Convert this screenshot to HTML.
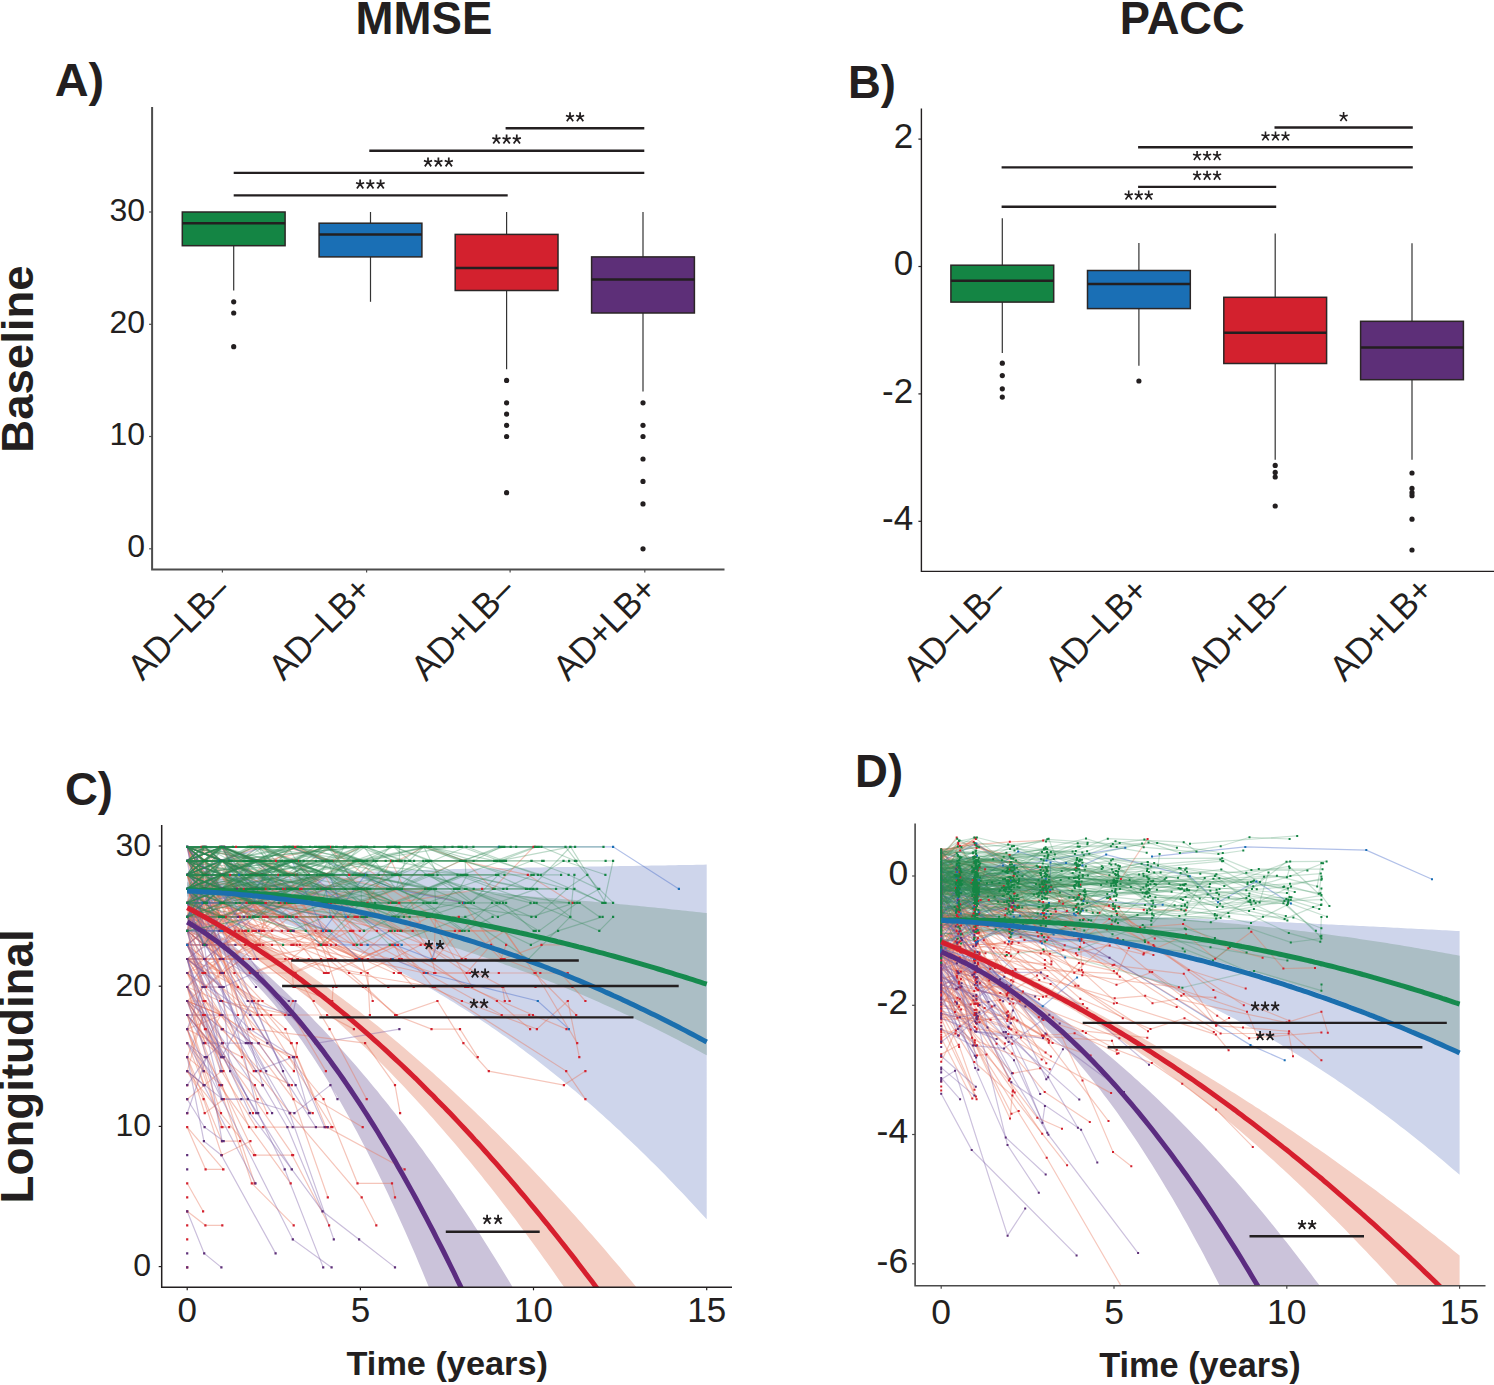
<!DOCTYPE html>
<html><head><meta charset="utf-8"><style>
html,body{margin:0;padding:0;background:#fff;overflow:hidden;}
svg{display:block;font-family:"Liberation Sans", sans-serif;}
</style></head><body>
<svg width="1494" height="1385" viewBox="0 0 1494 1385">
<defs>
<clipPath id="clipC"><rect x="162" y="800" width="570" height="487"/></clipPath>
<clipPath id="clipD"><rect x="916" y="800" width="569" height="485"/></clipPath>
</defs>
<rect width="1494" height="1385" fill="#ffffff"/>
<line x1="233.7" y1="212.0" x2="233.7" y2="212.0" stroke="#333" stroke-width="1.2"/><line x1="233.7" y1="245.7" x2="233.7" y2="290.6" stroke="#333" stroke-width="1.2"/><rect x="182.3" y="212.0" width="102.8" height="33.7" fill="#148544" stroke="#2b2626" stroke-width="1.5"/><line x1="182.3" y1="223.2" x2="285.1" y2="223.2" stroke="#231f20" stroke-width="2.5"/><circle cx="233.7" cy="301.8" r="2.6" fill="#231f20"/><circle cx="233.7" cy="313.0" r="2.6" fill="#231f20"/><circle cx="233.7" cy="346.7" r="2.6" fill="#231f20"/><line x1="370.5" y1="212.0" x2="370.5" y2="223.2" stroke="#333" stroke-width="1.2"/><line x1="370.5" y1="256.9" x2="370.5" y2="301.8" stroke="#333" stroke-width="1.2"/><rect x="319.1" y="223.2" width="102.8" height="33.7" fill="#1a6fb5" stroke="#2b2626" stroke-width="1.5"/><line x1="319.1" y1="234.4" x2="421.9" y2="234.4" stroke="#231f20" stroke-width="2.5"/><line x1="506.6" y1="212.0" x2="506.6" y2="234.4" stroke="#333" stroke-width="1.2"/><line x1="506.6" y1="290.6" x2="506.6" y2="369.2" stroke="#333" stroke-width="1.2"/><rect x="455.2" y="234.4" width="102.8" height="56.1" fill="#d3212e" stroke="#2b2626" stroke-width="1.5"/><line x1="455.2" y1="268.1" x2="558.0" y2="268.1" stroke="#231f20" stroke-width="2.5"/><circle cx="506.6" cy="380.4" r="2.6" fill="#231f20"/><circle cx="506.6" cy="402.8" r="2.6" fill="#231f20"/><circle cx="506.6" cy="414.1" r="2.6" fill="#231f20"/><circle cx="506.6" cy="425.3" r="2.6" fill="#231f20"/><circle cx="506.6" cy="436.5" r="2.6" fill="#231f20"/><circle cx="506.6" cy="492.7" r="2.6" fill="#231f20"/><line x1="643.0" y1="212.0" x2="643.0" y2="256.9" stroke="#333" stroke-width="1.2"/><line x1="643.0" y1="313.0" x2="643.0" y2="391.6" stroke="#333" stroke-width="1.2"/><rect x="591.6" y="256.9" width="102.8" height="56.1" fill="#5d2f78" stroke="#2b2626" stroke-width="1.5"/><line x1="591.6" y1="279.4" x2="694.4" y2="279.4" stroke="#231f20" stroke-width="2.5"/><circle cx="643.0" cy="402.8" r="2.6" fill="#231f20"/><circle cx="643.0" cy="425.3" r="2.6" fill="#231f20"/><circle cx="643.0" cy="436.5" r="2.6" fill="#231f20"/><circle cx="643.0" cy="459.0" r="2.6" fill="#231f20"/><circle cx="643.0" cy="481.4" r="2.6" fill="#231f20"/><circle cx="643.0" cy="503.9" r="2.6" fill="#231f20"/><circle cx="643.0" cy="548.8" r="2.6" fill="#231f20"/><line x1="505.6" y1="128.3" x2="644.3" y2="128.3" stroke="#231f20" stroke-width="2.4"/><line x1="369.3" y1="150.7" x2="644.3" y2="150.7" stroke="#231f20" stroke-width="2.4"/><line x1="233.7" y1="172.9" x2="644.3" y2="172.9" stroke="#231f20" stroke-width="2.4"/><line x1="233.7" y1="195.4" x2="507.7" y2="195.4" stroke="#231f20" stroke-width="2.4"/><line x1="1002.3" y1="218.3" x2="1002.3" y2="265.2" stroke="#333" stroke-width="1.2"/><line x1="1002.3" y1="302.1" x2="1002.3" y2="353.1" stroke="#333" stroke-width="1.2"/><rect x="950.9" y="265.2" width="102.8" height="36.9" fill="#148544" stroke="#2b2626" stroke-width="1.5"/><line x1="950.9" y1="280.8" x2="1053.7" y2="280.8" stroke="#231f20" stroke-width="2.5"/><circle cx="1002.3" cy="363.2" r="2.6" fill="#231f20"/><circle cx="1002.3" cy="375.6" r="2.6" fill="#231f20"/><circle cx="1002.3" cy="388.8" r="2.6" fill="#231f20"/><circle cx="1002.3" cy="397.1" r="2.6" fill="#231f20"/><line x1="1138.9" y1="243.1" x2="1138.9" y2="270.5" stroke="#333" stroke-width="1.2"/><line x1="1138.9" y1="308.6" x2="1138.9" y2="365.8" stroke="#333" stroke-width="1.2"/><rect x="1087.5" y="270.5" width="102.8" height="38.1" fill="#1a6fb5" stroke="#2b2626" stroke-width="1.5"/><line x1="1087.5" y1="283.9" x2="1190.3" y2="283.9" stroke="#231f20" stroke-width="2.5"/><circle cx="1138.9" cy="381.0" r="2.6" fill="#231f20"/><line x1="1275.2" y1="233.5" x2="1275.2" y2="297.3" stroke="#333" stroke-width="1.2"/><line x1="1275.2" y1="363.5" x2="1275.2" y2="459.8" stroke="#333" stroke-width="1.2"/><rect x="1223.8" y="297.3" width="102.8" height="66.2" fill="#d3212e" stroke="#2b2626" stroke-width="1.5"/><line x1="1223.8" y1="332.7" x2="1326.6" y2="332.7" stroke="#231f20" stroke-width="2.5"/><circle cx="1275.2" cy="465.4" r="2.6" fill="#231f20"/><circle cx="1275.2" cy="472.4" r="2.6" fill="#231f20"/><circle cx="1275.2" cy="477.0" r="2.6" fill="#231f20"/><circle cx="1275.2" cy="506.0" r="2.6" fill="#231f20"/><line x1="1412.0" y1="243.2" x2="1412.0" y2="321.3" stroke="#333" stroke-width="1.2"/><line x1="1412.0" y1="379.7" x2="1412.0" y2="459.8" stroke="#333" stroke-width="1.2"/><rect x="1360.6" y="321.3" width="102.8" height="58.4" fill="#5d2f78" stroke="#2b2626" stroke-width="1.5"/><line x1="1360.6" y1="347.6" x2="1463.4" y2="347.6" stroke="#231f20" stroke-width="2.5"/><circle cx="1412.0" cy="473.0" r="2.6" fill="#231f20"/><circle cx="1412.0" cy="488.4" r="2.6" fill="#231f20"/><circle cx="1412.0" cy="492.7" r="2.6" fill="#231f20"/><circle cx="1412.0" cy="495.7" r="2.6" fill="#231f20"/><circle cx="1412.0" cy="519.2" r="2.6" fill="#231f20"/><circle cx="1412.0" cy="550.0" r="2.6" fill="#231f20"/><line x1="1274.5" y1="127.5" x2="1412.8" y2="127.5" stroke="#231f20" stroke-width="2.4"/><line x1="1138.1" y1="147.3" x2="1412.8" y2="147.3" stroke="#231f20" stroke-width="2.4"/><line x1="1001.6" y1="167.4" x2="1412.8" y2="167.4" stroke="#231f20" stroke-width="2.4"/><line x1="1138.1" y1="186.9" x2="1276.2" y2="186.9" stroke="#231f20" stroke-width="2.4"/><line x1="1001.6" y1="206.8" x2="1276.2" y2="206.8" stroke="#231f20" stroke-width="2.4"/>
<path d="M187.2 878.0 L190.7 878.2 L194.1 878.3 L197.6 878.3 L201.1 878.4 L204.5 878.4 L208.0 878.4 L211.4 878.4 L214.9 878.3 L218.4 878.3 L221.8 878.2 L225.3 878.1 L228.8 878.0 L232.2 877.9 L235.7 877.8 L239.1 877.6 L242.6 877.5 L246.1 877.3 L249.5 877.2 L253.0 877.0 L256.5 876.8 L259.9 876.7 L263.4 876.5 L266.8 876.3 L270.3 876.1 L273.8 875.9 L277.2 875.8 L280.7 875.6 L284.2 875.4 L287.6 875.2 L291.1 875.0 L294.6 874.9 L298.0 874.7 L301.5 874.5 L304.9 874.3 L308.4 874.2 L311.9 874.0 L315.3 873.8 L318.8 873.7 L322.3 873.5 L325.7 873.3 L329.2 873.2 L332.6 873.0 L336.1 872.9 L339.6 872.7 L343.0 872.6 L346.5 872.4 L350.0 872.3 L353.4 872.2 L356.9 872.0 L360.4 871.9 L363.8 871.8 L367.3 871.6 L370.7 871.5 L374.2 871.4 L377.7 871.3 L381.1 871.1 L384.6 871.0 L388.1 870.9 L391.5 870.8 L395.0 870.7 L398.4 870.6 L401.9 870.5 L405.4 870.4 L408.8 870.3 L412.3 870.2 L415.8 870.1 L419.2 870.0 L422.7 869.9 L426.1 869.8 L429.6 869.7 L433.1 869.6 L436.5 869.5 L440.0 869.4 L443.5 869.3 L446.9 869.2 L450.4 869.2 L453.9 869.1 L457.3 869.0 L460.8 868.9 L464.2 868.8 L467.7 868.8 L471.2 868.7 L474.6 868.6 L478.1 868.6 L481.6 868.5 L485.0 868.4 L488.5 868.3 L491.9 868.3 L495.4 868.2 L498.9 868.1 L502.3 868.1 L505.8 868.0 L509.3 867.9 L512.7 867.9 L516.2 867.8 L519.6 867.8 L523.1 867.7 L526.6 867.6 L530.0 867.6 L533.5 867.5 L537.0 867.5 L540.4 867.4 L543.9 867.3 L547.4 867.3 L550.8 867.2 L554.3 867.2 L557.7 867.1 L561.2 867.1 L564.7 867.0 L568.1 866.9 L571.6 866.9 L575.1 866.8 L578.5 866.8 L582.0 866.7 L585.4 866.7 L588.9 866.6 L592.4 866.6 L595.8 866.5 L599.3 866.4 L602.8 866.4 L606.2 866.3 L609.7 866.3 L613.1 866.2 L616.6 866.2 L620.1 866.1 L623.5 866.1 L627.0 866.0 L630.5 865.9 L633.9 865.9 L637.4 865.8 L640.9 865.8 L644.3 865.7 L647.8 865.7 L651.2 865.6 L654.7 865.5 L658.2 865.5 L661.6 865.4 L665.1 865.4 L668.6 865.3 L672.0 865.2 L675.5 865.2 L678.9 865.1 L682.4 865.1 L685.9 865.0 L689.3 864.9 L692.8 864.9 L696.3 864.8 L699.7 864.8 L703.2 864.7 L706.7 864.6 L706.7 1219.3 L703.2 1215.5 L699.7 1211.7 L696.3 1207.9 L692.8 1204.2 L689.3 1200.5 L685.9 1196.8 L682.4 1193.1 L678.9 1189.5 L675.5 1185.9 L672.0 1182.3 L668.6 1178.7 L665.1 1175.1 L661.6 1171.6 L658.2 1168.1 L654.7 1164.6 L651.2 1161.2 L647.8 1157.7 L644.3 1154.3 L640.9 1151.0 L637.4 1147.6 L633.9 1144.3 L630.5 1140.9 L627.0 1137.7 L623.5 1134.4 L620.1 1131.1 L616.6 1127.9 L613.1 1124.7 L609.7 1121.6 L606.2 1118.4 L602.8 1115.3 L599.3 1112.2 L595.8 1109.1 L592.4 1106.0 L588.9 1103.0 L585.4 1100.0 L582.0 1097.0 L578.5 1094.0 L575.1 1091.1 L571.6 1088.2 L568.1 1085.3 L564.7 1082.4 L561.2 1079.6 L557.7 1076.8 L554.3 1074.0 L550.8 1071.2 L547.4 1068.4 L543.9 1065.7 L540.4 1063.0 L537.0 1060.3 L533.5 1057.6 L530.0 1055.0 L526.6 1052.4 L523.1 1049.8 L519.6 1047.2 L516.2 1044.6 L512.7 1042.1 L509.3 1039.6 L505.8 1037.1 L502.3 1034.7 L498.9 1032.2 L495.4 1029.8 L491.9 1027.4 L488.5 1025.0 L485.0 1022.7 L481.6 1020.4 L478.1 1018.1 L474.6 1015.8 L471.2 1013.5 L467.7 1011.3 L464.2 1009.1 L460.8 1006.9 L457.3 1004.7 L453.9 1002.6 L450.4 1000.4 L446.9 998.3 L443.5 996.2 L440.0 994.2 L436.5 992.1 L433.1 990.1 L429.6 988.1 L426.1 986.1 L422.7 984.2 L419.2 982.3 L415.8 980.3 L412.3 978.5 L408.8 976.6 L405.4 974.7 L401.9 972.9 L398.4 971.1 L395.0 969.3 L391.5 967.6 L388.1 965.8 L384.6 964.1 L381.1 962.4 L377.7 960.7 L374.2 959.1 L370.7 957.4 L367.3 955.8 L363.8 954.2 L360.4 952.6 L356.9 951.1 L353.4 949.6 L350.0 948.0 L346.5 946.6 L343.0 945.1 L339.6 943.6 L336.1 942.2 L332.6 940.8 L329.2 939.4 L325.7 938.0 L322.3 936.7 L318.8 935.4 L315.3 934.1 L311.9 932.8 L308.4 931.5 L304.9 930.3 L301.5 929.1 L298.0 927.9 L294.6 926.7 L291.1 925.5 L287.6 924.4 L284.2 923.3 L280.7 922.2 L277.2 921.1 L273.8 920.1 L270.3 919.1 L266.8 918.1 L263.4 917.1 L259.9 916.2 L256.5 915.3 L253.0 914.4 L249.5 913.5 L246.1 912.7 L242.6 911.9 L239.1 911.1 L235.7 910.4 L232.2 909.6 L228.8 909.0 L225.3 908.3 L221.8 907.7 L218.4 907.2 L214.9 906.6 L211.4 906.2 L208.0 905.7 L204.5 905.3 L201.1 905.0 L197.6 904.7 L194.1 904.4 L190.7 904.2 L187.2 904.1Z" fill="#ced5eb" clip-path="url(#clipC)"/><path d="M187.2 882.3 L190.7 882.4 L194.1 882.5 L197.6 882.7 L201.1 882.8 L204.5 882.9 L208.0 883.0 L211.4 883.1 L214.9 883.2 L218.4 883.2 L221.8 883.3 L225.3 883.4 L228.8 883.5 L232.2 883.6 L235.7 883.6 L239.1 883.7 L242.6 883.8 L246.1 883.8 L249.5 883.9 L253.0 883.9 L256.5 884.0 L259.9 884.1 L263.4 884.1 L266.8 884.2 L270.3 884.3 L273.8 884.3 L277.2 884.4 L280.7 884.5 L284.2 884.5 L287.6 884.6 L291.1 884.7 L294.6 884.7 L298.0 884.8 L301.5 884.9 L304.9 885.0 L308.4 885.1 L311.9 885.1 L315.3 885.2 L318.8 885.3 L322.3 885.4 L325.7 885.5 L329.2 885.6 L332.6 885.7 L336.1 885.8 L339.6 885.9 L343.0 886.0 L346.5 886.2 L350.0 886.3 L353.4 886.4 L356.9 886.5 L360.4 886.6 L363.8 886.8 L367.3 886.9 L370.7 887.0 L374.2 887.2 L377.7 887.3 L381.1 887.5 L384.6 887.6 L388.1 887.8 L391.5 887.9 L395.0 888.1 L398.4 888.2 L401.9 888.4 L405.4 888.5 L408.8 888.7 L412.3 888.9 L415.8 889.1 L419.2 889.2 L422.7 889.4 L426.1 889.6 L429.6 889.8 L433.1 890.0 L436.5 890.2 L440.0 890.4 L443.5 890.6 L446.9 890.8 L450.4 891.0 L453.9 891.2 L457.3 891.4 L460.8 891.6 L464.2 891.8 L467.7 892.0 L471.2 892.2 L474.6 892.5 L478.1 892.7 L481.6 892.9 L485.0 893.2 L488.5 893.4 L491.9 893.6 L495.4 893.9 L498.9 894.1 L502.3 894.3 L505.8 894.6 L509.3 894.8 L512.7 895.1 L516.2 895.4 L519.6 895.6 L523.1 895.9 L526.6 896.1 L530.0 896.4 L533.5 896.7 L537.0 896.9 L540.4 897.2 L543.9 897.5 L547.4 897.8 L550.8 898.0 L554.3 898.3 L557.7 898.6 L561.2 898.9 L564.7 899.2 L568.1 899.5 L571.6 899.8 L575.1 900.1 L578.5 900.4 L582.0 900.7 L585.4 901.0 L588.9 901.3 L592.4 901.6 L595.8 901.9 L599.3 902.2 L602.8 902.5 L606.2 902.9 L609.7 903.2 L613.1 903.5 L616.6 903.8 L620.1 904.2 L623.5 904.5 L627.0 904.8 L630.5 905.2 L633.9 905.5 L637.4 905.8 L640.9 906.2 L644.3 906.5 L647.8 906.9 L651.2 907.2 L654.7 907.6 L658.2 907.9 L661.6 908.3 L665.1 908.6 L668.6 909.0 L672.0 909.4 L675.5 909.7 L678.9 910.1 L682.4 910.5 L685.9 910.8 L689.3 911.2 L692.8 911.6 L696.3 911.9 L699.7 912.3 L703.2 912.7 L706.7 913.1 L706.7 1055.3 L703.2 1053.4 L699.7 1051.5 L696.3 1049.7 L692.8 1047.8 L689.3 1046.0 L685.9 1044.2 L682.4 1042.4 L678.9 1040.6 L675.5 1038.8 L672.0 1037.0 L668.6 1035.3 L665.1 1033.5 L661.6 1031.8 L658.2 1030.0 L654.7 1028.3 L651.2 1026.6 L647.8 1024.9 L644.3 1023.2 L640.9 1021.6 L637.4 1019.9 L633.9 1018.3 L630.5 1016.6 L627.0 1015.0 L623.5 1013.4 L620.1 1011.8 L616.6 1010.2 L613.1 1008.6 L609.7 1007.0 L606.2 1005.4 L602.8 1003.9 L599.3 1002.3 L595.8 1000.8 L592.4 999.3 L588.9 997.8 L585.4 996.3 L582.0 994.8 L578.5 993.3 L575.1 991.9 L571.6 990.4 L568.1 989.0 L564.7 987.5 L561.2 986.1 L557.7 984.7 L554.3 983.3 L550.8 981.9 L547.4 980.6 L543.9 979.2 L540.4 977.8 L537.0 976.5 L533.5 975.2 L530.0 973.8 L526.6 972.5 L523.1 971.2 L519.6 969.9 L516.2 968.6 L512.7 967.4 L509.3 966.1 L505.8 964.9 L502.3 963.6 L498.9 962.4 L495.4 961.2 L491.9 960.0 L488.5 958.8 L485.0 957.6 L481.6 956.4 L478.1 955.3 L474.6 954.1 L471.2 953.0 L467.7 951.9 L464.2 950.7 L460.8 949.6 L457.3 948.5 L453.9 947.5 L450.4 946.4 L446.9 945.3 L443.5 944.3 L440.0 943.2 L436.5 942.2 L433.1 941.1 L429.6 940.1 L426.1 939.1 L422.7 938.1 L419.2 937.2 L415.8 936.2 L412.3 935.2 L408.8 934.3 L405.4 933.3 L401.9 932.4 L398.4 931.5 L395.0 930.6 L391.5 929.7 L388.1 928.8 L384.6 927.9 L381.1 927.0 L377.7 926.2 L374.2 925.3 L370.7 924.5 L367.3 923.6 L363.8 922.8 L360.4 922.0 L356.9 921.2 L353.4 920.4 L350.0 919.7 L346.5 918.9 L343.0 918.1 L339.6 917.4 L336.1 916.7 L332.6 915.9 L329.2 915.2 L325.7 914.5 L322.3 913.8 L318.8 913.1 L315.3 912.5 L311.9 911.8 L308.4 911.2 L304.9 910.5 L301.5 909.9 L298.0 909.3 L294.6 908.7 L291.1 908.1 L287.6 907.5 L284.2 906.9 L280.7 906.3 L277.2 905.8 L273.8 905.3 L270.3 904.7 L266.8 904.2 L263.4 903.7 L259.9 903.2 L256.5 902.8 L253.0 902.3 L249.5 901.9 L246.1 901.4 L242.6 901.0 L239.1 900.6 L235.7 900.2 L232.2 899.8 L228.8 899.5 L225.3 899.1 L221.8 898.8 L218.4 898.5 L214.9 898.2 L211.4 898.0 L208.0 897.7 L204.5 897.5 L201.1 897.2 L197.6 897.0 L194.1 896.9 L190.7 896.7 L187.2 896.6Z" fill="#abbec5" clip-path="url(#clipC)"/><path d="M187.2 900.7 L190.7 902.5 L194.1 904.4 L197.6 906.2 L201.1 908.1 L204.5 909.9 L208.0 911.8 L211.4 913.7 L214.9 915.7 L218.4 917.6 L221.8 919.5 L225.3 921.5 L228.8 923.5 L232.2 925.5 L235.7 927.5 L239.1 929.6 L242.6 931.6 L246.1 933.7 L249.5 935.8 L253.0 937.9 L256.5 940.0 L259.9 942.2 L263.4 944.3 L266.8 946.5 L270.3 948.7 L273.8 950.9 L277.2 953.1 L280.7 955.4 L284.2 957.6 L287.6 959.9 L291.1 962.2 L294.6 964.6 L298.0 966.9 L301.5 969.3 L304.9 971.6 L308.4 974.0 L311.9 976.5 L315.3 978.9 L318.8 981.4 L322.3 983.8 L325.7 986.3 L329.2 988.8 L332.6 991.4 L336.1 993.9 L339.6 996.5 L343.0 999.1 L346.5 1001.7 L350.0 1004.3 L353.4 1007.0 L356.9 1009.6 L360.4 1012.3 L363.8 1015.0 L367.3 1017.7 L370.7 1020.5 L374.2 1023.2 L377.7 1026.0 L381.1 1028.8 L384.6 1031.6 L388.1 1034.5 L391.5 1037.3 L395.0 1040.2 L398.4 1043.1 L401.9 1046.0 L405.4 1048.9 L408.8 1051.9 L412.3 1054.9 L415.8 1057.9 L419.2 1060.9 L422.7 1063.9 L426.1 1066.9 L429.6 1070.0 L433.1 1073.1 L436.5 1076.2 L440.0 1079.3 L443.5 1082.5 L446.9 1085.6 L450.4 1088.8 L453.9 1092.0 L457.3 1095.2 L460.8 1098.4 L464.2 1101.7 L467.7 1105.0 L471.2 1108.3 L474.6 1111.6 L478.1 1114.9 L481.6 1118.3 L485.0 1121.6 L488.5 1125.0 L491.9 1128.4 L495.4 1131.8 L498.9 1135.3 L502.3 1138.7 L505.8 1142.2 L509.3 1145.7 L512.7 1149.2 L516.2 1152.8 L519.6 1156.3 L523.1 1159.9 L526.6 1163.5 L530.0 1167.1 L533.5 1170.8 L537.0 1174.4 L540.4 1178.1 L543.9 1181.8 L547.4 1185.5 L550.8 1189.2 L554.3 1192.9 L557.7 1196.7 L561.2 1200.5 L564.7 1204.3 L568.1 1208.1 L571.6 1211.9 L575.1 1215.8 L578.5 1219.7 L582.0 1223.6 L585.4 1227.5 L588.9 1231.4 L592.4 1235.3 L595.8 1239.3 L599.3 1243.3 L602.8 1247.3 L606.2 1251.3 L609.7 1255.4 L613.1 1259.4 L616.6 1263.5 L620.1 1267.6 L623.5 1271.7 L627.0 1275.9 L630.5 1280.0 L633.9 1284.2 L637.4 1288.4 L640.9 1292.6 L644.3 1296.8 L647.8 1301.1 L651.2 1305.3 L654.7 1309.6 L658.2 1313.9 L661.6 1318.3 L665.1 1322.6 L668.6 1327.0 L672.0 1331.3 L675.5 1335.7 L678.9 1340.1 L682.4 1344.6 L685.9 1349.0 L689.3 1353.5 L692.8 1358.0 L696.3 1362.5 L699.7 1367.0 L703.2 1371.6 L706.7 1376.1 L706.7 1517.7 L703.2 1511.5 L699.7 1505.3 L696.3 1499.2 L692.8 1493.1 L689.3 1487.0 L685.9 1481.0 L682.4 1474.9 L678.9 1469.0 L675.5 1463.0 L672.0 1457.1 L668.6 1451.2 L665.1 1445.3 L661.6 1439.5 L658.2 1433.7 L654.7 1427.9 L651.2 1422.1 L647.8 1416.4 L644.3 1410.7 L640.9 1405.1 L637.4 1399.4 L633.9 1393.8 L630.5 1388.3 L627.0 1382.7 L623.5 1377.2 L620.1 1371.7 L616.6 1366.2 L613.1 1360.8 L609.7 1355.4 L606.2 1350.0 L602.8 1344.7 L599.3 1339.4 L595.8 1334.1 L592.4 1328.9 L588.9 1323.6 L585.4 1318.4 L582.0 1313.3 L578.5 1308.1 L575.1 1303.0 L571.6 1297.9 L568.1 1292.9 L564.7 1287.9 L561.2 1282.9 L557.7 1277.9 L554.3 1273.0 L550.8 1268.1 L547.4 1263.2 L543.9 1258.4 L540.4 1253.5 L537.0 1248.7 L533.5 1244.0 L530.0 1239.3 L526.6 1234.6 L523.1 1229.9 L519.6 1225.2 L516.2 1220.6 L512.7 1216.0 L509.3 1211.5 L505.8 1207.0 L502.3 1202.5 L498.9 1198.0 L495.4 1193.6 L491.9 1189.1 L488.5 1184.8 L485.0 1180.4 L481.6 1176.1 L478.1 1171.8 L474.6 1167.5 L471.2 1163.3 L467.7 1159.1 L464.2 1154.9 L460.8 1150.7 L457.3 1146.6 L453.9 1142.5 L450.4 1138.5 L446.9 1134.4 L443.5 1130.4 L440.0 1126.5 L436.5 1122.5 L433.1 1118.6 L429.6 1114.7 L426.1 1110.8 L422.7 1107.0 L419.2 1103.2 L415.8 1099.4 L412.3 1095.7 L408.8 1092.0 L405.4 1088.3 L401.9 1084.6 L398.4 1081.0 L395.0 1077.4 L391.5 1073.8 L388.1 1070.3 L384.6 1066.7 L381.1 1063.3 L377.7 1059.8 L374.2 1056.4 L370.7 1053.0 L367.3 1049.6 L363.8 1046.3 L360.4 1042.9 L356.9 1039.7 L353.4 1036.4 L350.0 1033.2 L346.5 1030.0 L343.0 1026.8 L339.6 1023.7 L336.1 1020.5 L332.6 1017.5 L329.2 1014.4 L325.7 1011.4 L322.3 1008.4 L318.8 1005.4 L315.3 1002.5 L311.9 999.6 L308.4 996.7 L304.9 993.8 L301.5 991.0 L298.0 988.2 L294.6 985.4 L291.1 982.7 L287.6 980.0 L284.2 977.3 L280.7 974.7 L277.2 972.0 L273.8 969.5 L270.3 966.9 L266.8 964.4 L263.4 961.9 L259.9 959.4 L256.5 956.9 L253.0 954.5 L249.5 952.2 L246.1 949.8 L242.6 947.5 L239.1 945.2 L235.7 942.9 L232.2 940.7 L228.8 938.5 L225.3 936.3 L221.8 934.2 L218.4 932.1 L214.9 930.0 L211.4 928.0 L208.0 926.0 L204.5 924.0 L201.1 922.1 L197.6 920.1 L194.1 918.3 L190.7 916.4 L187.2 914.6Z" fill="#f4cfc4" clip-path="url(#clipC)"/><path d="M187.2 913.7 L190.7 915.7 L194.1 917.8 L197.6 920.0 L201.1 922.2 L204.5 924.5 L208.0 926.8 L211.4 929.2 L214.9 931.7 L218.4 934.2 L221.8 936.8 L225.3 939.4 L228.8 942.1 L232.2 944.9 L235.7 947.6 L239.1 950.5 L242.6 953.3 L246.1 956.3 L249.5 959.2 L253.0 962.2 L256.5 965.2 L259.9 968.3 L263.4 971.4 L266.8 974.5 L270.3 977.6 L273.8 980.8 L277.2 984.0 L280.7 987.3 L284.2 990.5 L287.6 993.8 L291.1 997.2 L294.6 1000.5 L298.0 1003.9 L301.5 1007.3 L304.9 1010.8 L308.4 1014.3 L311.9 1017.8 L315.3 1021.4 L318.8 1024.9 L322.3 1028.6 L325.7 1032.2 L329.2 1035.9 L332.6 1039.7 L336.1 1043.4 L339.6 1047.2 L343.0 1051.1 L346.5 1055.0 L350.0 1058.9 L353.4 1062.8 L356.9 1066.8 L360.4 1070.9 L363.8 1074.9 L367.3 1079.1 L370.7 1083.2 L374.2 1087.4 L377.7 1091.6 L381.1 1095.9 L384.6 1100.2 L388.1 1104.5 L391.5 1108.9 L395.0 1113.3 L398.4 1117.8 L401.9 1122.3 L405.4 1126.8 L408.8 1131.4 L412.3 1136.0 L415.8 1140.7 L419.2 1145.4 L422.7 1150.1 L426.1 1154.9 L429.6 1159.7 L433.1 1164.6 L436.5 1169.5 L440.0 1174.4 L443.5 1179.4 L446.9 1184.4 L450.4 1189.4 L453.9 1194.5 L457.3 1199.7 L460.8 1204.9 L464.2 1210.1 L467.7 1215.3 L471.2 1220.6 L474.6 1226.0 L478.1 1231.3 L481.6 1236.8 L485.0 1242.2 L488.5 1247.7 L491.9 1253.3 L495.4 1258.8 L498.9 1264.5 L502.3 1270.1 L505.8 1275.8 L509.3 1281.6 L512.7 1287.3 L516.2 1293.2 L519.6 1299.0 L523.1 1304.9 L526.6 1310.9 L530.0 1316.9 L533.5 1322.9 L537.0 1328.9 L540.4 1335.0 L543.9 1341.2 L547.4 1347.4 L550.8 1353.6 L554.3 1359.9 L557.7 1366.2 L561.2 1372.5 L564.7 1378.9 L568.1 1385.3 L571.6 1391.8 L575.1 1398.3 L578.5 1404.8 L582.0 1411.4 L585.4 1418.1 L588.9 1424.7 L592.4 1431.4 L595.8 1438.2 L599.3 1445.0 L602.8 1451.8 L606.2 1458.7 L609.7 1465.6 L613.1 1472.5 L616.6 1479.5 L620.1 1486.6 L623.5 1493.6 L627.0 1500.8 L630.5 1507.9 L633.9 1515.1 L637.4 1522.3 L640.9 1529.6 L644.3 1536.9 L647.8 1544.3 L651.2 1551.7 L654.7 1559.1 L658.2 1566.6 L661.6 1574.1 L665.1 1581.7 L668.6 1589.3 L672.0 1596.9 L675.5 1604.6 L678.9 1612.3 L682.4 1620.1 L685.9 1627.9 L689.3 1635.7 L692.8 1643.6 L696.3 1651.5 L699.7 1659.5 L703.2 1667.5 L706.7 1675.6 L706.7 2264.4 L703.2 2248.6 L699.7 2232.8 L696.3 2217.1 L692.8 2201.5 L689.3 2186.0 L685.9 2170.6 L682.4 2155.3 L678.9 2140.1 L675.5 2125.0 L672.0 2110.0 L668.6 2095.0 L665.1 2080.2 L661.6 2065.4 L658.2 2050.8 L654.7 2036.2 L651.2 2021.8 L647.8 2007.4 L644.3 1993.1 L640.9 1978.9 L637.4 1964.8 L633.9 1950.8 L630.5 1936.9 L627.0 1923.1 L623.5 1909.3 L620.1 1895.7 L616.6 1882.2 L613.1 1868.7 L609.7 1855.3 L606.2 1842.1 L602.8 1828.9 L599.3 1815.8 L595.8 1802.8 L592.4 1790.0 L588.9 1777.2 L585.4 1764.5 L582.0 1751.8 L578.5 1739.3 L575.1 1726.9 L571.6 1714.6 L568.1 1702.3 L564.7 1690.2 L561.2 1678.1 L557.7 1666.2 L554.3 1654.3 L550.8 1642.5 L547.4 1630.8 L543.9 1619.2 L540.4 1607.7 L537.0 1596.3 L533.5 1585.0 L530.0 1573.8 L526.6 1562.7 L523.1 1551.6 L519.6 1540.7 L516.2 1529.9 L512.7 1519.1 L509.3 1508.4 L505.8 1497.9 L502.3 1487.4 L498.9 1477.0 L495.4 1466.7 L491.9 1456.5 L488.5 1446.4 L485.0 1436.4 L481.6 1426.5 L478.1 1416.7 L474.6 1407.0 L471.2 1397.3 L467.7 1387.8 L464.2 1378.3 L460.8 1369.0 L457.3 1359.7 L453.9 1350.5 L450.4 1341.5 L446.9 1332.5 L443.5 1323.6 L440.0 1314.8 L436.5 1306.1 L433.1 1297.5 L429.6 1289.0 L426.1 1280.5 L422.7 1272.2 L419.2 1264.0 L415.8 1255.8 L412.3 1247.8 L408.8 1239.8 L405.4 1232.0 L401.9 1224.2 L398.4 1216.5 L395.0 1209.0 L391.5 1201.5 L388.1 1194.1 L384.6 1186.8 L381.1 1179.6 L377.7 1172.5 L374.2 1165.5 L370.7 1158.5 L367.3 1151.7 L363.8 1145.0 L360.4 1138.4 L356.9 1131.8 L353.4 1125.4 L350.0 1119.0 L346.5 1112.8 L343.0 1106.6 L339.6 1100.5 L336.1 1094.6 L332.6 1088.7 L329.2 1082.9 L325.7 1077.3 L322.3 1071.7 L318.8 1066.2 L315.3 1060.8 L311.9 1055.5 L308.4 1050.4 L304.9 1045.3 L301.5 1040.3 L298.0 1035.4 L294.6 1030.6 L291.1 1026.0 L287.6 1021.4 L284.2 1016.9 L280.7 1012.5 L277.2 1008.3 L273.8 1004.1 L270.3 1000.1 L266.8 996.1 L263.4 992.2 L259.9 988.5 L256.5 984.8 L253.0 981.3 L249.5 977.8 L246.1 974.5 L242.6 971.2 L239.1 968.1 L235.7 965.0 L232.2 962.0 L228.8 959.1 L225.3 956.3 L221.8 953.6 L218.4 950.9 L214.9 948.4 L211.4 945.8 L208.0 943.4 L204.5 941.1 L201.1 938.8 L197.6 936.6 L194.1 934.4 L190.7 932.3 L187.2 930.3Z" fill="#cbc3da" clip-path="url(#clipC)"/><path d="M941.2 912.5 L944.7 912.7 L948.1 912.9 L951.6 913.0 L955.0 913.1 L958.5 913.3 L961.9 913.4 L965.4 913.5 L968.8 913.6 L972.3 913.7 L975.8 913.7 L979.2 913.8 L982.7 913.9 L986.1 913.9 L989.6 914.0 L993.0 914.0 L996.5 914.1 L1000.0 914.1 L1003.4 914.2 L1006.9 914.2 L1010.3 914.3 L1013.8 914.3 L1017.2 914.3 L1020.7 914.4 L1024.1 914.4 L1027.6 914.4 L1031.1 914.5 L1034.5 914.5 L1038.0 914.6 L1041.4 914.6 L1044.9 914.7 L1048.3 914.7 L1051.8 914.7 L1055.2 914.8 L1058.7 914.9 L1062.2 914.9 L1065.6 915.0 L1069.1 915.0 L1072.5 915.1 L1076.0 915.1 L1079.4 915.2 L1082.9 915.3 L1086.4 915.4 L1089.8 915.4 L1093.3 915.5 L1096.7 915.6 L1100.2 915.7 L1103.6 915.7 L1107.1 915.8 L1110.5 915.9 L1114.0 916.0 L1117.5 916.1 L1120.9 916.2 L1124.4 916.3 L1127.8 916.4 L1131.3 916.5 L1134.7 916.6 L1138.2 916.7 L1141.6 916.8 L1145.1 916.9 L1148.6 917.0 L1152.0 917.1 L1155.5 917.2 L1158.9 917.3 L1162.4 917.4 L1165.8 917.6 L1169.3 917.7 L1172.8 917.8 L1176.2 917.9 L1179.7 918.0 L1183.1 918.2 L1186.6 918.3 L1190.0 918.4 L1193.5 918.5 L1196.9 918.7 L1200.4 918.8 L1203.9 918.9 L1207.3 919.1 L1210.8 919.2 L1214.2 919.3 L1217.7 919.5 L1221.1 919.6 L1224.6 919.8 L1228.0 919.9 L1231.5 920.0 L1235.0 920.2 L1238.4 920.3 L1241.9 920.5 L1245.3 920.6 L1248.8 920.8 L1252.2 920.9 L1255.7 921.1 L1259.2 921.2 L1262.6 921.4 L1266.1 921.5 L1269.5 921.7 L1273.0 921.8 L1276.4 922.0 L1279.9 922.1 L1283.3 922.3 L1286.8 922.5 L1290.3 922.6 L1293.7 922.8 L1297.2 922.9 L1300.6 923.1 L1304.1 923.3 L1307.5 923.4 L1311.0 923.6 L1314.4 923.7 L1317.9 923.9 L1321.4 924.1 L1324.8 924.2 L1328.3 924.4 L1331.7 924.6 L1335.2 924.7 L1338.6 924.9 L1342.1 925.1 L1345.6 925.2 L1349.0 925.4 L1352.5 925.6 L1355.9 925.8 L1359.4 925.9 L1362.8 926.1 L1366.3 926.3 L1369.7 926.4 L1373.2 926.6 L1376.7 926.8 L1380.1 927.0 L1383.6 927.1 L1387.0 927.3 L1390.5 927.5 L1393.9 927.7 L1397.4 927.8 L1400.8 928.0 L1404.3 928.2 L1407.8 928.4 L1411.2 928.5 L1414.7 928.7 L1418.1 928.9 L1421.6 929.1 L1425.0 929.3 L1428.5 929.4 L1432.0 929.6 L1435.4 929.8 L1438.9 930.0 L1442.3 930.2 L1445.8 930.3 L1449.2 930.5 L1452.7 930.7 L1456.1 930.9 L1459.6 931.1 L1459.6 1174.8 L1456.1 1171.8 L1452.7 1168.9 L1449.2 1165.9 L1445.8 1163.0 L1442.3 1160.1 L1438.9 1157.2 L1435.4 1154.3 L1432.0 1151.5 L1428.5 1148.7 L1425.0 1145.8 L1421.6 1143.0 L1418.1 1140.3 L1414.7 1137.5 L1411.2 1134.8 L1407.8 1132.0 L1404.3 1129.3 L1400.8 1126.7 L1397.4 1124.0 L1393.9 1121.3 L1390.5 1118.7 L1387.0 1116.1 L1383.6 1113.5 L1380.1 1110.9 L1376.7 1108.4 L1373.2 1105.8 L1369.7 1103.3 L1366.3 1100.8 L1362.8 1098.3 L1359.4 1095.9 L1355.9 1093.4 L1352.5 1091.0 L1349.0 1088.6 L1345.6 1086.2 L1342.1 1083.8 L1338.6 1081.4 L1335.2 1079.1 L1331.7 1076.8 L1328.3 1074.5 L1324.8 1072.2 L1321.4 1069.9 L1317.9 1067.7 L1314.4 1065.5 L1311.0 1063.2 L1307.5 1061.0 L1304.1 1058.9 L1300.6 1056.7 L1297.2 1054.6 L1293.7 1052.4 L1290.3 1050.3 L1286.8 1048.3 L1283.3 1046.2 L1279.9 1044.1 L1276.4 1042.1 L1273.0 1040.1 L1269.5 1038.1 L1266.1 1036.1 L1262.6 1034.1 L1259.2 1032.2 L1255.7 1030.3 L1252.2 1028.4 L1248.8 1026.5 L1245.3 1024.6 L1241.9 1022.8 L1238.4 1020.9 L1235.0 1019.1 L1231.5 1017.3 L1228.0 1015.5 L1224.6 1013.7 L1221.1 1012.0 L1217.7 1010.3 L1214.2 1008.5 L1210.8 1006.8 L1207.3 1005.2 L1203.9 1003.5 L1200.4 1001.9 L1196.9 1000.2 L1193.5 998.6 L1190.0 997.0 L1186.6 995.5 L1183.1 993.9 L1179.7 992.4 L1176.2 990.8 L1172.8 989.3 L1169.3 987.8 L1165.8 986.4 L1162.4 984.9 L1158.9 983.5 L1155.5 982.0 L1152.0 980.6 L1148.6 979.2 L1145.1 977.9 L1141.6 976.5 L1138.2 975.2 L1134.7 973.9 L1131.3 972.6 L1127.8 971.3 L1124.4 970.0 L1120.9 968.8 L1117.5 967.5 L1114.0 966.3 L1110.5 965.1 L1107.1 963.9 L1103.6 962.7 L1100.2 961.6 L1096.7 960.4 L1093.3 959.3 L1089.8 958.2 L1086.4 957.1 L1082.9 956.0 L1079.4 955.0 L1076.0 954.0 L1072.5 952.9 L1069.1 951.9 L1065.6 950.9 L1062.2 950.0 L1058.7 949.0 L1055.2 948.1 L1051.8 947.1 L1048.3 946.2 L1044.9 945.3 L1041.4 944.5 L1038.0 943.6 L1034.5 942.8 L1031.1 941.9 L1027.6 941.1 L1024.1 940.4 L1020.7 939.6 L1017.2 938.8 L1013.8 938.1 L1010.3 937.4 L1006.9 936.7 L1003.4 936.0 L1000.0 935.4 L996.5 934.7 L993.0 934.1 L989.6 933.5 L986.1 933.0 L982.7 932.4 L979.2 931.9 L975.8 931.4 L972.3 930.9 L968.8 930.5 L965.4 930.1 L961.9 929.7 L958.5 929.4 L955.0 929.0 L951.6 928.7 L948.1 928.5 L944.7 928.2 L941.2 928.0Z" fill="#ced5eb" clip-path="url(#clipD)"/><path d="M941.2 915.1 L944.7 915.1 L948.1 915.0 L951.6 914.9 L955.0 914.9 L958.5 914.8 L961.9 914.8 L965.4 914.7 L968.8 914.7 L972.3 914.6 L975.8 914.6 L979.2 914.6 L982.7 914.5 L986.1 914.5 L989.6 914.4 L993.0 914.4 L996.5 914.4 L1000.0 914.3 L1003.4 914.3 L1006.9 914.3 L1010.3 914.3 L1013.8 914.3 L1017.2 914.2 L1020.7 914.2 L1024.1 914.2 L1027.6 914.2 L1031.1 914.2 L1034.5 914.2 L1038.0 914.3 L1041.4 914.3 L1044.9 914.3 L1048.3 914.3 L1051.8 914.4 L1055.2 914.4 L1058.7 914.4 L1062.2 914.5 L1065.6 914.5 L1069.1 914.6 L1072.5 914.7 L1076.0 914.7 L1079.4 914.8 L1082.9 914.9 L1086.4 915.0 L1089.8 915.1 L1093.3 915.2 L1096.7 915.3 L1100.2 915.4 L1103.6 915.5 L1107.1 915.6 L1110.5 915.7 L1114.0 915.8 L1117.5 916.0 L1120.9 916.1 L1124.4 916.3 L1127.8 916.4 L1131.3 916.6 L1134.7 916.7 L1138.2 916.9 L1141.6 917.1 L1145.1 917.3 L1148.6 917.4 L1152.0 917.6 L1155.5 917.8 L1158.9 918.0 L1162.4 918.2 L1165.8 918.4 L1169.3 918.7 L1172.8 918.9 L1176.2 919.1 L1179.7 919.3 L1183.1 919.6 L1186.6 919.8 L1190.0 920.1 L1193.5 920.3 L1196.9 920.6 L1200.4 920.9 L1203.9 921.1 L1207.3 921.4 L1210.8 921.7 L1214.2 922.0 L1217.7 922.3 L1221.1 922.6 L1224.6 922.9 L1228.0 923.2 L1231.5 923.5 L1235.0 923.8 L1238.4 924.1 L1241.9 924.5 L1245.3 924.8 L1248.8 925.2 L1252.2 925.5 L1255.7 925.9 L1259.2 926.2 L1262.6 926.6 L1266.1 926.9 L1269.5 927.3 L1273.0 927.7 L1276.4 928.1 L1279.9 928.5 L1283.3 928.9 L1286.8 929.3 L1290.3 929.7 L1293.7 930.1 L1297.2 930.5 L1300.6 930.9 L1304.1 931.3 L1307.5 931.8 L1311.0 932.2 L1314.4 932.6 L1317.9 933.1 L1321.4 933.5 L1324.8 934.0 L1328.3 934.5 L1331.7 934.9 L1335.2 935.4 L1338.6 935.9 L1342.1 936.4 L1345.6 936.8 L1349.0 937.3 L1352.5 937.8 L1355.9 938.3 L1359.4 938.9 L1362.8 939.4 L1366.3 939.9 L1369.7 940.4 L1373.2 940.9 L1376.7 941.5 L1380.1 942.0 L1383.6 942.6 L1387.0 943.1 L1390.5 943.7 L1393.9 944.2 L1397.4 944.8 L1400.8 945.3 L1404.3 945.9 L1407.8 946.5 L1411.2 947.1 L1414.7 947.7 L1418.1 948.3 L1421.6 948.9 L1425.0 949.5 L1428.5 950.1 L1432.0 950.7 L1435.4 951.3 L1438.9 951.9 L1442.3 952.6 L1445.8 953.2 L1449.2 953.8 L1452.7 954.5 L1456.1 955.1 L1459.6 955.8 L1459.6 1052.5 L1456.1 1050.8 L1452.7 1049.1 L1449.2 1047.5 L1445.8 1045.8 L1442.3 1044.2 L1438.9 1042.5 L1435.4 1040.9 L1432.0 1039.3 L1428.5 1037.7 L1425.0 1036.1 L1421.6 1034.6 L1418.1 1033.0 L1414.7 1031.5 L1411.2 1029.9 L1407.8 1028.4 L1404.3 1026.9 L1400.8 1025.4 L1397.4 1023.9 L1393.9 1022.4 L1390.5 1020.9 L1387.0 1019.5 L1383.6 1018.0 L1380.1 1016.6 L1376.7 1015.2 L1373.2 1013.8 L1369.7 1012.4 L1366.3 1011.0 L1362.8 1009.6 L1359.4 1008.2 L1355.9 1006.9 L1352.5 1005.5 L1349.0 1004.2 L1345.6 1002.9 L1342.1 1001.6 L1338.6 1000.3 L1335.2 999.0 L1331.7 997.7 L1328.3 996.5 L1324.8 995.2 L1321.4 994.0 L1317.9 992.7 L1314.4 991.5 L1311.0 990.3 L1307.5 989.1 L1304.1 987.9 L1300.6 986.7 L1297.2 985.6 L1293.7 984.4 L1290.3 983.3 L1286.8 982.1 L1283.3 981.0 L1279.9 979.9 L1276.4 978.8 L1273.0 977.7 L1269.5 976.7 L1266.1 975.6 L1262.6 974.5 L1259.2 973.5 L1255.7 972.5 L1252.2 971.4 L1248.8 970.4 L1245.3 969.4 L1241.9 968.5 L1238.4 967.5 L1235.0 966.5 L1231.5 965.6 L1228.0 964.6 L1224.6 963.7 L1221.1 962.8 L1217.7 961.9 L1214.2 961.0 L1210.8 960.1 L1207.3 959.2 L1203.9 958.3 L1200.4 957.5 L1196.9 956.6 L1193.5 955.8 L1190.0 955.0 L1186.6 954.2 L1183.1 953.4 L1179.7 952.6 L1176.2 951.8 L1172.8 951.0 L1169.3 950.3 L1165.8 949.5 L1162.4 948.8 L1158.9 948.1 L1155.5 947.4 L1152.0 946.7 L1148.6 946.0 L1145.1 945.3 L1141.6 944.6 L1138.2 944.0 L1134.7 943.3 L1131.3 942.7 L1127.8 942.0 L1124.4 941.4 L1120.9 940.8 L1117.5 940.2 L1114.0 939.7 L1110.5 939.1 L1107.1 938.5 L1103.6 938.0 L1100.2 937.4 L1096.7 936.9 L1093.3 936.4 L1089.8 935.9 L1086.4 935.4 L1082.9 934.9 L1079.4 934.4 L1076.0 934.0 L1072.5 933.5 L1069.1 933.1 L1065.6 932.6 L1062.2 932.2 L1058.7 931.8 L1055.2 931.4 L1051.8 931.0 L1048.3 930.7 L1044.9 930.3 L1041.4 930.0 L1038.0 929.6 L1034.5 929.3 L1031.1 929.0 L1027.6 928.7 L1024.1 928.4 L1020.7 928.1 L1017.2 927.8 L1013.8 927.6 L1010.3 927.3 L1006.9 927.1 L1003.4 926.9 L1000.0 926.7 L996.5 926.5 L993.0 926.3 L989.6 926.2 L986.1 926.0 L982.7 925.9 L979.2 925.8 L975.8 925.7 L972.3 925.6 L968.8 925.5 L965.4 925.4 L961.9 925.4 L958.5 925.4 L955.0 925.4 L951.6 925.4 L948.1 925.4 L944.7 925.4 L941.2 925.4Z" fill="#abbec5" clip-path="url(#clipD)"/><path d="M941.2 938.4 L944.7 939.8 L948.1 941.2 L951.6 942.7 L955.0 944.1 L958.5 945.6 L961.9 947.0 L965.4 948.5 L968.8 950.0 L972.3 951.5 L975.8 953.0 L979.2 954.6 L982.7 956.1 L986.1 957.7 L989.6 959.2 L993.0 960.8 L996.5 962.4 L1000.0 964.0 L1003.4 965.6 L1006.9 967.3 L1010.3 968.9 L1013.8 970.6 L1017.2 972.2 L1020.7 973.9 L1024.1 975.6 L1027.6 977.3 L1031.1 979.0 L1034.5 980.7 L1038.0 982.4 L1041.4 984.1 L1044.9 985.9 L1048.3 987.6 L1051.8 989.4 L1055.2 991.1 L1058.7 992.9 L1062.2 994.7 L1065.6 996.4 L1069.1 998.2 L1072.5 1000.0 L1076.0 1001.8 L1079.4 1003.6 L1082.9 1005.5 L1086.4 1007.3 L1089.8 1009.1 L1093.3 1011.0 L1096.7 1012.8 L1100.2 1014.7 L1103.6 1016.5 L1107.1 1018.4 L1110.5 1020.3 L1114.0 1022.2 L1117.5 1024.1 L1120.9 1026.0 L1124.4 1027.9 L1127.8 1029.8 L1131.3 1031.7 L1134.7 1033.7 L1138.2 1035.6 L1141.6 1037.6 L1145.1 1039.5 L1148.6 1041.5 L1152.0 1043.5 L1155.5 1045.5 L1158.9 1047.5 L1162.4 1049.5 L1165.8 1051.5 L1169.3 1053.5 L1172.8 1055.5 L1176.2 1057.6 L1179.7 1059.6 L1183.1 1061.7 L1186.6 1063.7 L1190.0 1065.8 L1193.5 1067.9 L1196.9 1070.0 L1200.4 1072.1 L1203.9 1074.2 L1207.3 1076.3 L1210.8 1078.4 L1214.2 1080.5 L1217.7 1082.7 L1221.1 1084.8 L1224.6 1087.0 L1228.0 1089.2 L1231.5 1091.4 L1235.0 1093.5 L1238.4 1095.7 L1241.9 1097.9 L1245.3 1100.2 L1248.8 1102.4 L1252.2 1104.6 L1255.7 1106.9 L1259.2 1109.1 L1262.6 1111.4 L1266.1 1113.6 L1269.5 1115.9 L1273.0 1118.2 L1276.4 1120.5 L1279.9 1122.8 L1283.3 1125.1 L1286.8 1127.5 L1290.3 1129.8 L1293.7 1132.1 L1297.2 1134.5 L1300.6 1136.8 L1304.1 1139.2 L1307.5 1141.6 L1311.0 1144.0 L1314.4 1146.4 L1317.9 1148.8 L1321.4 1151.2 L1324.8 1153.6 L1328.3 1156.1 L1331.7 1158.5 L1335.2 1161.0 L1338.6 1163.4 L1342.1 1165.9 L1345.6 1168.4 L1349.0 1170.9 L1352.5 1173.4 L1355.9 1175.9 L1359.4 1178.4 L1362.8 1180.9 L1366.3 1183.5 L1369.7 1186.0 L1373.2 1188.6 L1376.7 1191.1 L1380.1 1193.7 L1383.6 1196.3 L1387.0 1198.9 L1390.5 1201.5 L1393.9 1204.1 L1397.4 1206.7 L1400.8 1209.3 L1404.3 1212.0 L1407.8 1214.6 L1411.2 1217.3 L1414.7 1219.9 L1418.1 1222.6 L1421.6 1225.3 L1425.0 1228.0 L1428.5 1230.7 L1432.0 1233.4 L1435.4 1236.1 L1438.9 1238.9 L1442.3 1241.6 L1445.8 1244.3 L1449.2 1247.1 L1452.7 1249.9 L1456.1 1252.7 L1459.6 1255.4 L1459.6 1356.5 L1456.1 1352.4 L1452.7 1348.3 L1449.2 1344.2 L1445.8 1340.1 L1442.3 1336.1 L1438.9 1332.1 L1435.4 1328.0 L1432.0 1324.0 L1428.5 1320.1 L1425.0 1316.1 L1421.6 1312.2 L1418.1 1308.3 L1414.7 1304.3 L1411.2 1300.5 L1407.8 1296.6 L1404.3 1292.7 L1400.8 1288.9 L1397.4 1285.1 L1393.9 1281.3 L1390.5 1277.5 L1387.0 1273.8 L1383.6 1270.0 L1380.1 1266.3 L1376.7 1262.6 L1373.2 1258.9 L1369.7 1255.3 L1366.3 1251.6 L1362.8 1248.0 L1359.4 1244.4 L1355.9 1240.8 L1352.5 1237.2 L1349.0 1233.7 L1345.6 1230.1 L1342.1 1226.6 L1338.6 1223.1 L1335.2 1219.6 L1331.7 1216.2 L1328.3 1212.7 L1324.8 1209.3 L1321.4 1205.9 L1317.9 1202.5 L1314.4 1199.1 L1311.0 1195.8 L1307.5 1192.4 L1304.1 1189.1 L1300.6 1185.8 L1297.2 1182.5 L1293.7 1179.3 L1290.3 1176.0 L1286.8 1172.8 L1283.3 1169.6 L1279.9 1166.4 L1276.4 1163.3 L1273.0 1160.1 L1269.5 1157.0 L1266.1 1153.9 L1262.6 1150.8 L1259.2 1147.7 L1255.7 1144.6 L1252.2 1141.6 L1248.8 1138.6 L1245.3 1135.6 L1241.9 1132.6 L1238.4 1129.6 L1235.0 1126.7 L1231.5 1123.7 L1228.0 1120.8 L1224.6 1117.9 L1221.1 1115.1 L1217.7 1112.2 L1214.2 1109.4 L1210.8 1106.6 L1207.3 1103.8 L1203.9 1101.0 L1200.4 1098.2 L1196.9 1095.5 L1193.5 1092.8 L1190.0 1090.1 L1186.6 1087.4 L1183.1 1084.7 L1179.7 1082.1 L1176.2 1079.4 L1172.8 1076.8 L1169.3 1074.2 L1165.8 1071.7 L1162.4 1069.1 L1158.9 1066.6 L1155.5 1064.1 L1152.0 1061.6 L1148.6 1059.1 L1145.1 1056.6 L1141.6 1054.2 L1138.2 1051.8 L1134.7 1049.4 L1131.3 1047.0 L1127.8 1044.7 L1124.4 1042.3 L1120.9 1040.0 L1117.5 1037.7 L1114.0 1035.4 L1110.5 1033.1 L1107.1 1030.9 L1103.6 1028.7 L1100.2 1026.5 L1096.7 1024.3 L1093.3 1022.1 L1089.8 1020.0 L1086.4 1017.9 L1082.9 1015.8 L1079.4 1013.7 L1076.0 1011.6 L1072.5 1009.6 L1069.1 1007.6 L1065.6 1005.6 L1062.2 1003.6 L1058.7 1001.6 L1055.2 999.7 L1051.8 997.8 L1048.3 995.9 L1044.9 994.0 L1041.4 992.1 L1038.0 990.3 L1034.5 988.4 L1031.1 986.6 L1027.6 984.8 L1024.1 983.1 L1020.7 981.3 L1017.2 979.6 L1013.8 977.9 L1010.3 976.2 L1006.9 974.5 L1003.4 972.8 L1000.0 971.2 L996.5 969.6 L993.0 967.9 L989.6 966.3 L986.1 964.8 L982.7 963.2 L979.2 961.6 L975.8 960.1 L972.3 958.6 L968.8 957.1 L965.4 955.6 L961.9 954.1 L958.5 952.6 L955.0 951.2 L951.6 949.7 L948.1 948.3 L944.7 946.9 L941.2 945.5Z" fill="#f4cfc4" clip-path="url(#clipD)"/><path d="M941.2 945.8 L944.7 947.3 L948.1 948.8 L951.6 950.3 L955.0 951.9 L958.5 953.6 L961.9 955.3 L965.4 957.0 L968.8 958.8 L972.3 960.6 L975.8 962.5 L979.2 964.4 L982.7 966.4 L986.1 968.3 L989.6 970.4 L993.0 972.4 L996.5 974.5 L1000.0 976.6 L1003.4 978.7 L1006.9 980.9 L1010.3 983.1 L1013.8 985.3 L1017.2 987.6 L1020.7 989.8 L1024.1 992.1 L1027.6 994.4 L1031.1 996.7 L1034.5 999.1 L1038.0 1001.5 L1041.4 1003.9 L1044.9 1006.3 L1048.3 1008.7 L1051.8 1011.2 L1055.2 1013.6 L1058.7 1016.2 L1062.2 1018.7 L1065.6 1021.2 L1069.1 1023.8 L1072.5 1026.4 L1076.0 1029.1 L1079.4 1031.7 L1082.9 1034.4 L1086.4 1037.1 L1089.8 1039.8 L1093.3 1042.6 L1096.7 1045.4 L1100.2 1048.2 L1103.6 1051.1 L1107.1 1053.9 L1110.5 1056.8 L1114.0 1059.7 L1117.5 1062.7 L1120.9 1065.7 L1124.4 1068.7 L1127.8 1071.7 L1131.3 1074.8 L1134.7 1077.9 L1138.2 1081.0 L1141.6 1084.2 L1145.1 1087.3 L1148.6 1090.5 L1152.0 1093.8 L1155.5 1097.0 L1158.9 1100.3 L1162.4 1103.7 L1165.8 1107.0 L1169.3 1110.4 L1172.8 1113.8 L1176.2 1117.2 L1179.7 1120.7 L1183.1 1124.2 L1186.6 1127.7 L1190.0 1131.3 L1193.5 1134.9 L1196.9 1138.5 L1200.4 1142.1 L1203.9 1145.8 L1207.3 1149.5 L1210.8 1153.2 L1214.2 1157.0 L1217.7 1160.8 L1221.1 1164.6 L1224.6 1168.4 L1228.0 1172.3 L1231.5 1176.2 L1235.0 1180.1 L1238.4 1184.1 L1241.9 1188.1 L1245.3 1192.1 L1248.8 1196.2 L1252.2 1200.2 L1255.7 1204.3 L1259.2 1208.5 L1262.6 1212.6 L1266.1 1216.8 L1269.5 1221.1 L1273.0 1225.3 L1276.4 1229.6 L1279.9 1233.9 L1283.3 1238.3 L1286.8 1242.6 L1290.3 1247.0 L1293.7 1251.5 L1297.2 1255.9 L1300.6 1260.4 L1304.1 1264.9 L1307.5 1269.5 L1311.0 1274.1 L1314.4 1278.7 L1317.9 1283.3 L1321.4 1288.0 L1324.8 1292.7 L1328.3 1297.4 L1331.7 1302.1 L1335.2 1306.9 L1338.6 1311.7 L1342.1 1316.6 L1345.6 1321.5 L1349.0 1326.4 L1352.5 1331.3 L1355.9 1336.2 L1359.4 1341.2 L1362.8 1346.3 L1366.3 1351.3 L1369.7 1356.4 L1373.2 1361.5 L1376.7 1366.6 L1380.1 1371.8 L1383.6 1377.0 L1387.0 1382.2 L1390.5 1387.5 L1393.9 1392.7 L1397.4 1398.1 L1400.8 1403.4 L1404.3 1408.8 L1407.8 1414.2 L1411.2 1419.6 L1414.7 1425.1 L1418.1 1430.6 L1421.6 1436.1 L1425.0 1441.6 L1428.5 1447.2 L1432.0 1452.8 L1435.4 1458.4 L1438.9 1464.1 L1442.3 1469.8 L1445.8 1475.5 L1449.2 1481.3 L1452.7 1487.1 L1456.1 1492.9 L1459.6 1498.7 L1459.6 1922.2 L1456.1 1910.7 L1452.7 1899.3 L1449.2 1888.0 L1445.8 1876.7 L1442.3 1865.5 L1438.9 1854.4 L1435.4 1843.3 L1432.0 1832.3 L1428.5 1821.4 L1425.0 1810.5 L1421.6 1799.8 L1418.1 1789.0 L1414.7 1778.4 L1411.2 1767.8 L1407.8 1757.2 L1404.3 1746.8 L1400.8 1736.4 L1397.4 1726.1 L1393.9 1715.8 L1390.5 1705.6 L1387.0 1695.5 L1383.6 1685.4 L1380.1 1675.5 L1376.7 1665.5 L1373.2 1655.7 L1369.7 1645.9 L1366.3 1636.2 L1362.8 1626.5 L1359.4 1616.9 L1355.9 1607.4 L1352.5 1598.0 L1349.0 1588.6 L1345.6 1579.3 L1342.1 1570.0 L1338.6 1560.8 L1335.2 1551.7 L1331.7 1542.7 L1328.3 1533.7 L1324.8 1524.8 L1321.4 1515.9 L1317.9 1507.1 L1314.4 1498.4 L1311.0 1489.8 L1307.5 1481.2 L1304.1 1472.7 L1300.6 1464.3 L1297.2 1455.9 L1293.7 1447.6 L1290.3 1439.3 L1286.8 1431.2 L1283.3 1423.0 L1279.9 1415.0 L1276.4 1407.0 L1273.0 1399.1 L1269.5 1391.3 L1266.1 1383.5 L1262.6 1375.8 L1259.2 1368.2 L1255.7 1360.6 L1252.2 1353.1 L1248.8 1345.7 L1245.3 1338.3 L1241.9 1331.0 L1238.4 1323.8 L1235.0 1316.6 L1231.5 1309.5 L1228.0 1302.5 L1224.6 1295.5 L1221.1 1288.6 L1217.7 1281.8 L1214.2 1275.0 L1210.8 1268.3 L1207.3 1261.7 L1203.9 1255.1 L1200.4 1248.6 L1196.9 1242.2 L1193.5 1235.9 L1190.0 1229.6 L1186.6 1223.3 L1183.1 1217.2 L1179.7 1211.1 L1176.2 1205.1 L1172.8 1199.1 L1169.3 1193.2 L1165.8 1187.4 L1162.4 1181.7 L1158.9 1176.0 L1155.5 1170.4 L1152.0 1164.8 L1148.6 1159.4 L1145.1 1153.9 L1141.6 1148.6 L1138.2 1143.3 L1134.7 1138.1 L1131.3 1133.0 L1127.8 1127.9 L1124.4 1122.9 L1120.9 1118.0 L1117.5 1113.1 L1114.0 1108.3 L1110.5 1103.6 L1107.1 1098.9 L1103.6 1094.4 L1100.2 1089.8 L1096.7 1085.4 L1093.3 1081.0 L1089.8 1076.7 L1086.4 1072.5 L1082.9 1068.3 L1079.4 1064.2 L1076.0 1060.2 L1072.5 1056.2 L1069.1 1052.3 L1065.6 1048.5 L1062.2 1044.7 L1058.7 1041.1 L1055.2 1037.5 L1051.8 1033.9 L1048.3 1030.5 L1044.9 1027.1 L1041.4 1023.8 L1038.0 1020.6 L1034.5 1017.4 L1031.1 1014.3 L1027.6 1011.3 L1024.1 1008.4 L1020.7 1005.5 L1017.2 1002.8 L1013.8 1000.1 L1010.3 997.4 L1006.9 994.9 L1003.4 992.4 L1000.0 989.9 L996.5 987.6 L993.0 985.3 L989.6 983.1 L986.1 980.9 L982.7 978.8 L979.2 976.8 L975.8 974.8 L972.3 972.9 L968.8 971.0 L965.4 969.2 L961.9 967.5 L958.5 965.8 L955.0 964.1 L951.6 962.5 L948.1 960.9 L944.7 959.4 L941.2 958.0Z" fill="#cbc3da" clip-path="url(#clipD)"/>
<g fill="none" stroke="#e8755a" stroke-width="1.2" stroke-opacity="0.42" clip-path="url(#clipC)"><path d="M187.2 1001.0 L205.3 1029.1 L220.6 1071.1"/><path d="M187.2 1001.0 L204.5 1001.0"/><path d="M187.2 846.8 L222.7 959.0 L237.9 987.0"/><path d="M187.2 846.8 L203.6 874.8 L222.3 860.8 L259.4 846.8"/><path d="M187.2 944.9 L203.3 930.9"/><path d="M187.2 1015.0 L221.6 1127.2"/><path d="M187.2 846.8 L207.4 916.9"/><path d="M187.2 987.0 L223.0 1029.1"/><path d="M187.2 944.9 L206.0 987.0 L221.1 987.0 L293.9 1071.1 L296.9 1043.1"/><path d="M187.2 902.9 L203.7 846.8 L222.7 846.8 L256.8 860.8 L294.5 902.9"/><path d="M187.2 930.9 L222.4 930.9"/><path d="M187.2 1029.1 L221.7 1015.0"/><path d="M187.2 874.8 L203.9 888.9 L221.4 959.0"/><path d="M187.2 916.9 L222.0 916.9 L234.5 973.0"/><path d="M187.2 1071.1 L254.0 1155.2"/><path d="M187.2 846.8 L203.6 888.9 L222.1 930.9"/><path d="M187.2 1029.1 L242.0 1057.1"/><path d="M187.2 846.8 L220.9 846.8"/><path d="M187.2 987.0 L205.9 1057.1 L222.1 1085.1 L254.6 1183.3"/><path d="M187.2 846.8 L223.1 860.8"/><path d="M187.2 959.0 L204.7 973.0 L220.8 987.0"/><path d="M187.2 846.8 L251.6 902.9 L295.5 973.0 L329.6 1029.1 L366.7 1099.2"/><path d="M187.2 874.8 L205.2 874.8 L222.6 874.8 L262.1 902.9 L290.0 916.9"/><path d="M187.2 987.0 L222.0 959.0"/><path d="M187.2 874.8 L221.1 930.9 L246.3 930.9"/><path d="M187.2 916.9 L205.5 930.9"/><path d="M187.2 846.8 L254.8 874.8 L275.9 860.8"/><path d="M187.2 973.0 L205.8 987.0 L258.2 944.9"/><path d="M187.2 930.9 L204.2 860.8 L230.1 874.8"/><path d="M187.2 959.0 L204.4 959.0 L222.1 973.0 L253.3 973.0 L291.0 959.0 L293.5 987.0"/><path d="M187.2 1071.1 L203.8 1085.1"/><path d="M187.2 860.8 L248.6 1029.1 L288.4 1085.1 L327.8 1197.3"/><path d="M187.2 860.8 L204.5 860.8"/><path d="M187.2 987.0 L204.8 1015.0 L222.8 1043.1"/><path d="M187.2 1001.0 L205.8 1029.1 L262.5 1085.1"/><path d="M187.2 944.9 L202.8 973.0"/><path d="M187.2 1029.1 L222.4 1127.2 L229.2 1127.2"/><path d="M187.2 888.9 L204.4 930.9 L223.2 973.0"/><path d="M187.2 1015.0 L221.8 1057.1"/><path d="M187.2 973.0 L220.9 1015.0"/><path d="M187.2 846.8 L223.8 846.8"/><path d="M187.2 1001.0 L293.1 1155.2"/><path d="M187.2 916.9 L205.4 930.9 L221.8 973.0 L243.0 959.0"/><path d="M187.2 1057.1 L203.9 1015.0"/><path d="M187.2 944.9 L204.3 916.9 L220.0 916.9"/><path d="M187.2 860.8 L204.8 860.8 L225.8 916.9"/><path d="M187.2 1043.1 L204.0 1085.1"/><path d="M187.2 1029.1 L205.3 1001.0 L258.6 1043.1 L296.8 1057.1"/><path d="M187.2 916.9 L204.0 973.0"/><path d="M187.2 846.8 L205.1 860.8"/><path d="M187.2 973.0 L221.7 1057.1"/><path d="M187.2 846.8 L202.1 846.8 L221.6 846.8 L263.1 916.9 L278.5 874.8"/><path d="M187.2 846.8 L249.9 846.8 L294.8 846.8 L297.8 846.8"/><path d="M187.2 902.9 L203.5 930.9"/><path d="M187.2 902.9 L220.9 959.0"/><path d="M187.2 846.8 L203.6 846.8"/><path d="M187.2 874.8 L205.5 944.9 L252.8 930.9"/><path d="M187.2 959.0 L205.2 944.9"/><path d="M187.2 959.0 L205.3 959.0 L221.6 944.9 L257.8 959.0 L294.9 987.0 L332.2 1001.0 L333.1 987.0"/><path d="M187.2 860.8 L263.0 944.9"/><path d="M187.2 944.9 L221.3 973.0"/><path d="M187.2 1029.1 L204.0 1085.1"/><path d="M187.2 846.8 L201.6 846.8 L248.1 916.9"/><path d="M187.2 846.8 L204.4 846.8 L253.3 902.9"/><path d="M187.2 846.8 L221.3 846.8 L255.4 860.8 L293.8 860.8 L327.3 888.9"/><path d="M187.2 1057.1 L221.6 1085.1 L255.2 1155.2 L292.2 1155.2 L329.1 1225.3"/><path d="M187.2 959.0 L204.9 1029.1"/><path d="M187.2 888.9 L223.3 916.9"/><path d="M187.2 930.9 L222.0 959.0 L249.4 959.0"/><path d="M187.2 959.0 L202.4 973.0 L220.8 959.0 L257.4 1015.0 L258.4 1001.0"/><path d="M187.2 888.9 L221.8 860.8"/><path d="M187.2 860.8 L250.7 944.9"/><path d="M187.2 959.0 L256.8 959.0 L326.0 944.9 L361.6 959.0 L372.7 1001.0"/><path d="M187.2 930.9 L204.1 973.0 L222.8 973.0 L250.2 1015.0 L292.6 1015.0 L325.9 1071.1"/><path d="M187.2 959.0 L205.1 973.0"/><path d="M187.2 902.9 L220.9 916.9 L238.8 930.9"/><path d="M187.2 902.9 L223.0 973.0 L285.4 1029.1 L325.9 1127.2 L331.3 1127.2"/><path d="M187.2 902.9 L221.7 944.9 L257.2 944.9 L292.0 959.0"/><path d="M187.2 1001.0 L221.0 1015.0 L257.6 1015.0 L271.1 1015.0"/><path d="M187.2 973.0 L204.1 959.0 L248.3 1001.0"/><path d="M187.2 987.0 L205.1 1043.1 L220.8 1015.0 L289.2 1057.1 L323.5 1099.2 L357.5 1183.3 L392.0 1183.3 L395.0 1197.3"/><path d="M187.2 973.0 L205.4 1001.0 L221.6 1029.1 L260.5 1071.1 L291.8 1085.1"/><path d="M187.2 930.9 L220.5 874.8 L254.5 916.9 L292.4 902.9"/><path d="M187.2 1057.1 L204.7 1113.2 L223.8 1099.2 L251.8 1183.3 L293.7 1225.3"/><path d="M187.2 1015.0 L219.7 1015.0 L251.2 1043.1 L293.5 1099.2 L312.7 1113.2"/><path d="M187.2 1001.0 L205.3 1043.1 L254.9 1085.1 L267.2 1113.2"/><path d="M187.2 888.9 L221.5 930.9 L313.7 1001.0"/><path d="M187.2 888.9 L204.3 916.9 L222.6 888.9"/><path d="M187.2 916.9 L221.7 874.8"/><path d="M187.2 846.8 L204.8 846.8 L221.3 846.8 L252.4 846.8 L292.6 846.8"/><path d="M187.2 1015.0 L203.9 1015.0"/><path d="M187.2 846.8 L204.4 874.8 L222.8 916.9"/><path d="M187.2 944.9 L222.2 1001.0 L257.6 1099.2"/><path d="M187.2 930.9 L222.9 944.9"/><path d="M187.2 846.8 L220.3 846.8"/><path d="M187.2 959.0 L205.0 987.0 L222.2 1001.0 L261.8 1015.0 L327.1 1015.0 L353.9 1029.1"/><path d="M187.2 930.9 L204.5 959.0 L222.6 987.0"/><path d="M187.2 1029.1 L204.0 1071.1"/><path d="M187.2 902.9 L205.0 902.9 L221.1 930.9"/><path d="M187.2 1001.0 L223.0 1029.1 L290.1 1113.2 L361.7 1197.3 L376.3 1225.3"/><path d="M187.2 944.9 L204.0 987.0 L221.4 1015.0 L253.8 1071.1"/><path d="M187.2 1015.0 L222.9 1057.1 L253.0 1113.2"/><path d="M187.2 916.9 L205.6 930.9"/><path d="M187.2 959.0 L204.1 987.0"/><path d="M187.2 888.9 L222.2 930.9"/><path d="M187.2 930.9 L205.4 916.9"/><path d="M187.2 973.0 L203.6 1001.0 L222.9 1043.1"/><path d="M187.2 930.9 L204.0 1001.0 L220.5 1015.0"/><path d="M187.2 1057.1 L221.9 1141.2 L240.1 1141.2"/><path d="M187.2 1015.0 L221.0 1113.2"/><path d="M187.2 987.0 L220.2 1001.0 L291.2 1015.0 L315.1 1043.1"/><path d="M187.2 1001.0 L221.3 1015.0"/><path d="M187.2 874.8 L204.3 902.9 L258.7 902.9 L280.5 916.9 L318.7 902.9 L364.0 930.9"/><path d="M187.2 1015.0 L222.9 1057.1"/><path d="M187.2 860.8 L220.4 916.9"/><path d="M187.2 973.0 L220.0 959.0"/><path d="M187.2 987.0 L249.0 1127.2 L263.2 1127.2"/><path d="M187.2 1001.0 L222.2 1015.0"/><path d="M187.2 1001.0 L219.4 1085.1 L290.7 1183.3"/><path d="M187.2 846.8 L204.2 846.8 L223.3 846.8"/><path d="M187.2 846.8 L221.1 930.9"/><path d="M187.2 1127.2 L205.6 1169.3 L223.1 1169.3"/><path d="M187.2 1001.0 L221.1 973.0"/><path d="M187.2 916.9 L204.7 930.9 L221.4 987.0 L291.6 1043.1 L315.4 1099.2 L362.7 1127.2"/><path d="M187.2 888.9 L204.0 916.9 L220.2 973.0"/><path d="M187.2 1099.2 L221.6 1071.1 L256.0 1127.2 L326.8 1127.2 L404.6 1169.3"/><path d="M187.2 1071.1 L203.6 1099.2 L221.8 1155.2 L250.4 1141.2"/><path d="M187.2 1071.1 L203.1 1015.0 L223.4 1071.1"/><path d="M187.2 888.9 L204.7 888.9"/><path d="M187.2 902.9 L222.5 959.0 L262.5 1001.0"/><path d="M187.2 846.8 L222.7 888.9"/><path d="M187.2 944.9 L220.8 973.0 L251.8 1001.0"/><path d="M187.2 930.9 L223.5 959.0 L237.9 1015.0"/><path d="M187.2 973.0 L220.7 973.0 L245.2 944.9"/><path d="M187.2 888.9 L221.2 959.0 L291.0 1043.1"/><path d="M187.2 846.8 L251.9 944.9"/><path d="M187.2 959.0 L223.9 973.0 L253.3 1029.1 L365.1 1043.1 L395.0 1085.1 L400.1 1113.2"/><path d="M187.2 874.8 L205.4 930.9 L220.5 944.9 L253.9 1001.0 L332.4 1127.2"/><path d="M187.2 846.8 L222.5 860.8 L252.5 930.9 L291.4 944.9 L321.8 944.9 L336.4 987.0"/><path d="M187.2 959.0 L220.7 959.0 L260.0 944.9 L349.1 973.0 L435.0 987.0 L468.4 987.0 L532.9 1015.0 L566.5 1029.1"/><path d="M187.2 902.9 L220.9 888.9 L257.9 874.8 L290.1 902.9 L363.7 888.9 L381.6 916.9"/><path d="M187.2 888.9 L249.9 888.9"/><path d="M187.2 902.9 L299.9 944.9 L355.4 959.0 L394.2 944.9 L401.7 959.0"/><path d="M187.2 902.9 L204.5 860.8 L219.8 916.9 L254.2 902.9 L283.0 916.9 L356.7 959.0 L399.2 959.0 L433.7 959.0"/><path d="M187.2 846.8 L222.8 860.8 L255.0 846.8 L298.4 860.8 L321.3 888.9 L359.5 874.8"/><path d="M187.2 888.9 L203.5 888.9 L325.2 944.9 L331.7 959.0"/><path d="M187.2 916.9 L220.2 916.9 L391.2 959.0 L434.2 973.0 L469.5 973.0 L498.8 973.0 L535.6 973.0 L577.2 1043.1"/><path d="M187.2 874.8 L249.9 902.9 L287.9 930.9 L321.6 930.9 L362.3 959.0"/><path d="M187.2 860.8 L204.4 874.8 L223.9 874.8 L299.9 888.9 L329.8 874.8"/><path d="M187.2 874.8 L221.2 888.9"/><path d="M187.2 916.9 L221.9 902.9 L259.2 930.9 L295.9 888.9 L333.2 916.9 L358.5 902.9 L427.9 916.9 L460.0 930.9"/><path d="M187.2 846.8 L261.2 874.8 L291.5 874.8 L330.2 846.8 L349.2 874.8"/><path d="M187.2 874.8 L223.0 888.9 L249.7 916.9"/><path d="M187.2 916.9 L221.8 930.9 L255.9 944.9"/><path d="M187.2 888.9 L203.3 930.9 L221.6 902.9 L255.3 916.9 L288.2 916.9 L394.3 916.9 L429.4 944.9"/><path d="M187.2 860.8 L203.9 846.8"/><path d="M187.2 959.0 L253.8 959.0"/><path d="M187.2 874.8 L203.8 916.9 L265.6 874.8 L331.1 902.9"/><path d="M187.2 846.8 L204.0 846.8"/><path d="M187.2 846.8 L220.3 846.8 L250.7 874.8 L295.7 846.8 L326.6 860.8 L397.6 860.8 L424.3 846.8 L464.5 860.8 L492.9 888.9 L533.6 846.8 L534.7 846.8"/><path d="M187.2 916.9 L204.4 916.9 L223.0 888.9 L330.0 916.9 L354.3 944.9 L399.2 902.9 L433.8 959.0 L435.6 916.9"/><path d="M187.2 860.8 L221.4 916.9 L265.4 888.9 L284.5 902.9"/><path d="M187.2 916.9 L263.2 944.9 L293.6 944.9 L328.1 959.0 L362.9 987.0 L396.6 1015.0 L437.4 1001.0 L463.4 1043.1 L488.8 1071.1 L563.9 1085.1 L585.4 1071.1"/><path d="M187.2 874.8 L222.2 874.8 L261.8 930.9 L293.4 902.9 L321.0 944.9 L350.0 930.9 L427.5 973.0"/><path d="M187.2 888.9 L204.4 902.9 L220.2 916.9 L290.8 959.0 L326.1 930.9 L359.8 959.0 L391.9 944.9 L426.0 973.0 L501.7 1015.0 L529.3 1015.0"/><path d="M187.2 846.8 L251.5 846.8 L293.7 846.8 L325.7 860.8"/><path d="M187.2 902.9 L205.0 930.9 L222.2 944.9 L254.5 930.9 L296.7 944.9 L318.9 944.9 L365.8 987.0 L395.1 1015.0 L431.5 1029.1 L460.0 1029.1 L477.7 1057.1"/><path d="M187.2 846.8 L206.4 874.8 L222.4 888.9 L250.6 888.9"/><path d="M187.2 944.9 L223.6 944.9 L242.5 930.9"/><path d="M187.2 902.9 L255.8 930.9"/><path d="M187.2 930.9 L203.4 944.9 L223.6 916.9 L293.3 973.0 L329.9 959.0"/><path d="M187.2 888.9 L204.5 874.8 L221.1 888.9 L258.1 944.9"/><path d="M187.2 916.9 L252.6 888.9 L334.9 902.9 L357.7 916.9 L433.5 916.9 L461.7 959.0 L504.9 930.9 L524.2 959.0 L567.7 973.0"/><path d="M187.2 888.9 L204.4 888.9 L254.1 902.9"/><path d="M187.2 916.9 L204.3 902.9 L221.8 916.9 L326.2 916.9 L391.8 930.9"/><path d="M187.2 888.9 L221.6 888.9 L235.2 930.9"/><path d="M187.2 888.9 L221.6 874.8 L255.5 902.9 L282.7 888.9 L325.3 888.9 L361.7 944.9 L395.3 944.9 L428.4 944.9 L435.4 973.0"/><path d="M187.2 916.9 L203.3 944.9 L220.9 944.9 L245.1 930.9"/><path d="M187.2 902.9 L255.0 902.9 L285.6 902.9 L328.2 930.9"/><path d="M187.2 944.9 L222.1 916.9 L247.7 916.9 L367.6 973.0 L369.9 1015.0"/><path d="M187.2 860.8 L205.9 888.9 L220.0 888.9"/><path d="M187.2 902.9 L264.6 902.9 L288.4 902.9 L327.0 944.9 L359.6 959.0 L390.2 944.9 L496.9 1001.0 L530.1 1029.1"/><path d="M187.2 874.8 L205.7 874.8 L221.3 874.8 L267.5 916.9 L301.5 888.9 L324.6 874.8 L348.0 916.9 L376.9 930.9"/><path d="M187.2 902.9 L222.1 916.9 L258.8 902.9 L332.2 916.9 L353.3 930.9"/><path d="M187.2 874.8 L204.7 930.9 L259.5 902.9 L288.1 874.8 L324.7 944.9 L354.6 916.9 L397.9 944.9"/><path d="M187.2 846.8 L204.9 860.8 L221.6 860.8 L253.6 874.8"/><path d="M187.2 930.9 L204.3 874.8 L220.7 916.9 L291.5 916.9 L326.8 930.9"/><path d="M187.2 902.9 L219.5 916.9 L298.9 902.9 L327.6 930.9"/><path d="M187.2 930.9 L204.0 944.9 L222.7 930.9 L249.9 973.0 L292.8 973.0 L321.1 959.0"/><path d="M187.2 874.8 L221.8 860.8 L293.8 902.9 L326.7 888.9 L358.6 902.9 L399.8 888.9 L463.1 902.9 L502.9 959.0 L541.5 944.9 L567.0 944.9"/><path d="M187.2 902.9 L223.4 916.9 L251.0 944.9 L290.2 916.9 L323.6 916.9 L355.7 916.9 L397.5 930.9 L412.7 930.9"/><path d="M187.2 888.9 L223.0 930.9 L252.6 902.9 L264.3 930.9"/><path d="M187.2 944.9 L221.4 944.9 L250.2 973.0 L289.3 959.0 L361.0 973.0 L391.7 959.0 L420.7 944.9"/><path d="M187.2 902.9 L221.0 916.9 L290.2 902.9 L321.9 902.9 L361.4 888.9 L431.4 930.9 L516.3 930.9"/><path d="M187.2 846.8 L221.2 846.8 L250.3 902.9"/><path d="M187.2 888.9 L204.9 888.9 L221.2 916.9 L236.9 888.9"/><path d="M187.2 944.9 L220.8 916.9 L296.7 916.9 L320.4 916.9 L361.5 916.9 L401.7 930.9 L429.4 916.9 L472.2 987.0 L535.5 987.0 L572.4 987.0"/><path d="M187.2 846.8 L219.8 846.8 L250.2 846.8"/><path d="M187.2 959.0 L285.2 1015.0 L292.9 1001.0"/><path d="M187.2 902.9 L272.0 944.9"/><path d="M187.2 846.8 L205.9 888.9 L257.2 846.8 L327.6 846.8 L364.6 874.8 L395.0 874.8 L429.1 874.8 L461.4 860.8 L527.8 874.8 L572.8 902.9"/><path d="M187.2 902.9 L223.7 930.9"/><path d="M187.2 846.8 L204.4 916.9 L323.8 902.9"/><path d="M187.2 916.9 L204.3 846.8 L222.0 874.8 L262.3 874.8 L292.2 874.8 L359.8 930.9"/><path d="M187.2 930.9 L221.7 930.9 L256.5 959.0 L297.9 959.0 L308.7 959.0"/><path d="M187.2 846.8 L220.9 846.8 L259.1 846.8 L285.1 846.8 L332.5 860.8 L361.2 846.8"/><path d="M187.2 874.8 L205.3 902.9 L252.2 902.9 L300.1 902.9 L330.8 930.9 L389.0 930.9 L425.0 944.9 L503.2 987.0 L509.6 1001.0"/><path d="M187.2 902.9 L296.2 916.9 L331.1 944.9 L393.9 973.0"/><path d="M187.2 902.9 L222.2 959.0 L251.2 944.9 L331.4 930.9 L353.5 944.9 L398.6 973.0 L461.9 1001.0 L536.9 1029.1 L567.8 1001.0 L579.3 1057.1"/><path d="M187.2 888.9 L290.0 930.9 L360.8 944.9"/><path d="M187.2 874.8 L222.1 888.9 L291.9 930.9 L318.7 944.9"/><path d="M187.2 874.8 L203.8 874.8"/><path d="M187.2 846.8 L204.0 846.8 L256.9 888.9 L327.1 874.8 L390.4 888.9 L434.3 916.9 L458.8 916.9 L500.9 959.0 L506.1 944.9"/><path d="M187.2 846.8 L220.6 846.8 L259.6 860.8 L297.0 874.8 L323.2 874.8 L356.0 860.8 L395.0 888.9 L425.2 888.9"/><path d="M187.2 902.9 L205.0 888.9 L221.3 902.9"/><path d="M187.2 902.9 L221.2 930.9 L265.9 902.9 L324.0 973.0"/><path d="M187.2 916.9 L285.9 902.9 L336.0 944.9 L367.9 959.0 L397.8 944.9 L432.7 987.0 L466.6 987.0 L502.4 987.0 L504.8 1001.0"/><path d="M187.2 860.8 L220.8 874.8 L236.6 888.9"/><path d="M187.2 888.9 L221.9 874.8"/><path d="M187.2 846.8 L261.1 860.8 L287.3 874.8"/><path d="M187.2 916.9 L221.9 888.9 L246.5 902.9 L294.7 902.9 L327.1 973.0 L361.1 959.0 L423.7 973.0 L469.9 973.0"/><path d="M187.2 916.9 L239.7 916.9"/><path d="M187.2 888.9 L222.0 944.9 L262.4 930.9 L297.4 959.0 L325.9 973.0 L328.6 973.0"/><path d="M187.2 902.9 L205.8 888.9 L220.1 930.9 L323.7 944.9 L388.3 987.0 L434.3 987.0 L566.2 1071.1 L585.4 1099.2"/><path d="M187.2 902.9 L287.9 916.9"/><path d="M187.2 846.8 L222.6 860.8 L264.5 860.8 L329.0 846.8"/><path d="M187.2 846.8 L205.1 860.8 L222.2 902.9"/><path d="M187.2 888.9 L205.5 888.9 L222.7 874.8 L252.3 902.9 L281.9 930.9"/><path d="M187.2 874.8 L243.9 888.9 L288.8 888.9 L327.5 888.9 L363.2 888.9 L391.4 902.9 L425.6 888.9"/><path d="M187.2 902.9 L220.9 888.9 L263.0 888.9 L280.3 902.9 L328.3 888.9 L365.8 874.8 L396.2 902.9 L482.1 888.9"/><path d="M187.2 902.9 L204.5 959.0 L222.9 959.0 L256.7 959.0 L285.3 959.0 L335.3 959.0"/><path d="M187.2 902.9 L203.3 944.9 L221.9 902.9 L262.0 930.9 L352.2 930.9 L400.8 973.0 L413.7 987.0"/><path d="M187.2 930.9 L204.1 944.9 L291.6 944.9 L315.5 930.9 L360.6 959.0 L435.0 959.0 L459.5 930.9 L504.0 930.9 L534.6 973.0 L576.2 1015.0"/><path d="M187.2 944.9 L222.6 944.9"/><path d="M187.2 916.9 L205.8 944.9 L279.9 916.9"/><path d="M187.2 902.9 L255.8 888.9 L296.1 916.9 L356.3 959.0 L389.1 930.9 L465.2 987.0"/><path d="M187.2 846.8 L222.2 846.8 L236.0 846.8"/><path d="M187.2 846.8 L204.1 874.8 L221.6 874.8 L250.7 860.8 L296.2 874.8 L328.2 902.9 L367.4 902.9 L391.2 860.8 L430.5 944.9 L465.6 959.0 L504.6 959.0 L540.3 973.0 L560.7 973.0 L585.4 1001.0"/><path d="M187.2 846.8 L222.1 846.8 L256.8 874.8"/><path d="M187.2 874.8 L220.3 846.8 L289.7 902.9 L321.4 902.9"/><path d="M187.2 916.9 L220.3 944.9 L258.4 944.9 L265.2 916.9"/><path d="M187.2 860.8 L222.9 902.9 L254.5 902.9 L279.3 916.9 L361.4 902.9 L466.7 973.0 L491.0 944.9"/><path d="M187.2 874.8 L222.3 888.9 L250.8 902.9 L357.8 902.9 L400.2 930.9 L454.9 930.9"/><path d="M187.2 902.9 L220.4 902.9 L255.1 930.9 L272.1 930.9"/><path d="M187.2 874.8 L202.9 888.9 L221.6 888.9 L253.2 888.9 L286.0 888.9 L324.3 874.8"/><path d="M187.2 874.8 L205.2 874.8"/><path d="M187.2 1183.3 L203.1 1211.3"/><path d="M187.2 1211.3 L205.4 1225.3 L222.3 1225.3"/><path d="M187.2 1127.2 L223.4 1169.3"/></g><g fill="none" stroke="#8064aa" stroke-width="1.2" stroke-opacity="0.42" clip-path="url(#clipC)"><path d="M187.2 959.0 L223.7 987.0 L253.8 973.0 L288.6 1015.0"/><path d="M187.2 1015.0 L221.6 1057.1 L252.0 1001.0 L288.9 1085.1 L315.9 1127.2"/><path d="M187.2 902.9 L204.1 959.0 L223.0 944.9 L256.0 987.0"/><path d="M187.2 916.9 L205.2 888.9 L221.9 944.9 L254.9 902.9"/><path d="M187.2 944.9 L221.1 1001.0 L249.8 1029.1 L293.9 1057.1 L324.6 1127.2"/><path d="M187.2 1071.1 L204.6 1085.1 L222.6 1099.2 L247.8 1099.2 L294.4 1113.2 L330.4 1085.1 L337.5 1099.2"/><path d="M187.2 874.8 L291.6 930.9"/><path d="M187.2 902.9 L221.8 944.9"/><path d="M187.2 902.9 L204.2 944.9 L222.2 916.9 L250.3 959.0 L289.6 1015.0 L317.5 1043.1 L399.4 1029.1"/><path d="M187.2 930.9 L222.2 1043.1"/><path d="M187.2 846.8 L224.4 846.8 L252.0 860.8"/><path d="M187.2 1029.1 L202.6 987.0"/><path d="M187.2 1043.1 L221.3 1085.1"/><path d="M187.2 846.8 L204.7 846.8"/><path d="M187.2 1043.1 L203.6 1071.1"/><path d="M187.2 1099.2 L204.6 1127.2 L223.7 1141.2"/><path d="M187.2 987.0 L221.2 1057.1"/><path d="M187.2 1015.0 L203.6 1043.1 L258.4 1043.1 L288.7 1085.1"/><path d="M187.2 987.0 L272.1 1113.2"/><path d="M187.2 888.9 L203.2 916.9 L222.3 944.9 L262.7 1085.1 L287.4 1127.2 L322.5 1211.3"/><path d="M187.2 930.9 L204.3 944.9 L221.6 1071.1"/><path d="M187.2 1001.0 L222.0 1099.2 L292.8 1239.4 L331.6 1267.4"/><path d="M187.2 1071.1 L203.6 1085.1 L255.5 1183.3"/><path d="M187.2 944.9 L256.1 1071.1 L293.0 1057.1 L308.9 1113.2"/><path d="M187.2 874.8 L203.7 846.8 L221.4 860.8"/><path d="M187.2 874.8 L202.6 888.9 L222.1 944.9"/><path d="M187.2 959.0 L223.0 1057.1 L291.7 1169.3"/><path d="M187.2 987.0 L256.2 1113.2"/><path d="M187.2 916.9 L224.0 944.9 L247.7 1001.0 L292.7 1015.0 L295.5 1001.0"/><path d="M187.2 959.0 L222.3 1099.2"/><path d="M187.2 944.9 L222.5 944.9 L254.3 916.9"/><path d="M187.2 987.0 L221.3 944.9 L257.7 973.0"/><path d="M187.2 959.0 L220.9 1071.1"/><path d="M187.2 930.9 L203.3 902.9 L259.0 930.9 L293.7 930.9"/><path d="M187.2 916.9 L206.0 944.9 L221.4 973.0"/><path d="M187.2 1015.0 L221.4 1015.0"/><path d="M187.2 846.8 L205.7 846.8 L222.1 846.8"/><path d="M187.2 846.8 L204.9 930.9"/><path d="M187.2 846.8 L221.7 888.9 L257.1 959.0"/><path d="M187.2 959.0 L204.3 959.0 L222.3 1015.0 L251.5 1043.1"/><path d="M187.2 930.9 L220.7 987.0 L266.2 1071.1"/><path d="M187.2 1057.1 L203.9 1141.2 L221.4 1155.2 L275.6 1253.4"/><path d="M187.2 959.0 L221.3 987.0 L247.1 1043.1 L292.7 1127.2 L327.8 1127.2"/><path d="M187.2 1043.1 L204.7 1057.1"/><path d="M187.2 1001.0 L222.2 1029.1 L245.8 1043.1"/><path d="M187.2 902.9 L203.5 944.9 L222.9 959.0 L288.8 1001.0"/><path d="M187.2 1001.0 L223.7 1057.1 L249.9 1113.2 L291.9 1169.3 L322.6 1211.3 L359.1 1239.4 L395.0 1267.4"/><path d="M187.2 846.8 L223.0 888.9 L243.9 916.9"/><path d="M187.2 888.9 L221.7 874.8 L255.6 860.8 L292.4 860.8 L365.5 916.9"/><path d="M187.2 1113.2 L206.6 1057.1 L222.3 1043.1 L247.9 1099.2"/><path d="M187.2 944.9 L219.4 987.0 L248.7 1043.1 L289.6 1113.2 L333.8 1239.4"/><path d="M187.2 846.8 L221.7 846.8"/><path d="M187.2 959.0 L222.4 1057.1"/><path d="M187.2 846.8 L220.2 888.9 L236.8 888.9"/><path d="M187.2 902.9 L205.6 888.9"/><path d="M187.2 846.8 L203.5 846.8"/><path d="M187.2 930.9 L202.4 987.0 L222.5 987.0 L230.1 1071.1"/><path d="M187.2 959.0 L206.6 944.9"/><path d="M187.2 944.9 L204.8 987.0"/><path d="M187.2 846.8 L207.0 874.8 L237.9 916.9"/><path d="M187.2 944.9 L204.7 930.9 L222.0 930.9 L283.0 1071.1"/><path d="M187.2 860.8 L203.1 944.9"/><path d="M187.2 1029.1 L221.7 1099.2 L241.3 1099.2"/><path d="M187.2 916.9 L222.9 973.0 L258.2 1113.2 L284.7 1169.3 L323.2 1267.4"/><path d="M187.2 973.0 L250.2 1015.0 L295.6 1085.1 L309.8 1113.2"/><path d="M187.2 1085.1 L206.8 1057.1 L222.1 1141.2"/><path d="M187.2 888.9 L222.0 944.9 L235.4 944.9"/><path d="M187.2 916.9 L204.8 888.9 L219.4 930.9"/><path d="M187.2 846.8 L202.7 930.9 L219.8 959.0 L267.3 1043.1"/><path d="M187.2 846.8 L204.3 846.8 L223.2 846.8 L261.9 902.9 L262.3 874.8"/><path d="M187.2 888.9 L221.7 930.9"/><path d="M187.2 1211.3 L204.2 1253.4 L221.4 1267.4"/></g><g fill="none" stroke="#4668c8" stroke-width="1.2" stroke-opacity="0.42" clip-path="url(#clipC)"><path d="M187.2 874.8 L222.5 888.9 L252.3 888.9"/><path d="M187.2 902.9 L203.2 902.9 L258.7 888.9 L293.7 888.9 L325.7 888.9 L330.7 916.9"/><path d="M187.2 916.9 L220.9 860.8"/><path d="M187.2 930.9 L222.3 930.9 L253.0 916.9"/><path d="M187.2 902.9 L205.1 930.9 L220.6 916.9"/><path d="M187.2 916.9 L220.8 888.9"/><path d="M187.2 846.8 L221.0 860.8 L264.4 846.8 L289.5 846.8 L394.0 888.9 L464.0 902.9"/><path d="M187.2 860.8 L223.1 860.8 L254.5 874.8 L291.9 860.8 L323.1 930.9 L365.4 874.8"/><path d="M187.2 860.8 L221.6 860.8 L229.6 860.8"/><path d="M187.2 860.8 L222.6 874.8 L287.3 888.9 L329.9 888.9"/><path d="M187.2 916.9 L204.5 902.9 L222.1 888.9 L328.5 930.9 L359.4 959.0 L392.7 959.0 L426.3 973.0 L537.8 1001.0 L568.9 1029.1"/><path d="M187.2 846.8 L221.3 846.8 L239.1 874.8"/><path d="M187.2 930.9 L221.0 930.9 L265.7 874.8 L291.3 902.9 L329.4 874.8 L345.7 916.9"/><path d="M187.2 902.9 L204.1 902.9 L221.9 902.9 L254.0 902.9 L257.6 888.9"/><path d="M187.2 874.8 L219.0 860.8 L255.5 860.8"/><path d="M187.2 902.9 L219.6 902.9 L260.0 902.9 L300.8 902.9 L323.7 888.9 L401.7 944.9"/><path d="M187.2 888.9 L202.6 902.9 L222.2 902.9 L254.2 860.8 L292.9 888.9 L318.4 902.9"/><path d="M187.2 874.8 L223.0 860.8 L256.3 902.9 L329.5 916.9"/><path d="M187.2 902.9 L220.0 888.9 L257.2 902.9 L289.2 916.9 L321.1 944.9 L367.6 944.9 L395.0 944.9 L431.7 959.0 L437.2 944.9"/><path d="M395.0 846.8 L498.9 846.8 L613.1 846.8 L678.9 888.9"/></g><g fill="none" stroke="#2f8a55" stroke-width="1.2" stroke-opacity="0.32" clip-path="url(#clipC)"><path d="M187.2 888.9 L204.0 874.8 L221.8 874.8 L297.6 846.8 L328.6 860.8 L358.8 846.8 L428.8 846.8 L495.3 860.8 L535.1 846.8"/><path d="M187.2 846.8 L204.7 846.8 L221.1 860.8"/><path d="M187.2 846.8 L221.8 846.8 L260.8 846.8 L293.6 860.8 L358.2 874.8 L373.6 860.8"/><path d="M187.2 846.8 L204.8 860.8"/><path d="M187.2 846.8 L221.1 846.8"/><path d="M187.2 888.9 L224.0 874.8 L254.6 874.8 L296.6 874.8"/><path d="M187.2 846.8 L203.0 860.8 L221.2 874.8"/><path d="M187.2 888.9 L204.2 860.8 L221.8 860.8 L261.0 888.9 L266.1 874.8"/><path d="M187.2 860.8 L205.7 860.8 L222.0 860.8 L259.0 874.8 L327.0 860.8"/><path d="M187.2 888.9 L256.6 860.8 L291.1 874.8 L333.2 874.8 L362.3 888.9"/><path d="M187.2 888.9 L222.8 902.9 L259.4 902.9"/><path d="M187.2 916.9 L223.0 902.9 L236.1 902.9"/><path d="M187.2 888.9 L223.6 874.8 L259.4 902.9 L294.1 888.9"/><path d="M187.2 874.8 L204.8 888.9 L222.0 902.9 L258.4 874.8 L276.6 888.9"/><path d="M187.2 874.8 L221.3 874.8 L256.1 874.8"/><path d="M187.2 888.9 L222.3 902.9 L263.2 902.9"/><path d="M187.2 846.8 L223.1 846.8 L249.0 846.8"/><path d="M187.2 874.8 L205.1 846.8 L223.1 846.8 L256.1 860.8 L288.7 846.8 L319.5 846.8"/><path d="M187.2 888.9 L256.4 902.9"/><path d="M187.2 874.8 L222.1 846.8 L251.2 860.8 L290.7 874.8 L315.9 860.8 L358.1 860.8"/><path d="M187.2 846.8 L256.0 846.8 L267.6 846.8"/><path d="M187.2 846.8 L202.8 846.8"/><path d="M187.2 874.8 L289.6 860.8 L330.2 874.8 L344.1 846.8"/><path d="M187.2 916.9 L205.3 888.9 L260.9 902.9 L324.0 902.9 L359.9 888.9 L396.3 902.9 L434.0 888.9 L465.7 888.9 L569.0 902.9"/><path d="M187.2 860.8 L203.7 846.8 L220.9 846.8 L257.2 846.8 L321.8 846.8 L356.7 846.8 L396.4 846.8 L458.6 846.8 L499.5 846.8 L510.7 846.8"/><path d="M187.2 888.9 L203.5 888.9 L220.6 860.8 L258.8 874.8 L294.3 860.8 L322.4 860.8 L352.9 874.8 L364.6 860.8"/><path d="M187.2 846.8 L204.3 846.8 L222.1 846.8"/><path d="M187.2 888.9 L220.8 874.8"/><path d="M187.2 860.8 L323.0 888.9 L361.9 874.8 L392.9 874.8"/><path d="M187.2 846.8 L222.7 846.8 L248.5 846.8"/><path d="M187.2 860.8 L220.7 874.8 L263.4 846.8 L287.4 874.8 L322.8 874.8 L396.6 874.8 L431.1 888.9"/><path d="M187.2 860.8 L221.2 888.9 L254.2 860.8 L265.7 874.8"/><path d="M187.2 846.8 L204.2 846.8 L222.9 846.8 L256.8 846.8 L323.6 846.8 L363.9 860.8 L393.5 846.8 L426.6 874.8 L496.1 874.8 L531.6 860.8 L568.6 874.8 L598.4 888.9"/><path d="M187.2 902.9 L223.0 888.9 L253.1 902.9 L296.1 888.9 L324.1 902.9 L369.4 888.9 L398.9 888.9 L432.3 874.8 L465.4 888.9 L493.4 888.9 L532.5 888.9"/><path d="M187.2 874.8 L222.1 860.8 L291.3 860.8 L330.0 874.8 L396.5 874.8"/><path d="M187.2 902.9 L221.9 888.9 L261.2 902.9 L325.4 916.9 L403.9 916.9 L409.6 916.9"/><path d="M187.2 874.8 L203.5 874.8 L255.4 860.8 L300.0 860.8 L336.1 846.8 L363.9 846.8 L405.1 860.8 L414.1 860.8"/><path d="M187.2 930.9 L202.3 916.9 L221.6 902.9 L329.8 930.9"/><path d="M187.2 846.8 L253.3 846.8 L331.8 860.8 L364.2 846.8 L398.8 846.8 L429.0 846.8 L473.6 860.8 L501.0 846.8 L538.8 846.8"/><path d="M187.2 902.9 L219.1 916.9 L255.1 902.9 L292.6 916.9 L320.8 944.9 L361.0 902.9 L394.7 930.9"/><path d="M187.2 902.9 L224.3 888.9 L250.8 888.9 L297.0 888.9 L330.1 888.9 L400.8 888.9 L436.0 888.9 L459.4 888.9 L467.3 874.8"/><path d="M187.2 846.8 L204.1 860.8 L223.7 860.8 L255.0 846.8 L292.7 846.8"/><path d="M187.2 874.8 L255.1 902.9 L290.4 888.9 L359.6 902.9 L436.6 902.9"/><path d="M187.2 860.8 L288.5 902.9"/><path d="M187.2 846.8 L222.9 874.8 L243.5 860.8 L292.5 860.8 L328.7 860.8"/><path d="M187.2 874.8 L254.5 874.8"/><path d="M187.2 874.8 L222.0 860.8"/><path d="M187.2 874.8 L223.3 874.8 L255.0 874.8 L280.0 874.8 L328.9 874.8 L360.8 874.8 L392.3 874.8"/><path d="M187.2 874.8 L203.2 888.9 L258.4 874.8"/><path d="M187.2 888.9 L224.0 888.9 L254.1 888.9 L293.2 888.9 L325.8 874.8 L363.4 902.9 L428.1 902.9"/><path d="M187.2 860.8 L204.4 860.8 L219.6 860.8 L257.8 860.8 L289.4 874.8 L328.5 874.8 L356.9 860.8 L393.5 874.8"/><path d="M187.2 846.8 L204.4 846.8 L221.3 846.8 L301.3 846.8"/><path d="M187.2 860.8 L222.0 846.8 L259.3 846.8 L292.9 846.8"/><path d="M187.2 846.8 L204.9 860.8 L223.0 860.8 L256.0 860.8 L283.5 846.8 L366.9 846.8 L401.5 860.8 L422.6 846.8 L460.2 860.8 L506.0 860.8"/><path d="M187.2 888.9 L204.4 888.9 L221.5 902.9 L260.1 902.9"/><path d="M187.2 846.8 L204.0 846.8 L258.3 874.8 L323.5 860.8 L358.8 846.8"/><path d="M187.2 846.8 L205.1 846.8 L223.2 846.8 L259.7 846.8 L292.2 846.8"/><path d="M187.2 874.8 L294.6 888.9 L327.2 888.9"/><path d="M187.2 846.8 L222.5 846.8 L292.4 846.8 L328.5 846.8 L360.2 846.8 L387.3 846.8 L459.4 846.8 L503.2 846.8"/><path d="M187.2 846.8 L222.1 860.8 L253.9 860.8"/><path d="M187.2 874.8 L221.6 888.9 L250.5 888.9 L283.8 874.8 L322.9 888.9 L361.3 888.9 L425.4 888.9"/><path d="M187.2 874.8 L221.8 874.8 L254.8 874.8 L322.9 860.8"/><path d="M187.2 846.8 L221.2 860.8 L252.0 846.8 L289.8 874.8"/><path d="M187.2 916.9 L204.8 874.8 L222.4 902.9 L291.9 888.9 L360.0 888.9"/><path d="M187.2 888.9 L205.1 874.8 L220.1 874.8 L290.2 874.8 L321.4 888.9 L356.0 874.8 L388.8 888.9 L435.7 888.9 L466.5 888.9 L506.1 902.9"/><path d="M187.2 888.9 L204.4 888.9 L221.6 888.9"/><path d="M187.2 888.9 L206.3 888.9 L220.4 888.9 L261.6 888.9 L313.1 902.9"/><path d="M187.2 874.8 L204.3 860.8 L303.7 860.8 L359.3 874.8 L395.9 888.9 L429.0 888.9 L456.6 888.9"/><path d="M187.2 860.8 L248.9 874.8 L290.2 860.8 L293.4 860.8"/><path d="M187.2 874.8 L222.8 902.9 L246.1 874.8 L293.4 902.9 L327.0 902.9 L392.2 916.9 L426.7 902.9 L464.5 930.9 L492.6 916.9"/><path d="M187.2 874.8 L203.2 874.8 L221.6 874.8 L261.9 860.8 L289.3 860.8"/><path d="M187.2 888.9 L256.1 874.8 L291.0 888.9"/><path d="M187.2 902.9 L221.6 888.9 L259.0 888.9 L295.0 902.9 L321.4 902.9 L363.8 902.9 L375.1 902.9"/><path d="M187.2 846.8 L221.9 860.8"/><path d="M187.2 874.8 L222.9 860.8 L254.8 888.9 L290.5 846.8"/><path d="M187.2 860.8 L222.5 846.8 L252.3 846.8"/><path d="M187.2 888.9 L221.4 916.9 L330.3 916.9"/><path d="M187.2 874.8 L205.3 846.8 L262.5 846.8 L288.9 846.8"/><path d="M187.2 846.8 L202.8 860.8 L222.1 846.8 L261.4 846.8 L288.6 860.8"/><path d="M187.2 888.9 L222.0 860.8 L293.8 888.9 L332.3 860.8 L359.0 888.9 L378.8 874.8"/><path d="M187.2 846.8 L222.2 860.8 L254.2 888.9 L288.0 888.9 L360.4 846.8"/><path d="M187.2 846.8 L203.4 874.8 L221.3 874.8 L257.5 860.8 L287.8 874.8 L321.7 874.8 L361.7 888.9 L395.4 888.9 L429.9 860.8 L457.5 874.8 L494.7 888.9 L536.6 902.9 L579.6 902.9 L599.7 916.9"/><path d="M187.2 846.8 L204.2 846.8 L222.0 860.8"/><path d="M187.2 846.8 L223.6 860.8"/><path d="M187.2 860.8 L204.8 846.8 L221.4 860.8 L361.1 846.8 L394.1 846.8 L431.2 860.8 L465.1 860.8 L543.6 860.8 L569.1 860.8 L605.6 860.8 L613.1 860.8"/><path d="M187.2 860.8 L205.0 860.8 L220.0 860.8 L249.6 846.8 L298.3 846.8"/><path d="M187.2 888.9 L221.9 888.9"/><path d="M187.2 888.9 L220.8 888.9 L286.2 874.8 L362.0 874.8 L431.4 888.9 L467.2 874.8"/><path d="M187.2 860.8 L204.3 860.8 L221.0 874.8 L259.1 846.8 L299.1 846.8 L322.9 860.8 L354.8 860.8"/><path d="M187.2 888.9 L223.3 874.8 L253.9 860.8 L293.0 888.9 L323.7 874.8"/><path d="M187.2 888.9 L207.0 902.9 L221.3 874.8 L261.9 888.9 L331.5 874.8 L358.7 902.9"/><path d="M187.2 860.8 L220.1 846.8 L327.7 888.9 L354.4 860.8 L425.9 846.8 L504.5 874.8"/><path d="M187.2 874.8 L222.9 888.9 L257.3 888.9 L258.6 902.9"/><path d="M187.2 874.8 L223.4 846.8"/><path d="M187.2 860.8 L223.1 874.8 L252.4 874.8 L290.3 888.9"/><path d="M187.2 860.8 L206.2 846.8 L221.0 846.8 L256.4 846.8 L328.2 846.8 L399.0 874.8 L466.5 846.8 L503.8 860.8 L531.4 860.8 L542.2 860.8"/><path d="M187.2 846.8 L220.7 846.8 L253.6 846.8 L283.8 846.8"/><path d="M187.2 916.9 L220.5 888.9 L260.6 874.8 L317.2 888.9 L328.6 888.9"/><path d="M187.2 846.8 L204.1 846.8 L221.8 846.8 L261.3 846.8 L286.1 846.8"/><path d="M187.2 888.9 L221.3 860.8 L260.0 888.9 L297.7 888.9 L359.4 902.9 L395.2 916.9 L459.4 902.9 L501.8 930.9 L530.9 944.9 L558.1 930.9 L602.6 916.9"/><path d="M187.2 846.8 L221.2 846.8 L255.2 846.8 L323.4 846.8 L357.7 860.8 L409.4 860.8"/><path d="M187.2 888.9 L204.5 916.9 L222.9 902.9 L257.3 916.9 L318.0 888.9 L426.8 916.9 L468.4 902.9 L497.9 916.9 L534.1 902.9 L599.3 930.9 L613.1 916.9"/><path d="M187.2 902.9 L222.7 860.8 L249.4 860.8"/><path d="M187.2 846.8 L204.9 846.8 L220.5 846.8 L257.2 846.8 L291.6 846.8 L310.1 846.8"/><path d="M187.2 846.8 L260.2 846.8 L289.2 846.8 L332.0 860.8"/><path d="M187.2 846.8 L220.5 846.8 L255.9 860.8 L286.2 874.8 L323.9 846.8 L360.8 860.8 L400.2 860.8 L465.2 860.8 L465.8 874.8"/><path d="M187.2 846.8 L206.2 846.8 L221.9 846.8 L259.6 846.8 L327.3 846.8 L355.8 846.8"/><path d="M187.2 860.8 L203.7 874.8"/><path d="M187.2 874.8 L221.1 888.9 L291.5 874.8 L328.9 874.8 L353.0 888.9 L388.7 902.9 L433.6 902.9 L496.5 902.9"/><path d="M187.2 860.8 L204.5 888.9 L223.8 874.8 L259.7 888.9 L292.8 860.8 L307.0 874.8"/><path d="M187.2 860.8 L249.4 860.8 L296.7 860.8"/><path d="M187.2 916.9 L223.0 902.9 L253.0 916.9 L292.0 888.9 L363.9 888.9 L394.9 916.9 L425.6 888.9 L463.2 874.8 L526.0 888.9"/><path d="M187.2 846.8 L205.2 846.8 L253.6 846.8 L298.1 846.8 L325.2 846.8 L332.3 846.8"/><path d="M187.2 874.8 L220.4 888.9 L287.9 860.8 L330.0 874.8 L358.7 860.8 L397.0 874.8 L433.1 874.8 L496.0 874.8 L527.1 888.9 L556.1 888.9"/><path d="M187.2 860.8 L222.3 846.8 L258.1 860.8 L299.3 846.8 L354.4 860.8 L393.4 846.8 L428.9 860.8 L494.2 860.8"/><path d="M187.2 888.9 L221.2 874.8 L253.2 888.9 L324.0 874.8"/><path d="M187.2 902.9 L221.0 916.9"/><path d="M187.2 846.8 L221.3 846.8 L256.7 846.8"/><path d="M187.2 846.8 L221.9 846.8 L255.3 846.8"/><path d="M187.2 846.8 L222.7 846.8 L255.4 846.8 L289.5 846.8"/><path d="M187.2 930.9 L254.5 916.9 L288.8 916.9 L324.7 916.9 L366.8 916.9 L400.7 930.9 L434.0 930.9"/><path d="M187.2 846.8 L220.8 860.8 L252.3 860.8 L287.9 860.8 L328.5 874.8 L376.6 860.8"/><path d="M187.2 888.9 L221.7 888.9 L250.7 902.9"/><path d="M187.2 902.9 L222.9 916.9 L283.1 944.9"/><path d="M187.2 874.8 L203.9 916.9 L223.8 916.9 L253.5 902.9 L289.3 916.9"/><path d="M187.2 902.9 L204.7 874.8 L221.4 888.9 L255.0 874.8 L280.8 888.9 L323.1 874.8 L326.4 874.8"/><path d="M187.2 846.8 L262.3 846.8 L327.3 846.8 L344.4 846.8"/><path d="M187.2 902.9 L305.8 930.9"/><path d="M187.2 860.8 L204.8 846.8 L256.7 860.8 L293.5 860.8 L326.1 860.8 L464.7 874.8 L498.3 874.8 L531.4 874.8 L561.1 874.8"/><path d="M187.2 874.8 L205.2 860.8 L223.2 860.8"/><path d="M187.2 888.9 L220.8 874.8 L248.9 874.8 L326.3 888.9 L362.0 888.9"/><path d="M187.2 860.8 L251.3 860.8"/><path d="M187.2 874.8 L204.3 874.8"/><path d="M187.2 846.8 L203.5 874.8 L223.3 860.8 L260.0 874.8 L294.7 860.8 L326.7 874.8 L359.0 874.8 L394.4 874.8 L423.8 846.8 L437.5 874.8"/><path d="M187.2 888.9 L253.4 888.9 L284.9 902.9 L324.5 902.9 L355.7 902.9 L392.3 902.9 L430.9 888.9 L465.5 902.9"/><path d="M187.2 846.8 L223.1 860.8 L253.7 874.8 L269.8 888.9"/><path d="M187.2 874.8 L222.8 860.8"/><path d="M187.2 902.9 L222.0 888.9 L254.4 888.9"/><path d="M187.2 888.9 L221.5 888.9 L241.8 874.8"/><path d="M187.2 860.8 L222.7 860.8 L259.4 860.8"/><path d="M187.2 874.8 L203.9 860.8 L221.4 860.8"/><path d="M187.2 846.8 L221.7 874.8 L250.5 874.8 L296.0 860.8 L326.3 874.8 L345.4 888.9"/><path d="M187.2 860.8 L204.4 846.8 L222.2 846.8 L255.5 860.8 L333.5 874.8 L360.1 846.8 L393.4 860.8 L462.4 874.8 L501.6 860.8"/><path d="M187.2 874.8 L204.2 874.8 L247.4 874.8 L294.4 860.8 L367.1 874.8"/><path d="M187.2 846.8 L204.8 846.8"/><path d="M187.2 874.8 L223.2 874.8 L251.7 874.8"/><path d="M187.2 860.8 L221.9 860.8 L248.4 888.9 L328.1 888.9 L395.9 902.9"/><path d="M187.2 930.9 L258.0 916.9 L290.6 930.9 L324.9 916.9 L361.6 916.9 L389.8 944.9 L503.1 902.9 L533.7 930.9 L535.7 930.9"/><path d="M187.2 874.8 L204.6 860.8 L221.0 874.8 L290.3 860.8 L328.4 860.8 L360.5 874.8 L396.7 860.8"/><path d="M187.2 874.8 L222.0 888.9"/><path d="M187.2 874.8 L220.8 860.8 L256.2 860.8 L290.0 846.8 L323.4 860.8 L345.7 846.8"/><path d="M187.2 860.8 L221.0 860.8 L256.5 860.8 L292.1 860.8 L329.2 860.8"/><path d="M187.2 888.9 L205.1 902.9 L220.9 888.9 L255.2 874.8 L297.0 888.9 L330.6 874.8 L361.9 888.9"/><path d="M187.2 874.8 L206.2 874.8 L223.7 874.8 L258.3 860.8 L327.2 888.9 L401.2 888.9 L468.0 902.9 L493.5 888.9 L533.4 888.9 L570.4 916.9 L574.4 874.8"/><path d="M187.2 860.8 L221.6 874.8"/><path d="M187.2 860.8 L261.8 888.9"/><path d="M187.2 846.8 L203.0 860.8 L221.2 846.8 L323.5 874.8 L357.7 860.8 L398.1 874.8"/><path d="M187.2 874.8 L222.9 888.9 L259.7 874.8 L279.6 888.9"/><path d="M187.2 846.8 L204.9 860.8 L293.4 860.8 L327.2 846.8 L392.2 874.8"/><path d="M187.2 916.9 L204.5 944.9 L223.6 916.9"/><path d="M187.2 846.8 L204.7 860.8 L221.8 846.8 L258.6 846.8 L265.7 860.8"/><path d="M187.2 846.8 L222.1 846.8 L232.9 846.8"/><path d="M187.2 888.9 L250.4 888.9 L328.5 888.9 L353.0 902.9 L396.7 888.9 L430.4 902.9 L535.9 916.9 L567.1 888.9"/><path d="M187.2 846.8 L220.7 860.8 L262.1 860.8 L325.1 874.8 L365.2 846.8 L393.3 860.8 L465.7 860.8 L495.7 860.8 L537.9 874.8 L604.0 902.9 L613.1 860.8"/><path d="M187.2 846.8 L204.0 846.8 L220.8 846.8 L255.4 846.8"/><path d="M187.2 860.8 L221.7 860.8 L257.6 874.8 L290.1 874.8 L361.1 860.8 L395.0 874.8 L423.3 860.8"/><path d="M187.2 846.8 L223.1 846.8 L265.8 846.8 L290.9 860.8 L323.5 846.8 L365.2 846.8 L431.0 846.8"/><path d="M187.2 902.9 L204.7 902.9"/><path d="M187.2 860.8 L205.6 860.8 L220.7 860.8 L292.6 874.8 L376.1 860.8"/><path d="M187.2 874.8 L262.6 860.8 L291.8 846.8 L364.0 860.8 L396.2 860.8 L429.0 860.8 L465.1 860.8 L500.4 860.8 L537.0 846.8"/><path d="M187.2 860.8 L204.7 860.8 L223.5 846.8 L263.0 846.8 L289.5 860.8 L325.2 846.8 L360.1 846.8 L392.8 846.8 L420.7 846.8 L460.3 846.8 L473.4 846.8"/><path d="M187.2 846.8 L204.3 846.8 L220.6 860.8 L360.7 846.8"/><path d="M187.2 888.9 L287.6 846.8 L323.3 902.9 L360.1 874.8 L425.4 874.8 L458.2 888.9 L507.0 888.9 L529.7 888.9 L574.4 888.9 L602.3 902.9 L613.1 902.9"/><path d="M187.2 846.8 L222.0 846.8"/><path d="M187.2 860.8 L292.0 874.8 L327.6 846.8 L359.9 888.9 L392.3 860.8 L410.2 860.8"/><path d="M187.2 874.8 L223.0 860.8 L256.5 860.8 L324.8 874.8 L358.6 902.9 L396.8 888.9 L428.5 874.8 L465.0 888.9 L497.0 902.9 L536.6 888.9 L537.1 888.9"/><path d="M187.2 846.8 L221.7 846.8 L288.0 846.8 L328.9 846.8 L356.5 846.8"/><path d="M187.2 888.9 L221.7 888.9 L247.1 888.9 L293.2 902.9 L325.8 902.9 L395.9 888.9 L427.8 902.9"/><path d="M187.2 874.8 L220.9 860.8 L295.5 860.8 L327.6 874.8 L363.6 874.8 L390.1 846.8"/><path d="M187.2 860.8 L223.1 846.8"/><path d="M187.2 874.8 L205.5 860.8 L220.8 888.9 L253.3 860.8"/><path d="M187.2 888.9 L222.7 860.8 L252.4 860.8"/><path d="M187.2 846.8 L205.0 846.8"/><path d="M187.2 902.9 L220.3 902.9 L289.6 916.9 L326.7 902.9"/><path d="M187.2 874.8 L204.4 874.8 L221.0 874.8"/><path d="M187.2 888.9 L220.9 888.9 L250.1 888.9"/><path d="M187.2 874.8 L221.6 888.9 L257.0 888.9 L298.2 902.9 L316.4 902.9"/><path d="M187.2 846.8 L203.8 874.8 L220.4 846.8 L264.2 874.8 L327.6 888.9 L364.0 874.8 L434.6 888.9 L435.7 902.9"/><path d="M187.2 860.8 L203.1 874.8"/><path d="M187.2 874.8 L259.8 874.8 L293.4 874.8"/><path d="M187.2 860.8 L222.3 888.9 L259.5 888.9 L321.0 874.8 L362.5 874.8 L393.5 888.9 L425.3 874.8 L473.7 888.9 L530.5 902.9"/><path d="M187.2 846.8 L204.9 846.8 L223.8 846.8"/><path d="M187.2 860.8 L204.6 860.8 L223.7 860.8 L259.1 888.9 L323.8 874.8"/><path d="M187.2 874.8 L253.4 902.9"/><path d="M187.2 846.8 L205.3 846.8 L220.3 846.8 L319.2 846.8 L362.8 860.8 L385.7 860.8"/><path d="M187.2 846.8 L223.0 860.8"/><path d="M187.2 874.8 L220.3 860.8 L290.8 860.8 L328.1 860.8 L355.4 860.8"/><path d="M187.2 874.8 L203.3 860.8"/><path d="M187.2 874.8 L203.6 860.8 L220.0 846.8 L259.6 860.8 L263.9 860.8"/><path d="M187.2 874.8 L204.6 846.8 L221.9 846.8 L261.0 874.8 L289.5 874.8"/><path d="M187.2 860.8 L207.9 874.8 L223.3 860.8 L253.6 888.9 L286.7 860.8 L325.7 874.8 L359.3 860.8"/><path d="M187.2 888.9 L221.6 874.8 L229.1 860.8"/><path d="M187.2 888.9 L221.2 888.9"/><path d="M187.2 860.8 L222.7 846.8"/><path d="M187.2 846.8 L221.5 846.8 L257.8 846.8"/><path d="M187.2 860.8 L202.7 846.8"/><path d="M187.2 860.8 L220.9 874.8 L362.5 888.9 L401.9 888.9"/><path d="M187.2 860.8 L204.0 860.8 L221.3 860.8 L290.5 846.8 L327.7 860.8 L400.6 874.8 L429.2 874.8 L470.8 902.9 L498.3 874.8"/><path d="M187.2 860.8 L204.0 888.9 L222.3 860.8"/><path d="M187.2 888.9 L204.0 874.8 L223.3 846.8 L260.0 888.9"/><path d="M187.2 874.8 L290.2 860.8 L325.5 888.9"/><path d="M187.2 860.8 L204.1 860.8 L221.4 860.8 L255.2 846.8 L360.4 860.8 L429.8 846.8 L463.4 860.8 L499.5 846.8 L541.4 846.8 L574.9 860.8 L598.5 888.9"/><path d="M187.2 846.8 L247.7 846.8 L300.2 846.8 L328.3 846.8 L361.8 846.8 L374.3 846.8"/><path d="M187.2 846.8 L206.0 846.8 L251.3 846.8 L294.3 860.8 L315.0 846.8 L391.3 846.8 L444.5 846.8"/><path d="M187.2 846.8 L253.2 874.8 L294.1 860.8 L332.7 846.8 L364.0 846.8 L396.0 888.9 L405.3 860.8"/><path d="M187.2 888.9 L224.0 874.8"/><path d="M187.2 846.8 L221.9 846.8 L260.7 846.8 L297.6 846.8 L336.6 846.8 L361.9 846.8 L399.2 846.8 L423.3 846.8 L461.9 860.8 L504.3 846.8 L565.5 846.8 L576.4 860.8"/><path d="M187.2 874.8 L221.4 860.8 L244.5 860.8 L292.1 874.8 L355.5 874.8 L397.0 888.9 L427.3 902.9 L465.9 888.9 L499.6 902.9 L531.4 916.9 L574.5 902.9 L599.2 888.9 L613.1 902.9"/><path d="M187.2 846.8 L204.1 846.8 L221.4 846.8 L267.3 846.8"/><path d="M187.2 846.8 L260.5 860.8 L296.9 860.8"/><path d="M187.2 860.8 L205.3 860.8 L223.5 846.8 L260.3 860.8 L293.8 860.8 L323.3 846.8 L353.3 860.8"/><path d="M187.2 874.8 L221.4 874.8 L257.4 860.8 L285.0 874.8"/><path d="M187.2 888.9 L257.1 874.8 L294.6 860.8 L320.0 874.8 L328.0 860.8"/><path d="M187.2 888.9 L204.3 874.8 L222.1 874.8 L259.6 874.8 L281.3 860.8 L322.4 888.9 L395.8 874.8 L428.4 888.9 L462.4 874.8"/><path d="M187.2 888.9 L205.6 888.9 L256.8 874.8 L291.2 874.8 L327.2 888.9"/><path d="M187.2 860.8 L205.8 860.8"/><path d="M187.2 860.8 L222.6 846.8 L246.8 860.8"/><path d="M187.2 902.9 L205.2 916.9 L221.4 916.9 L285.6 916.9 L326.6 902.9 L357.0 944.9 L390.6 930.9"/><path d="M187.2 860.8 L204.7 874.8 L255.9 874.8"/><path d="M187.2 846.8 L256.8 860.8 L288.3 860.8 L370.3 888.9 L395.5 874.8"/><path d="M187.2 860.8 L221.8 860.8 L260.2 874.8 L293.6 888.9 L327.0 874.8"/><path d="M187.2 902.9 L204.5 888.9 L222.9 888.9 L250.5 902.9 L287.7 888.9 L322.7 902.9 L366.7 888.9 L376.3 916.9"/><path d="M187.2 860.8 L207.1 860.8 L222.5 846.8 L241.1 888.9"/><path d="M187.2 874.8 L204.2 888.9 L221.8 874.8"/><path d="M187.2 902.9 L204.2 916.9 L249.3 916.9 L290.1 902.9"/><path d="M187.2 846.8 L222.0 846.8"/><path d="M187.2 888.9 L203.8 888.9 L222.4 874.8 L249.7 888.9 L295.5 888.9"/><path d="M187.2 874.8 L205.7 888.9 L222.8 888.9"/><path d="M187.2 916.9 L289.6 888.9 L321.3 902.9 L326.8 888.9"/><path d="M187.2 846.8 L221.3 846.8"/><path d="M187.2 888.9 L222.1 874.8 L254.8 902.9 L294.8 888.9 L326.2 888.9 L357.9 888.9"/><path d="M187.2 860.8 L204.1 874.8 L224.3 874.8"/><path d="M187.2 874.8 L202.9 874.8 L220.9 874.8 L297.4 902.9 L324.2 902.9 L360.3 902.9 L392.8 916.9 L429.5 916.9 L465.3 916.9 L528.5 959.0 L570.2 916.9"/><path d="M187.2 860.8 L222.6 860.8 L249.9 874.8 L293.8 860.8 L353.6 860.8 L392.7 874.8 L431.4 874.8 L460.0 860.8 L496.9 860.8 L540.8 874.8 L563.5 860.8 L605.4 874.8"/><path d="M187.2 874.8 L222.2 874.8 L245.7 860.8"/><path d="M187.2 916.9 L221.1 902.9 L253.0 888.9 L289.7 916.9"/><path d="M187.2 902.9 L206.1 902.9 L220.4 888.9 L255.3 902.9 L278.8 902.9 L324.2 902.9 L364.0 930.9 L394.7 916.9 L431.4 930.9 L468.9 930.9"/><path d="M187.2 888.9 L204.0 902.9 L220.0 874.8 L261.3 874.8 L290.2 860.8 L362.5 888.9 L399.2 874.8 L464.8 874.8"/><path d="M187.2 888.9 L223.9 902.9 L295.5 888.9 L309.0 874.8"/><path d="M187.2 888.9 L204.8 888.9 L221.9 888.9 L256.2 860.8 L299.8 860.8 L327.1 860.8 L367.1 860.8 L425.6 846.8 L461.8 846.8 L499.4 860.8 L570.2 846.8 L603.5 846.8"/><path d="M187.2 860.8 L220.7 860.8 L300.2 846.8 L330.0 860.8 L363.2 860.8 L452.5 846.8"/><path d="M187.2 874.8 L221.9 874.8 L255.5 860.8 L285.2 874.8"/><path d="M187.2 902.9 L202.2 888.9 L221.8 874.8 L235.1 888.9"/><path d="M187.2 902.9 L222.7 888.9 L245.6 888.9 L287.5 888.9 L326.3 860.8 L363.6 888.9 L427.3 860.8 L454.2 888.9 L496.3 874.8"/><path d="M187.2 874.8 L223.3 874.8"/><path d="M187.2 846.8 L221.5 846.8 L260.6 846.8 L284.9 860.8 L326.2 846.8 L366.9 846.8 L389.5 846.8"/><path d="M187.2 888.9 L221.6 888.9 L288.6 888.9 L322.7 888.9 L367.2 888.9 L394.1 902.9 L423.4 902.9 L461.9 930.9 L492.0 902.9 L539.1 930.9 L577.2 902.9"/><path d="M187.2 902.9 L204.2 902.9 L222.7 916.9 L248.4 930.9"/><path d="M187.2 874.8 L219.5 888.9 L256.4 874.8 L293.3 874.8 L363.7 888.9 L428.3 916.9 L455.7 888.9 L473.9 902.9"/><path d="M187.2 860.8 L204.3 874.8 L222.1 846.8 L259.5 846.8 L270.7 860.8"/><path d="M187.2 846.8 L221.8 860.8 L231.6 860.8"/><path d="M187.2 916.9 L239.7 902.9"/><path d="M187.2 860.8 L221.8 846.8 L259.0 860.8"/><path d="M187.2 860.8 L222.6 846.8 L230.5 860.8"/><path d="M187.2 874.8 L261.3 888.9 L287.5 860.8"/><path d="M187.2 916.9 L223.0 916.9 L249.7 902.9 L363.7 916.9"/><path d="M187.2 888.9 L205.7 874.8 L258.3 916.9 L287.4 888.9 L326.0 888.9 L362.5 888.9 L398.5 916.9 L431.2 888.9"/><path d="M187.2 846.8 L204.2 846.8 L221.4 846.8 L256.6 860.8 L298.4 846.8"/><path d="M187.2 874.8 L204.8 874.8 L221.8 874.8 L260.0 860.8 L286.9 874.8"/><path d="M187.2 888.9 L204.6 902.9 L221.6 888.9 L325.2 874.8 L358.3 874.8 L428.1 888.9 L463.7 874.8 L530.1 888.9 L570.5 846.8 L605.5 902.9"/><path d="M187.2 874.8 L204.5 860.8 L221.0 846.8 L255.4 860.8 L285.4 874.8 L331.5 860.8 L360.1 860.8 L399.4 860.8 L399.5 846.8"/><path d="M187.2 888.9 L204.4 888.9 L219.4 888.9 L256.7 888.9 L296.5 888.9 L325.7 902.9 L358.8 902.9"/><path d="M187.2 888.9 L222.1 888.9 L290.9 874.8"/><path d="M187.2 846.8 L286.2 860.8"/><path d="M187.2 846.8 L221.5 846.8 L252.4 846.8 L316.5 846.8 L362.7 846.8 L396.5 846.8 L461.1 846.8"/><path d="M187.2 860.8 L222.0 846.8 L263.0 874.8 L317.1 874.8 L387.2 888.9"/><path d="M187.2 860.8 L220.8 860.8 L263.5 888.9 L281.9 860.8 L324.9 888.9 L361.1 888.9 L361.5 902.9"/><path d="M187.2 888.9 L221.7 902.9 L257.4 888.9 L291.8 902.9 L323.0 888.9 L355.2 888.9 L390.6 888.9"/><path d="M187.2 902.9 L222.2 874.8 L249.1 902.9"/><path d="M187.2 874.8 L258.7 874.8 L284.8 874.8 L328.4 860.8 L332.5 874.8"/><path d="M187.2 888.9 L223.1 874.8 L259.0 888.9 L293.4 874.8 L363.1 874.8 L425.1 888.9 L460.6 874.8 L503.3 888.9 L533.7 874.8"/><path d="M187.2 874.8 L220.9 874.8 L253.9 888.9 L294.0 874.8 L326.1 860.8 L401.1 888.9 L426.0 860.8 L461.4 860.8 L566.4 888.9 L587.3 874.8"/><path d="M429.6 846.8 L516.2 846.8 L575.1 846.8"/></g><g fill="none" stroke="#e8755a" stroke-width="1.2" stroke-opacity="0.4" clip-path="url(#clipD)"><path d="M941.2 1018.2 L976.3 1012.7"/><path d="M941.2 952.3 L979.6 953.2"/><path d="M941.2 923.5 L961.1 925.6 L977.9 937.9 L993.8 948.0"/><path d="M941.2 934.5 L960.3 987.4 L974.3 1003.4 L1000.1 1000.0"/><path d="M941.2 1013.2 L974.8 1027.0"/><path d="M941.2 941.9 L976.8 969.5"/><path d="M941.2 999.7 L976.4 1009.7 L1012.6 1018.7"/><path d="M941.2 950.8 L996.6 1043.7"/><path d="M941.2 977.0 L1042.0 1035.5 L1074.6 1033.3 L1118.5 1053.3"/><path d="M941.2 864.7 L975.7 871.6 L1024.5 940.1"/><path d="M941.2 983.4 L976.0 978.3"/><path d="M941.2 1008.7 L974.3 1062.0 L1012.4 1095.6 L1067.1 1165.3"/><path d="M941.2 952.4 L959.1 1006.7"/><path d="M941.2 967.6 L1009.9 1078.8"/><path d="M941.2 937.1 L960.4 930.8 L1016.5 1032.5"/><path d="M941.2 991.3 L974.6 1009.9 L1012.3 1043.7"/><path d="M941.2 1054.2 L958.8 1044.8 L974.5 1089.7"/><path d="M941.2 1032.2 L958.9 1035.5"/><path d="M941.2 977.2 L958.9 983.6 L974.2 1045.3"/><path d="M941.2 928.0 L976.3 996.1 L1017.3 1020.6"/><path d="M941.2 920.2 L974.3 903.0 L1046.0 917.7 L1066.9 911.0"/><path d="M941.2 958.7 L960.9 979.1"/><path d="M941.2 910.7 L1006.8 995.5"/><path d="M941.2 900.6 L975.9 968.9 L1007.3 1021.1 L1045.6 1052.4"/><path d="M941.2 974.6 L970.7 1029.6 L1012.9 1073.3 L1040.2 1068.3"/><path d="M941.2 998.3 L978.0 1016.8 L1012.3 1053.5 L1044.7 1092.1 L1089.8 1122.1"/><path d="M941.2 889.6 L978.9 932.5 L1011.0 924.5"/><path d="M941.2 858.0 L955.9 887.9 L974.9 911.0"/><path d="M941.2 918.8 L975.1 904.2 L985.1 869.2"/><path d="M941.2 915.8 L975.4 922.5 L998.2 966.1"/><path d="M941.2 987.0 L959.8 999.2 L976.6 1029.6"/><path d="M941.2 1008.1 L961.1 1009.5"/><path d="M941.2 1004.2 L956.5 988.7"/><path d="M941.2 905.7 L957.9 911.3"/><path d="M941.2 949.7 L959.8 957.6"/><path d="M941.2 943.1 L974.9 958.5"/><path d="M941.2 1061.8 L955.9 1030.5 L977.1 1045.3 L1008.9 1080.4 L1037.3 1117.8 L1062.0 1128.7"/><path d="M941.2 932.2 L960.2 947.0 L977.6 943.2 L1046.3 1063.3"/><path d="M941.2 963.9 L990.6 1019.7"/><path d="M941.2 979.7 L975.8 967.6"/><path d="M941.2 960.1 L976.0 983.3 L1012.4 999.2 L1012.7 971.1"/><path d="M941.2 928.5 L1008.2 990.5 L1108.5 1121.1"/><path d="M941.2 1018.2 L975.9 1096.6"/><path d="M941.2 961.6 L974.4 1004.0 L1014.7 1092.6"/><path d="M941.2 984.2 L977.4 1003.5"/><path d="M941.2 1013.4 L979.5 1022.3 L1111.1 1093.1"/><path d="M941.2 949.4 L978.1 964.3 L1008.4 1015.2 L1043.6 1035.5"/><path d="M941.2 1013.4 L974.7 1042.4 L1011.5 1113.8 L1018.7 1110.9"/><path d="M941.2 991.5 L957.5 1017.7"/><path d="M941.2 951.2 L957.3 944.5"/><path d="M941.2 960.3 L975.2 960.5"/><path d="M941.2 964.9 L976.2 978.6 L1013.9 1017.6 L1049.1 1040.5"/><path d="M941.2 989.1 L958.9 982.0 L972.0 1037.8 L1046.7 1157.8 L1131.3 1303.6"/><path d="M941.2 999.7 L957.5 997.7 L976.2 1014.3"/><path d="M941.2 943.1 L977.2 989.6 L999.3 980.8"/><path d="M941.2 1008.2 L957.1 977.5 L970.7 1004.4 L1018.3 952.1"/><path d="M941.2 989.5 L976.6 1028.6 L1008.4 1034.1 L1112.0 1040.8 L1116.9 1053.8"/><path d="M941.2 953.6 L974.1 976.8"/><path d="M941.2 1038.0 L972.3 1098.4"/><path d="M941.2 912.0 L978.1 1005.8"/><path d="M941.2 1038.5 L959.7 1026.2 L974.4 1015.0"/><path d="M941.2 966.3 L974.9 1012.9"/><path d="M941.2 923.9 L959.2 926.6 L974.0 960.0 L1008.3 1017.0 L1047.7 1039.1 L1048.8 1042.8"/><path d="M941.2 927.0 L961.1 918.3 L1015.5 969.7 L1043.0 996.8"/><path d="M941.2 946.9 L955.2 1001.8 L1010.0 1118.6 L1012.6 1091.4"/><path d="M941.2 908.4 L974.4 961.4"/><path d="M941.2 868.2 L974.8 952.0 L1052.9 1017.6 L1082.5 1080.5 L1113.0 1151.9 L1131.3 1166.2"/><path d="M941.2 851.6 L959.7 871.4 L975.7 900.9 L1009.9 918.9 L1010.9 955.9"/><path d="M941.2 965.3 L960.6 960.4 L975.9 987.9 L1005.3 986.1 L1038.8 1017.3 L1052.6 1042.9"/><path d="M941.2 1025.8 L976.6 1099.2"/><path d="M941.2 850.6 L956.5 871.9 L1005.2 915.2"/><path d="M941.2 907.2 L957.5 950.2 L976.4 966.5"/><path d="M941.2 858.2 L960.2 850.5 L1048.3 937.5 L1064.7 945.2"/><path d="M941.2 923.3 L974.6 972.4 L1013.4 1003.5"/><path d="M941.2 1003.4 L976.3 1022.9 L991.8 1006.5"/><path d="M941.2 932.2 L973.4 1000.3"/><path d="M941.2 1029.4 L955.5 1033.4"/><path d="M941.2 938.5 L975.4 959.6 L1008.1 1011.6 L1021.0 1037.5"/><path d="M941.2 920.9 L974.8 951.6"/><path d="M941.2 898.0 L980.6 900.1"/><path d="M941.2 988.9 L1013.0 1090.6 L1042.2 1133.8"/><path d="M941.2 988.7 L974.9 1040.2 L1049.8 1069.3"/><path d="M941.2 917.1 L974.3 913.1 L1009.1 986.8 L1043.7 1036.1"/><path d="M941.2 946.0 L960.3 952.5 L1020.7 937.3"/><path d="M941.2 977.9 L956.8 975.9 L978.3 1003.8 L1011.3 1029.6 L1050.9 1056.4"/><path d="M941.2 917.0 L977.0 922.9"/><path d="M941.2 950.8 L976.5 999.9 L984.7 1008.1"/><path d="M941.2 921.5 L958.9 908.1"/><path d="M941.2 890.1 L975.1 878.7"/><path d="M941.2 891.1 L959.2 921.2 L987.8 925.8"/><path d="M941.2 950.0 L956.5 970.8 L975.7 972.3"/><path d="M941.2 878.3 L958.4 899.8 L990.1 968.9"/><path d="M941.2 982.9 L977.6 1018.9 L1004.9 1043.5"/><path d="M941.2 988.3 L977.0 1055.4 L986.5 1054.5"/><path d="M941.2 947.7 L972.7 974.4 L1009.7 1003.7 L1046.6 1034.4"/><path d="M941.2 890.7 L958.3 844.3"/><path d="M941.2 937.9 L976.0 1023.0 L1006.8 1012.5"/><path d="M941.2 970.4 L972.7 967.2 L994.9 968.0"/><path d="M941.2 1012.4 L959.1 1046.9"/><path d="M941.2 955.3 L955.5 941.5"/><path d="M941.2 951.3 L978.0 962.7 L1013.3 981.4 L1046.3 996.3 L1078.9 963.0 L1113.9 971.1 L1152.5 1003.2 L1176.8 999.1 L1286.6 1022.6 L1321.4 1011.7 L1327.8 1032.7"/><path d="M941.2 955.1 L975.5 980.4 L1006.6 990.1 L1082.9 1004.0"/><path d="M941.2 855.8 L971.6 882.7 L1011.9 907.8 L1078.2 913.3 L1107.2 939.9 L1153.4 954.9"/><path d="M941.2 939.7 L979.8 983.2 L1008.2 944.2 L1044.5 978.3 L1114.7 998.3 L1145.2 995.8 L1176.7 1007.1"/><path d="M941.2 945.6 L1011.5 943.7 L1043.9 951.4 L1063.3 949.9"/><path d="M941.2 884.9 L960.2 877.3 L977.6 895.8 L1083.7 919.2"/><path d="M941.2 943.0 L975.6 926.2 L1005.9 908.7 L1046.9 939.9"/><path d="M941.2 925.4 L1009.5 933.0 L1044.1 916.0 L1106.9 929.2"/><path d="M941.2 910.0 L957.5 910.3 L976.0 907.3 L1045.9 908.6 L1109.0 905.7 L1154.8 938.5"/><path d="M941.2 908.6 L962.0 934.0 L975.8 925.7 L1013.5 920.1 L1078.4 985.8"/><path d="M941.2 875.0 L957.0 880.6 L1003.8 886.0"/><path d="M941.2 920.5 L1078.6 938.8 L1215.7 1022.7"/><path d="M941.2 947.8 L958.3 917.1 L1005.4 956.0 L1082.3 975.2 L1178.8 987.3 L1217.2 1015.7 L1249.2 1038.2 L1321.4 1032.4"/><path d="M941.2 889.7 L958.0 902.9 L977.9 925.3 L1009.8 927.7 L1012.4 942.1"/><path d="M941.2 891.6 L956.9 916.3 L972.1 916.2"/><path d="M941.2 907.9 L976.0 929.3 L1014.7 909.7"/><path d="M941.2 904.5 L975.2 922.4 L1011.3 906.7 L1082.7 963.7"/><path d="M941.2 851.3 L960.0 845.9 L975.2 844.7 L1113.3 909.0 L1137.8 931.8"/><path d="M941.2 856.0 L959.7 872.2 L975.8 875.3 L1013.6 875.9 L1077.0 936.1"/><path d="M941.2 954.2 L957.4 924.2 L975.1 958.3 L1051.3 964.3"/><path d="M941.2 1011.1 L976.9 1019.6 L1011.4 1018.8"/><path d="M941.2 910.9 L960.8 952.6 L974.7 926.8 L1044.7 964.4 L1148.0 1031.2"/><path d="M941.2 892.7 L975.5 898.0"/><path d="M941.2 937.3 L957.4 973.0 L974.5 954.7 L1009.0 992.4 L1037.1 975.6"/><path d="M941.2 921.6 L977.2 892.7 L1009.2 937.8"/><path d="M941.2 870.4 L960.1 904.3 L975.1 897.1 L1014.5 893.3 L1042.8 887.3 L1119.2 907.0"/><path d="M941.2 985.7 L975.7 971.0 L989.3 980.5"/><path d="M941.2 867.7 L977.7 888.5 L1112.6 965.2 L1183.8 973.8 L1216.4 1025.2 L1229.1 1018.0"/><path d="M941.2 946.8 L974.1 926.7"/><path d="M941.2 858.0 L956.7 837.5"/><path d="M941.2 906.5 L956.8 910.3"/><path d="M941.2 956.7 L960.9 971.6 L978.3 990.1 L1019.7 1001.2"/><path d="M941.2 876.6 L958.9 907.2 L1009.9 880.6"/><path d="M941.2 902.9 L1077.3 955.2 L1247.0 1011.7 L1258.0 1037.6"/><path d="M941.2 948.0 L1008.8 953.1 L1039.3 980.0"/><path d="M941.2 886.4 L979.3 912.8 L1083.0 972.4 L1116.8 1003.0 L1215.9 1034.6 L1228.6 1050.2"/><path d="M941.2 948.9 L959.0 942.5 L979.3 954.3 L1005.3 972.8 L1050.6 983.9 L1087.2 1008.2"/><path d="M941.2 1019.6 L976.5 1018.1 L1009.2 1028.5 L1041.7 1059.6"/><path d="M941.2 882.3 L975.2 880.4 L1010.1 898.3 L1043.2 902.1 L1063.0 903.8"/><path d="M941.2 921.3 L957.5 906.5 L1042.4 913.1"/><path d="M941.2 854.5 L978.0 870.4 L1014.2 893.4"/><path d="M941.2 891.8 L974.6 862.4 L1010.5 862.2 L1039.8 866.9 L1076.2 868.0 L1120.9 879.1 L1147.6 838.9"/><path d="M941.2 925.9 L977.5 940.2"/><path d="M941.2 916.2 L987.2 921.2"/><path d="M941.2 946.1 L1040.6 941.5 L1065.5 925.9"/><path d="M941.2 915.1 L975.0 915.4 L1004.8 942.6"/><path d="M941.2 939.2 L1011.1 980.3 L1045.1 967.9 L1080.3 998.8 L1150.5 1029.1 L1184.5 1018.3 L1213.8 1032.1"/><path d="M941.2 889.5 L956.6 930.9 L974.8 922.8 L1015.4 968.9 L1117.0 973.6 L1128.9 948.1"/><path d="M941.2 886.2 L974.9 909.0 L1009.2 929.2 L1038.2 936.2 L1079.8 924.0 L1081.7 970.1"/><path d="M941.2 876.3 L976.0 923.6 L1018.6 942.7 L1044.9 960.0 L1075.3 985.8 L1122.8 1018.3"/><path d="M941.2 883.9 L978.0 901.1 L1010.0 905.7 L1041.9 931.0 L1055.9 911.6"/><path d="M941.2 889.1 L1002.6 923.5 L1038.2 927.8 L1051.5 961.4"/><path d="M941.2 859.1 L979.4 867.2 L1047.0 869.8 L1083.9 942.8 L1117.6 938.2 L1143.9 953.2 L1154.3 946.5"/><path d="M941.2 886.0 L977.5 901.1 L1039.5 900.7 L1078.7 925.0"/><path d="M941.2 930.7 L974.6 921.6 L1013.1 900.8 L1049.4 920.7 L1059.3 901.2"/><path d="M941.2 871.0 L973.9 885.0 L1017.9 905.7 L1043.5 919.8"/><path d="M941.2 855.5 L975.9 839.1"/><path d="M941.2 919.7 L958.4 933.7 L974.0 921.4 L1078.9 970.2 L1116.5 984.7 L1152.2 972.1 L1183.7 994.1 L1216.0 1025.7 L1243.0 1027.6 L1289.1 1031.3 L1321.4 1060.3"/><path d="M941.2 849.2 L976.6 847.9 L1009.6 854.9 L1051.2 886.4 L1081.3 939.0 L1110.3 898.7 L1148.4 942.5 L1243.8 1005.2"/><path d="M941.2 859.2 L958.2 842.7 L975.8 844.4 L1009.8 869.5 L1050.1 891.5 L1081.5 899.6 L1117.0 914.0 L1140.1 927.5 L1183.1 924.1 L1228.4 948.3 L1262.6 957.7"/><path d="M941.2 947.5 L956.6 930.6 L975.7 946.0 L1050.0 953.8 L1079.9 946.9 L1119.8 976.8"/><path d="M941.2 945.6 L960.9 961.2 L974.3 967.4 L1007.9 992.8 L1043.4 1020.0 L1085.9 1033.0 L1116.8 1049.8 L1151.8 1063.1 L1182.2 1083.8 L1216.0 1109.4 L1252.8 1146.9"/><path d="M941.2 865.6 L975.3 837.7"/><path d="M941.2 898.3 L976.6 928.4 L1004.5 969.2"/><path d="M941.2 861.9 L972.8 880.1 L1077.6 904.0 L1143.8 909.7 L1185.7 910.3"/><path d="M941.2 873.7 L977.7 885.2"/><path d="M941.2 926.0 L957.1 939.3 L974.8 932.6 L1042.0 935.3 L1081.0 940.6 L1109.4 919.0 L1188.7 970.0 L1245.7 988.5"/><path d="M941.2 987.6 L974.3 991.1 L1006.6 994.2 L1119.4 1038.3"/><path d="M941.2 978.3 L955.0 1012.0 L977.4 977.7 L1039.0 999.2"/><path d="M941.2 926.7 L957.0 915.0 L978.4 932.9 L983.8 940.3"/><path d="M941.2 929.4 L960.7 918.4 L974.0 906.6"/><path d="M941.2 921.6 L959.2 912.1 L978.7 914.1"/><path d="M941.2 932.7 L975.1 941.0 L1040.8 953.6 L1114.3 964.8 L1220.6 1033.5 L1288.7 1033.5 L1293.0 1056.3"/><path d="M941.2 986.0 L975.5 1015.1 L1008.6 1027.3 L1090.6 1055.6"/><path d="M941.2 948.4 L973.5 954.6 L1007.1 994.6"/><path d="M941.2 928.6 L973.4 919.7 L1013.0 906.5 L1049.2 931.8 L1143.4 954.4 L1186.1 934.6 L1215.2 958.8 L1251.3 931.7 L1283.4 968.5 L1315.0 967.9"/><path d="M941.2 853.0 L973.7 842.0 L1082.0 909.6 L1099.4 912.8"/><path d="M941.2 945.8 L960.3 941.3 L1113.9 1003.5"/><path d="M941.2 903.5 L973.4 913.7 L1004.3 923.0 L1036.5 919.9 L1074.3 972.7 L1111.6 940.7 L1149.7 971.7 L1181.3 995.7 L1215.3 997.6"/><path d="M941.2 885.3 L974.1 919.9 L1075.9 953.2 L1109.7 945.4"/><path d="M941.2 867.0 L975.0 885.6 L988.8 900.0"/><path d="M941.2 950.8 L973.6 930.6"/><path d="M941.2 1006.7 L975.0 1003.6 L1007.4 1019.6 L1022.9 991.6"/><path d="M941.2 888.4 L974.2 909.9 L1044.2 913.2 L1079.2 894.9"/><path d="M941.2 911.9 L976.8 933.2 L1006.6 951.9 L1047.4 975.9"/><path d="M941.2 888.0 L1035.9 929.7"/><path d="M941.2 849.7 L975.5 844.7 L1009.8 841.8 L1043.2 840.5"/><path d="M941.2 912.1 L1010.7 900.9 L1042.3 881.7 L1046.5 891.8"/><path d="M941.2 854.6 L977.0 874.3 L1045.7 884.9 L1080.2 884.7"/><path d="M941.2 919.7 L974.5 905.8 L1011.7 906.4 L1039.4 922.4"/><path d="M941.2 964.1 L979.4 952.5 L985.5 953.3"/><path d="M941.2 968.0 L1000.3 993.1 L1082.7 1030.9 L1147.3 1037.7"/><path d="M941.2 868.3 L957.8 866.7 L974.3 856.5 L1012.3 871.2 L1037.3 931.9 L1111.6 924.6 L1153.4 944.9 L1213.4 990.0 L1289.3 1020.7"/><path d="M941.2 934.2 L975.6 1004.0"/><path d="M941.2 849.3 L975.8 868.7 L1041.7 892.2 L1076.1 907.3"/><path d="M941.2 935.9 L974.3 937.3 L1019.6 928.9"/></g><g fill="none" stroke="#8064aa" stroke-width="1.2" stroke-opacity="0.4" clip-path="url(#clipD)"><path d="M941.2 907.1 L977.5 952.1 L1006.3 985.1 L1035.2 996.4"/><path d="M941.2 984.6 L976.4 994.8 L1048.2 1077.2 L1077.9 1127.8"/><path d="M941.2 955.7 L972.5 974.9 L1005.9 1037.9"/><path d="M941.2 1029.2 L972.9 1045.6 L1004.1 1048.4 L1049.3 1014.8 L1059.7 1023.6"/><path d="M941.2 912.2 L976.6 899.4 L1012.2 929.9 L1109.5 957.8"/><path d="M941.2 997.4 L958.7 973.1 L977.1 977.3 L1003.6 1032.0 L1079.3 1099.6"/><path d="M941.2 917.0 L962.0 939.9 L977.6 971.9 L1040.9 972.6 L1149.0 1064.8"/><path d="M941.2 894.3 L975.1 916.6"/><path d="M941.2 965.4 L961.6 983.2 L1025.4 1006.6"/><path d="M941.2 1056.0 L975.8 1086.8"/><path d="M941.2 1002.2 L976.2 1031.7 L1011.5 1037.3 L1040.2 1094.1"/><path d="M941.2 997.4 L974.8 1055.7"/><path d="M941.2 928.0 L976.3 897.9"/><path d="M941.2 949.5 L955.7 926.2"/><path d="M941.2 964.7 L961.5 986.4 L978.3 1069.7"/><path d="M941.2 972.4 L976.6 1016.4 L994.5 1005.4"/><path d="M941.2 931.0 L977.1 942.6"/><path d="M941.2 956.0 L974.4 974.0 L1008.4 1026.7 L1012.9 1010.6"/><path d="M941.2 931.5 L956.5 989.2"/><path d="M941.2 962.3 L1008.6 1042.1"/><path d="M941.2 969.3 L956.9 963.2"/><path d="M941.2 958.6 L977.5 1016.0"/><path d="M941.2 926.9 L959.2 931.6 L977.0 982.0 L987.5 1027.4"/><path d="M941.2 980.3 L1008.2 998.4 L1046.3 1079.2 L1062.9 1049.2"/><path d="M941.2 968.1 L976.4 998.7 L1004.3 976.7"/><path d="M941.2 902.7 L957.8 900.6 L974.4 935.1 L1026.8 982.0"/><path d="M941.2 1067.6 L974.4 1095.6"/><path d="M941.2 986.8 L974.9 963.1"/><path d="M941.2 970.8 L975.3 1021.4 L1014.0 1060.2 L1048.4 1134.7 L1138.1 1253.1"/><path d="M941.2 916.7 L977.2 955.3"/><path d="M941.2 1013.3 L959.9 1017.3 L976.3 1013.8 L1011.3 1082.3 L1081.1 1129.8 L1097.3 1162.5"/><path d="M941.2 939.1 L976.2 944.0"/><path d="M941.2 879.5 L958.5 947.3 L977.3 985.5 L1005.9 1032.0 L1042.4 1122.8 L1044.9 1105.9"/><path d="M941.2 914.5 L976.1 942.1"/><path d="M941.2 978.4 L957.0 1003.7"/><path d="M941.2 850.2 L956.3 869.1 L1013.4 902.7"/><path d="M941.2 976.4 L973.4 995.9 L1010.9 1023.2"/><path d="M941.2 992.5 L958.0 1035.5 L976.4 1018.5 L1047.3 1132.8"/><path d="M941.2 963.9 L976.7 1023.7"/><path d="M941.2 952.1 L976.8 1018.9 L1007.5 1145.1 L1038.8 1192.7"/><path d="M941.2 953.0 L1010.9 985.6"/><path d="M941.2 915.0 L975.8 977.5 L988.5 1002.0"/><path d="M941.2 1079.6 L955.0 1070.7 L1007.6 1235.7 L1025.2 1208.6"/><path d="M941.2 988.7 L956.8 1002.5"/><path d="M941.2 971.6 L960.9 938.1 L1042.3 1018.9"/><path d="M941.2 975.5 L957.9 1028.9 L976.1 1057.4"/><path d="M941.2 986.5 L975.1 1031.4 L1043.0 1038.1"/><path d="M941.2 915.5 L1045.5 1033.6 L1124.0 1091.9"/><path d="M941.2 970.6 L975.2 1067.9 L1005.7 1137.4 L1045.7 1174.5"/><path d="M941.2 1077.9 L960.1 1099.3"/><path d="M941.2 974.9 L958.4 987.5 L979.6 1004.9"/><path d="M941.2 963.0 L974.8 984.8 L1007.3 1015.7"/><path d="M941.2 888.3 L976.4 883.6 L1010.6 905.6"/><path d="M941.2 910.5 L975.6 898.5 L1012.5 902.9"/><path d="M941.2 941.2 L957.7 971.5 L973.3 946.2 L1000.0 979.3"/><path d="M941.2 1093.7 L971.7 1149.9 L1076.6 1255.4"/><path d="M941.2 897.1 L973.6 930.7"/><path d="M941.2 894.3 L957.1 942.7"/><path d="M941.2 952.9 L976.8 965.9"/><path d="M941.2 944.3 L977.2 977.3 L1003.2 1001.3"/><path d="M941.2 891.5 L976.4 944.7"/><path d="M941.2 1008.5 L975.9 1045.7"/><path d="M941.2 1042.0 L979.4 1012.3 L1012.1 1073.2"/><path d="M941.2 1018.4 L996.6 1039.1"/></g><g fill="none" stroke="#4668c8" stroke-width="1.2" stroke-opacity="0.42" clip-path="url(#clipD)"><path d="M941.2 880.0 L979.1 894.6 L1074.0 913.7 L1115.1 891.7"/><path d="M941.2 887.2 L957.1 872.0"/><path d="M941.2 891.2 L975.1 887.8 L1010.9 880.4 L1045.8 878.7"/><path d="M941.2 872.3 L976.0 868.8 L1014.4 865.5 L1125.3 847.7"/><path d="M941.2 885.1 L973.8 906.8 L1009.0 941.4 L1079.5 939.3 L1250.5 1045.1 L1284.7 1060.3"/><path d="M941.2 864.7 L977.0 855.8"/><path d="M941.2 908.0 L1010.9 898.0"/><path d="M941.2 877.0 L956.6 877.7 L976.7 880.1"/><path d="M941.2 871.2 L1011.4 933.6 L1079.9 940.8"/><path d="M941.2 885.3 L976.2 914.1 L1012.4 933.3 L1041.0 914.3"/><path d="M941.2 944.7 L961.2 934.3"/><path d="M941.2 918.2 L957.6 886.8 L978.7 912.2 L1014.9 906.4 L1049.0 903.0 L1082.9 910.6"/><path d="M941.2 882.9 L958.0 865.4 L974.0 877.7 L1018.2 872.0 L1066.1 862.9"/><path d="M941.2 895.6 L977.0 903.6 L1013.9 916.7"/><path d="M941.2 861.8 L976.3 843.5 L1043.7 892.7"/><path d="M941.2 895.6 L957.4 902.8"/><path d="M941.2 948.7 L974.5 959.1 L1042.7 1006.2 L1077.1 977.4"/><path d="M941.2 883.3 L958.8 889.5 L976.9 889.7 L1050.3 889.9 L1050.5 862.6"/><path d="M941.2 872.1 L979.2 879.8 L1018.2 851.5 L1046.4 860.5 L1082.4 865.5 L1106.2 854.6 L1189.8 876.3 L1218.0 902.3 L1256.3 881.5 L1290.9 903.5"/><path d="M941.2 915.2 L957.9 898.3 L976.2 890.2"/><path d="M941.2 899.5 L960.8 892.7"/><path d="M941.2 869.3 L977.8 883.4 L1009.3 888.4"/><path d="M941.2 951.1 L977.6 930.0"/><path d="M941.2 903.4 L956.2 911.1 L977.9 941.2 L1020.0 915.8"/><path d="M941.2 907.6 L977.3 867.7 L1003.0 865.4 L1083.4 900.9 L1162.7 904.8"/><path d="M941.2 888.7 L1012.9 912.2 L1046.2 913.8 L1075.7 915.3"/><path d="M941.2 952.5 L977.0 914.3 L1041.9 943.2 L1065.2 957.4"/><path d="M941.2 938.3 L960.8 913.4 L976.2 942.2 L1013.4 924.0 L1046.8 928.9 L1053.6 934.5"/><path d="M1152.0 856.6 L1245.3 846.9 L1366.3 850.1 L1432.0 879.2"/></g><g fill="none" stroke="#2f8a55" stroke-width="1.2" stroke-opacity="0.26" clip-path="url(#clipD)"><path d="M941.2 862.9 L1006.4 852.7"/><path d="M941.2 854.5 L957.2 838.8 L975.6 850.6 L1041.1 859.2 L1077.0 858.9 L1222.2 858.2 L1251.4 870.1 L1307.4 870.5"/><path d="M941.2 914.1 L976.8 918.1"/><path d="M941.2 860.7 L976.2 859.7 L1085.8 866.2 L1103.0 867.6 L1118.3 865.6"/><path d="M941.2 867.3 L979.1 887.6 L1011.3 891.3 L1044.5 876.1 L1147.9 882.1 L1180.6 868.5 L1197.6 887.0"/><path d="M941.2 867.2 L977.1 873.6 L1007.9 868.6 L1045.1 849.1"/><path d="M941.2 882.9 L977.3 870.8"/><path d="M941.2 889.9 L973.7 885.9 L1005.0 879.0 L1044.8 884.3 L1079.9 865.1 L1113.2 880.4 L1147.5 885.6 L1189.1 890.3 L1216.6 889.8"/><path d="M941.2 880.4 L973.9 878.2 L1011.5 871.0"/><path d="M941.2 941.4 L977.7 930.7 L995.7 929.3"/><path d="M941.2 875.7 L960.4 871.2 L976.9 887.6 L1014.3 884.4 L1042.2 881.6 L1252.7 881.4 L1294.7 892.0"/><path d="M941.2 907.7 L958.9 894.6 L1041.3 893.1"/><path d="M941.2 891.2 L959.5 883.1 L974.0 892.3"/><path d="M941.2 911.2 L974.8 899.6 L1004.3 902.3"/><path d="M941.2 870.5 L977.1 892.3 L1018.5 898.9 L1042.4 883.9 L1076.5 883.5 L1111.2 883.4 L1151.2 881.3 L1284.4 901.0 L1321.4 899.7"/><path d="M941.2 897.3 L956.6 875.0 L977.0 906.0"/><path d="M941.2 895.2 L975.0 889.5 L1011.4 882.6 L1022.5 876.2"/><path d="M941.2 904.4 L958.9 922.2 L975.3 926.7 L985.2 921.4"/><path d="M941.2 864.1 L954.8 874.7 L976.2 860.3 L1082.3 852.5 L1115.6 864.2 L1147.2 891.5 L1164.7 879.3"/><path d="M941.2 886.5 L976.4 892.3 L1048.9 879.8 L1077.7 877.5 L1112.9 883.3 L1154.5 884.0 L1255.6 903.0 L1291.0 886.6 L1321.4 895.1"/><path d="M941.2 877.2 L976.3 876.8 L1009.3 906.0"/><path d="M941.2 864.5 L959.6 863.3 L978.7 861.7"/><path d="M941.2 867.0 L1010.5 878.4"/><path d="M941.2 903.2 L975.3 881.9 L1017.1 907.4 L1055.3 909.0"/><path d="M941.2 852.5 L976.2 845.5"/><path d="M941.2 899.8 L959.9 910.1 L1018.4 883.4 L1117.1 915.0 L1153.7 915.6"/><path d="M941.2 898.5 L979.1 883.6 L1016.4 898.8"/><path d="M941.2 899.8 L977.5 914.0 L1008.7 903.9 L1050.3 931.3"/><path d="M941.2 870.4 L973.3 858.7"/><path d="M941.2 892.1 L957.4 890.8 L1009.8 901.0 L1075.6 881.3"/><path d="M941.2 853.1 L976.7 860.3 L1014.5 850.4 L1048.6 838.7 L1054.9 854.5"/><path d="M941.2 865.7 L977.9 891.4 L1005.6 891.8"/><path d="M941.2 891.7 L975.9 888.4 L1008.0 891.7 L1115.7 881.8 L1150.4 884.2 L1185.4 884.0 L1320.8 873.6"/><path d="M941.2 902.5 L975.8 890.7"/><path d="M941.2 890.0 L960.6 881.1 L977.8 867.4 L1016.0 860.6 L1047.6 891.4"/><path d="M941.2 926.8 L956.9 918.9 L974.2 921.3 L1040.8 925.5 L1088.6 920.1 L1091.2 920.5"/><path d="M941.2 888.5 L960.1 881.2 L978.9 891.2 L1046.4 905.3"/><path d="M941.2 860.0 L1013.9 866.5"/><path d="M941.2 898.7 L975.0 901.4 L1011.0 882.5"/><path d="M941.2 912.1 L976.6 920.0 L1018.1 907.7 L1022.3 907.6"/><path d="M941.2 885.3 L957.0 888.0 L1148.6 892.8 L1185.0 904.5 L1246.4 898.0"/><path d="M941.2 858.9 L974.4 863.4 L1007.5 887.2 L1046.3 876.8 L1146.6 893.7 L1186.9 888.7 L1213.4 878.7 L1259.6 902.4 L1268.5 872.5"/><path d="M941.2 880.3 L974.1 881.5 L1082.8 876.7 L1101.8 866.3"/><path d="M941.2 903.1 L956.1 889.7 L986.9 883.2"/><path d="M941.2 886.6 L960.4 870.4 L974.6 879.3"/><path d="M941.2 871.7 L973.7 890.2 L1005.4 887.3"/><path d="M941.2 885.3 L957.0 890.3 L975.5 881.7 L1023.1 924.8 L1042.8 905.7 L1075.7 905.9 L1097.7 913.0"/><path d="M941.2 866.2 L1042.0 852.1 L1076.9 865.9 L1111.1 860.6 L1147.4 868.9 L1179.2 867.9 L1216.3 874.3 L1258.8 869.1 L1322.5 869.2"/><path d="M941.2 875.1 L1079.2 881.6 L1114.1 879.5 L1156.1 884.5 L1214.9 875.7 L1248.5 901.5 L1284.6 919.0 L1313.2 907.1 L1321.4 904.4"/><path d="M941.2 930.1 L1074.3 929.1 L1140.8 947.3 L1184.8 951.4"/><path d="M941.2 871.2 L977.3 889.1 L1017.4 895.7 L1083.7 890.9 L1185.6 896.9 L1217.2 906.9 L1249.1 895.9"/><path d="M941.2 889.7 L958.9 892.7 L972.5 894.4 L1006.5 880.7 L1073.8 897.5 L1148.6 879.4 L1221.3 869.4 L1256.8 889.3 L1283.4 887.1 L1320.4 893.3 L1321.4 888.6"/><path d="M941.2 851.2 L976.1 854.1 L1012.3 867.2 L1045.6 867.0 L1074.9 863.6"/><path d="M941.2 892.9 L956.4 908.8"/><path d="M941.2 890.1 L959.0 901.3 L977.3 897.6 L1082.1 908.7 L1146.9 913.1 L1155.3 906.6"/><path d="M941.2 891.6 L975.3 889.2"/><path d="M941.2 856.2 L977.3 846.4 L1003.7 856.8 L1044.0 848.5 L1086.0 838.6 L1110.9 846.3 L1146.7 852.7"/><path d="M941.2 933.5 L961.1 943.5 L973.9 939.5 L1012.4 930.3 L1041.5 933.7 L1145.0 942.1"/><path d="M941.2 881.5 L958.6 867.3 L975.0 856.6"/><path d="M941.2 881.5 L958.6 887.3 L1078.9 897.2 L1180.4 889.3 L1210.4 890.8"/><path d="M941.2 904.9 L972.3 894.6 L1006.1 889.5 L1033.9 894.4 L1077.5 897.4 L1081.6 881.4"/><path d="M941.2 889.1 L1040.7 870.1"/><path d="M941.2 899.9 L978.2 903.8 L1046.7 906.7 L1113.0 903.9"/><path d="M941.2 907.3 L972.8 908.6 L1050.9 913.9 L1152.3 917.9 L1184.8 905.7"/><path d="M941.2 882.4 L960.5 893.3 L975.4 880.2"/><path d="M941.2 870.5 L975.5 873.8"/><path d="M941.2 864.6 L975.7 886.5 L1007.9 869.0 L1113.8 881.9 L1181.9 888.6 L1219.0 894.4 L1253.9 900.8 L1287.8 904.0"/><path d="M941.2 875.0 L972.2 872.3 L1010.5 867.4 L1019.1 878.9"/><path d="M941.2 889.2 L976.6 886.7 L1047.0 898.8"/><path d="M941.2 864.8 L977.9 876.1 L1005.3 871.7 L1045.3 876.5 L1116.3 885.7 L1155.4 897.3 L1228.7 897.5"/><path d="M941.2 866.9 L1011.3 877.4 L1073.9 886.0 L1119.1 869.1 L1146.3 892.2 L1166.3 877.7"/><path d="M941.2 882.9 L959.9 858.1 L976.9 867.8 L1009.4 886.5"/><path d="M941.2 889.3 L959.8 888.7 L974.9 902.3 L1038.5 907.3 L1077.3 904.4"/><path d="M941.2 892.6 L975.1 894.8 L1009.8 932.1"/><path d="M941.2 894.8 L955.4 918.2 L975.0 891.5 L1008.4 894.0 L1051.2 885.5 L1077.3 898.7 L1120.0 889.1 L1146.7 876.6"/><path d="M941.2 888.7 L974.4 894.7"/><path d="M941.2 879.3 L960.8 882.8 L976.5 890.2 L999.5 882.9"/><path d="M941.2 903.6 L957.6 876.5 L974.7 895.4 L1043.3 888.3 L1107.2 898.0"/><path d="M941.2 867.4 L973.3 857.1 L1044.1 849.5 L1079.7 846.5 L1142.1 843.4"/><path d="M941.2 876.0 L958.8 882.9"/><path d="M941.2 862.5 L1001.9 860.2 L1040.9 873.0 L1078.5 881.6"/><path d="M941.2 891.3 L956.6 865.1 L1079.2 869.2 L1115.5 889.8 L1154.2 872.5 L1209.4 886.8"/><path d="M941.2 876.4 L976.2 862.9 L1045.7 874.0 L1074.7 869.5"/><path d="M941.2 881.8 L976.5 880.0 L1038.9 892.8"/><path d="M941.2 874.9 L980.7 880.7 L1039.6 884.7 L1147.6 861.9"/><path d="M941.2 886.6 L976.7 898.0"/><path d="M941.2 880.9 L959.7 875.6 L976.1 895.8 L1085.5 891.8"/><path d="M941.2 852.9 L979.1 847.2 L1046.0 841.4 L1087.4 844.3"/><path d="M941.2 899.0 L959.0 883.2 L974.8 875.3 L1009.4 888.6 L1073.7 909.0 L1152.8 900.7 L1216.4 892.7 L1246.3 890.3 L1288.5 899.6"/><path d="M941.2 880.5 L974.0 892.3 L1007.2 894.1 L1052.6 889.3"/><path d="M941.2 878.3 L955.7 882.5 L977.9 874.6 L1010.7 897.9 L1078.7 866.2 L1115.2 873.9 L1146.4 884.4 L1182.9 884.7"/><path d="M941.2 864.5 L975.7 851.7"/><path d="M941.2 879.2 L975.2 883.3 L1042.3 889.6"/><path d="M941.2 917.3 L973.2 919.4 L1043.6 923.0"/><path d="M941.2 895.9 L955.7 875.4 L977.9 891.8 L1141.6 863.7 L1169.3 883.5"/><path d="M941.2 867.0 L956.0 884.2 L977.0 890.6 L1016.5 895.9 L1045.3 898.4 L1113.9 885.8 L1184.4 910.7 L1204.7 877.9"/><path d="M941.2 942.4 L957.9 938.4"/><path d="M941.2 878.5 L959.3 875.9 L975.2 872.5 L1117.2 880.9 L1140.7 889.8 L1184.1 884.5"/><path d="M941.2 907.2 L1039.1 895.6"/><path d="M941.2 870.5 L975.3 884.9 L1012.5 885.1 L1044.6 882.1 L1079.2 878.9 L1116.6 878.6"/><path d="M941.2 880.8 L1047.4 858.2 L1078.1 877.6 L1116.4 880.9 L1160.6 872.4 L1200.3 873.7"/><path d="M941.2 873.6 L979.5 866.3 L1075.4 877.8 L1116.4 881.3 L1149.1 888.8 L1180.4 885.2 L1286.9 893.1"/><path d="M941.2 904.3 L957.7 895.5 L973.9 903.1 L988.0 896.4"/><path d="M941.2 885.3 L962.3 880.5 L980.1 877.4 L998.1 901.8"/><path d="M941.2 852.7 L959.0 841.0 L976.9 837.5 L1011.9 846.2 L1047.3 839.3 L1112.8 843.9 L1144.4 839.6 L1176.9 847.7"/><path d="M941.2 869.0 L957.4 860.7 L975.5 868.2 L1049.1 876.5 L1082.5 862.7"/><path d="M941.2 901.4 L1013.8 905.5 L1046.7 922.9 L1082.6 903.6 L1115.9 900.3 L1150.5 909.9 L1214.8 913.9 L1290.8 899.8"/><path d="M941.2 875.0 L961.2 893.3 L974.3 885.5 L1013.6 892.1 L1046.7 908.0 L1080.1 893.9 L1108.1 898.0"/><path d="M941.2 904.0 L959.3 896.0 L975.7 914.2 L1013.6 881.1"/><path d="M941.2 889.7 L956.8 891.9 L973.7 871.8"/><path d="M941.2 879.5 L977.5 866.4 L1003.1 879.3 L1074.9 888.3 L1109.8 896.9"/><path d="M941.2 892.7 L959.1 905.9 L976.7 896.1 L1008.8 881.0 L1043.3 890.4 L1113.2 906.3 L1145.0 904.9 L1181.5 905.9 L1228.3 913.1 L1263.0 916.7 L1293.4 917.5 L1321.4 928.2"/><path d="M941.2 907.6 L974.2 920.9 L1080.9 911.3"/><path d="M941.2 869.2 L978.5 864.8 L1089.3 853.7 L1112.8 859.3 L1147.9 862.3 L1180.6 873.1 L1224.3 885.9 L1290.2 861.4"/><path d="M941.2 893.0 L959.6 885.1 L976.0 892.5 L1007.2 913.2 L1084.2 899.0 L1112.2 920.5 L1217.0 915.5 L1251.0 923.0 L1287.1 905.0 L1320.5 936.6 L1321.4 917.1"/><path d="M941.2 884.0 L957.1 863.7 L975.7 876.2 L1080.0 859.5"/><path d="M941.2 902.1 L977.2 884.7 L1007.0 883.5 L1044.3 898.2 L1149.4 908.6 L1184.4 920.1 L1210.8 922.3 L1250.2 900.1"/><path d="M941.2 877.5 L1015.3 901.0 L1078.2 903.7 L1116.1 919.6 L1187.1 907.6"/><path d="M941.2 870.8 L976.1 877.1 L1011.4 890.1 L1186.4 868.2 L1286.9 877.3 L1289.7 867.9"/><path d="M941.2 912.5 L977.4 917.8 L1011.1 896.7 L1042.0 899.3"/><path d="M941.2 863.2 L975.9 857.0 L1087.1 851.2 L1115.5 841.3 L1143.7 847.2 L1218.4 854.1 L1243.3 850.5"/><path d="M941.2 887.7 L1008.6 871.6 L1047.2 882.0 L1078.6 882.5 L1142.7 892.8"/><path d="M941.2 886.3 L974.3 880.7 L1045.2 880.4 L1084.8 896.8 L1115.0 906.3 L1148.1 897.3 L1174.6 905.2"/><path d="M941.2 886.6 L957.0 888.0 L976.9 899.3"/><path d="M941.2 889.7 L975.7 892.5 L1007.6 873.1 L1151.2 866.6"/><path d="M941.2 855.9 L958.1 881.8 L976.6 895.8 L1010.0 864.4 L1047.0 870.2 L1077.3 868.4 L1115.7 882.7 L1143.3 873.7 L1180.5 888.7"/><path d="M941.2 922.7 L972.8 915.6 L1048.9 916.7 L1084.3 930.5 L1137.5 915.1"/><path d="M941.2 884.1 L974.4 869.7 L1049.3 882.6"/><path d="M941.2 865.3 L1047.0 875.0 L1061.7 871.1"/><path d="M941.2 908.5 L974.3 916.1 L1009.5 906.2 L1044.2 915.3"/><path d="M941.2 863.8 L956.5 865.2 L980.2 863.4"/><path d="M941.2 877.3 L962.0 884.3 L976.1 885.1 L1010.1 876.9 L1047.4 882.5 L1078.9 875.7 L1116.1 871.1 L1222.1 861.2 L1260.0 882.1 L1286.5 861.7 L1326.6 861.4"/><path d="M941.2 871.5 L977.4 873.4 L1017.4 886.8"/><path d="M941.2 887.6 L974.5 882.5 L1019.0 881.0 L1078.4 909.8 L1116.3 895.9 L1178.6 888.2 L1222.7 906.8 L1250.4 902.2 L1288.4 900.9 L1321.4 895.5 L1329.4 906.1"/><path d="M941.2 904.2 L977.1 899.2 L1073.6 910.0"/><path d="M941.2 869.0 L1048.3 866.6 L1079.0 884.4 L1120.5 883.9 L1155.3 906.8 L1220.1 903.8 L1286.3 899.1 L1319.3 909.1"/><path d="M941.2 892.2 L958.7 897.1 L976.5 899.9"/><path d="M941.2 868.8 L1012.0 885.5"/><path d="M941.2 878.9 L978.6 862.0 L1045.2 887.2 L1079.0 886.4"/><path d="M941.2 898.9 L976.0 909.4 L1018.8 906.4"/><path d="M941.2 849.7 L1043.7 860.6 L1076.6 870.8 L1178.0 877.8 L1185.2 869.7"/><path d="M941.2 863.8 L958.6 862.7 L976.3 876.2"/><path d="M941.2 860.3 L1014.2 874.0 L1045.6 847.2 L1077.7 846.5 L1116.7 847.1 L1157.2 842.9 L1222.8 853.0"/><path d="M941.2 880.3 L975.5 884.2 L1011.9 898.5"/><path d="M941.2 884.3 L961.3 872.2 L1008.2 881.3 L1079.8 872.6 L1101.1 885.0"/><path d="M941.2 880.5 L960.1 874.4 L978.7 883.1 L1008.0 880.2 L1045.4 880.8"/><path d="M941.2 879.4 L978.7 892.4 L1008.1 884.8 L1045.1 888.5"/><path d="M941.2 872.5 L976.0 871.9 L1003.5 887.4 L1046.5 890.1"/><path d="M941.2 947.5 L1006.8 954.9 L1043.3 949.6 L1182.4 987.7 L1254.1 970.9 L1321.4 990.7 L1321.5 984.6"/><path d="M941.2 881.6 L975.4 886.0 L1003.8 895.7"/><path d="M941.2 901.0 L975.6 907.2 L1010.5 936.9 L1048.5 922.9 L1073.9 935.7 L1122.5 928.3 L1210.5 947.3 L1287.4 960.6"/><path d="M941.2 931.5 L974.9 911.7 L1011.3 934.5 L1079.0 949.4 L1142.7 925.1 L1249.5 972.2"/><path d="M941.2 878.0 L1085.0 892.0 L1115.6 889.1 L1143.7 876.0 L1184.2 885.2 L1250.9 882.0"/><path d="M941.2 871.5 L977.8 860.4 L1008.2 844.5 L1074.9 853.9 L1118.1 871.7 L1154.2 863.0 L1187.0 871.8 L1216.4 874.4 L1247.5 884.3"/><path d="M941.2 914.5 L975.1 899.1 L1012.2 901.2 L1046.5 907.9 L1130.9 886.9"/><path d="M941.2 860.8 L975.0 857.0 L1016.9 867.8"/><path d="M941.2 876.2 L973.8 868.4 L1049.0 886.8 L1072.3 890.7 L1115.2 891.6"/><path d="M941.2 890.8 L957.4 887.8 L977.4 885.7 L1007.7 882.4 L1079.2 881.8"/><path d="M941.2 864.4 L972.8 852.6"/><path d="M941.2 900.5 L1012.5 880.6 L1038.5 879.9 L1082.8 874.9"/><path d="M941.2 870.6 L974.9 889.1"/><path d="M941.2 860.9 L976.1 865.6 L1018.2 872.2 L1047.4 871.1 L1077.8 864.3"/><path d="M941.2 917.2 L977.3 889.5 L1013.1 909.5 L1040.3 890.6 L1081.5 900.5"/><path d="M941.2 921.8 L977.4 915.1 L1007.3 900.5 L1114.8 908.5"/><path d="M941.2 893.7 L976.4 876.4"/><path d="M941.2 883.0 L975.4 878.4 L1047.2 893.0 L1118.6 908.0 L1217.2 892.8 L1249.4 893.6 L1288.0 902.7 L1327.0 916.7"/><path d="M941.2 907.7 L976.1 913.7 L1004.8 917.7 L1049.1 876.8 L1147.6 877.4"/><path d="M941.2 893.9 L976.2 897.3 L1017.5 895.1 L1044.5 908.8"/><path d="M941.2 865.2 L974.3 861.2 L1047.2 849.0 L1081.9 859.7"/><path d="M941.2 854.2 L974.3 837.4 L1013.0 867.6 L1046.7 852.5 L1079.1 860.7"/><path d="M941.2 885.7 L972.7 882.5 L1046.4 871.4 L1068.9 878.2 L1112.0 869.5 L1139.1 874.4"/><path d="M941.2 876.4 L1047.7 911.1 L1083.2 904.0"/><path d="M941.2 889.2 L976.2 872.1 L1018.3 883.1 L1044.2 893.1 L1214.9 875.9 L1252.0 888.9 L1264.1 876.8"/><path d="M941.2 862.1 L976.1 876.8 L1013.0 877.5 L1043.8 880.5 L1153.2 880.8 L1247.6 882.5 L1287.9 888.4 L1289.5 896.9"/><path d="M941.2 876.9 L976.8 873.0 L1015.2 873.8 L1042.0 877.4 L1079.1 861.2"/><path d="M941.2 873.3 L955.9 892.6 L972.5 870.6"/><path d="M941.2 909.6 L958.6 902.7 L978.4 910.0 L1045.8 926.0"/><path d="M941.2 892.4 L958.7 909.6 L977.1 901.5 L1006.9 902.2 L1076.8 912.1 L1112.5 934.2"/><path d="M941.2 876.7 L957.9 885.5"/><path d="M941.2 859.7 L1014.4 873.3 L1043.1 888.5 L1074.0 878.0 L1114.8 880.9"/><path d="M941.2 870.1 L958.2 856.3 L973.5 868.3 L1036.7 865.8 L1077.8 881.8 L1149.6 890.1"/><path d="M941.2 890.7 L973.4 890.1 L994.6 896.4"/><path d="M941.2 884.2 L977.2 861.0 L1047.0 898.4 L1112.0 890.8"/><path d="M941.2 881.4 L975.7 866.2"/><path d="M941.2 889.2 L959.7 880.1 L972.4 884.2 L1012.4 900.6 L1045.6 887.5 L1059.9 892.5"/><path d="M941.2 879.3 L1007.5 868.1 L1117.6 878.4 L1158.0 865.5 L1159.6 854.1"/><path d="M941.2 889.3 L956.4 876.5 L976.2 880.7 L1014.5 869.6"/><path d="M941.2 876.0 L956.8 853.3"/><path d="M941.2 879.8 L961.1 885.5 L975.0 883.1 L1014.2 879.6 L1073.9 886.2 L1115.6 892.7 L1171.6 891.8"/><path d="M941.2 898.9 L978.6 889.6 L1078.6 885.8 L1111.1 885.7 L1156.9 889.8 L1218.1 899.0 L1291.4 897.3 L1321.0 905.0 L1321.4 904.7"/><path d="M941.2 905.8 L975.9 907.3 L1047.6 904.8 L1079.7 913.6"/><path d="M941.2 896.4 L956.5 910.8 L976.9 887.5 L1046.3 906.4 L1069.4 897.4"/><path d="M941.2 881.2 L973.1 890.8 L1011.9 864.3 L1036.0 883.9 L1074.7 884.9 L1118.0 922.9 L1147.1 910.6 L1185.6 914.6 L1207.7 894.4 L1288.8 933.1 L1320.3 941.7 L1321.4 935.7"/><path d="M941.2 886.2 L959.0 904.5 L974.2 891.1 L1043.6 884.5 L1107.3 893.9"/><path d="M941.2 903.9 L956.5 883.1"/><path d="M941.2 933.8 L975.9 931.9"/><path d="M941.2 939.5 L958.3 926.8"/><path d="M941.2 869.1 L1013.3 858.8 L1041.9 883.6 L1072.7 873.0 L1101.7 869.1"/><path d="M941.2 853.2 L976.0 862.1"/><path d="M941.2 851.9 L973.0 853.2 L1010.1 849.1 L1072.6 851.4"/><path d="M941.2 878.2 L956.9 892.4 L973.9 889.7 L1002.0 887.8 L1019.5 887.5"/><path d="M941.2 856.0 L1007.0 870.8"/><path d="M941.2 882.1 L975.9 874.8 L1010.9 886.9 L1043.5 870.6"/><path d="M941.2 891.8 L977.6 897.4 L1006.0 872.2"/><path d="M941.2 896.1 L976.0 903.2 L1000.2 890.2 L1040.1 887.0 L1115.2 883.2"/><path d="M941.2 891.4 L976.8 882.0 L1046.1 885.9"/><path d="M941.2 867.9 L973.9 888.3 L992.1 882.4"/><path d="M941.2 861.4 L975.6 861.9 L1048.4 854.5 L1075.9 862.5 L1109.5 863.4 L1119.9 866.2"/><path d="M941.2 933.2 L960.9 934.3 L1043.0 910.7 L1144.7 940.3 L1158.2 934.3"/><path d="M941.2 858.1 L957.8 846.4 L975.3 863.2 L1013.9 846.0"/><path d="M941.2 891.3 L959.0 876.5 L976.8 892.2 L1008.3 900.6 L1038.8 901.7 L1060.7 880.1"/><path d="M941.2 914.1 L958.9 882.2 L976.5 896.8 L1045.1 873.0 L1087.2 903.0 L1116.9 894.4 L1148.0 885.5"/><path d="M941.2 853.4 L957.7 855.4 L978.8 857.9 L1219.5 889.0 L1253.2 886.2 L1290.0 883.7 L1321.4 879.8"/><path d="M941.2 878.0 L958.6 895.1 L1013.7 898.8 L1043.4 918.7"/><path d="M941.2 863.3 L975.4 886.1"/><path d="M941.2 867.9 L957.9 855.1 L973.3 852.3 L1047.7 856.4 L1078.9 846.7"/><path d="M941.2 912.6 L958.6 905.4 L977.0 899.8 L1014.2 896.2 L1048.6 904.4 L1075.5 900.1"/><path d="M941.2 870.1 L958.0 879.4 L1008.5 877.2 L1042.4 888.5 L1117.0 881.9 L1149.3 878.5 L1210.0 884.1 L1246.3 872.8 L1289.1 866.5 L1318.7 893.7 L1321.4 876.5"/><path d="M941.2 923.6 L959.9 928.5 L974.4 937.7 L1080.6 911.6 L1111.6 915.8 L1143.5 932.3 L1186.0 929.3 L1248.8 928.2 L1290.8 942.4 L1321.4 938.5"/><path d="M941.2 862.6 L978.1 860.0"/><path d="M941.2 861.9 L975.7 886.2 L1007.9 882.4 L1038.3 867.1 L1113.3 872.3 L1147.0 871.1 L1148.9 872.0"/><path d="M941.2 918.1 L975.3 931.8 L1040.6 928.7 L1080.1 935.2 L1144.6 927.5 L1184.8 928.5 L1214.9 938.0 L1246.6 952.4"/><path d="M941.2 896.9 L956.0 912.8 L1037.1 893.8 L1085.6 894.4 L1151.5 900.8 L1181.2 909.6 L1229.2 916.6"/><path d="M941.2 878.9 L959.4 860.1 L974.7 862.9 L1050.9 852.0 L1077.1 857.9 L1148.5 842.6 L1179.9 852.9 L1220.7 846.2 L1249.5 837.3 L1289.6 839.0"/><path d="M941.2 882.1 L976.8 885.3"/><path d="M941.2 856.4 L974.6 842.9"/><path d="M941.2 886.6 L959.6 873.9 L978.5 894.4 L1004.3 890.4 L1043.5 884.7 L1080.3 860.4 L1084.8 869.7"/><path d="M941.2 871.1 L977.4 869.7 L1010.7 870.3 L1044.6 898.0 L1047.6 871.2"/><path d="M941.2 892.9 L976.7 903.7"/><path d="M941.2 893.7 L1019.0 907.5 L1044.1 910.1 L1048.9 905.7"/><path d="M941.2 886.7 L1017.1 876.3 L1046.6 867.9"/><path d="M941.2 957.9 L977.1 922.5 L1045.1 941.5 L1123.2 940.1 L1216.2 943.0 L1321.4 965.3"/><path d="M941.2 849.5 L961.4 846.9 L975.6 876.7 L1002.7 870.9 L1053.8 858.9 L1083.8 855.2 L1147.8 865.1 L1220.3 859.4 L1223.2 861.1"/><path d="M941.2 915.6 L956.6 894.8 L1014.1 887.5 L1048.2 906.8 L1081.9 904.2 L1151.3 920.8 L1153.2 903.2"/><path d="M941.2 873.8 L975.4 886.0 L1008.3 883.3 L1077.3 881.8"/><path d="M941.2 854.6 L961.3 857.4 L1014.7 868.5"/><path d="M941.2 882.4 L961.0 884.6 L974.9 915.6 L1011.1 886.6 L1115.9 884.0 L1185.7 884.0"/><path d="M941.2 866.5 L959.0 868.2 L974.8 886.8 L1040.9 875.1"/><path d="M941.2 872.8 L972.2 871.1"/><path d="M941.2 912.9 L999.1 916.7"/><path d="M941.2 873.0 L959.8 856.7 L1010.8 861.9 L1047.0 852.0 L1075.8 850.9 L1107.8 838.7 L1183.7 842.2 L1196.5 851.4"/><path d="M941.2 902.4 L974.7 918.3 L1152.3 914.2 L1187.4 902.4"/><path d="M941.2 854.6 L976.1 850.5 L1011.2 858.5 L1040.1 873.1"/><path d="M941.2 850.4 L976.0 861.2 L1042.8 863.5 L1076.0 870.8 L1111.3 864.7"/><path d="M941.2 879.2 L973.8 897.7 L1084.7 889.5 L1092.8 912.7"/><path d="M941.2 862.0 L975.7 860.9 L1076.7 864.6"/><path d="M941.2 870.5 L977.6 860.4 L1009.7 856.6 L1046.3 868.6 L1119.7 843.1"/><path d="M941.2 910.1 L977.3 903.7 L1009.2 892.0 L1039.2 907.0 L1079.9 920.1 L1115.9 911.3 L1216.1 918.5"/><path d="M941.2 915.9 L976.0 915.0 L1037.7 913.5 L1079.0 923.3 L1149.7 933.2 L1182.7 948.4 L1213.0 960.4 L1229.9 947.0"/><path d="M941.2 894.9 L977.8 877.6 L1017.5 883.0 L1047.5 888.6 L1077.8 881.7 L1146.3 886.6 L1150.0 896.0"/><path d="M941.2 921.6 L1044.0 937.2 L1083.0 920.0 L1220.6 917.9"/><path d="M941.2 919.4 L959.5 907.4 L1010.6 914.2 L1118.3 927.3 L1151.3 924.7 L1184.3 890.7 L1214.8 915.4 L1253.9 909.0 L1285.8 915.9"/><path d="M941.2 881.5 L956.6 892.9 L999.4 891.5"/><path d="M941.2 887.8 L957.4 888.6 L974.0 887.2 L1012.5 911.8 L1038.2 896.6"/><path d="M941.2 913.8 L975.5 904.0 L1009.3 911.8"/><path d="M941.2 874.6 L958.6 890.8 L974.2 883.7 L1005.3 888.4 L1188.3 876.3 L1213.0 898.5 L1290.4 876.1 L1323.1 863.3"/><path d="M941.2 879.7 L973.4 870.3 L1010.3 896.1 L1042.1 867.4 L1087.9 875.6"/><path d="M941.2 867.2 L972.9 888.4 L1152.3 906.3 L1187.2 890.3 L1199.8 898.5"/><path d="M941.2 894.4 L975.8 863.8 L1074.0 886.6 L1106.8 881.8 L1146.2 892.9 L1182.8 899.9 L1249.1 910.9 L1287.4 920.6"/><path d="M941.2 889.8 L974.7 890.6 L1002.8 896.1"/><path d="M941.2 868.6 L993.2 859.3"/><path d="M941.2 879.2 L1008.2 909.3 L1047.7 888.5 L1114.0 896.2"/><path d="M941.2 911.8 L972.2 895.9 L1086.5 910.5 L1152.0 913.4 L1179.4 916.0 L1251.3 904.6 L1283.4 903.2 L1315.9 930.7"/><path d="M941.2 893.3 L954.7 907.0"/><path d="M941.2 919.1 L1042.3 896.4 L1115.1 921.4 L1144.6 896.6 L1180.7 898.9 L1219.3 878.3 L1254.0 880.5 L1284.1 886.6 L1321.8 878.7"/><path d="M941.2 866.7 L959.5 840.4 L1017.4 848.6 L1044.5 856.3 L1077.7 843.2 L1087.6 842.8"/><path d="M941.2 857.0 L960.5 868.5"/><path d="M941.2 870.7 L959.6 866.8 L974.4 858.5 L1006.7 880.6"/><path d="M941.2 877.9 L959.1 865.4 L1080.7 886.7"/><path d="M941.2 872.5 L974.8 876.0 L1012.9 870.8 L1084.8 869.8 L1109.4 875.3 L1145.3 893.1"/><path d="M941.2 880.3 L957.9 875.8 L975.2 880.2 L1015.8 881.6 L1078.7 907.8 L1117.9 874.2 L1151.6 906.3"/><path d="M941.2 876.2 L1015.5 881.3 L1048.1 855.5 L1077.9 877.2 L1118.4 876.0 L1152.5 881.6 L1276.9 875.8 L1317.2 886.4 L1321.4 862.9"/><path d="M941.2 867.3 L976.3 899.6"/><path d="M941.2 885.7 L1009.6 889.2"/><path d="M941.2 873.8 L979.3 865.2"/><path d="M941.2 877.9 L975.5 888.8 L1004.0 889.9 L1084.1 895.2"/><path d="M941.2 870.1 L956.8 869.8 L976.9 883.2 L1045.4 894.6"/><path d="M941.2 881.2 L959.0 880.8 L972.0 866.7 L1008.0 881.5 L1075.3 885.4 L1118.4 878.3 L1129.6 880.1"/><path d="M941.2 880.6 L958.6 886.8 L976.4 894.3"/><path d="M941.2 862.7 L1008.8 883.2 L1076.7 859.9 L1116.0 874.9 L1143.4 887.5"/><path d="M1190.0 843.7 L1297.2 835.9"/></g>
<path d="M186.1 1015.0h2.2M186.1 1001.0h2.2M204.2 1029.1h2.2M219.5 1071.1h2.2M186.1 1001.0h2.2M203.4 1001.0h2.2M186.1 846.8h2.2M221.6 959.0h2.2M236.8 987.0h2.2M186.1 846.8h2.2M202.5 874.8h2.2M221.2 860.8h2.2M258.3 846.8h2.2M186.1 944.9h2.2M202.2 930.9h2.2M186.1 1015.0h2.2M220.5 1127.2h2.2M186.1 846.8h2.2M206.3 916.9h2.2M186.1 987.0h2.2M221.9 1029.1h2.2M186.1 902.9h2.2M186.1 944.9h2.2M204.9 987.0h2.2M220.0 987.0h2.2M292.8 1071.1h2.2M295.8 1043.1h2.2M186.1 902.9h2.2M202.6 846.8h2.2M221.6 846.8h2.2M255.7 860.8h2.2M293.4 902.9h2.2M186.1 930.9h2.2M221.3 930.9h2.2M186.1 1029.1h2.2M220.6 1015.0h2.2M186.1 902.9h2.2M186.1 874.8h2.2M202.8 888.9h2.2M220.3 959.0h2.2M186.1 916.9h2.2M220.9 916.9h2.2M233.4 973.0h2.2M186.1 1071.1h2.2M252.9 1155.2h2.2M186.1 959.0h2.2M186.1 959.0h2.2M186.1 902.9h2.2M186.1 846.8h2.2M202.5 888.9h2.2M221.0 930.9h2.2M186.1 860.8h2.2M186.1 1043.1h2.2M186.1 1029.1h2.2M240.9 1057.1h2.2M186.1 846.8h2.2M219.8 846.8h2.2M186.1 987.0h2.2M204.8 1057.1h2.2M221.0 1085.1h2.2M253.5 1183.3h2.2M186.1 846.8h2.2M222.0 860.8h2.2M186.1 959.0h2.2M203.6 973.0h2.2M219.7 987.0h2.2M186.1 846.8h2.2M250.5 902.9h2.2M294.4 973.0h2.2M328.5 1029.1h2.2M365.6 1099.2h2.2M186.1 888.9h2.2M186.1 874.8h2.2M204.1 874.8h2.2M221.5 874.8h2.2M261.0 902.9h2.2M288.9 916.9h2.2M186.1 987.0h2.2M220.9 959.0h2.2M186.1 1001.0h2.2M186.1 874.8h2.2M220.0 930.9h2.2M245.2 930.9h2.2M186.1 916.9h2.2M204.4 930.9h2.2M186.1 846.8h2.2M186.1 973.0h2.2M186.1 902.9h2.2M186.1 846.8h2.2M253.7 874.8h2.2M274.8 860.8h2.2M186.1 973.0h2.2M204.7 987.0h2.2M257.1 944.9h2.2M186.1 944.9h2.2M186.1 930.9h2.2M203.1 860.8h2.2M229.0 874.8h2.2M186.1 1057.1h2.2M186.1 959.0h2.2M203.3 959.0h2.2M221.0 973.0h2.2M252.2 973.0h2.2M289.9 959.0h2.2M292.4 987.0h2.2M186.1 1071.1h2.2M202.7 1085.1h2.2M186.1 860.8h2.2M247.5 1029.1h2.2M287.3 1085.1h2.2M326.7 1197.3h2.2M186.1 987.0h2.2M186.1 860.8h2.2M186.1 860.8h2.2M203.4 860.8h2.2M186.1 959.0h2.2M186.1 987.0h2.2M203.7 1015.0h2.2M221.7 1043.1h2.2M186.1 1001.0h2.2M204.7 1029.1h2.2M261.4 1085.1h2.2M186.1 916.9h2.2M186.1 1085.1h2.2M186.1 944.9h2.2M201.7 973.0h2.2M186.1 930.9h2.2M186.1 1029.1h2.2M221.3 1127.2h2.2M228.1 1127.2h2.2M186.1 888.9h2.2M203.3 930.9h2.2M222.1 973.0h2.2M186.1 1001.0h2.2M186.1 1015.0h2.2M220.7 1057.1h2.2M186.1 973.0h2.2M219.8 1015.0h2.2M186.1 930.9h2.2M186.1 846.8h2.2M222.7 846.8h2.2M186.1 1001.0h2.2M292.0 1155.2h2.2M186.1 916.9h2.2M204.3 930.9h2.2M220.7 973.0h2.2M241.9 959.0h2.2M186.1 1057.1h2.2M202.8 1015.0h2.2M186.1 930.9h2.2M186.1 846.8h2.2M186.1 944.9h2.2M203.2 916.9h2.2M218.9 916.9h2.2M186.1 860.8h2.2M186.1 860.8h2.2M203.7 860.8h2.2M224.7 916.9h2.2M186.1 930.9h2.2M186.1 1043.1h2.2M202.9 1085.1h2.2M186.1 1029.1h2.2M204.2 1001.0h2.2M257.5 1043.1h2.2M295.7 1057.1h2.2M186.1 916.9h2.2M202.9 973.0h2.2M186.1 846.8h2.2M204.0 860.8h2.2M186.1 973.0h2.2M220.6 1057.1h2.2M186.1 973.0h2.2M186.1 874.8h2.2M186.1 846.8h2.2M186.1 846.8h2.2M201.0 846.8h2.2M220.5 846.8h2.2M262.0 916.9h2.2M277.4 874.8h2.2M186.1 1057.1h2.2M186.1 846.8h2.2M186.1 846.8h2.2M248.8 846.8h2.2M293.7 846.8h2.2M296.7 846.8h2.2M186.1 902.9h2.2M202.4 930.9h2.2M186.1 902.9h2.2M219.8 959.0h2.2M186.1 846.8h2.2M202.5 846.8h2.2M186.1 902.9h2.2M186.1 930.9h2.2M186.1 874.8h2.2M204.4 944.9h2.2M251.7 930.9h2.2M186.1 987.0h2.2M186.1 959.0h2.2M204.1 944.9h2.2M186.1 959.0h2.2M204.2 959.0h2.2M220.5 944.9h2.2M256.7 959.0h2.2M293.8 987.0h2.2M331.1 1001.0h2.2M332.0 987.0h2.2M186.1 860.8h2.2M261.9 944.9h2.2M186.1 846.8h2.2M186.1 944.9h2.2M220.2 973.0h2.2M186.1 1029.1h2.2M202.9 1085.1h2.2M186.1 987.0h2.2M186.1 930.9h2.2M186.1 959.0h2.2M186.1 846.8h2.2M186.1 846.8h2.2M186.1 1015.0h2.2M186.1 846.8h2.2M200.5 846.8h2.2M247.0 916.9h2.2M186.1 846.8h2.2M203.3 846.8h2.2M252.2 902.9h2.2M186.1 846.8h2.2M220.2 846.8h2.2M254.3 860.8h2.2M292.7 860.8h2.2M326.2 888.9h2.2M186.1 1057.1h2.2M220.5 1085.1h2.2M254.1 1155.2h2.2M291.1 1155.2h2.2M328.0 1225.3h2.2M186.1 959.0h2.2M203.8 1029.1h2.2M186.1 888.9h2.2M222.2 916.9h2.2M186.1 930.9h2.2M220.9 959.0h2.2M248.3 959.0h2.2M186.1 959.0h2.2M201.3 973.0h2.2M219.7 959.0h2.2M256.3 1015.0h2.2M257.3 1001.0h2.2M186.1 888.9h2.2M220.7 860.8h2.2M186.1 860.8h2.2M249.6 944.9h2.2M186.1 846.8h2.2M186.1 959.0h2.2M255.7 959.0h2.2M324.9 944.9h2.2M360.5 959.0h2.2M371.6 1001.0h2.2M186.1 930.9h2.2M203.0 973.0h2.2M221.7 973.0h2.2M249.1 1015.0h2.2M291.5 1015.0h2.2M324.8 1071.1h2.2M186.1 959.0h2.2M186.1 959.0h2.2M204.0 973.0h2.2M186.1 1001.0h2.2M186.1 860.8h2.2M186.1 902.9h2.2M219.8 916.9h2.2M237.7 930.9h2.2M186.1 1043.1h2.2M186.1 902.9h2.2M221.9 973.0h2.2M284.3 1029.1h2.2M324.8 1127.2h2.2M330.2 1127.2h2.2M186.1 973.0h2.2M186.1 1001.0h2.2M186.1 959.0h2.2M186.1 902.9h2.2M220.6 944.9h2.2M256.1 944.9h2.2M290.9 959.0h2.2M186.1 1001.0h2.2M219.9 1015.0h2.2M256.5 1015.0h2.2M270.0 1015.0h2.2M186.1 973.0h2.2M203.0 959.0h2.2M247.2 1001.0h2.2M186.1 987.0h2.2M204.0 1043.1h2.2M219.7 1015.0h2.2M288.1 1057.1h2.2M322.4 1099.2h2.2M356.4 1183.3h2.2M390.9 1183.3h2.2M393.9 1197.3h2.2M186.1 973.0h2.2M204.3 1001.0h2.2M220.5 1029.1h2.2M259.4 1071.1h2.2M290.7 1085.1h2.2M186.1 930.9h2.2M219.4 874.8h2.2M253.4 916.9h2.2M291.3 902.9h2.2M186.1 916.9h2.2M186.1 874.8h2.2M186.1 1057.1h2.2M203.6 1113.2h2.2M222.7 1099.2h2.2M250.7 1183.3h2.2M292.6 1225.3h2.2M186.1 1043.1h2.2M186.1 1015.0h2.2M218.6 1015.0h2.2M250.1 1043.1h2.2M292.4 1099.2h2.2M311.6 1113.2h2.2M186.1 1001.0h2.2M204.2 1043.1h2.2M253.8 1085.1h2.2M266.1 1113.2h2.2M186.1 846.8h2.2M186.1 1057.1h2.2M186.1 888.9h2.2M220.4 930.9h2.2M312.6 1001.0h2.2M186.1 888.9h2.2M203.2 916.9h2.2M221.5 888.9h2.2M186.1 874.8h2.2M186.1 916.9h2.2M220.6 874.8h2.2M186.1 973.0h2.2M186.1 846.8h2.2M203.7 846.8h2.2M220.2 846.8h2.2M251.3 846.8h2.2M291.5 846.8h2.2M186.1 1015.0h2.2M202.8 1015.0h2.2M186.1 846.8h2.2M203.3 874.8h2.2M221.7 916.9h2.2M186.1 944.9h2.2M221.1 1001.0h2.2M256.5 1099.2h2.2M186.1 930.9h2.2M221.8 944.9h2.2M186.1 846.8h2.2M219.2 846.8h2.2M186.1 959.0h2.2M203.9 987.0h2.2M221.1 1001.0h2.2M260.7 1015.0h2.2M326.0 1015.0h2.2M352.8 1029.1h2.2M186.1 930.9h2.2M203.4 959.0h2.2M221.5 987.0h2.2M186.1 1029.1h2.2M202.9 1071.1h2.2M186.1 902.9h2.2M186.1 973.0h2.2M186.1 902.9h2.2M203.9 902.9h2.2M220.0 930.9h2.2M186.1 1001.0h2.2M221.9 1029.1h2.2M289.0 1113.2h2.2M360.6 1197.3h2.2M375.2 1225.3h2.2M186.1 944.9h2.2M202.9 987.0h2.2M220.3 1015.0h2.2M252.7 1071.1h2.2M186.1 1015.0h2.2M221.8 1057.1h2.2M251.9 1113.2h2.2M186.1 860.8h2.2M186.1 916.9h2.2M204.5 930.9h2.2M186.1 959.0h2.2M203.0 987.0h2.2M186.1 959.0h2.2M186.1 888.9h2.2M221.1 930.9h2.2M186.1 930.9h2.2M204.3 916.9h2.2M186.1 973.0h2.2M186.1 902.9h2.2M186.1 846.8h2.2M186.1 973.0h2.2M202.5 1001.0h2.2M221.8 1043.1h2.2M186.1 930.9h2.2M202.9 1001.0h2.2M219.4 1015.0h2.2M186.1 973.0h2.2M186.1 888.9h2.2M186.1 1057.1h2.2M220.8 1141.2h2.2M239.0 1141.2h2.2M186.1 860.8h2.2M186.1 888.9h2.2M186.1 1015.0h2.2M219.9 1113.2h2.2M186.1 987.0h2.2M186.1 987.0h2.2M219.1 1001.0h2.2M290.1 1015.0h2.2M314.0 1043.1h2.2M186.1 1001.0h2.2M220.2 1015.0h2.2M186.1 846.8h2.2M186.1 874.8h2.2M203.2 902.9h2.2M257.6 902.9h2.2M279.4 916.9h2.2M317.6 902.9h2.2M362.9 930.9h2.2M186.1 1015.0h2.2M221.8 1057.1h2.2M186.1 930.9h2.2M186.1 860.8h2.2M219.3 916.9h2.2M186.1 846.8h2.2M186.1 973.0h2.2M218.9 959.0h2.2M186.1 987.0h2.2M247.9 1127.2h2.2M262.1 1127.2h2.2M186.1 846.8h2.2M186.1 944.9h2.2M186.1 1001.0h2.2M221.1 1015.0h2.2M186.1 1001.0h2.2M218.3 1085.1h2.2M289.6 1183.3h2.2M186.1 846.8h2.2M203.1 846.8h2.2M222.2 846.8h2.2M186.1 846.8h2.2M220.0 930.9h2.2M186.1 1127.2h2.2M204.5 1169.3h2.2M222.0 1169.3h2.2M186.1 1001.0h2.2M220.0 973.0h2.2M186.1 916.9h2.2M203.6 930.9h2.2M220.3 987.0h2.2M290.5 1043.1h2.2M314.3 1099.2h2.2M361.6 1127.2h2.2M186.1 846.8h2.2M186.1 987.0h2.2M186.1 888.9h2.2M202.9 916.9h2.2M219.1 973.0h2.2M186.1 1099.2h2.2M220.5 1071.1h2.2M254.9 1127.2h2.2M325.7 1127.2h2.2M403.5 1169.3h2.2M186.1 1071.1h2.2M202.5 1099.2h2.2M220.7 1155.2h2.2M249.3 1141.2h2.2M186.1 1071.1h2.2M202.0 1015.0h2.2M222.3 1071.1h2.2M186.1 888.9h2.2M203.6 888.9h2.2M186.1 902.9h2.2M221.4 959.0h2.2M261.4 1001.0h2.2M186.1 888.9h2.2M186.1 846.8h2.2M221.6 888.9h2.2M186.1 959.0h2.2M186.1 944.9h2.2M219.7 973.0h2.2M250.7 1001.0h2.2M186.1 930.9h2.2M222.4 959.0h2.2M236.8 1015.0h2.2M186.1 888.9h2.2M186.1 973.0h2.2M219.6 973.0h2.2M244.1 944.9h2.2M186.1 888.9h2.2M220.1 959.0h2.2M289.9 1043.1h2.2M186.1 846.8h2.2M250.8 944.9h2.2M186.1 930.9h2.2M186.1 959.0h2.2M222.8 973.0h2.2M252.2 1029.1h2.2M364.0 1043.1h2.2M393.9 1085.1h2.2M399.0 1113.2h2.2M186.1 944.9h2.2M186.1 874.8h2.2M204.3 930.9h2.2M219.4 944.9h2.2M252.8 1001.0h2.2M331.3 1127.2h2.2M186.1 846.8h2.2M221.4 860.8h2.2M251.4 930.9h2.2M290.3 944.9h2.2M320.7 944.9h2.2M335.3 987.0h2.2M186.1 959.0h2.2M219.6 959.0h2.2M258.9 944.9h2.2M348.0 973.0h2.2M433.9 987.0h2.2M467.3 987.0h2.2M531.8 1015.0h2.2M565.4 1029.1h2.2M186.1 902.9h2.2M219.8 888.9h2.2M256.8 874.8h2.2M289.0 902.9h2.2M362.6 888.9h2.2M380.5 916.9h2.2M186.1 888.9h2.2M248.8 888.9h2.2M186.1 902.9h2.2M298.8 944.9h2.2M354.3 959.0h2.2M393.1 944.9h2.2M400.6 959.0h2.2M186.1 902.9h2.2M203.4 860.8h2.2M218.7 916.9h2.2M253.1 902.9h2.2M281.9 916.9h2.2M355.6 959.0h2.2M398.1 959.0h2.2M432.6 959.0h2.2M186.1 846.8h2.2M221.7 860.8h2.2M253.9 846.8h2.2M297.3 860.8h2.2M320.2 888.9h2.2M358.4 874.8h2.2M186.1 888.9h2.2M202.4 888.9h2.2M324.1 944.9h2.2M330.6 959.0h2.2M186.1 916.9h2.2M219.1 916.9h2.2M390.1 959.0h2.2M433.1 973.0h2.2M468.4 973.0h2.2M497.7 973.0h2.2M534.5 973.0h2.2M576.1 1043.1h2.2M186.1 874.8h2.2M248.8 902.9h2.2M286.8 930.9h2.2M320.5 930.9h2.2M361.2 959.0h2.2M186.1 860.8h2.2M203.3 874.8h2.2M222.8 874.8h2.2M298.8 888.9h2.2M328.7 874.8h2.2M186.1 874.8h2.2M220.1 888.9h2.2M186.1 916.9h2.2M220.8 902.9h2.2M258.1 930.9h2.2M294.8 888.9h2.2M332.1 916.9h2.2M357.4 902.9h2.2M426.8 916.9h2.2M458.9 930.9h2.2M186.1 846.8h2.2M260.1 874.8h2.2M290.4 874.8h2.2M329.1 846.8h2.2M348.1 874.8h2.2M186.1 874.8h2.2M221.9 888.9h2.2M248.6 916.9h2.2M186.1 902.9h2.2M186.1 916.9h2.2M220.7 930.9h2.2M254.8 944.9h2.2M186.1 959.0h2.2M186.1 930.9h2.2M186.1 888.9h2.2M202.2 930.9h2.2M220.5 902.9h2.2M254.2 916.9h2.2M287.1 916.9h2.2M393.2 916.9h2.2M428.3 944.9h2.2M186.1 860.8h2.2M202.8 846.8h2.2M186.1 959.0h2.2M252.7 959.0h2.2M186.1 874.8h2.2M202.7 916.9h2.2M264.5 874.8h2.2M330.0 902.9h2.2M186.1 846.8h2.2M202.9 846.8h2.2M186.1 846.8h2.2M219.2 846.8h2.2M249.6 874.8h2.2M294.6 846.8h2.2M325.5 860.8h2.2M396.5 860.8h2.2M423.2 846.8h2.2M463.4 860.8h2.2M491.8 888.9h2.2M532.5 846.8h2.2M533.6 846.8h2.2M186.1 916.9h2.2M203.3 916.9h2.2M221.9 888.9h2.2M328.9 916.9h2.2M353.2 944.9h2.2M398.1 902.9h2.2M432.7 959.0h2.2M434.5 916.9h2.2M186.1 860.8h2.2M220.3 916.9h2.2M264.3 888.9h2.2M283.4 902.9h2.2M186.1 916.9h2.2M262.1 944.9h2.2M292.5 944.9h2.2M327.0 959.0h2.2M361.8 987.0h2.2M395.5 1015.0h2.2M436.3 1001.0h2.2M462.3 1043.1h2.2M487.7 1071.1h2.2M562.8 1085.1h2.2M584.3 1071.1h2.2M186.1 874.8h2.2M221.1 874.8h2.2M260.7 930.9h2.2M292.3 902.9h2.2M319.9 944.9h2.2M348.9 930.9h2.2M426.4 973.0h2.2M186.1 888.9h2.2M203.3 902.9h2.2M219.1 916.9h2.2M289.7 959.0h2.2M325.0 930.9h2.2M358.7 959.0h2.2M390.8 944.9h2.2M424.9 973.0h2.2M500.6 1015.0h2.2M528.2 1015.0h2.2M186.1 846.8h2.2M250.4 846.8h2.2M292.6 846.8h2.2M324.6 860.8h2.2M186.1 902.9h2.2M203.9 930.9h2.2M221.1 944.9h2.2M253.4 930.9h2.2M295.6 944.9h2.2M317.8 944.9h2.2M364.7 987.0h2.2M394.0 1015.0h2.2M430.4 1029.1h2.2M458.9 1029.1h2.2M476.6 1057.1h2.2M186.1 846.8h2.2M205.3 874.8h2.2M221.3 888.9h2.2M249.5 888.9h2.2M186.1 874.8h2.2M186.1 944.9h2.2M222.5 944.9h2.2M241.4 930.9h2.2M186.1 902.9h2.2M254.7 930.9h2.2M186.1 888.9h2.2M186.1 930.9h2.2M202.3 944.9h2.2M222.5 916.9h2.2M292.2 973.0h2.2M328.8 959.0h2.2M186.1 888.9h2.2M203.4 874.8h2.2M220.0 888.9h2.2M257.0 944.9h2.2M186.1 916.9h2.2M251.5 888.9h2.2M333.8 902.9h2.2M356.6 916.9h2.2M432.4 916.9h2.2M460.6 959.0h2.2M503.8 930.9h2.2M523.1 959.0h2.2M566.6 973.0h2.2M186.1 888.9h2.2M203.3 888.9h2.2M253.0 902.9h2.2M186.1 916.9h2.2M203.2 902.9h2.2M220.7 916.9h2.2M325.1 916.9h2.2M390.7 930.9h2.2M186.1 860.8h2.2M186.1 888.9h2.2M220.5 888.9h2.2M234.1 930.9h2.2M186.1 888.9h2.2M220.5 874.8h2.2M254.4 902.9h2.2M281.6 888.9h2.2M324.2 888.9h2.2M360.6 944.9h2.2M394.2 944.9h2.2M427.3 944.9h2.2M434.3 973.0h2.2M186.1 916.9h2.2M202.2 944.9h2.2M219.8 944.9h2.2M244.0 930.9h2.2M186.1 902.9h2.2M253.9 902.9h2.2M284.5 902.9h2.2M327.1 930.9h2.2M186.1 944.9h2.2M221.0 916.9h2.2M246.6 916.9h2.2M366.5 973.0h2.2M368.8 1015.0h2.2M186.1 860.8h2.2M204.8 888.9h2.2M218.9 888.9h2.2M186.1 902.9h2.2M263.5 902.9h2.2M287.3 902.9h2.2M325.9 944.9h2.2M358.5 959.0h2.2M389.1 944.9h2.2M495.8 1001.0h2.2M529.0 1029.1h2.2M186.1 874.8h2.2M204.6 874.8h2.2M220.2 874.8h2.2M266.4 916.9h2.2M300.4 888.9h2.2M323.5 874.8h2.2M346.9 916.9h2.2M375.8 930.9h2.2M186.1 902.9h2.2M221.0 916.9h2.2M257.7 902.9h2.2M331.1 916.9h2.2M352.2 930.9h2.2M186.1 874.8h2.2M203.6 930.9h2.2M258.4 902.9h2.2M287.0 874.8h2.2M323.6 944.9h2.2M353.5 916.9h2.2M396.8 944.9h2.2M186.1 846.8h2.2M203.8 860.8h2.2M220.5 860.8h2.2M252.5 874.8h2.2M186.1 930.9h2.2M203.2 874.8h2.2M219.6 916.9h2.2M290.4 916.9h2.2M325.7 930.9h2.2M186.1 902.9h2.2M218.4 916.9h2.2M297.8 902.9h2.2M326.5 930.9h2.2M186.1 930.9h2.2M202.9 944.9h2.2M221.6 930.9h2.2M248.8 973.0h2.2M291.7 973.0h2.2M320.0 959.0h2.2M186.1 874.8h2.2M220.7 860.8h2.2M292.7 902.9h2.2M325.6 888.9h2.2M357.5 902.9h2.2M398.7 888.9h2.2M462.0 902.9h2.2M501.8 959.0h2.2M540.4 944.9h2.2M565.9 944.9h2.2M186.1 902.9h2.2M222.3 916.9h2.2M249.9 944.9h2.2M289.1 916.9h2.2M322.5 916.9h2.2M354.6 916.9h2.2M396.4 930.9h2.2M411.6 930.9h2.2M186.1 888.9h2.2M221.9 930.9h2.2M251.5 902.9h2.2M263.2 930.9h2.2M186.1 944.9h2.2M220.3 944.9h2.2M249.1 973.0h2.2M288.2 959.0h2.2M359.9 973.0h2.2M390.6 959.0h2.2M419.6 944.9h2.2M186.1 902.9h2.2M219.9 916.9h2.2M289.1 902.9h2.2M320.8 902.9h2.2M360.3 888.9h2.2M430.3 930.9h2.2M515.2 930.9h2.2M186.1 846.8h2.2M220.1 846.8h2.2M249.2 902.9h2.2M186.1 888.9h2.2M203.8 888.9h2.2M220.1 916.9h2.2M235.8 888.9h2.2M186.1 944.9h2.2M219.7 916.9h2.2M295.6 916.9h2.2M319.3 916.9h2.2M360.4 916.9h2.2M400.6 930.9h2.2M428.3 916.9h2.2M471.1 987.0h2.2M534.4 987.0h2.2M571.3 987.0h2.2M186.1 846.8h2.2M218.7 846.8h2.2M249.1 846.8h2.2M186.1 860.8h2.2M186.1 959.0h2.2M284.1 1015.0h2.2M291.8 1001.0h2.2M186.1 902.9h2.2M270.9 944.9h2.2M186.1 846.8h2.2M204.8 888.9h2.2M256.1 846.8h2.2M326.5 846.8h2.2M363.5 874.8h2.2M393.9 874.8h2.2M428.0 874.8h2.2M460.3 860.8h2.2M526.7 874.8h2.2M571.7 902.9h2.2M186.1 902.9h2.2M222.6 930.9h2.2M186.1 846.8h2.2M203.3 916.9h2.2M322.7 902.9h2.2M186.1 916.9h2.2M203.2 846.8h2.2M220.9 874.8h2.2M261.2 874.8h2.2M291.1 874.8h2.2M358.7 930.9h2.2M186.1 930.9h2.2M220.6 930.9h2.2M255.4 959.0h2.2M296.8 959.0h2.2M307.6 959.0h2.2M186.1 846.8h2.2M219.8 846.8h2.2M258.0 846.8h2.2M284.0 846.8h2.2M331.4 860.8h2.2M360.1 846.8h2.2M186.1 874.8h2.2M204.2 902.9h2.2M251.1 902.9h2.2M299.0 902.9h2.2M329.7 930.9h2.2M387.9 930.9h2.2M423.9 944.9h2.2M502.1 987.0h2.2M508.5 1001.0h2.2M186.1 902.9h2.2M295.1 916.9h2.2M330.0 944.9h2.2M392.8 973.0h2.2M186.1 902.9h2.2M186.1 902.9h2.2M221.1 959.0h2.2M250.1 944.9h2.2M330.3 930.9h2.2M352.4 944.9h2.2M397.5 973.0h2.2M460.8 1001.0h2.2M535.8 1029.1h2.2M566.7 1001.0h2.2M578.2 1057.1h2.2M186.1 888.9h2.2M288.9 930.9h2.2M359.7 944.9h2.2M186.1 874.8h2.2M221.0 888.9h2.2M290.8 930.9h2.2M317.6 944.9h2.2M186.1 874.8h2.2M202.7 874.8h2.2M186.1 846.8h2.2M202.9 846.8h2.2M255.8 888.9h2.2M326.0 874.8h2.2M389.3 888.9h2.2M433.2 916.9h2.2M457.7 916.9h2.2M499.8 959.0h2.2M505.0 944.9h2.2M186.1 846.8h2.2M219.5 846.8h2.2M258.5 860.8h2.2M295.9 874.8h2.2M322.1 874.8h2.2M354.9 860.8h2.2M393.9 888.9h2.2M424.1 888.9h2.2M186.1 902.9h2.2M203.9 888.9h2.2M220.2 902.9h2.2M186.1 902.9h2.2M220.1 930.9h2.2M264.8 902.9h2.2M322.9 973.0h2.2M186.1 916.9h2.2M284.8 902.9h2.2M334.9 944.9h2.2M366.8 959.0h2.2M396.7 944.9h2.2M431.6 987.0h2.2M465.5 987.0h2.2M501.3 987.0h2.2M503.7 1001.0h2.2M186.1 860.8h2.2M219.7 874.8h2.2M235.5 888.9h2.2M186.1 888.9h2.2M220.8 874.8h2.2M186.1 846.8h2.2M260.0 860.8h2.2M286.2 874.8h2.2M186.1 916.9h2.2M220.8 888.9h2.2M245.4 902.9h2.2M293.6 902.9h2.2M326.0 973.0h2.2M360.0 959.0h2.2M422.6 973.0h2.2M468.8 973.0h2.2M186.1 916.9h2.2M238.6 916.9h2.2M186.1 888.9h2.2M220.9 944.9h2.2M261.3 930.9h2.2M296.3 959.0h2.2M324.8 973.0h2.2M327.5 973.0h2.2M186.1 902.9h2.2M204.7 888.9h2.2M219.0 930.9h2.2M322.6 944.9h2.2M387.2 987.0h2.2M433.2 987.0h2.2M565.1 1071.1h2.2M584.3 1099.2h2.2M186.1 916.9h2.2M186.1 902.9h2.2M286.8 916.9h2.2M186.1 846.8h2.2M221.5 860.8h2.2M263.4 860.8h2.2M327.9 846.8h2.2M186.1 846.8h2.2M204.0 860.8h2.2M221.1 902.9h2.2M186.1 888.9h2.2M204.4 888.9h2.2M221.6 874.8h2.2M251.2 902.9h2.2M280.8 930.9h2.2M186.1 874.8h2.2M242.8 888.9h2.2M287.7 888.9h2.2M326.4 888.9h2.2M362.1 888.9h2.2M390.3 902.9h2.2M424.5 888.9h2.2M186.1 902.9h2.2M186.1 902.9h2.2M219.8 888.9h2.2M261.9 888.9h2.2M279.2 902.9h2.2M327.2 888.9h2.2M364.7 874.8h2.2M395.1 902.9h2.2M481.0 888.9h2.2M186.1 902.9h2.2M203.4 959.0h2.2M221.8 959.0h2.2M255.6 959.0h2.2M284.2 959.0h2.2M334.2 959.0h2.2M186.1 902.9h2.2M202.2 944.9h2.2M220.8 902.9h2.2M260.9 930.9h2.2M351.1 930.9h2.2M399.7 973.0h2.2M412.6 987.0h2.2M186.1 930.9h2.2M203.0 944.9h2.2M290.5 944.9h2.2M314.4 930.9h2.2M359.5 959.0h2.2M433.9 959.0h2.2M458.4 930.9h2.2M502.9 930.9h2.2M533.5 973.0h2.2M575.1 1015.0h2.2M186.1 944.9h2.2M221.5 944.9h2.2M186.1 888.9h2.2M186.1 916.9h2.2M186.1 916.9h2.2M204.7 944.9h2.2M278.8 916.9h2.2M186.1 902.9h2.2M254.7 888.9h2.2M295.0 916.9h2.2M355.2 959.0h2.2M388.0 930.9h2.2M464.1 987.0h2.2M186.1 846.8h2.2M221.1 846.8h2.2M234.9 846.8h2.2M186.1 916.9h2.2M186.1 846.8h2.2M203.0 874.8h2.2M220.5 874.8h2.2M249.6 860.8h2.2M295.1 874.8h2.2M327.1 902.9h2.2M366.3 902.9h2.2M390.1 860.8h2.2M429.4 944.9h2.2M464.5 959.0h2.2M503.5 959.0h2.2M539.2 973.0h2.2M559.6 973.0h2.2M584.3 1001.0h2.2M186.1 846.8h2.2M221.0 846.8h2.2M255.7 874.8h2.2M186.1 874.8h2.2M219.2 846.8h2.2M288.6 902.9h2.2M320.3 902.9h2.2M186.1 916.9h2.2M219.2 944.9h2.2M257.3 944.9h2.2M264.1 916.9h2.2M186.1 860.8h2.2M221.8 902.9h2.2M253.4 902.9h2.2M278.2 916.9h2.2M360.3 902.9h2.2M465.6 973.0h2.2M489.9 944.9h2.2M186.1 874.8h2.2M221.2 888.9h2.2M249.7 902.9h2.2M356.7 902.9h2.2M399.1 930.9h2.2M453.8 930.9h2.2M186.1 902.9h2.2M219.3 902.9h2.2M254.0 930.9h2.2M271.0 930.9h2.2M186.1 874.8h2.2M201.8 888.9h2.2M220.5 888.9h2.2M252.1 888.9h2.2M284.9 888.9h2.2M323.2 874.8h2.2M186.1 874.8h2.2M204.1 874.8h2.2M186.1 1113.2h2.2M186.1 1267.4h2.2M186.1 1113.2h2.2M186.1 1183.3h2.2M202.0 1211.3h2.2M186.1 1225.3h2.2M186.1 1043.1h2.2M186.1 1197.3h2.2M186.1 1127.2h2.2M186.1 1211.3h2.2M204.3 1225.3h2.2M221.2 1225.3h2.2M186.1 1225.3h2.2M186.1 1183.3h2.2M186.1 1239.4h2.2M186.1 1127.2h2.2M222.3 1169.3h2.2M186.1 1183.3h2.2" fill="none" stroke="#d3212e" stroke-width="2.2" clip-path="url(#clipC)"/><path d="M186.1 959.0h2.2M222.6 987.0h2.2M252.7 973.0h2.2M287.5 1015.0h2.2M186.1 1015.0h2.2M220.5 1057.1h2.2M250.9 1001.0h2.2M287.8 1085.1h2.2M314.8 1127.2h2.2M186.1 987.0h2.2M186.1 902.9h2.2M203.0 959.0h2.2M221.9 944.9h2.2M254.9 987.0h2.2M186.1 916.9h2.2M204.1 888.9h2.2M220.8 944.9h2.2M253.8 902.9h2.2M186.1 944.9h2.2M220.0 1001.0h2.2M248.7 1029.1h2.2M292.8 1057.1h2.2M323.5 1127.2h2.2M186.1 987.0h2.2M186.1 1071.1h2.2M203.5 1085.1h2.2M221.5 1099.2h2.2M246.7 1099.2h2.2M293.3 1113.2h2.2M329.3 1085.1h2.2M336.4 1099.2h2.2M186.1 916.9h2.2M186.1 874.8h2.2M290.5 930.9h2.2M186.1 930.9h2.2M186.1 846.8h2.2M186.1 1071.1h2.2M186.1 902.9h2.2M220.7 944.9h2.2M186.1 874.8h2.2M186.1 846.8h2.2M186.1 902.9h2.2M203.1 944.9h2.2M221.1 916.9h2.2M249.2 959.0h2.2M288.5 1015.0h2.2M316.4 1043.1h2.2M398.3 1029.1h2.2M186.1 1029.1h2.2M186.1 930.9h2.2M221.1 1043.1h2.2M186.1 944.9h2.2M186.1 846.8h2.2M223.3 846.8h2.2M250.9 860.8h2.2M186.1 1029.1h2.2M201.5 987.0h2.2M186.1 1043.1h2.2M220.2 1085.1h2.2M186.1 846.8h2.2M203.6 846.8h2.2M186.1 1043.1h2.2M202.5 1071.1h2.2M186.1 846.8h2.2M186.1 1099.2h2.2M203.5 1127.2h2.2M222.6 1141.2h2.2M186.1 944.9h2.2M186.1 902.9h2.2M186.1 987.0h2.2M220.1 1057.1h2.2M186.1 1015.0h2.2M202.5 1043.1h2.2M257.3 1043.1h2.2M287.6 1085.1h2.2M186.1 846.8h2.2M186.1 987.0h2.2M271.0 1113.2h2.2M186.1 888.9h2.2M202.1 916.9h2.2M221.2 944.9h2.2M261.6 1085.1h2.2M286.3 1127.2h2.2M321.4 1211.3h2.2M186.1 930.9h2.2M203.2 944.9h2.2M220.5 1071.1h2.2M186.1 1001.0h2.2M220.9 1099.2h2.2M291.7 1239.4h2.2M330.5 1267.4h2.2M186.1 902.9h2.2M186.1 1071.1h2.2M202.5 1085.1h2.2M254.4 1183.3h2.2M186.1 1001.0h2.2M186.1 930.9h2.2M186.1 944.9h2.2M186.1 973.0h2.2M186.1 944.9h2.2M255.0 1071.1h2.2M291.9 1057.1h2.2M307.8 1113.2h2.2M186.1 874.8h2.2M202.6 846.8h2.2M220.3 860.8h2.2M186.1 874.8h2.2M201.5 888.9h2.2M221.0 944.9h2.2M186.1 959.0h2.2M186.1 959.0h2.2M221.9 1057.1h2.2M290.6 1169.3h2.2M186.1 987.0h2.2M255.1 1113.2h2.2M186.1 916.9h2.2M222.9 944.9h2.2M246.6 1001.0h2.2M291.6 1015.0h2.2M294.4 1001.0h2.2M186.1 846.8h2.2M186.1 959.0h2.2M221.2 1099.2h2.2M186.1 930.9h2.2M186.1 944.9h2.2M186.1 944.9h2.2M221.4 944.9h2.2M253.2 916.9h2.2M186.1 987.0h2.2M220.2 944.9h2.2M256.6 973.0h2.2M186.1 959.0h2.2M219.8 1071.1h2.2M186.1 874.8h2.2M186.1 973.0h2.2M186.1 930.9h2.2M202.2 902.9h2.2M257.9 930.9h2.2M292.6 930.9h2.2M186.1 916.9h2.2M204.9 944.9h2.2M220.3 973.0h2.2M186.1 959.0h2.2M186.1 973.0h2.2M186.1 1015.0h2.2M220.3 1015.0h2.2M186.1 959.0h2.2M186.1 846.8h2.2M204.6 846.8h2.2M221.0 846.8h2.2M186.1 846.8h2.2M203.8 930.9h2.2M186.1 846.8h2.2M220.6 888.9h2.2M256.0 959.0h2.2M186.1 930.9h2.2M186.1 959.0h2.2M203.2 959.0h2.2M221.2 1015.0h2.2M250.4 1043.1h2.2M186.1 930.9h2.2M219.6 987.0h2.2M265.1 1071.1h2.2M186.1 1057.1h2.2M202.8 1141.2h2.2M220.3 1155.2h2.2M274.5 1253.4h2.2M186.1 959.0h2.2M220.2 987.0h2.2M246.0 1043.1h2.2M291.6 1127.2h2.2M326.7 1127.2h2.2M186.1 1043.1h2.2M203.6 1057.1h2.2M186.1 1001.0h2.2M221.1 1029.1h2.2M244.7 1043.1h2.2M186.1 888.9h2.2M186.1 1043.1h2.2M186.1 930.9h2.2M186.1 1057.1h2.2M186.1 902.9h2.2M202.4 944.9h2.2M221.8 959.0h2.2M287.7 1001.0h2.2M186.1 1001.0h2.2M222.6 1057.1h2.2M248.8 1113.2h2.2M290.8 1169.3h2.2M321.5 1211.3h2.2M358.0 1239.4h2.2M393.9 1267.4h2.2M186.1 846.8h2.2M221.9 888.9h2.2M242.8 916.9h2.2M186.1 888.9h2.2M220.6 874.8h2.2M254.5 860.8h2.2M291.3 860.8h2.2M364.4 916.9h2.2M186.1 1113.2h2.2M205.5 1057.1h2.2M221.2 1043.1h2.2M246.8 1099.2h2.2M186.1 846.8h2.2M186.1 944.9h2.2M218.3 987.0h2.2M247.6 1043.1h2.2M288.5 1113.2h2.2M332.7 1239.4h2.2M186.1 930.9h2.2M186.1 888.9h2.2M186.1 973.0h2.2M186.1 846.8h2.2M220.6 846.8h2.2M186.1 959.0h2.2M221.3 1057.1h2.2M186.1 944.9h2.2M186.1 846.8h2.2M186.1 846.8h2.2M219.1 888.9h2.2M235.7 888.9h2.2M186.1 1057.1h2.2M186.1 888.9h2.2M186.1 902.9h2.2M204.5 888.9h2.2M186.1 987.0h2.2M186.1 846.8h2.2M202.4 846.8h2.2M186.1 930.9h2.2M201.3 987.0h2.2M221.4 987.0h2.2M229.0 1071.1h2.2M186.1 888.9h2.2M186.1 959.0h2.2M205.5 944.9h2.2M186.1 860.8h2.2M186.1 944.9h2.2M203.7 987.0h2.2M186.1 916.9h2.2M186.1 1015.0h2.2M186.1 846.8h2.2M205.9 874.8h2.2M236.8 916.9h2.2M186.1 1001.0h2.2M186.1 944.9h2.2M203.6 930.9h2.2M220.9 930.9h2.2M281.9 1071.1h2.2M186.1 860.8h2.2M202.0 944.9h2.2M186.1 1029.1h2.2M220.6 1099.2h2.2M240.2 1099.2h2.2M186.1 987.0h2.2M186.1 916.9h2.2M221.8 973.0h2.2M257.1 1113.2h2.2M283.6 1169.3h2.2M322.1 1267.4h2.2M186.1 973.0h2.2M249.1 1015.0h2.2M294.5 1085.1h2.2M308.7 1113.2h2.2M186.1 959.0h2.2M186.1 930.9h2.2M186.1 846.8h2.2M186.1 846.8h2.2M186.1 1085.1h2.2M205.7 1057.1h2.2M221.0 1141.2h2.2M186.1 1043.1h2.2M186.1 973.0h2.2M186.1 874.8h2.2M186.1 888.9h2.2M220.9 944.9h2.2M234.3 944.9h2.2M186.1 916.9h2.2M203.7 888.9h2.2M218.3 930.9h2.2M186.1 1085.1h2.2M186.1 973.0h2.2M186.1 846.8h2.2M201.6 930.9h2.2M218.7 959.0h2.2M266.2 1043.1h2.2M186.1 846.8h2.2M203.2 846.8h2.2M222.1 846.8h2.2M260.8 902.9h2.2M261.2 874.8h2.2M186.1 846.8h2.2M186.1 987.0h2.2M186.1 888.9h2.2M220.6 930.9h2.2M186.1 1253.4h2.2M186.1 1169.3h2.2M186.1 1211.3h2.2M203.1 1253.4h2.2M220.3 1267.4h2.2M186.1 1211.3h2.2M186.1 1211.3h2.2M186.1 1253.4h2.2M186.1 1267.4h2.2M186.1 1155.2h2.2" fill="none" stroke="#5d2f78" stroke-width="2.2" clip-path="url(#clipC)"/><path d="M186.1 930.9h2.2M186.1 916.9h2.2M186.1 874.8h2.2M221.4 888.9h2.2M251.2 888.9h2.2M186.1 846.8h2.2M186.1 902.9h2.2M202.1 902.9h2.2M257.6 888.9h2.2M292.6 888.9h2.2M324.6 888.9h2.2M329.6 916.9h2.2M186.1 944.9h2.2M186.1 916.9h2.2M219.8 860.8h2.2M186.1 930.9h2.2M221.2 930.9h2.2M251.9 916.9h2.2M186.1 902.9h2.2M204.0 930.9h2.2M219.5 916.9h2.2M186.1 916.9h2.2M219.7 888.9h2.2M186.1 846.8h2.2M219.9 860.8h2.2M263.3 846.8h2.2M288.4 846.8h2.2M392.9 888.9h2.2M462.9 902.9h2.2M186.1 860.8h2.2M222.0 860.8h2.2M253.4 874.8h2.2M290.8 860.8h2.2M322.0 930.9h2.2M364.3 874.8h2.2M186.1 860.8h2.2M220.5 860.8h2.2M228.5 860.8h2.2M186.1 860.8h2.2M221.5 874.8h2.2M286.2 888.9h2.2M328.8 888.9h2.2M186.1 916.9h2.2M186.1 916.9h2.2M203.4 902.9h2.2M221.0 888.9h2.2M327.4 930.9h2.2M358.3 959.0h2.2M391.6 959.0h2.2M425.2 973.0h2.2M536.7 1001.0h2.2M567.8 1029.1h2.2M186.1 846.8h2.2M220.2 846.8h2.2M238.0 874.8h2.2M186.1 930.9h2.2M219.9 930.9h2.2M264.6 874.8h2.2M290.2 902.9h2.2M328.3 874.8h2.2M344.6 916.9h2.2M186.1 902.9h2.2M203.0 902.9h2.2M220.8 902.9h2.2M252.9 902.9h2.2M256.5 888.9h2.2M186.1 916.9h2.2M186.1 874.8h2.2M217.9 860.8h2.2M254.4 860.8h2.2M186.1 902.9h2.2M218.5 902.9h2.2M258.9 902.9h2.2M299.7 902.9h2.2M322.6 888.9h2.2M400.6 944.9h2.2M186.1 888.9h2.2M201.5 902.9h2.2M221.1 902.9h2.2M253.1 860.8h2.2M291.8 888.9h2.2M317.3 902.9h2.2M186.1 874.8h2.2M221.9 860.8h2.2M255.2 902.9h2.2M328.4 916.9h2.2M186.1 902.9h2.2M218.9 888.9h2.2M256.1 902.9h2.2M288.1 916.9h2.2M320.0 944.9h2.2M366.5 944.9h2.2M393.9 944.9h2.2M430.6 959.0h2.2M436.1 944.9h2.2M393.9 846.8h2.2M497.8 846.8h2.2M612.0 846.8h2.2M677.8 888.9h2.2" fill="none" stroke="#1a6fb5" stroke-width="2.2" clip-path="url(#clipC)"/><path d="M186.1 888.9h2.2M202.9 874.8h2.2M220.7 874.8h2.2M296.5 846.8h2.2M327.5 860.8h2.2M357.7 846.8h2.2M427.7 846.8h2.2M494.2 860.8h2.2M534.0 846.8h2.2M186.1 846.8h2.2M203.6 846.8h2.2M220.0 860.8h2.2M186.1 846.8h2.2M220.7 846.8h2.2M259.7 846.8h2.2M292.5 860.8h2.2M357.1 874.8h2.2M372.5 860.8h2.2M186.1 846.8h2.2M203.7 860.8h2.2M186.1 846.8h2.2M220.0 846.8h2.2M186.1 888.9h2.2M222.9 874.8h2.2M253.5 874.8h2.2M295.5 874.8h2.2M186.1 846.8h2.2M201.9 860.8h2.2M220.1 874.8h2.2M186.1 888.9h2.2M203.1 860.8h2.2M220.7 860.8h2.2M259.9 888.9h2.2M265.0 874.8h2.2M186.1 860.8h2.2M204.6 860.8h2.2M220.9 860.8h2.2M257.9 874.8h2.2M325.9 860.8h2.2M186.1 888.9h2.2M255.5 860.8h2.2M290.0 874.8h2.2M332.1 874.8h2.2M361.2 888.9h2.2M186.1 888.9h2.2M221.7 902.9h2.2M258.3 902.9h2.2M186.1 916.9h2.2M221.9 902.9h2.2M235.0 902.9h2.2M186.1 888.9h2.2M222.5 874.8h2.2M258.3 902.9h2.2M293.0 888.9h2.2M186.1 860.8h2.2M186.1 874.8h2.2M203.7 888.9h2.2M220.9 902.9h2.2M257.3 874.8h2.2M275.5 888.9h2.2M186.1 874.8h2.2M220.2 874.8h2.2M255.0 874.8h2.2M186.1 888.9h2.2M221.2 902.9h2.2M262.1 902.9h2.2M186.1 846.8h2.2M222.0 846.8h2.2M247.9 846.8h2.2M186.1 874.8h2.2M204.0 846.8h2.2M222.0 846.8h2.2M255.0 860.8h2.2M287.6 846.8h2.2M318.4 846.8h2.2M186.1 846.8h2.2M186.1 888.9h2.2M255.3 902.9h2.2M186.1 874.8h2.2M221.0 846.8h2.2M250.1 860.8h2.2M289.6 874.8h2.2M314.8 860.8h2.2M357.0 860.8h2.2M186.1 846.8h2.2M254.9 846.8h2.2M266.5 846.8h2.2M186.1 846.8h2.2M201.7 846.8h2.2M186.1 874.8h2.2M186.1 874.8h2.2M288.5 860.8h2.2M329.1 874.8h2.2M343.0 846.8h2.2M186.1 860.8h2.2M186.1 916.9h2.2M204.2 888.9h2.2M259.8 902.9h2.2M322.9 902.9h2.2M358.8 888.9h2.2M395.2 902.9h2.2M432.9 888.9h2.2M464.6 888.9h2.2M567.9 902.9h2.2M186.1 888.9h2.2M186.1 860.8h2.2M202.6 846.8h2.2M219.8 846.8h2.2M256.1 846.8h2.2M320.7 846.8h2.2M355.6 846.8h2.2M395.3 846.8h2.2M457.5 846.8h2.2M498.4 846.8h2.2M509.6 846.8h2.2M186.1 888.9h2.2M186.1 888.9h2.2M202.4 888.9h2.2M219.5 860.8h2.2M257.7 874.8h2.2M293.2 860.8h2.2M321.3 860.8h2.2M351.8 874.8h2.2M363.5 860.8h2.2M186.1 846.8h2.2M203.2 846.8h2.2M221.0 846.8h2.2M186.1 888.9h2.2M219.7 874.8h2.2M186.1 860.8h2.2M321.9 888.9h2.2M360.8 874.8h2.2M391.8 874.8h2.2M186.1 860.8h2.2M186.1 846.8h2.2M221.6 846.8h2.2M247.4 846.8h2.2M186.1 860.8h2.2M219.6 874.8h2.2M262.3 846.8h2.2M286.3 874.8h2.2M321.7 874.8h2.2M395.5 874.8h2.2M430.0 888.9h2.2M186.1 860.8h2.2M220.1 888.9h2.2M253.1 860.8h2.2M264.6 874.8h2.2M186.1 846.8h2.2M203.1 846.8h2.2M221.8 846.8h2.2M255.7 846.8h2.2M322.5 846.8h2.2M362.8 860.8h2.2M392.4 846.8h2.2M425.5 874.8h2.2M495.0 874.8h2.2M530.5 860.8h2.2M567.5 874.8h2.2M597.3 888.9h2.2M186.1 874.8h2.2M186.1 902.9h2.2M221.9 888.9h2.2M252.0 902.9h2.2M295.0 888.9h2.2M323.0 902.9h2.2M368.3 888.9h2.2M397.8 888.9h2.2M431.2 874.8h2.2M464.3 888.9h2.2M492.3 888.9h2.2M531.4 888.9h2.2M186.1 874.8h2.2M221.0 860.8h2.2M290.2 860.8h2.2M328.9 874.8h2.2M395.4 874.8h2.2M186.1 902.9h2.2M220.8 888.9h2.2M260.1 902.9h2.2M324.3 916.9h2.2M402.8 916.9h2.2M408.5 916.9h2.2M186.1 874.8h2.2M202.4 874.8h2.2M254.3 860.8h2.2M298.9 860.8h2.2M335.0 846.8h2.2M362.8 846.8h2.2M404.0 860.8h2.2M413.0 860.8h2.2M186.1 930.9h2.2M201.2 916.9h2.2M220.5 902.9h2.2M328.7 930.9h2.2M186.1 846.8h2.2M252.2 846.8h2.2M330.7 860.8h2.2M363.1 846.8h2.2M397.7 846.8h2.2M427.9 846.8h2.2M472.5 860.8h2.2M499.9 846.8h2.2M537.7 846.8h2.2M186.1 902.9h2.2M218.0 916.9h2.2M254.0 902.9h2.2M291.5 916.9h2.2M319.7 944.9h2.2M359.9 902.9h2.2M393.6 930.9h2.2M186.1 902.9h2.2M223.2 888.9h2.2M249.7 888.9h2.2M295.9 888.9h2.2M329.0 888.9h2.2M399.7 888.9h2.2M434.9 888.9h2.2M458.3 888.9h2.2M466.2 874.8h2.2M186.1 846.8h2.2M203.0 860.8h2.2M222.6 860.8h2.2M253.9 846.8h2.2M291.6 846.8h2.2M186.1 874.8h2.2M254.0 902.9h2.2M289.3 888.9h2.2M358.5 902.9h2.2M435.5 902.9h2.2M186.1 860.8h2.2M287.4 902.9h2.2M186.1 846.8h2.2M221.8 874.8h2.2M242.4 860.8h2.2M291.4 860.8h2.2M327.6 860.8h2.2M186.1 874.8h2.2M253.4 874.8h2.2M186.1 874.8h2.2M220.9 860.8h2.2M186.1 874.8h2.2M186.1 874.8h2.2M222.2 874.8h2.2M253.9 874.8h2.2M278.9 874.8h2.2M327.8 874.8h2.2M359.7 874.8h2.2M391.2 874.8h2.2M186.1 874.8h2.2M202.1 888.9h2.2M257.3 874.8h2.2M186.1 888.9h2.2M222.9 888.9h2.2M253.0 888.9h2.2M292.1 888.9h2.2M324.7 874.8h2.2M362.3 902.9h2.2M427.0 902.9h2.2M186.1 860.8h2.2M203.3 860.8h2.2M218.5 860.8h2.2M256.7 860.8h2.2M288.3 874.8h2.2M327.4 874.8h2.2M355.8 860.8h2.2M392.4 874.8h2.2M186.1 846.8h2.2M203.3 846.8h2.2M220.2 846.8h2.2M300.2 846.8h2.2M186.1 860.8h2.2M220.9 846.8h2.2M258.2 846.8h2.2M291.8 846.8h2.2M186.1 930.9h2.2M186.1 846.8h2.2M203.8 860.8h2.2M221.9 860.8h2.2M254.9 860.8h2.2M282.4 846.8h2.2M365.8 846.8h2.2M400.4 860.8h2.2M421.5 846.8h2.2M459.1 860.8h2.2M504.9 860.8h2.2M186.1 888.9h2.2M203.3 888.9h2.2M220.4 902.9h2.2M259.0 902.9h2.2M186.1 846.8h2.2M202.9 846.8h2.2M257.2 874.8h2.2M322.4 860.8h2.2M357.7 846.8h2.2M186.1 846.8h2.2M204.0 846.8h2.2M222.1 846.8h2.2M258.6 846.8h2.2M291.1 846.8h2.2M186.1 874.8h2.2M293.5 888.9h2.2M326.1 888.9h2.2M186.1 846.8h2.2M221.4 846.8h2.2M291.3 846.8h2.2M327.4 846.8h2.2M359.1 846.8h2.2M386.2 846.8h2.2M458.3 846.8h2.2M502.1 846.8h2.2M186.1 846.8h2.2M221.0 860.8h2.2M252.8 860.8h2.2M186.1 874.8h2.2M220.5 888.9h2.2M249.4 888.9h2.2M282.7 874.8h2.2M321.8 888.9h2.2M360.2 888.9h2.2M424.3 888.9h2.2M186.1 874.8h2.2M220.7 874.8h2.2M253.7 874.8h2.2M321.8 860.8h2.2M186.1 916.9h2.2M186.1 846.8h2.2M220.1 860.8h2.2M250.9 846.8h2.2M288.7 874.8h2.2M186.1 916.9h2.2M203.7 874.8h2.2M221.3 902.9h2.2M290.8 888.9h2.2M358.9 888.9h2.2M186.1 888.9h2.2M204.0 874.8h2.2M219.0 874.8h2.2M289.1 874.8h2.2M320.3 888.9h2.2M354.9 874.8h2.2M387.7 888.9h2.2M434.6 888.9h2.2M465.4 888.9h2.2M505.0 902.9h2.2M186.1 888.9h2.2M203.3 888.9h2.2M220.5 888.9h2.2M186.1 888.9h2.2M205.2 888.9h2.2M219.3 888.9h2.2M260.5 888.9h2.2M312.0 902.9h2.2M186.1 874.8h2.2M203.2 860.8h2.2M302.6 860.8h2.2M358.2 874.8h2.2M394.8 888.9h2.2M427.9 888.9h2.2M455.5 888.9h2.2M186.1 860.8h2.2M247.8 874.8h2.2M289.1 860.8h2.2M292.3 860.8h2.2M186.1 874.8h2.2M221.7 902.9h2.2M245.0 874.8h2.2M292.3 902.9h2.2M325.9 902.9h2.2M391.1 916.9h2.2M425.6 902.9h2.2M463.4 930.9h2.2M491.5 916.9h2.2M186.1 874.8h2.2M202.1 874.8h2.2M220.5 874.8h2.2M260.8 860.8h2.2M288.2 860.8h2.2M186.1 888.9h2.2M255.0 874.8h2.2M289.9 888.9h2.2M186.1 902.9h2.2M220.5 888.9h2.2M257.9 888.9h2.2M293.9 902.9h2.2M320.3 902.9h2.2M362.7 902.9h2.2M374.0 902.9h2.2M186.1 846.8h2.2M220.8 860.8h2.2M186.1 860.8h2.2M186.1 874.8h2.2M221.8 860.8h2.2M253.7 888.9h2.2M289.4 846.8h2.2M186.1 860.8h2.2M221.4 846.8h2.2M251.2 846.8h2.2M186.1 888.9h2.2M220.3 916.9h2.2M329.2 916.9h2.2M186.1 874.8h2.2M204.2 846.8h2.2M261.4 846.8h2.2M287.8 846.8h2.2M186.1 846.8h2.2M201.7 860.8h2.2M221.0 846.8h2.2M260.3 846.8h2.2M287.5 860.8h2.2M186.1 888.9h2.2M220.9 860.8h2.2M292.7 888.9h2.2M331.2 860.8h2.2M357.9 888.9h2.2M377.7 874.8h2.2M186.1 846.8h2.2M221.1 860.8h2.2M253.1 888.9h2.2M286.9 888.9h2.2M359.2 846.8h2.2M186.1 846.8h2.2M202.3 874.8h2.2M220.2 874.8h2.2M256.4 860.8h2.2M286.7 874.8h2.2M320.6 874.8h2.2M360.6 888.9h2.2M394.3 888.9h2.2M428.8 860.8h2.2M456.4 874.8h2.2M493.6 888.9h2.2M535.5 902.9h2.2M578.5 902.9h2.2M598.6 916.9h2.2M186.1 846.8h2.2M203.1 846.8h2.2M220.9 860.8h2.2M186.1 846.8h2.2M222.5 860.8h2.2M186.1 860.8h2.2M203.7 846.8h2.2M220.3 860.8h2.2M360.0 846.8h2.2M393.0 846.8h2.2M430.1 860.8h2.2M464.0 860.8h2.2M542.5 860.8h2.2M568.0 860.8h2.2M604.5 860.8h2.2M612.0 860.8h2.2M186.1 860.8h2.2M203.9 860.8h2.2M218.9 860.8h2.2M248.5 846.8h2.2M297.2 846.8h2.2M186.1 888.9h2.2M220.8 888.9h2.2M186.1 888.9h2.2M219.7 888.9h2.2M285.1 874.8h2.2M360.9 874.8h2.2M430.3 888.9h2.2M466.1 874.8h2.2M186.1 860.8h2.2M203.2 860.8h2.2M219.9 874.8h2.2M258.0 846.8h2.2M298.0 846.8h2.2M321.8 860.8h2.2M353.7 860.8h2.2M186.1 888.9h2.2M222.2 874.8h2.2M252.8 860.8h2.2M291.9 888.9h2.2M322.6 874.8h2.2M186.1 888.9h2.2M205.9 902.9h2.2M220.2 874.8h2.2M260.8 888.9h2.2M330.4 874.8h2.2M357.6 902.9h2.2M186.1 860.8h2.2M186.1 860.8h2.2M219.0 846.8h2.2M326.6 888.9h2.2M353.3 860.8h2.2M424.8 846.8h2.2M503.4 874.8h2.2M186.1 874.8h2.2M221.8 888.9h2.2M256.2 888.9h2.2M257.5 902.9h2.2M186.1 874.8h2.2M222.3 846.8h2.2M186.1 860.8h2.2M222.0 874.8h2.2M251.3 874.8h2.2M289.2 888.9h2.2M186.1 860.8h2.2M205.1 846.8h2.2M219.9 846.8h2.2M255.3 846.8h2.2M327.1 846.8h2.2M397.9 874.8h2.2M465.4 846.8h2.2M502.7 860.8h2.2M530.3 860.8h2.2M541.1 860.8h2.2M186.1 846.8h2.2M219.6 846.8h2.2M252.5 846.8h2.2M282.7 846.8h2.2M186.1 916.9h2.2M219.4 888.9h2.2M259.5 874.8h2.2M316.1 888.9h2.2M327.5 888.9h2.2M186.1 846.8h2.2M203.0 846.8h2.2M220.7 846.8h2.2M260.2 846.8h2.2M285.0 846.8h2.2M186.1 888.9h2.2M220.2 860.8h2.2M258.9 888.9h2.2M296.6 888.9h2.2M358.3 902.9h2.2M394.1 916.9h2.2M458.3 902.9h2.2M500.7 930.9h2.2M529.8 944.9h2.2M557.0 930.9h2.2M601.5 916.9h2.2M186.1 846.8h2.2M220.1 846.8h2.2M254.1 846.8h2.2M322.3 846.8h2.2M356.6 860.8h2.2M408.3 860.8h2.2M186.1 888.9h2.2M203.4 916.9h2.2M221.8 902.9h2.2M256.2 916.9h2.2M316.9 888.9h2.2M425.7 916.9h2.2M467.3 902.9h2.2M496.8 916.9h2.2M533.0 902.9h2.2M598.2 930.9h2.2M612.0 916.9h2.2M186.1 902.9h2.2M221.6 860.8h2.2M248.3 860.8h2.2M186.1 846.8h2.2M203.8 846.8h2.2M219.4 846.8h2.2M256.1 846.8h2.2M290.5 846.8h2.2M309.0 846.8h2.2M186.1 846.8h2.2M259.1 846.8h2.2M288.1 846.8h2.2M330.9 860.8h2.2M186.1 846.8h2.2M219.4 846.8h2.2M254.8 860.8h2.2M285.1 874.8h2.2M322.8 846.8h2.2M359.7 860.8h2.2M399.1 860.8h2.2M464.1 860.8h2.2M464.7 874.8h2.2M186.1 846.8h2.2M205.1 846.8h2.2M220.8 846.8h2.2M258.5 846.8h2.2M326.2 846.8h2.2M354.7 846.8h2.2M186.1 860.8h2.2M202.6 874.8h2.2M186.1 874.8h2.2M220.0 888.9h2.2M290.4 874.8h2.2M327.8 874.8h2.2M351.9 888.9h2.2M387.6 902.9h2.2M432.5 902.9h2.2M495.4 902.9h2.2M186.1 860.8h2.2M203.4 888.9h2.2M222.7 874.8h2.2M258.6 888.9h2.2M291.7 860.8h2.2M305.9 874.8h2.2M186.1 860.8h2.2M248.3 860.8h2.2M295.6 860.8h2.2M186.1 916.9h2.2M221.9 902.9h2.2M251.9 916.9h2.2M290.9 888.9h2.2M362.8 888.9h2.2M393.8 916.9h2.2M424.5 888.9h2.2M462.1 874.8h2.2M524.9 888.9h2.2M186.1 874.8h2.2M186.1 874.8h2.2M186.1 846.8h2.2M204.1 846.8h2.2M252.5 846.8h2.2M297.0 846.8h2.2M324.1 846.8h2.2M331.2 846.8h2.2M186.1 874.8h2.2M219.3 888.9h2.2M286.8 860.8h2.2M328.9 874.8h2.2M357.6 860.8h2.2M395.9 874.8h2.2M432.0 874.8h2.2M494.9 874.8h2.2M526.0 888.9h2.2M555.0 888.9h2.2M186.1 860.8h2.2M221.2 846.8h2.2M257.0 860.8h2.2M298.2 846.8h2.2M353.3 860.8h2.2M392.3 846.8h2.2M427.8 860.8h2.2M493.1 860.8h2.2M186.1 888.9h2.2M220.1 874.8h2.2M252.1 888.9h2.2M322.9 874.8h2.2M186.1 902.9h2.2M219.9 916.9h2.2M186.1 846.8h2.2M220.2 846.8h2.2M255.6 846.8h2.2M186.1 846.8h2.2M220.8 846.8h2.2M254.2 846.8h2.2M186.1 846.8h2.2M221.6 846.8h2.2M254.3 846.8h2.2M288.4 846.8h2.2M186.1 930.9h2.2M253.4 916.9h2.2M287.7 916.9h2.2M323.6 916.9h2.2M365.7 916.9h2.2M399.6 930.9h2.2M432.9 930.9h2.2M186.1 860.8h2.2M186.1 846.8h2.2M219.7 860.8h2.2M251.2 860.8h2.2M286.8 860.8h2.2M327.4 874.8h2.2M375.5 860.8h2.2M186.1 888.9h2.2M220.6 888.9h2.2M249.6 902.9h2.2M186.1 902.9h2.2M221.8 916.9h2.2M282.0 944.9h2.2M186.1 874.8h2.2M202.8 916.9h2.2M222.7 916.9h2.2M252.4 902.9h2.2M288.2 916.9h2.2M186.1 902.9h2.2M203.6 874.8h2.2M220.3 888.9h2.2M253.9 874.8h2.2M279.7 888.9h2.2M322.0 874.8h2.2M325.3 874.8h2.2M186.1 846.8h2.2M261.2 846.8h2.2M326.2 846.8h2.2M343.3 846.8h2.2M186.1 902.9h2.2M304.7 930.9h2.2M186.1 860.8h2.2M203.7 846.8h2.2M255.6 860.8h2.2M292.4 860.8h2.2M325.0 860.8h2.2M463.6 874.8h2.2M497.2 874.8h2.2M530.3 874.8h2.2M560.0 874.8h2.2M186.1 874.8h2.2M204.1 860.8h2.2M222.1 860.8h2.2M186.1 888.9h2.2M219.7 874.8h2.2M247.8 874.8h2.2M325.2 888.9h2.2M360.9 888.9h2.2M186.1 860.8h2.2M250.2 860.8h2.2M186.1 874.8h2.2M203.2 874.8h2.2M186.1 846.8h2.2M202.4 874.8h2.2M222.2 860.8h2.2M258.9 874.8h2.2M293.6 860.8h2.2M325.6 874.8h2.2M357.9 874.8h2.2M393.3 874.8h2.2M422.7 846.8h2.2M436.4 874.8h2.2M186.1 888.9h2.2M252.3 888.9h2.2M283.8 902.9h2.2M323.4 902.9h2.2M354.6 902.9h2.2M391.2 902.9h2.2M429.8 888.9h2.2M464.4 902.9h2.2M186.1 846.8h2.2M222.0 860.8h2.2M252.6 874.8h2.2M268.7 888.9h2.2M186.1 874.8h2.2M221.7 860.8h2.2M186.1 902.9h2.2M220.9 888.9h2.2M253.3 888.9h2.2M186.1 888.9h2.2M220.4 888.9h2.2M240.7 874.8h2.2M186.1 860.8h2.2M221.6 860.8h2.2M258.3 860.8h2.2M186.1 846.8h2.2M186.1 874.8h2.2M202.8 860.8h2.2M220.3 860.8h2.2M186.1 846.8h2.2M220.6 874.8h2.2M249.4 874.8h2.2M294.9 860.8h2.2M325.2 874.8h2.2M344.3 888.9h2.2M186.1 860.8h2.2M203.3 846.8h2.2M221.1 846.8h2.2M254.4 860.8h2.2M332.4 874.8h2.2M359.0 846.8h2.2M392.3 860.8h2.2M461.3 874.8h2.2M500.5 860.8h2.2M186.1 874.8h2.2M203.1 874.8h2.2M246.3 874.8h2.2M293.3 860.8h2.2M366.0 874.8h2.2M186.1 846.8h2.2M203.7 846.8h2.2M186.1 874.8h2.2M222.1 874.8h2.2M250.6 874.8h2.2M186.1 860.8h2.2M220.8 860.8h2.2M247.3 888.9h2.2M327.0 888.9h2.2M394.8 902.9h2.2M186.1 846.8h2.2M186.1 930.9h2.2M256.9 916.9h2.2M289.5 930.9h2.2M323.8 916.9h2.2M360.5 916.9h2.2M388.7 944.9h2.2M502.0 902.9h2.2M532.6 930.9h2.2M534.6 930.9h2.2M186.1 874.8h2.2M203.5 860.8h2.2M219.9 874.8h2.2M289.2 860.8h2.2M327.3 860.8h2.2M359.4 874.8h2.2M395.6 860.8h2.2M186.1 846.8h2.2M186.1 874.8h2.2M220.9 888.9h2.2M186.1 874.8h2.2M219.7 860.8h2.2M255.1 860.8h2.2M288.9 846.8h2.2M322.3 860.8h2.2M344.6 846.8h2.2M186.1 860.8h2.2M219.9 860.8h2.2M255.4 860.8h2.2M291.0 860.8h2.2M328.1 860.8h2.2M186.1 888.9h2.2M204.0 902.9h2.2M219.8 888.9h2.2M254.1 874.8h2.2M295.9 888.9h2.2M329.5 874.8h2.2M360.8 888.9h2.2M186.1 874.8h2.2M205.1 874.8h2.2M222.6 874.8h2.2M257.2 860.8h2.2M326.1 888.9h2.2M400.1 888.9h2.2M466.9 902.9h2.2M492.4 888.9h2.2M532.3 888.9h2.2M569.3 916.9h2.2M573.3 874.8h2.2M186.1 860.8h2.2M220.5 874.8h2.2M186.1 860.8h2.2M260.7 888.9h2.2M186.1 846.8h2.2M201.9 860.8h2.2M220.1 846.8h2.2M322.4 874.8h2.2M356.6 860.8h2.2M397.0 874.8h2.2M186.1 874.8h2.2M221.8 888.9h2.2M258.6 874.8h2.2M278.5 888.9h2.2M186.1 846.8h2.2M203.8 860.8h2.2M292.3 860.8h2.2M326.1 846.8h2.2M391.1 874.8h2.2M186.1 860.8h2.2M186.1 916.9h2.2M203.4 944.9h2.2M222.5 916.9h2.2M186.1 846.8h2.2M203.6 860.8h2.2M220.7 846.8h2.2M257.5 846.8h2.2M264.6 860.8h2.2M186.1 846.8h2.2M221.0 846.8h2.2M231.8 846.8h2.2M186.1 888.9h2.2M249.3 888.9h2.2M327.4 888.9h2.2M351.9 902.9h2.2M395.6 888.9h2.2M429.3 902.9h2.2M534.8 916.9h2.2M566.0 888.9h2.2M186.1 846.8h2.2M186.1 874.8h2.2M186.1 846.8h2.2M219.6 860.8h2.2M261.0 860.8h2.2M324.0 874.8h2.2M364.1 846.8h2.2M392.2 860.8h2.2M464.6 860.8h2.2M494.6 860.8h2.2M536.8 874.8h2.2M602.9 902.9h2.2M612.0 860.8h2.2M186.1 846.8h2.2M202.9 846.8h2.2M219.7 846.8h2.2M254.3 846.8h2.2M186.1 846.8h2.2M186.1 846.8h2.2M186.1 860.8h2.2M220.6 860.8h2.2M256.5 874.8h2.2M289.0 874.8h2.2M360.0 860.8h2.2M393.9 874.8h2.2M422.2 860.8h2.2M186.1 846.8h2.2M222.0 846.8h2.2M264.7 846.8h2.2M289.8 860.8h2.2M322.4 846.8h2.2M364.1 846.8h2.2M429.9 846.8h2.2M186.1 902.9h2.2M203.6 902.9h2.2M186.1 860.8h2.2M204.5 860.8h2.2M219.6 860.8h2.2M291.5 874.8h2.2M375.0 860.8h2.2M186.1 902.9h2.2M186.1 874.8h2.2M261.5 860.8h2.2M290.7 846.8h2.2M362.9 860.8h2.2M395.1 860.8h2.2M427.9 860.8h2.2M464.0 860.8h2.2M499.3 860.8h2.2M535.9 846.8h2.2M186.1 846.8h2.2M186.1 860.8h2.2M203.6 860.8h2.2M222.4 846.8h2.2M261.9 846.8h2.2M288.4 860.8h2.2M324.1 846.8h2.2M359.0 846.8h2.2M391.7 846.8h2.2M419.6 846.8h2.2M459.2 846.8h2.2M472.3 846.8h2.2M186.1 846.8h2.2M203.2 846.8h2.2M219.5 860.8h2.2M359.6 846.8h2.2M186.1 888.9h2.2M286.5 846.8h2.2M322.2 902.9h2.2M359.0 874.8h2.2M424.3 874.8h2.2M457.1 888.9h2.2M505.9 888.9h2.2M528.6 888.9h2.2M573.3 888.9h2.2M601.2 902.9h2.2M612.0 902.9h2.2M186.1 846.8h2.2M220.9 846.8h2.2M186.1 860.8h2.2M290.9 874.8h2.2M326.5 846.8h2.2M358.8 888.9h2.2M391.2 860.8h2.2M409.1 860.8h2.2M186.1 874.8h2.2M221.9 860.8h2.2M255.4 860.8h2.2M323.7 874.8h2.2M357.5 902.9h2.2M395.7 888.9h2.2M427.4 874.8h2.2M463.9 888.9h2.2M495.9 902.9h2.2M535.5 888.9h2.2M536.0 888.9h2.2M186.1 846.8h2.2M220.6 846.8h2.2M286.9 846.8h2.2M327.8 846.8h2.2M355.4 846.8h2.2M186.1 888.9h2.2M220.6 888.9h2.2M246.0 888.9h2.2M292.1 902.9h2.2M324.7 902.9h2.2M394.8 888.9h2.2M426.7 902.9h2.2M186.1 874.8h2.2M219.8 860.8h2.2M294.4 860.8h2.2M326.5 874.8h2.2M362.5 874.8h2.2M389.0 846.8h2.2M186.1 860.8h2.2M222.0 846.8h2.2M186.1 874.8h2.2M204.4 860.8h2.2M219.7 888.9h2.2M252.2 860.8h2.2M186.1 888.9h2.2M221.6 860.8h2.2M251.3 860.8h2.2M186.1 846.8h2.2M203.9 846.8h2.2M186.1 902.9h2.2M219.2 902.9h2.2M288.5 916.9h2.2M325.6 902.9h2.2M186.1 874.8h2.2M203.3 874.8h2.2M219.9 874.8h2.2M186.1 888.9h2.2M219.8 888.9h2.2M249.0 888.9h2.2M186.1 874.8h2.2M220.5 888.9h2.2M255.9 888.9h2.2M297.1 902.9h2.2M315.3 902.9h2.2M186.1 846.8h2.2M202.7 874.8h2.2M219.3 846.8h2.2M263.1 874.8h2.2M326.5 888.9h2.2M362.9 874.8h2.2M433.5 888.9h2.2M434.6 902.9h2.2M186.1 860.8h2.2M202.0 874.8h2.2M186.1 874.8h2.2M258.7 874.8h2.2M292.3 874.8h2.2M186.1 860.8h2.2M221.2 888.9h2.2M258.4 888.9h2.2M319.9 874.8h2.2M361.4 874.8h2.2M392.4 888.9h2.2M424.2 874.8h2.2M472.6 888.9h2.2M529.4 902.9h2.2M186.1 846.8h2.2M203.8 846.8h2.2M222.7 846.8h2.2M186.1 860.8h2.2M203.5 860.8h2.2M222.6 860.8h2.2M258.0 888.9h2.2M322.7 874.8h2.2M186.1 874.8h2.2M252.3 902.9h2.2M186.1 846.8h2.2M204.2 846.8h2.2M219.2 846.8h2.2M318.1 846.8h2.2M361.7 860.8h2.2M384.6 860.8h2.2M186.1 846.8h2.2M221.9 860.8h2.2M186.1 874.8h2.2M219.2 860.8h2.2M289.7 860.8h2.2M327.0 860.8h2.2M354.3 860.8h2.2M186.1 874.8h2.2M202.2 860.8h2.2M186.1 874.8h2.2M202.5 860.8h2.2M218.9 846.8h2.2M258.5 860.8h2.2M262.8 860.8h2.2M186.1 874.8h2.2M186.1 874.8h2.2M203.5 846.8h2.2M220.8 846.8h2.2M259.9 874.8h2.2M288.4 874.8h2.2M186.1 860.8h2.2M206.8 874.8h2.2M222.2 860.8h2.2M252.5 888.9h2.2M285.6 860.8h2.2M324.6 874.8h2.2M358.2 860.8h2.2M186.1 888.9h2.2M220.5 874.8h2.2M228.0 860.8h2.2M186.1 888.9h2.2M220.1 888.9h2.2M186.1 860.8h2.2M221.6 846.8h2.2M186.1 874.8h2.2M186.1 846.8h2.2M220.4 846.8h2.2M256.7 846.8h2.2M186.1 888.9h2.2M186.1 860.8h2.2M201.6 846.8h2.2M186.1 860.8h2.2M219.8 874.8h2.2M361.4 888.9h2.2M400.8 888.9h2.2M186.1 846.8h2.2M186.1 860.8h2.2M202.9 860.8h2.2M220.2 860.8h2.2M289.4 846.8h2.2M326.6 860.8h2.2M399.5 874.8h2.2M428.1 874.8h2.2M469.7 902.9h2.2M497.2 874.8h2.2M186.1 874.8h2.2M186.1 874.8h2.2M186.1 860.8h2.2M202.9 888.9h2.2M221.2 860.8h2.2M186.1 888.9h2.2M202.9 874.8h2.2M222.2 846.8h2.2M258.9 888.9h2.2M186.1 874.8h2.2M289.1 860.8h2.2M324.4 888.9h2.2M186.1 860.8h2.2M203.0 860.8h2.2M220.3 860.8h2.2M254.1 846.8h2.2M359.3 860.8h2.2M428.7 846.8h2.2M462.3 860.8h2.2M498.4 846.8h2.2M540.3 846.8h2.2M573.8 860.8h2.2M597.4 888.9h2.2M186.1 846.8h2.2M186.1 846.8h2.2M246.6 846.8h2.2M299.1 846.8h2.2M327.2 846.8h2.2M360.7 846.8h2.2M373.2 846.8h2.2M186.1 846.8h2.2M204.9 846.8h2.2M250.2 846.8h2.2M293.2 860.8h2.2M313.9 846.8h2.2M390.2 846.8h2.2M443.4 846.8h2.2M186.1 846.8h2.2M252.1 874.8h2.2M293.0 860.8h2.2M331.6 846.8h2.2M362.9 846.8h2.2M394.9 888.9h2.2M404.2 860.8h2.2M186.1 888.9h2.2M222.9 874.8h2.2M186.1 846.8h2.2M220.8 846.8h2.2M259.6 846.8h2.2M296.5 846.8h2.2M335.5 846.8h2.2M360.8 846.8h2.2M398.1 846.8h2.2M422.2 846.8h2.2M460.8 860.8h2.2M503.2 846.8h2.2M564.4 846.8h2.2M575.3 860.8h2.2M186.1 874.8h2.2M220.3 860.8h2.2M243.4 860.8h2.2M291.0 874.8h2.2M354.4 874.8h2.2M395.9 888.9h2.2M426.2 902.9h2.2M464.8 888.9h2.2M498.5 902.9h2.2M530.3 916.9h2.2M573.4 902.9h2.2M598.1 888.9h2.2M612.0 902.9h2.2M186.1 846.8h2.2M203.0 846.8h2.2M220.3 846.8h2.2M266.2 846.8h2.2M186.1 846.8h2.2M259.4 860.8h2.2M295.8 860.8h2.2M186.1 860.8h2.2M204.2 860.8h2.2M222.4 846.8h2.2M259.2 860.8h2.2M292.7 860.8h2.2M322.2 846.8h2.2M352.2 860.8h2.2M186.1 874.8h2.2M220.3 874.8h2.2M256.3 860.8h2.2M283.9 874.8h2.2M186.1 888.9h2.2M256.0 874.8h2.2M293.5 860.8h2.2M318.9 874.8h2.2M326.9 860.8h2.2M186.1 888.9h2.2M203.2 874.8h2.2M221.0 874.8h2.2M258.5 874.8h2.2M280.2 860.8h2.2M321.3 888.9h2.2M394.7 874.8h2.2M427.3 888.9h2.2M461.3 874.8h2.2M186.1 888.9h2.2M204.5 888.9h2.2M255.7 874.8h2.2M290.1 874.8h2.2M326.1 888.9h2.2M186.1 902.9h2.2M186.1 860.8h2.2M204.7 860.8h2.2M186.1 860.8h2.2M221.5 846.8h2.2M245.7 860.8h2.2M186.1 860.8h2.2M186.1 902.9h2.2M204.1 916.9h2.2M220.3 916.9h2.2M284.5 916.9h2.2M325.5 902.9h2.2M355.9 944.9h2.2M389.5 930.9h2.2M186.1 860.8h2.2M203.6 874.8h2.2M254.8 874.8h2.2M186.1 846.8h2.2M255.7 860.8h2.2M287.2 860.8h2.2M369.2 888.9h2.2M394.4 874.8h2.2M186.1 860.8h2.2M220.7 860.8h2.2M259.1 874.8h2.2M292.5 888.9h2.2M325.9 874.8h2.2M186.1 902.9h2.2M203.4 888.9h2.2M221.8 888.9h2.2M249.4 902.9h2.2M286.6 888.9h2.2M321.6 902.9h2.2M365.6 888.9h2.2M375.2 916.9h2.2M186.1 860.8h2.2M206.0 860.8h2.2M221.4 846.8h2.2M240.0 888.9h2.2M186.1 846.8h2.2M186.1 846.8h2.2M186.1 874.8h2.2M203.1 888.9h2.2M220.7 874.8h2.2M186.1 902.9h2.2M203.1 916.9h2.2M248.2 916.9h2.2M289.0 902.9h2.2M186.1 846.8h2.2M220.9 846.8h2.2M186.1 888.9h2.2M202.7 888.9h2.2M221.3 874.8h2.2M248.6 888.9h2.2M294.4 888.9h2.2M186.1 874.8h2.2M204.6 888.9h2.2M221.7 888.9h2.2M186.1 916.9h2.2M288.5 888.9h2.2M320.2 902.9h2.2M325.7 888.9h2.2M186.1 846.8h2.2M220.2 846.8h2.2M186.1 888.9h2.2M221.0 874.8h2.2M253.7 902.9h2.2M293.7 888.9h2.2M325.1 888.9h2.2M356.8 888.9h2.2M186.1 860.8h2.2M203.0 874.8h2.2M223.2 874.8h2.2M186.1 874.8h2.2M201.8 874.8h2.2M219.8 874.8h2.2M296.3 902.9h2.2M323.1 902.9h2.2M359.2 902.9h2.2M391.7 916.9h2.2M428.4 916.9h2.2M464.2 916.9h2.2M527.4 959.0h2.2M569.1 916.9h2.2M186.1 860.8h2.2M221.5 860.8h2.2M248.8 874.8h2.2M292.7 860.8h2.2M352.5 860.8h2.2M391.6 874.8h2.2M430.3 874.8h2.2M458.9 860.8h2.2M495.8 860.8h2.2M539.7 874.8h2.2M562.4 860.8h2.2M604.3 874.8h2.2M186.1 874.8h2.2M221.1 874.8h2.2M244.6 860.8h2.2M186.1 902.9h2.2M186.1 916.9h2.2M220.0 902.9h2.2M251.9 888.9h2.2M288.6 916.9h2.2M186.1 902.9h2.2M205.0 902.9h2.2M219.3 888.9h2.2M254.2 902.9h2.2M277.7 902.9h2.2M323.1 902.9h2.2M362.9 930.9h2.2M393.6 916.9h2.2M430.3 930.9h2.2M467.8 930.9h2.2M186.1 888.9h2.2M202.9 902.9h2.2M218.9 874.8h2.2M260.2 874.8h2.2M289.1 860.8h2.2M361.4 888.9h2.2M398.1 874.8h2.2M463.7 874.8h2.2M186.1 888.9h2.2M222.8 902.9h2.2M294.4 888.9h2.2M307.9 874.8h2.2M186.1 888.9h2.2M203.7 888.9h2.2M220.8 888.9h2.2M255.1 860.8h2.2M298.7 860.8h2.2M326.0 860.8h2.2M366.0 860.8h2.2M424.5 846.8h2.2M460.7 846.8h2.2M498.3 860.8h2.2M569.1 846.8h2.2M602.4 846.8h2.2M186.1 860.8h2.2M219.6 860.8h2.2M299.1 846.8h2.2M328.9 860.8h2.2M362.1 860.8h2.2M451.4 846.8h2.2M186.1 874.8h2.2M220.8 874.8h2.2M254.4 860.8h2.2M284.1 874.8h2.2M186.1 902.9h2.2M201.1 888.9h2.2M220.7 874.8h2.2M234.0 888.9h2.2M186.1 902.9h2.2M221.6 888.9h2.2M244.5 888.9h2.2M286.4 888.9h2.2M325.2 860.8h2.2M362.5 888.9h2.2M426.2 860.8h2.2M453.1 888.9h2.2M495.2 874.8h2.2M186.1 874.8h2.2M222.2 874.8h2.2M186.1 846.8h2.2M220.4 846.8h2.2M259.5 846.8h2.2M283.8 860.8h2.2M325.1 846.8h2.2M365.8 846.8h2.2M388.4 846.8h2.2M186.1 888.9h2.2M220.5 888.9h2.2M287.5 888.9h2.2M321.6 888.9h2.2M366.1 888.9h2.2M393.0 902.9h2.2M422.3 902.9h2.2M460.8 930.9h2.2M490.9 902.9h2.2M538.0 930.9h2.2M576.1 902.9h2.2M186.1 902.9h2.2M203.1 902.9h2.2M221.6 916.9h2.2M247.3 930.9h2.2M186.1 874.8h2.2M218.4 888.9h2.2M255.3 874.8h2.2M292.2 874.8h2.2M362.6 888.9h2.2M427.2 916.9h2.2M454.6 888.9h2.2M472.8 902.9h2.2M186.1 860.8h2.2M203.2 874.8h2.2M221.0 846.8h2.2M258.4 846.8h2.2M269.6 860.8h2.2M186.1 846.8h2.2M220.7 860.8h2.2M230.5 860.8h2.2M186.1 916.9h2.2M238.6 902.9h2.2M186.1 860.8h2.2M220.7 846.8h2.2M257.9 860.8h2.2M186.1 860.8h2.2M221.5 846.8h2.2M229.4 860.8h2.2M186.1 874.8h2.2M260.2 888.9h2.2M286.4 860.8h2.2M186.1 916.9h2.2M221.9 916.9h2.2M248.6 902.9h2.2M362.6 916.9h2.2M186.1 888.9h2.2M204.6 874.8h2.2M257.2 916.9h2.2M286.3 888.9h2.2M324.9 888.9h2.2M361.4 888.9h2.2M397.4 916.9h2.2M430.1 888.9h2.2M186.1 846.8h2.2M203.1 846.8h2.2M220.3 846.8h2.2M255.5 860.8h2.2M297.3 846.8h2.2M186.1 874.8h2.2M203.7 874.8h2.2M220.7 874.8h2.2M258.9 860.8h2.2M285.8 874.8h2.2M186.1 888.9h2.2M203.5 902.9h2.2M220.5 888.9h2.2M324.1 874.8h2.2M357.2 874.8h2.2M427.0 888.9h2.2M462.6 874.8h2.2M529.0 888.9h2.2M569.4 846.8h2.2M604.4 902.9h2.2M186.1 874.8h2.2M203.4 860.8h2.2M219.9 846.8h2.2M254.3 860.8h2.2M284.3 874.8h2.2M330.4 860.8h2.2M359.0 860.8h2.2M398.3 860.8h2.2M398.4 846.8h2.2M186.1 888.9h2.2M203.3 888.9h2.2M218.3 888.9h2.2M255.6 888.9h2.2M295.4 888.9h2.2M324.6 902.9h2.2M357.7 902.9h2.2M186.1 888.9h2.2M221.0 888.9h2.2M289.8 874.8h2.2M186.1 846.8h2.2M285.1 860.8h2.2M186.1 846.8h2.2M220.4 846.8h2.2M251.3 846.8h2.2M315.4 846.8h2.2M361.6 846.8h2.2M395.4 846.8h2.2M460.0 846.8h2.2M186.1 860.8h2.2M220.9 846.8h2.2M261.9 874.8h2.2M316.0 874.8h2.2M386.1 888.9h2.2M186.1 860.8h2.2M219.7 860.8h2.2M262.4 888.9h2.2M280.8 860.8h2.2M323.8 888.9h2.2M360.0 888.9h2.2M360.4 902.9h2.2M186.1 888.9h2.2M220.6 902.9h2.2M256.3 888.9h2.2M290.7 902.9h2.2M321.9 888.9h2.2M354.1 888.9h2.2M389.5 888.9h2.2M186.1 902.9h2.2M221.1 874.8h2.2M248.0 902.9h2.2M186.1 874.8h2.2M257.6 874.8h2.2M283.7 874.8h2.2M327.3 860.8h2.2M331.4 874.8h2.2M186.1 888.9h2.2M222.0 874.8h2.2M257.9 888.9h2.2M292.3 874.8h2.2M362.0 874.8h2.2M424.0 888.9h2.2M459.5 874.8h2.2M502.2 888.9h2.2M532.6 874.8h2.2M186.1 874.8h2.2M219.8 874.8h2.2M252.8 888.9h2.2M292.9 874.8h2.2M325.0 860.8h2.2M400.0 888.9h2.2M424.9 860.8h2.2M460.3 860.8h2.2M565.3 888.9h2.2M586.2 874.8h2.2M428.5 846.8h2.2M515.1 846.8h2.2M574.0 846.8h2.2" fill="none" stroke="#148544" stroke-width="2.2" clip-path="url(#clipC)"/><path d="M940.2 1018.2h2.0M975.3 1012.7h2.0M940.2 952.3h2.0M978.6 953.2h2.0M940.2 923.5h2.0M960.1 925.6h2.0M976.9 937.9h2.0M992.8 948.0h2.0M940.2 934.5h2.0M959.3 987.4h2.0M973.3 1003.4h2.0M999.1 1000.0h2.0M940.2 961.6h2.0M940.2 1013.2h2.0M973.8 1027.0h2.0M940.2 900.4h2.0M940.2 895.2h2.0M940.2 941.9h2.0M975.8 969.5h2.0M940.2 1016.9h2.0M940.2 999.7h2.0M975.4 1009.7h2.0M1011.6 1018.7h2.0M940.2 993.5h2.0M940.2 950.8h2.0M995.6 1043.7h2.0M940.2 954.9h2.0M940.2 968.8h2.0M940.2 1002.5h2.0M940.2 977.0h2.0M1041.0 1035.5h2.0M1073.6 1033.3h2.0M1117.5 1053.3h2.0M940.2 864.7h2.0M974.7 871.6h2.0M1023.5 940.1h2.0M940.2 983.4h2.0M975.0 978.3h2.0M940.2 1008.7h2.0M973.3 1062.0h2.0M1011.4 1095.6h2.0M1066.1 1165.3h2.0M940.2 952.4h2.0M958.1 1006.7h2.0M940.2 967.6h2.0M1008.9 1078.8h2.0M940.2 937.1h2.0M959.4 930.8h2.0M1015.5 1032.5h2.0M940.2 991.3h2.0M973.6 1009.9h2.0M1011.3 1043.7h2.0M940.2 931.2h2.0M940.2 1054.2h2.0M957.8 1044.8h2.0M973.5 1089.7h2.0M940.2 892.7h2.0M940.2 1032.2h2.0M957.9 1035.5h2.0M940.2 977.2h2.0M957.9 983.6h2.0M973.2 1045.3h2.0M940.2 982.4h2.0M940.2 928.0h2.0M975.3 996.1h2.0M1016.3 1020.6h2.0M940.2 920.2h2.0M973.3 903.0h2.0M1045.0 917.7h2.0M1065.9 911.0h2.0M940.2 958.7h2.0M959.9 979.1h2.0M940.2 910.7h2.0M1005.8 995.5h2.0M940.2 900.6h2.0M974.9 968.9h2.0M1006.3 1021.1h2.0M1044.6 1052.4h2.0M940.2 975.2h2.0M940.2 983.9h2.0M940.2 974.6h2.0M969.7 1029.6h2.0M1011.9 1073.3h2.0M1039.2 1068.3h2.0M940.2 931.4h2.0M940.2 998.3h2.0M977.0 1016.8h2.0M1011.3 1053.5h2.0M1043.7 1092.1h2.0M1088.8 1122.1h2.0M940.2 966.7h2.0M940.2 889.6h2.0M977.9 932.5h2.0M1010.0 924.5h2.0M940.2 1034.7h2.0M940.2 858.0h2.0M954.9 887.9h2.0M973.9 911.0h2.0M940.2 918.8h2.0M974.1 904.2h2.0M984.1 869.2h2.0M940.2 915.8h2.0M974.4 922.5h2.0M997.2 966.1h2.0M940.2 964.3h2.0M940.2 986.9h2.0M940.2 987.0h2.0M958.8 999.2h2.0M975.6 1029.6h2.0M940.2 995.3h2.0M940.2 849.3h2.0M940.2 1008.1h2.0M960.1 1009.5h2.0M940.2 1004.2h2.0M955.5 988.7h2.0M940.2 905.7h2.0M956.9 911.3h2.0M940.2 949.7h2.0M958.8 957.6h2.0M940.2 972.8h2.0M940.2 1011.3h2.0M940.2 902.1h2.0M940.2 922.9h2.0M940.2 968.2h2.0M940.2 943.1h2.0M973.9 958.5h2.0M940.2 868.5h2.0M940.2 1061.8h2.0M954.9 1030.5h2.0M976.1 1045.3h2.0M1007.9 1080.4h2.0M1036.3 1117.8h2.0M1061.0 1128.7h2.0M940.2 886.7h2.0M940.2 932.2h2.0M959.2 947.0h2.0M976.6 943.2h2.0M1045.3 1063.3h2.0M940.2 963.9h2.0M989.6 1019.7h2.0M940.2 979.7h2.0M974.8 967.6h2.0M940.2 1014.8h2.0M940.2 960.1h2.0M975.0 983.3h2.0M1011.4 999.2h2.0M1011.7 971.1h2.0M940.2 920.5h2.0M940.2 992.7h2.0M940.2 972.4h2.0M940.2 928.5h2.0M1007.2 990.5h2.0M1107.5 1121.1h2.0M940.2 1057.0h2.0M940.2 1018.2h2.0M974.9 1096.6h2.0M940.2 941.6h2.0M940.2 961.6h2.0M973.4 1004.0h2.0M1013.7 1092.6h2.0M940.2 984.2h2.0M976.4 1003.5h2.0M940.2 1013.4h2.0M978.5 1022.3h2.0M1110.1 1093.1h2.0M940.2 949.4h2.0M977.1 964.3h2.0M1007.4 1015.2h2.0M1042.6 1035.5h2.0M940.2 947.9h2.0M940.2 948.2h2.0M940.2 1013.4h2.0M973.7 1042.4h2.0M1010.5 1113.8h2.0M1017.7 1110.9h2.0M940.2 991.5h2.0M956.5 1017.7h2.0M940.2 951.2h2.0M956.3 944.5h2.0M940.2 920.8h2.0M940.2 960.3h2.0M974.2 960.5h2.0M940.2 964.9h2.0M975.2 978.6h2.0M1012.9 1017.6h2.0M1048.1 1040.5h2.0M940.2 945.5h2.0M940.2 989.1h2.0M957.9 982.0h2.0M971.0 1037.8h2.0M1045.7 1157.8h2.0M1130.3 1303.6h2.0M940.2 878.7h2.0M940.2 999.7h2.0M956.5 997.7h2.0M975.2 1014.3h2.0M940.2 970.9h2.0M940.2 943.1h2.0M976.2 989.6h2.0M998.3 980.8h2.0M940.2 1008.2h2.0M956.1 977.5h2.0M969.7 1004.4h2.0M1017.3 952.1h2.0M940.2 989.5h2.0M975.6 1028.6h2.0M1007.4 1034.1h2.0M1111.0 1040.8h2.0M1115.9 1053.8h2.0M940.2 856.1h2.0M940.2 1086.6h2.0M940.2 997.7h2.0M940.2 953.6h2.0M973.1 976.8h2.0M940.2 1038.0h2.0M971.3 1098.4h2.0M940.2 912.0h2.0M977.1 1005.8h2.0M940.2 1038.5h2.0M958.7 1026.2h2.0M973.4 1015.0h2.0M940.2 881.9h2.0M940.2 878.4h2.0M940.2 946.2h2.0M940.2 966.3h2.0M973.9 1012.9h2.0M940.2 923.9h2.0M958.2 926.6h2.0M973.0 960.0h2.0M1007.3 1017.0h2.0M1046.7 1039.1h2.0M1047.8 1042.8h2.0M940.2 927.0h2.0M960.1 918.3h2.0M1014.5 969.7h2.0M1042.0 996.8h2.0M940.2 1090.5h2.0M940.2 1005.7h2.0M940.2 896.6h2.0M940.2 877.1h2.0M940.2 946.9h2.0M954.2 1001.8h2.0M1009.0 1118.6h2.0M1011.6 1091.4h2.0M940.2 878.6h2.0M940.2 1038.1h2.0M940.2 955.8h2.0M940.2 908.4h2.0M973.4 961.4h2.0M940.2 963.2h2.0M940.2 868.2h2.0M973.8 952.0h2.0M1051.9 1017.6h2.0M1081.5 1080.5h2.0M1112.0 1151.9h2.0M1130.3 1166.2h2.0M940.2 956.9h2.0M940.2 851.6h2.0M958.7 871.4h2.0M974.7 900.9h2.0M1008.9 918.9h2.0M1009.9 955.9h2.0M940.2 965.3h2.0M959.6 960.4h2.0M974.9 987.9h2.0M1004.3 986.1h2.0M1037.8 1017.3h2.0M1051.6 1042.9h2.0M940.2 1031.5h2.0M940.2 1025.8h2.0M975.6 1099.2h2.0M940.2 850.6h2.0M955.5 871.9h2.0M1004.2 915.2h2.0M940.2 907.2h2.0M956.5 950.2h2.0M975.4 966.5h2.0M940.2 858.2h2.0M959.2 850.5h2.0M1047.3 937.5h2.0M1063.7 945.2h2.0M940.2 923.3h2.0M973.6 972.4h2.0M1012.4 1003.5h2.0M940.2 1081.4h2.0M940.2 944.2h2.0M940.2 919.9h2.0M940.2 1003.4h2.0M975.3 1022.9h2.0M990.8 1006.5h2.0M940.2 889.7h2.0M940.2 932.2h2.0M972.4 1000.3h2.0M940.2 895.9h2.0M940.2 1029.4h2.0M954.5 1033.4h2.0M940.2 938.5h2.0M974.4 959.6h2.0M1007.1 1011.6h2.0M1020.0 1037.5h2.0M940.2 910.0h2.0M940.2 920.9h2.0M973.8 951.6h2.0M940.2 1043.1h2.0M940.2 863.0h2.0M940.2 898.0h2.0M979.6 900.1h2.0M940.2 988.9h2.0M1012.0 1090.6h2.0M1041.2 1133.8h2.0M940.2 988.7h2.0M973.9 1040.2h2.0M1048.8 1069.3h2.0M940.2 917.1h2.0M973.3 913.1h2.0M1008.1 986.8h2.0M1042.7 1036.1h2.0M940.2 946.0h2.0M959.3 952.5h2.0M1019.7 937.3h2.0M940.2 1012.4h2.0M940.2 966.0h2.0M940.2 1009.1h2.0M940.2 932.0h2.0M940.2 957.6h2.0M940.2 977.9h2.0M955.8 975.9h2.0M977.3 1003.8h2.0M1010.3 1029.6h2.0M1049.9 1056.4h2.0M940.2 903.6h2.0M940.2 950.8h2.0M940.2 910.6h2.0M940.2 917.0h2.0M976.0 922.9h2.0M940.2 950.8h2.0M975.5 999.9h2.0M983.7 1008.1h2.0M940.2 921.5h2.0M957.9 908.1h2.0M940.2 849.6h2.0M940.2 991.0h2.0M940.2 890.1h2.0M974.1 878.7h2.0M940.2 919.6h2.0M940.2 1039.2h2.0M940.2 891.1h2.0M958.2 921.2h2.0M986.8 925.8h2.0M940.2 950.0h2.0M955.5 970.8h2.0M974.7 972.3h2.0M940.2 1022.5h2.0M940.2 1005.9h2.0M940.2 1036.9h2.0M940.2 967.3h2.0M940.2 944.2h2.0M940.2 1010.6h2.0M940.2 878.3h2.0M957.4 899.8h2.0M989.1 968.9h2.0M940.2 982.9h2.0M976.6 1018.9h2.0M1003.9 1043.5h2.0M940.2 972.5h2.0M940.2 965.1h2.0M940.2 988.3h2.0M976.0 1055.4h2.0M985.5 1054.5h2.0M940.2 947.7h2.0M971.7 974.4h2.0M1008.7 1003.7h2.0M1045.6 1034.4h2.0M940.2 994.1h2.0M940.2 890.7h2.0M957.3 844.3h2.0M940.2 938.9h2.0M940.2 990.4h2.0M940.2 937.9h2.0M975.0 1023.0h2.0M1005.8 1012.5h2.0M940.2 970.4h2.0M971.7 967.2h2.0M993.9 968.0h2.0M940.2 901.9h2.0M940.2 1041.5h2.0M940.2 910.7h2.0M940.2 995.8h2.0M940.2 1012.4h2.0M958.1 1046.9h2.0M940.2 955.3h2.0M954.5 941.5h2.0M940.2 936.3h2.0M940.2 974.5h2.0M940.2 951.3h2.0M977.0 962.7h2.0M1012.3 981.4h2.0M1045.3 996.3h2.0M1077.9 963.0h2.0M1112.9 971.1h2.0M1151.5 1003.2h2.0M1175.8 999.1h2.0M1285.6 1022.6h2.0M1320.4 1011.7h2.0M1326.8 1032.7h2.0M940.2 955.1h2.0M974.5 980.4h2.0M1005.6 990.1h2.0M1081.9 1004.0h2.0M940.2 855.8h2.0M970.6 882.7h2.0M1010.9 907.8h2.0M1077.2 913.3h2.0M1106.2 939.9h2.0M1152.4 954.9h2.0M940.2 939.7h2.0M978.8 983.2h2.0M1007.2 944.2h2.0M1043.5 978.3h2.0M1113.7 998.3h2.0M1144.2 995.8h2.0M1175.7 1007.1h2.0M940.2 945.6h2.0M1010.5 943.7h2.0M1042.9 951.4h2.0M1062.3 949.9h2.0M940.2 884.9h2.0M959.2 877.3h2.0M976.6 895.8h2.0M1082.7 919.2h2.0M940.2 943.0h2.0M974.6 926.2h2.0M1004.9 908.7h2.0M1045.9 939.9h2.0M940.2 925.4h2.0M1008.5 933.0h2.0M1043.1 916.0h2.0M1105.9 929.2h2.0M940.2 910.0h2.0M956.5 910.3h2.0M975.0 907.3h2.0M1044.9 908.6h2.0M1108.0 905.7h2.0M1153.8 938.5h2.0M940.2 908.6h2.0M961.0 934.0h2.0M974.8 925.7h2.0M1012.5 920.1h2.0M1077.4 985.8h2.0M940.2 875.0h2.0M956.0 880.6h2.0M1002.8 886.0h2.0M940.2 920.5h2.0M1077.6 938.8h2.0M1214.7 1022.7h2.0M940.2 947.8h2.0M957.3 917.1h2.0M1004.4 956.0h2.0M1081.3 975.2h2.0M1177.8 987.3h2.0M1216.2 1015.7h2.0M1248.2 1038.2h2.0M1320.4 1032.4h2.0M940.2 889.7h2.0M957.0 902.9h2.0M976.9 925.3h2.0M1008.8 927.7h2.0M1011.4 942.1h2.0M940.2 891.6h2.0M955.9 916.3h2.0M971.1 916.2h2.0M940.2 907.9h2.0M975.0 929.3h2.0M1013.7 909.7h2.0M940.2 904.5h2.0M974.2 922.4h2.0M1010.3 906.7h2.0M1081.7 963.7h2.0M940.2 851.3h2.0M959.0 845.9h2.0M974.2 844.7h2.0M1112.3 909.0h2.0M1136.8 931.8h2.0M940.2 856.0h2.0M958.7 872.2h2.0M974.8 875.3h2.0M1012.6 875.9h2.0M1076.0 936.1h2.0M940.2 954.2h2.0M956.4 924.2h2.0M974.1 958.3h2.0M1050.3 964.3h2.0M940.2 1011.1h2.0M975.9 1019.6h2.0M1010.4 1018.8h2.0M940.2 910.9h2.0M959.8 952.6h2.0M973.7 926.8h2.0M1043.7 964.4h2.0M1147.0 1031.2h2.0M940.2 892.7h2.0M974.5 898.0h2.0M940.2 941.9h2.0M940.2 937.3h2.0M956.4 973.0h2.0M973.5 954.7h2.0M1008.0 992.4h2.0M1036.1 975.6h2.0M940.2 921.6h2.0M976.2 892.7h2.0M1008.2 937.8h2.0M940.2 870.4h2.0M959.1 904.3h2.0M974.1 897.1h2.0M1013.5 893.3h2.0M1041.8 887.3h2.0M1118.2 907.0h2.0M940.2 985.7h2.0M974.7 971.0h2.0M988.3 980.5h2.0M940.2 867.7h2.0M976.7 888.5h2.0M1111.6 965.2h2.0M1182.8 973.8h2.0M1215.4 1025.2h2.0M1228.1 1018.0h2.0M940.2 946.8h2.0M973.1 926.7h2.0M940.2 858.0h2.0M955.7 837.5h2.0M940.2 851.9h2.0M940.2 906.5h2.0M955.8 910.3h2.0M940.2 956.7h2.0M959.9 971.6h2.0M977.3 990.1h2.0M1018.7 1001.2h2.0M940.2 876.6h2.0M957.9 907.2h2.0M1008.9 880.6h2.0M940.2 902.9h2.0M1076.3 955.2h2.0M1246.0 1011.7h2.0M1257.0 1037.6h2.0M940.2 948.0h2.0M1007.8 953.1h2.0M1038.3 980.0h2.0M940.2 908.9h2.0M940.2 933.6h2.0M940.2 862.6h2.0M940.2 886.4h2.0M978.3 912.8h2.0M1082.0 972.4h2.0M1115.8 1003.0h2.0M1214.9 1034.6h2.0M1227.6 1050.2h2.0M940.2 948.9h2.0M958.0 942.5h2.0M978.3 954.3h2.0M1004.3 972.8h2.0M1049.6 983.9h2.0M1086.2 1008.2h2.0M940.2 1019.6h2.0M975.5 1018.1h2.0M1008.2 1028.5h2.0M1040.7 1059.6h2.0M940.2 882.3h2.0M974.2 880.4h2.0M1009.1 898.3h2.0M1042.2 902.1h2.0M1062.0 903.8h2.0M940.2 921.3h2.0M956.5 906.5h2.0M1041.4 913.1h2.0M940.2 983.2h2.0M940.2 854.5h2.0M977.0 870.4h2.0M1013.2 893.4h2.0M940.2 891.8h2.0M973.6 862.4h2.0M1009.5 862.2h2.0M1038.8 866.9h2.0M1075.2 868.0h2.0M1119.9 879.1h2.0M1146.6 838.9h2.0M940.2 925.9h2.0M976.5 940.2h2.0M940.2 916.2h2.0M986.2 921.2h2.0M940.2 946.1h2.0M1039.6 941.5h2.0M1064.5 925.9h2.0M940.2 915.1h2.0M974.0 915.4h2.0M1003.8 942.6h2.0M940.2 939.2h2.0M1010.1 980.3h2.0M1044.1 967.9h2.0M1079.3 998.8h2.0M1149.5 1029.1h2.0M1183.5 1018.3h2.0M1212.8 1032.1h2.0M940.2 889.5h2.0M955.6 930.9h2.0M973.8 922.8h2.0M1014.4 968.9h2.0M1116.0 973.6h2.0M1127.9 948.1h2.0M940.2 886.2h2.0M973.9 909.0h2.0M1008.2 929.2h2.0M1037.2 936.2h2.0M1078.8 924.0h2.0M1080.7 970.1h2.0M940.2 876.3h2.0M975.0 923.6h2.0M1017.6 942.7h2.0M1043.9 960.0h2.0M1074.3 985.8h2.0M1121.8 1018.3h2.0M940.2 883.9h2.0M977.0 901.1h2.0M1009.0 905.7h2.0M1040.9 931.0h2.0M1054.9 911.6h2.0M940.2 889.1h2.0M1001.6 923.5h2.0M1037.2 927.8h2.0M1050.5 961.4h2.0M940.2 859.1h2.0M978.4 867.2h2.0M1046.0 869.8h2.0M1082.9 942.8h2.0M1116.6 938.2h2.0M1142.9 953.2h2.0M1153.3 946.5h2.0M940.2 886.0h2.0M976.5 901.1h2.0M1038.5 900.7h2.0M1077.7 925.0h2.0M940.2 930.7h2.0M973.6 921.6h2.0M1012.1 900.8h2.0M1048.4 920.7h2.0M1058.3 901.2h2.0M940.2 871.0h2.0M972.9 885.0h2.0M1016.9 905.7h2.0M1042.5 919.8h2.0M940.2 855.5h2.0M974.9 839.1h2.0M940.2 919.7h2.0M957.4 933.7h2.0M973.0 921.4h2.0M1077.9 970.2h2.0M1115.5 984.7h2.0M1151.2 972.1h2.0M1182.7 994.1h2.0M1215.0 1025.7h2.0M1242.0 1027.6h2.0M1288.1 1031.3h2.0M1320.4 1060.3h2.0M940.2 849.2h2.0M975.6 847.9h2.0M1008.6 854.9h2.0M1050.2 886.4h2.0M1080.3 939.0h2.0M1109.3 898.7h2.0M1147.4 942.5h2.0M1242.8 1005.2h2.0M940.2 859.2h2.0M957.2 842.7h2.0M974.8 844.4h2.0M1008.8 869.5h2.0M1049.1 891.5h2.0M1080.5 899.6h2.0M1116.0 914.0h2.0M1139.1 927.5h2.0M1182.1 924.1h2.0M1227.4 948.3h2.0M1261.6 957.7h2.0M940.2 947.5h2.0M955.6 930.6h2.0M974.7 946.0h2.0M1049.0 953.8h2.0M1078.9 946.9h2.0M1118.8 976.8h2.0M940.2 945.6h2.0M959.9 961.2h2.0M973.3 967.4h2.0M1006.9 992.8h2.0M1042.4 1020.0h2.0M1084.9 1033.0h2.0M1115.8 1049.8h2.0M1150.8 1063.1h2.0M1181.2 1083.8h2.0M1215.0 1109.4h2.0M1251.8 1146.9h2.0M940.2 865.6h2.0M974.3 837.7h2.0M940.2 902.3h2.0M940.2 946.5h2.0M940.2 898.3h2.0M975.6 928.4h2.0M1003.5 969.2h2.0M940.2 861.9h2.0M971.8 880.1h2.0M1076.6 904.0h2.0M1142.8 909.7h2.0M1184.7 910.3h2.0M940.2 873.7h2.0M976.7 885.2h2.0M940.2 926.0h2.0M956.1 939.3h2.0M973.8 932.6h2.0M1041.0 935.3h2.0M1080.0 940.6h2.0M1108.4 919.0h2.0M1187.7 970.0h2.0M1244.7 988.5h2.0M940.2 987.6h2.0M973.3 991.1h2.0M1005.6 994.2h2.0M1118.4 1038.3h2.0M940.2 887.4h2.0M940.2 978.3h2.0M954.0 1012.0h2.0M976.4 977.7h2.0M1038.0 999.2h2.0M940.2 926.7h2.0M956.0 915.0h2.0M977.4 932.9h2.0M982.8 940.3h2.0M940.2 890.6h2.0M940.2 929.4h2.0M959.7 918.4h2.0M973.0 906.6h2.0M940.2 921.6h2.0M958.2 912.1h2.0M977.7 914.1h2.0M940.2 932.7h2.0M974.1 941.0h2.0M1039.8 953.6h2.0M1113.3 964.8h2.0M1219.6 1033.5h2.0M1287.7 1033.5h2.0M1292.0 1056.3h2.0M940.2 986.0h2.0M974.5 1015.1h2.0M1007.6 1027.3h2.0M1089.6 1055.6h2.0M940.2 948.4h2.0M972.5 954.6h2.0M1006.1 994.6h2.0M940.2 958.8h2.0M940.2 928.6h2.0M972.4 919.7h2.0M1012.0 906.5h2.0M1048.2 931.8h2.0M1142.4 954.4h2.0M1185.1 934.6h2.0M1214.2 958.8h2.0M1250.3 931.7h2.0M1282.4 968.5h2.0M1314.0 967.9h2.0M940.2 853.0h2.0M972.7 842.0h2.0M1081.0 909.6h2.0M1098.4 912.8h2.0M940.2 945.8h2.0M959.3 941.3h2.0M1112.9 1003.5h2.0M940.2 903.5h2.0M972.4 913.7h2.0M1003.3 923.0h2.0M1035.5 919.9h2.0M1073.3 972.7h2.0M1110.6 940.7h2.0M1148.7 971.7h2.0M1180.3 995.7h2.0M1214.3 997.6h2.0M940.2 885.3h2.0M973.1 919.9h2.0M1074.9 953.2h2.0M1108.7 945.4h2.0M940.2 867.0h2.0M974.0 885.6h2.0M987.8 900.0h2.0M940.2 950.8h2.0M972.6 930.6h2.0M940.2 1006.7h2.0M974.0 1003.6h2.0M1006.4 1019.6h2.0M1021.9 991.6h2.0M940.2 888.4h2.0M973.2 909.9h2.0M1043.2 913.2h2.0M1078.2 894.9h2.0M940.2 911.9h2.0M975.8 933.2h2.0M1005.6 951.9h2.0M1046.4 975.9h2.0M940.2 888.0h2.0M1034.9 929.7h2.0M940.2 849.7h2.0M974.5 844.7h2.0M1008.8 841.8h2.0M1042.2 840.5h2.0M940.2 927.8h2.0M940.2 912.1h2.0M1009.7 900.9h2.0M1041.3 881.7h2.0M1045.5 891.8h2.0M940.2 854.6h2.0M976.0 874.3h2.0M1044.7 884.9h2.0M1079.2 884.7h2.0M940.2 919.7h2.0M973.5 905.8h2.0M1010.7 906.4h2.0M1038.4 922.4h2.0M940.2 964.1h2.0M978.4 952.5h2.0M984.5 953.3h2.0M940.2 968.0h2.0M999.3 993.1h2.0M1081.7 1030.9h2.0M1146.3 1037.7h2.0M940.2 868.3h2.0M956.8 866.7h2.0M973.3 856.5h2.0M1011.3 871.2h2.0M1036.3 931.9h2.0M1110.6 924.6h2.0M1152.4 944.9h2.0M1212.4 990.0h2.0M1288.3 1020.7h2.0M940.2 934.2h2.0M974.6 1004.0h2.0M940.2 849.3h2.0M974.8 868.7h2.0M1040.7 892.2h2.0M1075.1 907.3h2.0M940.2 935.9h2.0M973.3 937.3h2.0M1018.6 928.9h2.0" fill="none" stroke="#d3212e" stroke-width="2.0" clip-path="url(#clipD)"/><path d="M940.2 989.7h2.0M940.2 907.1h2.0M976.5 952.1h2.0M1005.3 985.1h2.0M1034.2 996.4h2.0M940.2 940.6h2.0M940.2 1072.5h2.0M940.2 955.0h2.0M940.2 984.6h2.0M975.4 994.8h2.0M1047.2 1077.2h2.0M1076.9 1127.8h2.0M940.2 947.1h2.0M940.2 1046.9h2.0M940.2 955.7h2.0M971.5 974.9h2.0M1004.9 1037.9h2.0M940.2 981.3h2.0M940.2 1029.2h2.0M971.9 1045.6h2.0M1003.1 1048.4h2.0M1048.3 1014.8h2.0M1058.7 1023.6h2.0M940.2 916.2h2.0M940.2 953.6h2.0M940.2 912.2h2.0M975.6 899.4h2.0M1011.2 929.9h2.0M1108.5 957.8h2.0M940.2 997.4h2.0M957.7 973.1h2.0M976.1 977.3h2.0M1002.6 1032.0h2.0M1078.3 1099.6h2.0M940.2 852.9h2.0M940.2 973.9h2.0M940.2 917.0h2.0M961.0 939.9h2.0M976.6 971.9h2.0M1039.9 972.6h2.0M1148.0 1064.8h2.0M940.2 949.9h2.0M940.2 894.3h2.0M974.1 916.6h2.0M940.2 965.4h2.0M960.6 983.2h2.0M1024.4 1006.6h2.0M940.2 1056.0h2.0M974.8 1086.8h2.0M940.2 1002.2h2.0M975.2 1031.7h2.0M1010.5 1037.3h2.0M1039.2 1094.1h2.0M940.2 997.4h2.0M973.8 1055.7h2.0M940.2 1072.3h2.0M940.2 928.0h2.0M975.3 897.9h2.0M940.2 1026.3h2.0M940.2 899.8h2.0M940.2 949.5h2.0M954.7 926.2h2.0M940.2 964.7h2.0M960.5 986.4h2.0M977.3 1069.7h2.0M940.2 972.4h2.0M975.6 1016.4h2.0M993.5 1005.4h2.0M940.2 931.0h2.0M976.1 942.6h2.0M940.2 956.0h2.0M973.4 974.0h2.0M1007.4 1026.7h2.0M1011.9 1010.6h2.0M940.2 931.5h2.0M955.5 989.2h2.0M940.2 962.3h2.0M1007.6 1042.1h2.0M940.2 969.3h2.0M955.9 963.2h2.0M940.2 877.6h2.0M940.2 958.6h2.0M976.5 1016.0h2.0M940.2 926.9h2.0M958.2 931.6h2.0M976.0 982.0h2.0M986.5 1027.4h2.0M940.2 999.5h2.0M940.2 997.5h2.0M940.2 915.7h2.0M940.2 980.3h2.0M1007.2 998.4h2.0M1045.3 1079.2h2.0M1061.9 1049.2h2.0M940.2 893.5h2.0M940.2 1055.5h2.0M940.2 1017.7h2.0M940.2 968.1h2.0M975.4 998.7h2.0M1003.3 976.7h2.0M940.2 902.7h2.0M956.8 900.6h2.0M973.4 935.1h2.0M1025.8 982.0h2.0M940.2 987.4h2.0M940.2 859.0h2.0M940.2 1067.6h2.0M973.4 1095.6h2.0M940.2 986.8h2.0M973.9 963.1h2.0M940.2 970.8h2.0M974.3 1021.4h2.0M1013.0 1060.2h2.0M1047.4 1134.7h2.0M1137.1 1253.1h2.0M940.2 916.7h2.0M976.2 955.3h2.0M940.2 1013.3h2.0M958.9 1017.3h2.0M975.3 1013.8h2.0M1010.3 1082.3h2.0M1080.1 1129.8h2.0M1096.3 1162.5h2.0M940.2 939.1h2.0M975.2 944.0h2.0M940.2 910.7h2.0M940.2 879.5h2.0M957.5 947.3h2.0M976.3 985.5h2.0M1004.9 1032.0h2.0M1041.4 1122.8h2.0M1043.9 1105.9h2.0M940.2 914.5h2.0M975.1 942.1h2.0M940.2 978.4h2.0M956.0 1003.7h2.0M940.2 850.2h2.0M955.3 869.1h2.0M1012.4 902.7h2.0M940.2 976.4h2.0M972.4 995.9h2.0M1009.9 1023.2h2.0M940.2 992.5h2.0M957.0 1035.5h2.0M975.4 1018.5h2.0M1046.3 1132.8h2.0M940.2 963.9h2.0M975.7 1023.7h2.0M940.2 952.1h2.0M975.8 1018.9h2.0M1006.5 1145.1h2.0M1037.8 1192.7h2.0M940.2 1081.6h2.0M940.2 953.0h2.0M1009.9 985.6h2.0M940.2 915.0h2.0M974.8 977.5h2.0M987.5 1002.0h2.0M940.2 1079.6h2.0M954.0 1070.7h2.0M1006.6 1235.7h2.0M1024.2 1208.6h2.0M940.2 988.7h2.0M955.8 1002.5h2.0M940.2 971.6h2.0M959.9 938.1h2.0M1041.3 1018.9h2.0M940.2 902.3h2.0M940.2 927.1h2.0M940.2 975.5h2.0M956.9 1028.9h2.0M975.1 1057.4h2.0M940.2 978.5h2.0M940.2 957.4h2.0M940.2 986.5h2.0M974.1 1031.4h2.0M1042.0 1038.1h2.0M940.2 912.5h2.0M940.2 986.9h2.0M940.2 915.5h2.0M1044.5 1033.6h2.0M1123.0 1091.9h2.0M940.2 925.1h2.0M940.2 1015.4h2.0M940.2 970.6h2.0M974.2 1067.9h2.0M1004.7 1137.4h2.0M1044.7 1174.5h2.0M940.2 1077.9h2.0M959.1 1099.3h2.0M940.2 1004.7h2.0M940.2 974.9h2.0M957.4 987.5h2.0M978.6 1004.9h2.0M940.2 963.0h2.0M973.8 984.8h2.0M1006.3 1015.7h2.0M940.2 1041.6h2.0M940.2 888.3h2.0M975.4 883.6h2.0M1009.6 905.6h2.0M940.2 935.0h2.0M940.2 910.5h2.0M974.6 898.5h2.0M1011.5 902.9h2.0M940.2 941.2h2.0M956.7 971.5h2.0M972.3 946.2h2.0M999.0 979.3h2.0M940.2 1093.7h2.0M970.7 1149.9h2.0M1075.6 1255.4h2.0M940.2 1069.4h2.0M940.2 897.1h2.0M972.6 930.7h2.0M940.2 894.3h2.0M956.1 942.7h2.0M940.2 952.9h2.0M975.8 965.9h2.0M940.2 944.3h2.0M976.2 977.3h2.0M1002.2 1001.3h2.0M940.2 891.5h2.0M975.4 944.7h2.0M940.2 903.7h2.0M940.2 929.1h2.0M940.2 1008.5h2.0M974.9 1045.7h2.0M940.2 949.0h2.0M940.2 1042.0h2.0M978.4 1012.3h2.0M1011.1 1073.2h2.0M940.2 1018.4h2.0M995.6 1039.1h2.0" fill="none" stroke="#5d2f78" stroke-width="2.0" clip-path="url(#clipD)"/><path d="M940.2 880.0h2.0M978.1 894.6h2.0M1073.0 913.7h2.0M1114.1 891.7h2.0M940.2 875.5h2.0M940.2 887.2h2.0M956.1 872.0h2.0M940.2 884.8h2.0M940.2 891.2h2.0M974.1 887.8h2.0M1009.9 880.4h2.0M1044.8 878.7h2.0M940.2 880.1h2.0M940.2 872.3h2.0M975.0 868.8h2.0M1013.4 865.5h2.0M1124.3 847.7h2.0M940.2 877.5h2.0M940.2 885.1h2.0M972.8 906.8h2.0M1008.0 941.4h2.0M1078.5 939.3h2.0M1249.5 1045.1h2.0M1283.7 1060.3h2.0M940.2 920.8h2.0M940.2 864.7h2.0M976.0 855.8h2.0M940.2 908.0h2.0M1009.9 898.0h2.0M940.2 877.0h2.0M955.6 877.7h2.0M975.7 880.1h2.0M940.2 887.5h2.0M940.2 871.2h2.0M1010.4 933.6h2.0M1078.9 940.8h2.0M940.2 885.3h2.0M975.2 914.1h2.0M1011.4 933.3h2.0M1040.0 914.3h2.0M940.2 944.7h2.0M960.2 934.3h2.0M940.2 867.9h2.0M940.2 918.2h2.0M956.6 886.8h2.0M977.7 912.2h2.0M1013.9 906.4h2.0M1048.0 903.0h2.0M1081.9 910.6h2.0M940.2 882.9h2.0M957.0 865.4h2.0M973.0 877.7h2.0M1017.2 872.0h2.0M1065.1 862.9h2.0M940.2 895.6h2.0M976.0 903.6h2.0M1012.9 916.7h2.0M940.2 861.8h2.0M975.3 843.5h2.0M1042.7 892.7h2.0M940.2 895.6h2.0M956.4 902.8h2.0M940.2 948.7h2.0M973.5 959.1h2.0M1041.7 1006.2h2.0M1076.1 977.4h2.0M940.2 883.3h2.0M957.8 889.5h2.0M975.9 889.7h2.0M1049.3 889.9h2.0M1049.5 862.6h2.0M940.2 872.1h2.0M978.2 879.8h2.0M1017.2 851.5h2.0M1045.4 860.5h2.0M1081.4 865.5h2.0M1105.2 854.6h2.0M1188.8 876.3h2.0M1217.0 902.3h2.0M1255.3 881.5h2.0M1289.9 903.5h2.0M940.2 915.2h2.0M956.9 898.3h2.0M975.2 890.2h2.0M940.2 899.5h2.0M959.8 892.7h2.0M940.2 869.3h2.0M976.8 883.4h2.0M1008.3 888.4h2.0M940.2 951.1h2.0M976.6 930.0h2.0M940.2 903.4h2.0M955.2 911.1h2.0M976.9 941.2h2.0M1019.0 915.8h2.0M940.2 907.6h2.0M976.3 867.7h2.0M1002.0 865.4h2.0M1082.4 900.9h2.0M1161.7 904.8h2.0M940.2 888.7h2.0M1011.9 912.2h2.0M1045.2 913.8h2.0M1074.7 915.3h2.0M940.2 952.5h2.0M976.0 914.3h2.0M1040.9 943.2h2.0M1064.2 957.4h2.0M940.2 938.3h2.0M959.8 913.4h2.0M975.2 942.2h2.0M1012.4 924.0h2.0M1045.8 928.9h2.0M1052.6 934.5h2.0M1151.0 856.6h2.0M1244.3 846.9h2.0M1365.3 850.1h2.0M1431.0 879.2h2.0" fill="none" stroke="#1a6fb5" stroke-width="2.0" clip-path="url(#clipD)"/><path d="M940.2 862.9h2.0M1005.4 852.7h2.0M940.2 854.5h2.0M956.2 838.8h2.0M974.6 850.6h2.0M1040.1 859.2h2.0M1076.0 858.9h2.0M1221.2 858.2h2.0M1250.4 870.1h2.0M1306.4 870.5h2.0M940.2 914.1h2.0M975.8 918.1h2.0M940.2 860.7h2.0M975.2 859.7h2.0M1084.8 866.2h2.0M1102.0 867.6h2.0M1117.3 865.6h2.0M940.2 867.3h2.0M978.1 887.6h2.0M1010.3 891.3h2.0M1043.5 876.1h2.0M1146.9 882.1h2.0M1179.6 868.5h2.0M1196.6 887.0h2.0M940.2 867.2h2.0M976.1 873.6h2.0M1006.9 868.6h2.0M1044.1 849.1h2.0M940.2 882.9h2.0M976.3 870.8h2.0M940.2 889.9h2.0M972.7 885.9h2.0M1004.0 879.0h2.0M1043.8 884.3h2.0M1078.9 865.1h2.0M1112.2 880.4h2.0M1146.5 885.6h2.0M1188.1 890.3h2.0M1215.6 889.8h2.0M940.2 880.4h2.0M972.9 878.2h2.0M1010.5 871.0h2.0M940.2 889.3h2.0M940.2 941.4h2.0M976.7 930.7h2.0M994.7 929.3h2.0M940.2 875.7h2.0M959.4 871.2h2.0M975.9 887.6h2.0M1013.3 884.4h2.0M1041.2 881.6h2.0M1251.7 881.4h2.0M1293.7 892.0h2.0M940.2 907.7h2.0M957.9 894.6h2.0M1040.3 893.1h2.0M940.2 891.2h2.0M958.5 883.1h2.0M973.0 892.3h2.0M940.2 905.4h2.0M940.2 911.2h2.0M973.8 899.6h2.0M1003.3 902.3h2.0M940.2 870.5h2.0M976.1 892.3h2.0M1017.5 898.9h2.0M1041.4 883.9h2.0M1075.5 883.5h2.0M1110.2 883.4h2.0M1150.2 881.3h2.0M1283.4 901.0h2.0M1320.4 899.7h2.0M940.2 897.3h2.0M955.6 875.0h2.0M976.0 906.0h2.0M940.2 895.2h2.0M974.0 889.5h2.0M1010.4 882.6h2.0M1021.5 876.2h2.0M940.2 904.4h2.0M957.9 922.2h2.0M974.3 926.7h2.0M984.2 921.4h2.0M940.2 864.1h2.0M953.8 874.7h2.0M975.2 860.3h2.0M1081.3 852.5h2.0M1114.6 864.2h2.0M1146.2 891.5h2.0M1163.7 879.3h2.0M940.2 886.5h2.0M975.4 892.3h2.0M1047.9 879.8h2.0M1076.7 877.5h2.0M1111.9 883.3h2.0M1153.5 884.0h2.0M1254.6 903.0h2.0M1290.0 886.6h2.0M1320.4 895.1h2.0M940.2 877.2h2.0M975.3 876.8h2.0M1008.3 906.0h2.0M940.2 899.8h2.0M940.2 864.5h2.0M958.6 863.3h2.0M977.7 861.7h2.0M940.2 867.0h2.0M1009.5 878.4h2.0M940.2 903.2h2.0M974.3 881.9h2.0M1016.1 907.4h2.0M1054.3 909.0h2.0M940.2 852.5h2.0M975.2 845.5h2.0M940.2 899.8h2.0M958.9 910.1h2.0M1017.4 883.4h2.0M1116.1 915.0h2.0M1152.7 915.6h2.0M940.2 898.5h2.0M978.1 883.6h2.0M1015.4 898.8h2.0M940.2 864.5h2.0M940.2 899.8h2.0M976.5 914.0h2.0M1007.7 903.9h2.0M1049.3 931.3h2.0M940.2 863.8h2.0M940.2 849.2h2.0M940.2 870.4h2.0M972.3 858.7h2.0M940.2 892.1h2.0M956.4 890.8h2.0M1008.8 901.0h2.0M1074.6 881.3h2.0M940.2 853.1h2.0M975.7 860.3h2.0M1013.5 850.4h2.0M1047.6 838.7h2.0M1053.9 854.5h2.0M940.2 865.7h2.0M976.9 891.4h2.0M1004.6 891.8h2.0M940.2 891.7h2.0M974.9 888.4h2.0M1007.0 891.7h2.0M1114.7 881.8h2.0M1149.4 884.2h2.0M1184.4 884.0h2.0M1319.8 873.6h2.0M940.2 902.5h2.0M974.8 890.7h2.0M940.2 890.0h2.0M959.6 881.1h2.0M976.8 867.4h2.0M1015.0 860.6h2.0M1046.6 891.4h2.0M940.2 926.8h2.0M955.9 918.9h2.0M973.2 921.3h2.0M1039.8 925.5h2.0M1087.6 920.1h2.0M1090.2 920.5h2.0M940.2 888.5h2.0M959.1 881.2h2.0M977.9 891.2h2.0M1045.4 905.3h2.0M940.2 860.0h2.0M1012.9 866.5h2.0M940.2 898.7h2.0M974.0 901.4h2.0M1010.0 882.5h2.0M940.2 912.1h2.0M975.6 920.0h2.0M1017.1 907.7h2.0M1021.3 907.6h2.0M940.2 885.3h2.0M956.0 888.0h2.0M1147.6 892.8h2.0M1184.0 904.5h2.0M1245.4 898.0h2.0M940.2 869.2h2.0M940.2 858.9h2.0M973.4 863.4h2.0M1006.5 887.2h2.0M1045.3 876.8h2.0M1145.6 893.7h2.0M1185.9 888.7h2.0M1212.4 878.7h2.0M1258.6 902.4h2.0M1267.5 872.5h2.0M940.2 880.3h2.0M973.1 881.5h2.0M1081.8 876.7h2.0M1100.8 866.3h2.0M940.2 903.1h2.0M955.1 889.7h2.0M985.9 883.2h2.0M940.2 886.6h2.0M959.4 870.4h2.0M973.6 879.3h2.0M940.2 871.7h2.0M972.7 890.2h2.0M1004.4 887.3h2.0M940.2 885.3h2.0M956.0 890.3h2.0M974.5 881.7h2.0M1022.1 924.8h2.0M1041.8 905.7h2.0M1074.7 905.9h2.0M1096.7 913.0h2.0M940.2 866.2h2.0M1041.0 852.1h2.0M1075.9 865.9h2.0M1110.1 860.6h2.0M1146.4 868.9h2.0M1178.2 867.9h2.0M1215.3 874.3h2.0M1257.8 869.1h2.0M1321.5 869.2h2.0M940.2 875.1h2.0M1078.2 881.6h2.0M1113.1 879.5h2.0M1155.1 884.5h2.0M1213.9 875.7h2.0M1247.5 901.5h2.0M1283.6 919.0h2.0M1312.2 907.1h2.0M1320.4 904.4h2.0M940.2 930.1h2.0M1073.3 929.1h2.0M1139.8 947.3h2.0M1183.8 951.4h2.0M940.2 871.2h2.0M976.3 889.1h2.0M1016.4 895.7h2.0M1082.7 890.9h2.0M1184.6 896.9h2.0M1216.2 906.9h2.0M1248.1 895.9h2.0M940.2 889.7h2.0M957.9 892.7h2.0M971.5 894.4h2.0M1005.5 880.7h2.0M1072.8 897.5h2.0M1147.6 879.4h2.0M1220.3 869.4h2.0M1255.8 889.3h2.0M1282.4 887.1h2.0M1319.4 893.3h2.0M1320.4 888.6h2.0M940.2 879.4h2.0M940.2 851.2h2.0M975.1 854.1h2.0M1011.3 867.2h2.0M1044.6 867.0h2.0M1073.9 863.6h2.0M940.2 892.9h2.0M955.4 908.8h2.0M940.2 890.1h2.0M958.0 901.3h2.0M976.3 897.6h2.0M1081.1 908.7h2.0M1145.9 913.1h2.0M1154.3 906.6h2.0M940.2 891.6h2.0M974.3 889.2h2.0M940.2 856.2h2.0M976.3 846.4h2.0M1002.7 856.8h2.0M1043.0 848.5h2.0M1085.0 838.6h2.0M1109.9 846.3h2.0M1145.7 852.7h2.0M940.2 933.5h2.0M960.1 943.5h2.0M972.9 939.5h2.0M1011.4 930.3h2.0M1040.5 933.7h2.0M1144.0 942.1h2.0M940.2 881.5h2.0M957.6 867.3h2.0M974.0 856.6h2.0M940.2 881.5h2.0M957.6 887.3h2.0M1077.9 897.2h2.0M1179.4 889.3h2.0M1209.4 890.8h2.0M940.2 849.3h2.0M940.2 904.9h2.0M971.3 894.6h2.0M1005.1 889.5h2.0M1032.9 894.4h2.0M1076.5 897.4h2.0M1080.6 881.4h2.0M940.2 889.1h2.0M1039.7 870.1h2.0M940.2 899.9h2.0M977.2 903.8h2.0M1045.7 906.7h2.0M1112.0 903.9h2.0M940.2 859.4h2.0M940.2 907.3h2.0M971.8 908.6h2.0M1049.9 913.9h2.0M1151.3 917.9h2.0M1183.8 905.7h2.0M940.2 882.4h2.0M959.5 893.3h2.0M974.4 880.2h2.0M940.2 870.5h2.0M974.5 873.8h2.0M940.2 868.8h2.0M940.2 864.6h2.0M974.7 886.5h2.0M1006.9 869.0h2.0M1112.8 881.9h2.0M1180.9 888.6h2.0M1218.0 894.4h2.0M1252.9 900.8h2.0M1286.8 904.0h2.0M940.2 875.0h2.0M971.2 872.3h2.0M1009.5 867.4h2.0M1018.1 878.9h2.0M940.2 889.2h2.0M975.6 886.7h2.0M1046.0 898.8h2.0M940.2 871.3h2.0M940.2 864.8h2.0M976.9 876.1h2.0M1004.3 871.7h2.0M1044.3 876.5h2.0M1115.3 885.7h2.0M1154.4 897.3h2.0M1227.7 897.5h2.0M940.2 866.9h2.0M1010.3 877.4h2.0M1072.9 886.0h2.0M1118.1 869.1h2.0M1145.3 892.2h2.0M1165.3 877.7h2.0M940.2 882.9h2.0M958.9 858.1h2.0M975.9 867.8h2.0M1008.4 886.5h2.0M940.2 889.3h2.0M958.8 888.7h2.0M973.9 902.3h2.0M1037.5 907.3h2.0M1076.3 904.4h2.0M940.2 892.6h2.0M974.1 894.8h2.0M1008.8 932.1h2.0M940.2 861.8h2.0M940.2 894.8h2.0M954.4 918.2h2.0M974.0 891.5h2.0M1007.4 894.0h2.0M1050.2 885.5h2.0M1076.3 898.7h2.0M1119.0 889.1h2.0M1145.7 876.6h2.0M940.2 888.7h2.0M973.4 894.7h2.0M940.2 879.3h2.0M959.8 882.8h2.0M975.5 890.2h2.0M998.5 882.9h2.0M940.2 903.6h2.0M956.6 876.5h2.0M973.7 895.4h2.0M1042.3 888.3h2.0M1106.2 898.0h2.0M940.2 867.4h2.0M972.3 857.1h2.0M1043.1 849.5h2.0M1078.7 846.5h2.0M1141.1 843.4h2.0M940.2 881.0h2.0M940.2 876.0h2.0M957.8 882.9h2.0M940.2 862.5h2.0M1000.9 860.2h2.0M1039.9 873.0h2.0M1077.5 881.6h2.0M940.2 891.3h2.0M955.6 865.1h2.0M1078.2 869.2h2.0M1114.5 889.8h2.0M1153.2 872.5h2.0M1208.4 886.8h2.0M940.2 876.4h2.0M975.2 862.9h2.0M1044.7 874.0h2.0M1073.7 869.5h2.0M940.2 881.8h2.0M975.5 880.0h2.0M1037.9 892.8h2.0M940.2 874.9h2.0M979.7 880.7h2.0M1038.6 884.7h2.0M1146.6 861.9h2.0M940.2 886.6h2.0M975.7 898.0h2.0M940.2 880.9h2.0M958.7 875.6h2.0M975.1 895.8h2.0M1084.5 891.8h2.0M940.2 852.9h2.0M978.1 847.2h2.0M1045.0 841.4h2.0M1086.4 844.3h2.0M940.2 899.0h2.0M958.0 883.2h2.0M973.8 875.3h2.0M1008.4 888.6h2.0M1072.7 909.0h2.0M1151.8 900.7h2.0M1215.4 892.7h2.0M1245.3 890.3h2.0M1287.5 899.6h2.0M940.2 880.5h2.0M973.0 892.3h2.0M1006.2 894.1h2.0M1051.6 889.3h2.0M940.2 878.3h2.0M954.7 882.5h2.0M976.9 874.6h2.0M1009.7 897.9h2.0M1077.7 866.2h2.0M1114.2 873.9h2.0M1145.4 884.4h2.0M1181.9 884.7h2.0M940.2 864.5h2.0M974.7 851.7h2.0M940.2 879.2h2.0M974.2 883.3h2.0M1041.3 889.6h2.0M940.2 917.3h2.0M972.2 919.4h2.0M1042.6 923.0h2.0M940.2 895.9h2.0M954.7 875.4h2.0M976.9 891.8h2.0M1140.6 863.7h2.0M1168.3 883.5h2.0M940.2 867.0h2.0M955.0 884.2h2.0M976.0 890.6h2.0M1015.5 895.9h2.0M1044.3 898.4h2.0M1112.9 885.8h2.0M1183.4 910.7h2.0M1203.7 877.9h2.0M940.2 942.4h2.0M956.9 938.4h2.0M940.2 878.5h2.0M958.3 875.9h2.0M974.2 872.5h2.0M1116.2 880.9h2.0M1139.7 889.8h2.0M1183.1 884.5h2.0M940.2 907.2h2.0M1038.1 895.6h2.0M940.2 869.0h2.0M940.2 870.5h2.0M974.3 884.9h2.0M1011.5 885.1h2.0M1043.6 882.1h2.0M1078.2 878.9h2.0M1115.6 878.6h2.0M940.2 873.2h2.0M940.2 880.8h2.0M1046.4 858.2h2.0M1077.1 877.6h2.0M1115.4 880.9h2.0M1159.6 872.4h2.0M1199.3 873.7h2.0M940.2 906.4h2.0M940.2 873.6h2.0M978.5 866.3h2.0M1074.4 877.8h2.0M1115.4 881.3h2.0M1148.1 888.8h2.0M1179.4 885.2h2.0M1285.9 893.1h2.0M940.2 904.3h2.0M956.7 895.5h2.0M972.9 903.1h2.0M987.0 896.4h2.0M940.2 885.3h2.0M961.3 880.5h2.0M979.1 877.4h2.0M997.1 901.8h2.0M940.2 852.7h2.0M958.0 841.0h2.0M975.9 837.5h2.0M1010.9 846.2h2.0M1046.3 839.3h2.0M1111.8 843.9h2.0M1143.4 839.6h2.0M1175.9 847.7h2.0M940.2 869.0h2.0M956.4 860.7h2.0M974.5 868.2h2.0M1048.1 876.5h2.0M1081.5 862.7h2.0M940.2 901.4h2.0M1012.8 905.5h2.0M1045.7 922.9h2.0M1081.6 903.6h2.0M1114.9 900.3h2.0M1149.5 909.9h2.0M1213.8 913.9h2.0M1289.8 899.8h2.0M940.2 875.0h2.0M960.2 893.3h2.0M973.3 885.5h2.0M1012.6 892.1h2.0M1045.7 908.0h2.0M1079.1 893.9h2.0M1107.1 898.0h2.0M940.2 904.0h2.0M958.3 896.0h2.0M974.7 914.2h2.0M1012.6 881.1h2.0M940.2 889.7h2.0M955.8 891.9h2.0M972.7 871.8h2.0M940.2 879.5h2.0M976.5 866.4h2.0M1002.1 879.3h2.0M1073.9 888.3h2.0M1108.8 896.9h2.0M940.2 892.7h2.0M958.1 905.9h2.0M975.7 896.1h2.0M1007.8 881.0h2.0M1042.3 890.4h2.0M1112.2 906.3h2.0M1144.0 904.9h2.0M1180.5 905.9h2.0M1227.3 913.1h2.0M1262.0 916.7h2.0M1292.4 917.5h2.0M1320.4 928.2h2.0M940.2 907.6h2.0M973.2 920.9h2.0M1079.9 911.3h2.0M940.2 869.2h2.0M977.5 864.8h2.0M1088.3 853.7h2.0M1111.8 859.3h2.0M1146.9 862.3h2.0M1179.6 873.1h2.0M1223.3 885.9h2.0M1289.2 861.4h2.0M940.2 893.0h2.0M958.6 885.1h2.0M975.0 892.5h2.0M1006.2 913.2h2.0M1083.2 899.0h2.0M1111.2 920.5h2.0M1216.0 915.5h2.0M1250.0 923.0h2.0M1286.1 905.0h2.0M1319.5 936.6h2.0M1320.4 917.1h2.0M940.2 884.0h2.0M956.1 863.7h2.0M974.7 876.2h2.0M1079.0 859.5h2.0M940.2 902.1h2.0M976.2 884.7h2.0M1006.0 883.5h2.0M1043.3 898.2h2.0M1148.4 908.6h2.0M1183.4 920.1h2.0M1209.8 922.3h2.0M1249.2 900.1h2.0M940.2 877.5h2.0M1014.3 901.0h2.0M1077.2 903.7h2.0M1115.1 919.6h2.0M1186.1 907.6h2.0M940.2 870.8h2.0M975.1 877.1h2.0M1010.4 890.1h2.0M1185.4 868.2h2.0M1285.9 877.3h2.0M1288.7 867.9h2.0M940.2 912.5h2.0M976.4 917.8h2.0M1010.1 896.7h2.0M1041.0 899.3h2.0M940.2 863.2h2.0M974.9 857.0h2.0M1086.1 851.2h2.0M1114.5 841.3h2.0M1142.7 847.2h2.0M1217.4 854.1h2.0M1242.3 850.5h2.0M940.2 887.7h2.0M1007.6 871.6h2.0M1046.2 882.0h2.0M1077.6 882.5h2.0M1141.7 892.8h2.0M940.2 886.3h2.0M973.3 880.7h2.0M1044.2 880.4h2.0M1083.8 896.8h2.0M1114.0 906.3h2.0M1147.1 897.3h2.0M1173.6 905.2h2.0M940.2 886.6h2.0M956.0 888.0h2.0M975.9 899.3h2.0M940.2 889.7h2.0M974.7 892.5h2.0M1006.6 873.1h2.0M1150.2 866.6h2.0M940.2 855.9h2.0M957.1 881.8h2.0M975.6 895.8h2.0M1009.0 864.4h2.0M1046.0 870.2h2.0M1076.3 868.4h2.0M1114.7 882.7h2.0M1142.3 873.7h2.0M1179.5 888.7h2.0M940.2 922.7h2.0M971.8 915.6h2.0M1047.9 916.7h2.0M1083.3 930.5h2.0M1136.5 915.1h2.0M940.2 884.1h2.0M973.4 869.7h2.0M1048.3 882.6h2.0M940.2 865.3h2.0M1046.0 875.0h2.0M1060.7 871.1h2.0M940.2 908.5h2.0M973.3 916.1h2.0M1008.5 906.2h2.0M1043.2 915.3h2.0M940.2 863.8h2.0M955.5 865.2h2.0M979.2 863.4h2.0M940.2 877.3h2.0M961.0 884.3h2.0M975.1 885.1h2.0M1009.1 876.9h2.0M1046.4 882.5h2.0M1077.9 875.7h2.0M1115.1 871.1h2.0M1221.1 861.2h2.0M1259.0 882.1h2.0M1285.5 861.7h2.0M1325.6 861.4h2.0M940.2 871.5h2.0M976.4 873.4h2.0M1016.4 886.8h2.0M940.2 887.6h2.0M973.5 882.5h2.0M1018.0 881.0h2.0M1077.4 909.8h2.0M1115.3 895.9h2.0M1177.6 888.2h2.0M1221.7 906.8h2.0M1249.4 902.2h2.0M1287.4 900.9h2.0M1320.4 895.5h2.0M1328.4 906.1h2.0M940.2 904.2h2.0M976.1 899.2h2.0M1072.6 910.0h2.0M940.2 851.1h2.0M940.2 869.0h2.0M1047.3 866.6h2.0M1078.0 884.4h2.0M1119.5 883.9h2.0M1154.3 906.8h2.0M1219.1 903.8h2.0M1285.3 899.1h2.0M1318.3 909.1h2.0M940.2 892.2h2.0M957.7 897.1h2.0M975.5 899.9h2.0M940.2 868.8h2.0M1011.0 885.5h2.0M940.2 878.9h2.0M977.6 862.0h2.0M1044.2 887.2h2.0M1078.0 886.4h2.0M940.2 898.9h2.0M975.0 909.4h2.0M1017.8 906.4h2.0M940.2 849.7h2.0M1042.7 860.6h2.0M1075.6 870.8h2.0M1177.0 877.8h2.0M1184.2 869.7h2.0M940.2 863.8h2.0M957.6 862.7h2.0M975.3 876.2h2.0M940.2 860.3h2.0M1013.2 874.0h2.0M1044.6 847.2h2.0M1076.7 846.5h2.0M1115.7 847.1h2.0M1156.2 842.9h2.0M1221.8 853.0h2.0M940.2 880.3h2.0M974.5 884.2h2.0M1010.9 898.5h2.0M940.2 884.3h2.0M960.3 872.2h2.0M1007.2 881.3h2.0M1078.8 872.6h2.0M1100.1 885.0h2.0M940.2 887.2h2.0M940.2 880.5h2.0M959.1 874.4h2.0M977.7 883.1h2.0M1007.0 880.2h2.0M1044.4 880.8h2.0M940.2 879.4h2.0M977.7 892.4h2.0M1007.1 884.8h2.0M1044.1 888.5h2.0M940.2 872.5h2.0M975.0 871.9h2.0M1002.5 887.4h2.0M1045.5 890.1h2.0M940.2 947.5h2.0M1005.8 954.9h2.0M1042.3 949.6h2.0M1181.4 987.7h2.0M1253.1 970.9h2.0M1320.4 990.7h2.0M1320.5 984.6h2.0M940.2 881.6h2.0M974.4 886.0h2.0M1002.8 895.7h2.0M940.2 901.0h2.0M974.6 907.2h2.0M1009.5 936.9h2.0M1047.5 922.9h2.0M1072.9 935.7h2.0M1121.5 928.3h2.0M1209.5 947.3h2.0M1286.4 960.6h2.0M940.2 931.5h2.0M973.9 911.7h2.0M1010.3 934.5h2.0M1078.0 949.4h2.0M1141.7 925.1h2.0M1248.5 972.2h2.0M940.2 878.0h2.0M1084.0 892.0h2.0M1114.6 889.1h2.0M1142.7 876.0h2.0M1183.2 885.2h2.0M1249.9 882.0h2.0M940.2 871.5h2.0M976.8 860.4h2.0M1007.2 844.5h2.0M1073.9 853.9h2.0M1117.1 871.7h2.0M1153.2 863.0h2.0M1186.0 871.8h2.0M1215.4 874.4h2.0M1246.5 884.3h2.0M940.2 914.5h2.0M974.1 899.1h2.0M1011.2 901.2h2.0M1045.5 907.9h2.0M1129.9 886.9h2.0M940.2 860.8h2.0M974.0 857.0h2.0M1015.9 867.8h2.0M940.2 872.3h2.0M940.2 876.2h2.0M972.8 868.4h2.0M1048.0 886.8h2.0M1071.3 890.7h2.0M1114.2 891.6h2.0M940.2 890.8h2.0M956.4 887.8h2.0M976.4 885.7h2.0M1006.7 882.4h2.0M1078.2 881.8h2.0M940.2 864.4h2.0M971.8 852.6h2.0M940.2 900.5h2.0M1011.5 880.6h2.0M1037.5 879.9h2.0M1081.8 874.9h2.0M940.2 870.6h2.0M973.9 889.1h2.0M940.2 860.9h2.0M975.1 865.6h2.0M1017.2 872.2h2.0M1046.4 871.1h2.0M1076.8 864.3h2.0M940.2 917.2h2.0M976.3 889.5h2.0M1012.1 909.5h2.0M1039.3 890.6h2.0M1080.5 900.5h2.0M940.2 921.8h2.0M976.4 915.1h2.0M1006.3 900.5h2.0M1113.8 908.5h2.0M940.2 893.7h2.0M975.4 876.4h2.0M940.2 879.4h2.0M940.2 883.0h2.0M974.4 878.4h2.0M1046.2 893.0h2.0M1117.6 908.0h2.0M1216.2 892.8h2.0M1248.4 893.6h2.0M1287.0 902.7h2.0M1326.0 916.7h2.0M940.2 907.7h2.0M975.1 913.7h2.0M1003.8 917.7h2.0M1048.1 876.8h2.0M1146.6 877.4h2.0M940.2 893.9h2.0M975.2 897.3h2.0M1016.5 895.1h2.0M1043.5 908.8h2.0M940.2 865.2h2.0M973.3 861.2h2.0M1046.2 849.0h2.0M1080.9 859.7h2.0M940.2 854.2h2.0M973.3 837.4h2.0M1012.0 867.6h2.0M1045.7 852.5h2.0M1078.1 860.7h2.0M940.2 885.7h2.0M971.7 882.5h2.0M1045.4 871.4h2.0M1067.9 878.2h2.0M1111.0 869.5h2.0M1138.1 874.4h2.0M940.2 876.4h2.0M1046.7 911.1h2.0M1082.2 904.0h2.0M940.2 889.2h2.0M975.2 872.1h2.0M1017.3 883.1h2.0M1043.2 893.1h2.0M1213.9 875.9h2.0M1251.0 888.9h2.0M1263.1 876.8h2.0M940.2 862.1h2.0M975.1 876.8h2.0M1012.0 877.5h2.0M1042.8 880.5h2.0M1152.2 880.8h2.0M1246.6 882.5h2.0M1286.9 888.4h2.0M1288.5 896.9h2.0M940.2 876.9h2.0M975.8 873.0h2.0M1014.2 873.8h2.0M1041.0 877.4h2.0M1078.1 861.2h2.0M940.2 873.3h2.0M954.9 892.6h2.0M971.5 870.6h2.0M940.2 909.6h2.0M957.6 902.7h2.0M977.4 910.0h2.0M1044.8 926.0h2.0M940.2 892.4h2.0M957.7 909.6h2.0M976.1 901.5h2.0M1005.9 902.2h2.0M1075.8 912.1h2.0M1111.5 934.2h2.0M940.2 876.7h2.0M956.9 885.5h2.0M940.2 912.9h2.0M940.2 859.7h2.0M1013.4 873.3h2.0M1042.1 888.5h2.0M1073.0 878.0h2.0M1113.8 880.9h2.0M940.2 870.1h2.0M957.2 856.3h2.0M972.5 868.3h2.0M1035.7 865.8h2.0M1076.8 881.8h2.0M1148.6 890.1h2.0M940.2 890.7h2.0M972.4 890.1h2.0M993.6 896.4h2.0M940.2 884.2h2.0M976.2 861.0h2.0M1046.0 898.4h2.0M1111.0 890.8h2.0M940.2 881.4h2.0M974.7 866.2h2.0M940.2 889.2h2.0M958.7 880.1h2.0M971.4 884.2h2.0M1011.4 900.6h2.0M1044.6 887.5h2.0M1058.9 892.5h2.0M940.2 879.3h2.0M1006.5 868.1h2.0M1116.6 878.4h2.0M1157.0 865.5h2.0M1158.6 854.1h2.0M940.2 865.0h2.0M940.2 889.3h2.0M955.4 876.5h2.0M975.2 880.7h2.0M1013.5 869.6h2.0M940.2 909.8h2.0M940.2 876.0h2.0M955.8 853.3h2.0M940.2 879.8h2.0M960.1 885.5h2.0M974.0 883.1h2.0M1013.2 879.6h2.0M1072.9 886.2h2.0M1114.6 892.7h2.0M1170.6 891.8h2.0M940.2 898.9h2.0M977.6 889.6h2.0M1077.6 885.8h2.0M1110.1 885.7h2.0M1155.9 889.8h2.0M1217.1 899.0h2.0M1290.4 897.3h2.0M1320.0 905.0h2.0M1320.4 904.7h2.0M940.2 905.8h2.0M974.9 907.3h2.0M1046.6 904.8h2.0M1078.7 913.6h2.0M940.2 896.4h2.0M955.5 910.8h2.0M975.9 887.5h2.0M1045.3 906.4h2.0M1068.4 897.4h2.0M940.2 881.2h2.0M972.1 890.8h2.0M1010.9 864.3h2.0M1035.0 883.9h2.0M1073.7 884.9h2.0M1117.0 922.9h2.0M1146.1 910.6h2.0M1184.6 914.6h2.0M1206.7 894.4h2.0M1287.8 933.1h2.0M1319.3 941.7h2.0M1320.4 935.7h2.0M940.2 886.2h2.0M958.0 904.5h2.0M973.2 891.1h2.0M1042.6 884.5h2.0M1106.3 893.9h2.0M940.2 903.9h2.0M955.5 883.1h2.0M940.2 933.8h2.0M974.9 931.9h2.0M940.2 856.1h2.0M940.2 939.5h2.0M957.3 926.8h2.0M940.2 869.1h2.0M1012.3 858.8h2.0M1040.9 883.6h2.0M1071.7 873.0h2.0M1100.7 869.1h2.0M940.2 853.2h2.0M975.0 862.1h2.0M940.2 851.9h2.0M972.0 853.2h2.0M1009.1 849.1h2.0M1071.6 851.4h2.0M940.2 878.2h2.0M955.9 892.4h2.0M972.9 889.7h2.0M1001.0 887.8h2.0M1018.5 887.5h2.0M940.2 856.0h2.0M1006.0 870.8h2.0M940.2 882.1h2.0M974.9 874.8h2.0M1009.9 886.9h2.0M1042.5 870.6h2.0M940.2 853.4h2.0M940.2 891.8h2.0M976.6 897.4h2.0M1005.0 872.2h2.0M940.2 896.1h2.0M975.0 903.2h2.0M999.2 890.2h2.0M1039.1 887.0h2.0M1114.2 883.2h2.0M940.2 864.1h2.0M940.2 891.4h2.0M975.8 882.0h2.0M1045.1 885.9h2.0M940.2 871.8h2.0M940.2 879.2h2.0M940.2 867.9h2.0M972.9 888.3h2.0M991.1 882.4h2.0M940.2 861.4h2.0M974.6 861.9h2.0M1047.4 854.5h2.0M1074.9 862.5h2.0M1108.5 863.4h2.0M1118.9 866.2h2.0M940.2 933.2h2.0M959.9 934.3h2.0M1042.0 910.7h2.0M1143.7 940.3h2.0M1157.2 934.3h2.0M940.2 858.1h2.0M956.8 846.4h2.0M974.3 863.2h2.0M1012.9 846.0h2.0M940.2 891.3h2.0M958.0 876.5h2.0M975.8 892.2h2.0M1007.3 900.6h2.0M1037.8 901.7h2.0M1059.7 880.1h2.0M940.2 914.1h2.0M957.9 882.2h2.0M975.5 896.8h2.0M1044.1 873.0h2.0M1086.2 903.0h2.0M1115.9 894.4h2.0M1147.0 885.5h2.0M940.2 853.4h2.0M956.7 855.4h2.0M977.8 857.9h2.0M1218.5 889.0h2.0M1252.2 886.2h2.0M1289.0 883.7h2.0M1320.4 879.8h2.0M940.2 878.0h2.0M957.6 895.1h2.0M1012.7 898.8h2.0M1042.4 918.7h2.0M940.2 863.3h2.0M974.4 886.1h2.0M940.2 867.9h2.0M956.9 855.1h2.0M972.3 852.3h2.0M1046.7 856.4h2.0M1077.9 846.7h2.0M940.2 912.6h2.0M957.6 905.4h2.0M976.0 899.8h2.0M1013.2 896.2h2.0M1047.6 904.4h2.0M1074.5 900.1h2.0M940.2 870.1h2.0M957.0 879.4h2.0M1007.5 877.2h2.0M1041.4 888.5h2.0M1116.0 881.9h2.0M1148.3 878.5h2.0M1209.0 884.1h2.0M1245.3 872.8h2.0M1288.1 866.5h2.0M1317.7 893.7h2.0M1320.4 876.5h2.0M940.2 923.6h2.0M958.9 928.5h2.0M973.4 937.7h2.0M1079.6 911.6h2.0M1110.6 915.8h2.0M1142.5 932.3h2.0M1185.0 929.3h2.0M1247.8 928.2h2.0M1289.8 942.4h2.0M1320.4 938.5h2.0M940.2 862.6h2.0M977.1 860.0h2.0M940.2 861.9h2.0M974.7 886.2h2.0M1006.9 882.4h2.0M1037.3 867.1h2.0M1112.3 872.3h2.0M1146.0 871.1h2.0M1147.9 872.0h2.0M940.2 918.1h2.0M974.3 931.8h2.0M1039.6 928.7h2.0M1079.1 935.2h2.0M1143.6 927.5h2.0M1183.8 928.5h2.0M1213.9 938.0h2.0M1245.6 952.4h2.0M940.2 896.9h2.0M955.0 912.8h2.0M1036.1 893.8h2.0M1084.6 894.4h2.0M1150.5 900.8h2.0M1180.2 909.6h2.0M1228.2 916.6h2.0M940.2 851.0h2.0M940.2 878.9h2.0M958.4 860.1h2.0M973.7 862.9h2.0M1049.9 852.0h2.0M1076.1 857.9h2.0M1147.5 842.6h2.0M1178.9 852.9h2.0M1219.7 846.2h2.0M1248.5 837.3h2.0M1288.6 839.0h2.0M940.2 882.1h2.0M975.8 885.3h2.0M940.2 856.4h2.0M973.6 842.9h2.0M940.2 886.6h2.0M958.6 873.9h2.0M977.5 894.4h2.0M1003.3 890.4h2.0M1042.5 884.7h2.0M1079.3 860.4h2.0M1083.8 869.7h2.0M940.2 871.8h2.0M940.2 871.1h2.0M976.4 869.7h2.0M1009.7 870.3h2.0M1043.6 898.0h2.0M1046.6 871.2h2.0M940.2 892.9h2.0M975.7 903.7h2.0M940.2 893.7h2.0M1018.0 907.5h2.0M1043.1 910.1h2.0M1047.9 905.7h2.0M940.2 886.7h2.0M1016.1 876.3h2.0M1045.6 867.9h2.0M940.2 957.9h2.0M976.1 922.5h2.0M1044.1 941.5h2.0M1122.2 940.1h2.0M1215.2 943.0h2.0M1320.4 965.3h2.0M940.2 849.5h2.0M960.4 846.9h2.0M974.6 876.7h2.0M1001.7 870.9h2.0M1052.8 858.9h2.0M1082.8 855.2h2.0M1146.8 865.1h2.0M1219.3 859.4h2.0M1222.2 861.1h2.0M940.2 915.6h2.0M955.6 894.8h2.0M1013.1 887.5h2.0M1047.2 906.8h2.0M1080.9 904.2h2.0M1150.3 920.8h2.0M1152.2 903.2h2.0M940.2 873.8h2.0M974.4 886.0h2.0M1007.3 883.3h2.0M1076.3 881.8h2.0M940.2 883.6h2.0M940.2 854.6h2.0M960.3 857.4h2.0M1013.7 868.5h2.0M940.2 882.4h2.0M960.0 884.6h2.0M973.9 915.6h2.0M1010.1 886.6h2.0M1114.9 884.0h2.0M1184.7 884.0h2.0M940.2 866.5h2.0M958.0 868.2h2.0M973.8 886.8h2.0M1039.9 875.1h2.0M940.2 872.8h2.0M971.2 871.1h2.0M940.2 912.9h2.0M998.1 916.7h2.0M940.2 873.0h2.0M958.8 856.7h2.0M1009.8 861.9h2.0M1046.0 852.0h2.0M1074.8 850.9h2.0M1106.8 838.7h2.0M1182.7 842.2h2.0M1195.5 851.4h2.0M940.2 902.4h2.0M973.7 918.3h2.0M1151.3 914.2h2.0M1186.4 902.4h2.0M940.2 854.6h2.0M975.1 850.5h2.0M1010.2 858.5h2.0M1039.1 873.1h2.0M940.2 850.4h2.0M975.0 861.2h2.0M1041.8 863.5h2.0M1075.0 870.8h2.0M1110.3 864.7h2.0M940.2 879.2h2.0M972.8 897.7h2.0M1083.7 889.5h2.0M1091.8 912.7h2.0M940.2 862.0h2.0M974.7 860.9h2.0M1075.7 864.6h2.0M940.2 870.5h2.0M976.6 860.4h2.0M1008.7 856.6h2.0M1045.3 868.6h2.0M1118.7 843.1h2.0M940.2 910.1h2.0M976.3 903.7h2.0M1008.2 892.0h2.0M1038.2 907.0h2.0M1078.9 920.1h2.0M1114.9 911.3h2.0M1215.1 918.5h2.0M940.2 915.9h2.0M975.0 915.0h2.0M1036.7 913.5h2.0M1078.0 923.3h2.0M1148.7 933.2h2.0M1181.7 948.4h2.0M1212.0 960.4h2.0M1228.9 947.0h2.0M940.2 894.9h2.0M976.8 877.6h2.0M1016.5 883.0h2.0M1046.5 888.6h2.0M1076.8 881.7h2.0M1145.3 886.6h2.0M1149.0 896.0h2.0M940.2 921.6h2.0M1043.0 937.2h2.0M1082.0 920.0h2.0M1219.6 917.9h2.0M940.2 919.4h2.0M958.5 907.4h2.0M1009.6 914.2h2.0M1117.3 927.3h2.0M1150.3 924.7h2.0M1183.3 890.7h2.0M1213.8 915.4h2.0M1252.9 909.0h2.0M1284.8 915.9h2.0M940.2 881.5h2.0M955.6 892.9h2.0M998.4 891.5h2.0M940.2 887.8h2.0M956.4 888.6h2.0M973.0 887.2h2.0M1011.5 911.8h2.0M1037.2 896.6h2.0M940.2 904.6h2.0M940.2 913.8h2.0M974.5 904.0h2.0M1008.3 911.8h2.0M940.2 874.6h2.0M957.6 890.8h2.0M973.2 883.7h2.0M1004.3 888.4h2.0M1187.3 876.3h2.0M1212.0 898.5h2.0M1289.4 876.1h2.0M1322.1 863.3h2.0M940.2 879.7h2.0M972.4 870.3h2.0M1009.3 896.1h2.0M1041.1 867.4h2.0M1086.9 875.6h2.0M940.2 867.2h2.0M971.9 888.4h2.0M1151.3 906.3h2.0M1186.2 890.3h2.0M1198.8 898.5h2.0M940.2 888.7h2.0M940.2 878.0h2.0M940.2 894.4h2.0M974.8 863.8h2.0M1073.0 886.6h2.0M1105.8 881.8h2.0M1145.2 892.9h2.0M1181.8 899.9h2.0M1248.1 910.9h2.0M1286.4 920.6h2.0M940.2 889.8h2.0M973.7 890.6h2.0M1001.8 896.1h2.0M940.2 868.6h2.0M992.2 859.3h2.0M940.2 879.2h2.0M1007.2 909.3h2.0M1046.7 888.5h2.0M1113.0 896.2h2.0M940.2 911.8h2.0M971.2 895.9h2.0M1085.5 910.5h2.0M1151.0 913.4h2.0M1178.4 916.0h2.0M1250.3 904.6h2.0M1282.4 903.2h2.0M1314.9 930.7h2.0M940.2 893.3h2.0M953.7 907.0h2.0M940.2 962.8h2.0M940.2 919.1h2.0M1041.3 896.4h2.0M1114.1 921.4h2.0M1143.6 896.6h2.0M1179.7 898.9h2.0M1218.3 878.3h2.0M1253.0 880.5h2.0M1283.1 886.6h2.0M1320.8 878.7h2.0M940.2 866.7h2.0M958.5 840.4h2.0M1016.4 848.6h2.0M1043.5 856.3h2.0M1076.7 843.2h2.0M1086.6 842.8h2.0M940.2 857.0h2.0M959.5 868.5h2.0M940.2 900.2h2.0M940.2 870.7h2.0M958.6 866.8h2.0M973.4 858.5h2.0M1005.7 880.6h2.0M940.2 877.9h2.0M958.1 865.4h2.0M1079.7 886.7h2.0M940.2 872.5h2.0M973.8 876.0h2.0M1011.9 870.8h2.0M1083.8 869.8h2.0M1108.4 875.3h2.0M1144.3 893.1h2.0M940.2 880.3h2.0M956.9 875.8h2.0M974.2 880.2h2.0M1014.8 881.6h2.0M1077.7 907.8h2.0M1116.9 874.2h2.0M1150.6 906.3h2.0M940.2 876.2h2.0M1014.5 881.3h2.0M1047.1 855.5h2.0M1076.9 877.2h2.0M1117.4 876.0h2.0M1151.5 881.6h2.0M1275.9 875.8h2.0M1316.2 886.4h2.0M1320.4 862.9h2.0M940.2 867.3h2.0M975.3 899.6h2.0M940.2 928.9h2.0M940.2 885.7h2.0M1008.6 889.2h2.0M940.2 866.9h2.0M940.2 873.8h2.0M978.3 865.2h2.0M940.2 877.9h2.0M974.5 888.8h2.0M1003.0 889.9h2.0M1083.1 895.2h2.0M940.2 876.1h2.0M940.2 870.1h2.0M955.8 869.8h2.0M975.9 883.2h2.0M1044.4 894.6h2.0M940.2 881.2h2.0M958.0 880.8h2.0M971.0 866.7h2.0M1007.0 881.5h2.0M1074.3 885.4h2.0M1117.4 878.3h2.0M1128.6 880.1h2.0M940.2 880.6h2.0M957.6 886.8h2.0M975.4 894.3h2.0M940.2 862.7h2.0M1007.8 883.2h2.0M1075.7 859.9h2.0M1115.0 874.9h2.0M1142.4 887.5h2.0M1189.0 843.7h2.0M1296.2 835.9h2.0" fill="none" stroke="#148544" stroke-width="2.0" clip-path="url(#clipD)"/>
<path d="M187.2 889.4 L190.7 889.6 L194.1 889.7 L197.6 889.9 L201.1 890.0 L204.5 890.2 L208.0 890.3 L211.4 890.5 L214.9 890.7 L218.4 890.9 L221.8 891.1 L225.3 891.3 L228.8 891.5 L232.2 891.7 L235.7 891.9 L239.1 892.1 L242.6 892.4 L246.1 892.6 L249.5 892.9 L253.0 893.1 L256.5 893.4 L259.9 893.7 L263.4 893.9 L266.8 894.2 L270.3 894.5 L273.8 894.8 L277.2 895.1 L280.7 895.4 L284.2 895.7 L287.6 896.0 L291.1 896.4 L294.6 896.7 L298.0 897.0 L301.5 897.4 L304.9 897.7 L308.4 898.1 L311.9 898.5 L315.3 898.8 L318.8 899.2 L322.3 899.6 L325.7 900.0 L329.2 900.4 L332.6 900.8 L336.1 901.2 L339.6 901.7 L343.0 902.1 L346.5 902.5 L350.0 903.0 L353.4 903.4 L356.9 903.9 L360.4 904.3 L363.8 904.8 L367.3 905.3 L370.7 905.8 L374.2 906.2 L377.7 906.7 L381.1 907.2 L384.6 907.7 L388.1 908.3 L391.5 908.8 L395.0 909.3 L398.4 909.8 L401.9 910.4 L405.4 910.9 L408.8 911.5 L412.3 912.1 L415.8 912.6 L419.2 913.2 L422.7 913.8 L426.1 914.4 L429.6 915.0 L433.1 915.6 L436.5 916.2 L440.0 916.8 L443.5 917.4 L446.9 918.0 L450.4 918.7 L453.9 919.3 L457.3 920.0 L460.8 920.6 L464.2 921.3 L467.7 921.9 L471.2 922.6 L474.6 923.3 L478.1 924.0 L481.6 924.7 L485.0 925.4 L488.5 926.1 L491.9 926.8 L495.4 927.5 L498.9 928.3 L502.3 929.0 L505.8 929.7 L509.3 930.5 L512.7 931.2 L516.2 932.0 L519.6 932.8 L523.1 933.5 L526.6 934.3 L530.0 935.1 L533.5 935.9 L537.0 936.7 L540.4 937.5 L543.9 938.3 L547.4 939.2 L550.8 940.0 L554.3 940.8 L557.7 941.7 L561.2 942.5 L564.7 943.4 L568.1 944.2 L571.6 945.1 L575.1 946.0 L578.5 946.9 L582.0 947.7 L585.4 948.6 L588.9 949.5 L592.4 950.5 L595.8 951.4 L599.3 952.3 L602.8 953.2 L606.2 954.2 L609.7 955.1 L613.1 956.0 L616.6 957.0 L620.1 958.0 L623.5 958.9 L627.0 959.9 L630.5 960.9 L633.9 961.9 L637.4 962.9 L640.9 963.9 L644.3 964.9 L647.8 965.9 L651.2 966.9 L654.7 967.9 L658.2 969.0 L661.6 970.0 L665.1 971.1 L668.6 972.1 L672.0 973.2 L675.5 974.3 L678.9 975.3 L682.4 976.4 L685.9 977.5 L689.3 978.6 L692.8 979.7 L696.3 980.8 L699.7 981.9 L703.2 983.1 L706.7 984.2" fill="none" stroke="#168a4e" stroke-width="5" clip-path="url(#clipC)"/><path d="M187.2 891.0 L190.7 891.2 L194.1 891.3 L197.6 891.5 L201.1 891.7 L204.5 891.9 L208.0 892.1 L211.4 892.3 L214.9 892.5 L218.4 892.7 L221.8 893.0 L225.3 893.2 L228.8 893.5 L232.2 893.8 L235.7 894.1 L239.1 894.4 L242.6 894.7 L246.1 895.0 L249.5 895.3 L253.0 895.7 L256.5 896.0 L259.9 896.4 L263.4 896.8 L266.8 897.2 L270.3 897.6 L273.8 898.0 L277.2 898.5 L280.7 898.9 L284.2 899.3 L287.6 899.8 L291.1 900.3 L294.6 900.8 L298.0 901.3 L301.5 901.8 L304.9 902.3 L308.4 902.8 L311.9 903.4 L315.3 904.0 L318.8 904.5 L322.3 905.1 L325.7 905.7 L329.2 906.3 L332.6 906.9 L336.1 907.5 L339.6 908.2 L343.0 908.8 L346.5 909.5 L350.0 910.2 L353.4 910.9 L356.9 911.6 L360.4 912.3 L363.8 913.0 L367.3 913.7 L370.7 914.5 L374.2 915.2 L377.7 916.0 L381.1 916.8 L384.6 917.6 L388.1 918.4 L391.5 919.2 L395.0 920.0 L398.4 920.8 L401.9 921.7 L405.4 922.5 L408.8 923.4 L412.3 924.3 L415.8 925.2 L419.2 926.1 L422.7 927.0 L426.1 928.0 L429.6 928.9 L433.1 929.9 L436.5 930.8 L440.0 931.8 L443.5 932.8 L446.9 933.8 L450.4 934.8 L453.9 935.8 L457.3 936.9 L460.8 937.9 L464.2 939.0 L467.7 940.0 L471.2 941.1 L474.6 942.2 L478.1 943.3 L481.6 944.4 L485.0 945.6 L488.5 946.7 L491.9 947.8 L495.4 949.0 L498.9 950.2 L502.3 951.4 L505.8 952.6 L509.3 953.8 L512.7 955.0 L516.2 956.2 L519.6 957.5 L523.1 958.7 L526.6 960.0 L530.0 961.3 L533.5 962.6 L537.0 963.9 L540.4 965.2 L543.9 966.5 L547.4 967.8 L550.8 969.2 L554.3 970.6 L557.7 971.9 L561.2 973.3 L564.7 974.7 L568.1 976.1 L571.6 977.5 L575.1 979.0 L578.5 980.4 L582.0 981.9 L585.4 983.3 L588.9 984.8 L592.4 986.3 L595.8 987.8 L599.3 989.3 L602.8 990.8 L606.2 992.4 L609.7 993.9 L613.1 995.5 L616.6 997.0 L620.1 998.6 L623.5 1000.2 L627.0 1001.8 L630.5 1003.4 L633.9 1005.1 L637.4 1006.7 L640.9 1008.4 L644.3 1010.0 L647.8 1011.7 L651.2 1013.4 L654.7 1015.1 L658.2 1016.8 L661.6 1018.5 L665.1 1020.2 L668.6 1022.0 L672.0 1023.8 L675.5 1025.5 L678.9 1027.3 L682.4 1029.1 L685.9 1030.9 L689.3 1032.7 L692.8 1034.5 L696.3 1036.4 L699.7 1038.2 L703.2 1040.1 L706.7 1042.0" fill="none" stroke="#1b6fae" stroke-width="5" clip-path="url(#clipC)"/><path d="M187.2 907.7 L190.7 909.5 L194.1 911.3 L197.6 913.2 L201.1 915.1 L204.5 917.0 L208.0 918.9 L211.4 920.9 L214.9 922.8 L218.4 924.8 L221.8 926.9 L225.3 928.9 L228.8 931.0 L232.2 933.1 L235.7 935.2 L239.1 937.4 L242.6 939.6 L246.1 941.7 L249.5 944.0 L253.0 946.2 L256.5 948.5 L259.9 950.8 L263.4 953.1 L266.8 955.4 L270.3 957.8 L273.8 960.2 L277.2 962.6 L280.7 965.0 L284.2 967.5 L287.6 970.0 L291.1 972.5 L294.6 975.0 L298.0 977.6 L301.5 980.1 L304.9 982.7 L308.4 985.4 L311.9 988.0 L315.3 990.7 L318.8 993.4 L322.3 996.1 L325.7 998.9 L329.2 1001.6 L332.6 1004.4 L336.1 1007.2 L339.6 1010.1 L343.0 1012.9 L346.5 1015.8 L350.0 1018.7 L353.4 1021.7 L356.9 1024.6 L360.4 1027.6 L363.8 1030.6 L367.3 1033.7 L370.7 1036.7 L374.2 1039.8 L377.7 1042.9 L381.1 1046.0 L384.6 1049.2 L388.1 1052.4 L391.5 1055.6 L395.0 1058.8 L398.4 1062.0 L401.9 1065.3 L405.4 1068.6 L408.8 1071.9 L412.3 1075.3 L415.8 1078.6 L419.2 1082.0 L422.7 1085.4 L426.1 1088.9 L429.6 1092.4 L433.1 1095.8 L436.5 1099.4 L440.0 1102.9 L443.5 1106.4 L446.9 1110.0 L450.4 1113.6 L453.9 1117.3 L457.3 1120.9 L460.8 1124.6 L464.2 1128.3 L467.7 1132.0 L471.2 1135.8 L474.6 1139.6 L478.1 1143.3 L481.6 1147.2 L485.0 1151.0 L488.5 1154.9 L491.9 1158.8 L495.4 1162.7 L498.9 1166.6 L502.3 1170.6 L505.8 1174.6 L509.3 1178.6 L512.7 1182.6 L516.2 1186.7 L519.6 1190.8 L523.1 1194.9 L526.6 1199.0 L530.0 1203.2 L533.5 1207.4 L537.0 1211.6 L540.4 1215.8 L543.9 1220.1 L547.4 1224.3 L550.8 1228.6 L554.3 1233.0 L557.7 1237.3 L561.2 1241.7 L564.7 1246.1 L568.1 1250.5 L571.6 1254.9 L575.1 1259.4 L578.5 1263.9 L582.0 1268.4 L585.4 1273.0 L588.9 1277.5 L592.4 1282.1 L595.8 1286.7 L599.3 1291.3 L602.8 1296.0 L606.2 1300.7 L609.7 1305.4 L613.1 1310.1 L616.6 1314.9 L620.1 1319.7 L623.5 1324.5 L627.0 1329.3 L630.5 1334.1 L633.9 1339.0 L637.4 1343.9 L640.9 1348.8 L644.3 1353.8 L647.8 1358.7 L651.2 1363.7 L654.7 1368.8 L658.2 1373.8 L661.6 1378.9 L665.1 1384.0 L668.6 1389.1 L672.0 1394.2 L675.5 1399.4 L678.9 1404.6 L682.4 1409.8 L685.9 1415.0 L689.3 1420.2 L692.8 1425.5 L696.3 1430.8 L699.7 1436.2 L703.2 1441.5 L706.7 1446.9" fill="none" stroke="#d61f2e" stroke-width="5" clip-path="url(#clipC)"/><path d="M187.2 922.0 L190.7 924.0 L194.1 926.1 L197.6 928.3 L201.1 930.5 L204.5 932.8 L208.0 935.1 L211.4 937.5 L214.9 940.0 L218.4 942.6 L221.8 945.2 L225.3 947.9 L228.8 950.6 L232.2 953.4 L235.7 956.3 L239.1 959.3 L242.6 962.3 L246.1 965.4 L249.5 968.5 L253.0 971.8 L256.5 975.0 L259.9 978.4 L263.4 981.8 L266.8 985.3 L270.3 988.8 L273.8 992.5 L277.2 996.2 L280.7 999.9 L284.2 1003.7 L287.6 1007.6 L291.1 1011.6 L294.6 1015.6 L298.0 1019.7 L301.5 1023.8 L304.9 1028.0 L308.4 1032.3 L311.9 1036.7 L315.3 1041.1 L318.8 1045.6 L322.3 1050.1 L325.7 1054.8 L329.2 1059.4 L332.6 1064.2 L336.1 1069.0 L339.6 1073.9 L343.0 1078.8 L346.5 1083.9 L350.0 1089.0 L353.4 1094.1 L356.9 1099.3 L360.4 1104.6 L363.8 1110.0 L367.3 1115.4 L370.7 1120.9 L374.2 1126.4 L377.7 1132.0 L381.1 1137.7 L384.6 1143.5 L388.1 1149.3 L391.5 1155.2 L395.0 1161.1 L398.4 1167.2 L401.9 1173.2 L405.4 1179.4 L408.8 1185.6 L412.3 1191.9 L415.8 1198.3 L419.2 1204.7 L422.7 1211.2 L426.1 1217.7 L429.6 1224.3 L433.1 1231.0 L436.5 1237.8 L440.0 1244.6 L443.5 1251.5 L446.9 1258.4 L450.4 1265.5 L453.9 1272.5 L457.3 1279.7 L460.8 1286.9 L464.2 1294.2 L467.7 1301.6 L471.2 1309.0 L474.6 1316.5 L478.1 1324.0 L481.6 1331.6 L485.0 1339.3 L488.5 1347.1 L491.9 1354.9 L495.4 1362.8 L498.9 1370.7 L502.3 1378.8 L505.8 1386.8 L509.3 1395.0 L512.7 1403.2 L516.2 1411.5 L519.6 1419.9 L523.1 1428.3 L526.6 1436.8 L530.0 1445.3 L533.5 1453.9 L537.0 1462.6 L540.4 1471.4 L543.9 1480.2 L547.4 1489.1 L550.8 1498.0 L554.3 1507.1 L557.7 1516.2 L561.2 1525.3 L564.7 1534.5 L568.1 1543.8 L571.6 1553.2 L575.1 1562.6 L578.5 1572.1 L582.0 1581.6 L585.4 1591.3 L588.9 1600.9 L592.4 1610.7 L595.8 1620.5 L599.3 1630.4 L602.8 1640.4 L606.2 1650.4 L609.7 1660.5 L613.1 1670.6 L616.6 1680.8 L620.1 1691.1 L623.5 1701.5 L627.0 1711.9 L630.5 1722.4 L633.9 1733.0 L637.4 1743.6 L640.9 1754.3 L644.3 1765.0 L647.8 1775.8 L651.2 1786.7 L654.7 1797.7 L658.2 1808.7 L661.6 1819.8 L665.1 1830.9 L668.6 1842.2 L672.0 1853.5 L675.5 1864.8 L678.9 1876.2 L682.4 1887.7 L685.9 1899.3 L689.3 1910.9 L692.8 1922.6 L696.3 1934.3 L699.7 1946.2 L703.2 1958.0 L706.7 1970.0" fill="none" stroke="#5b2c80" stroke-width="5" clip-path="url(#clipC)"/><line x1="291.2" y1="960.5" x2="578.8" y2="960.5" stroke="#231f20" stroke-width="2.4"/><path d="M429.00 944.60l0.00 -4.60M429.00 944.60l4.09 -1.33M429.00 944.60l-4.09 -1.33M429.00 944.60l3.17 4.37M429.00 944.60l-3.17 4.37M440.10 944.60l0.00 -4.60M440.10 944.60l4.09 -1.33M440.10 944.60l-4.09 -1.33M440.10 944.60l3.17 4.37M440.10 944.60l-3.17 4.37" fill="none" stroke="#231f20" stroke-width="1.8"/><line x1="282.1" y1="986.0" x2="678.7" y2="986.0" stroke="#231f20" stroke-width="2.4"/><path d="M475.00 973.00l0.00 -4.60M475.00 973.00l4.09 -1.33M475.00 973.00l-4.09 -1.33M475.00 973.00l3.17 4.37M475.00 973.00l-3.17 4.37M485.10 973.00l0.00 -4.60M485.10 973.00l4.09 -1.33M485.10 973.00l-4.09 -1.33M485.10 973.00l3.17 4.37M485.10 973.00l-3.17 4.37" fill="none" stroke="#231f20" stroke-width="1.8"/><line x1="319.3" y1="1017.4" x2="633.5" y2="1017.4" stroke="#231f20" stroke-width="2.4"/><path d="M473.90 1003.30l0.00 -4.60M473.90 1003.30l4.09 -1.33M473.90 1003.30l-4.09 -1.33M473.90 1003.30l3.17 4.37M473.90 1003.30l-3.17 4.37M484.10 1003.30l0.00 -4.60M484.10 1003.30l4.09 -1.33M484.10 1003.30l-4.09 -1.33M484.10 1003.30l3.17 4.37M484.10 1003.30l-3.17 4.37" fill="none" stroke="#231f20" stroke-width="1.8"/><line x1="445.8" y1="1231.8" x2="539.7" y2="1231.8" stroke="#231f20" stroke-width="2.4"/><path d="M487.10 1219.40l0.00 -4.60M487.10 1219.40l4.09 -1.33M487.10 1219.40l-4.09 -1.33M487.10 1219.40l3.17 4.37M487.10 1219.40l-3.17 4.37M498.10 1219.40l0.00 -4.60M498.10 1219.40l4.09 -1.33M498.10 1219.40l-4.09 -1.33M498.10 1219.40l3.17 4.37M498.10 1219.40l-3.17 4.37" fill="none" stroke="#231f20" stroke-width="1.8"/><path d="M941.2 920.3 L944.7 920.2 L948.1 920.2 L951.6 920.1 L955.0 920.1 L958.5 920.1 L961.9 920.1 L965.4 920.1 L968.8 920.1 L972.3 920.1 L975.8 920.1 L979.2 920.2 L982.7 920.2 L986.1 920.2 L989.6 920.3 L993.0 920.4 L996.5 920.4 L1000.0 920.5 L1003.4 920.6 L1006.9 920.7 L1010.3 920.8 L1013.8 920.9 L1017.2 921.0 L1020.7 921.2 L1024.1 921.3 L1027.6 921.5 L1031.1 921.6 L1034.5 921.8 L1038.0 921.9 L1041.4 922.1 L1044.9 922.3 L1048.3 922.5 L1051.8 922.7 L1055.2 922.9 L1058.7 923.1 L1062.2 923.4 L1065.6 923.6 L1069.1 923.8 L1072.5 924.1 L1076.0 924.3 L1079.4 924.6 L1082.9 924.9 L1086.4 925.2 L1089.8 925.5 L1093.3 925.8 L1096.7 926.1 L1100.2 926.4 L1103.6 926.7 L1107.1 927.1 L1110.5 927.4 L1114.0 927.8 L1117.5 928.1 L1120.9 928.5 L1124.4 928.9 L1127.8 929.2 L1131.3 929.6 L1134.7 930.0 L1138.2 930.4 L1141.6 930.8 L1145.1 931.3 L1148.6 931.7 L1152.0 932.1 L1155.5 932.6 L1158.9 933.0 L1162.4 933.5 L1165.8 934.0 L1169.3 934.5 L1172.8 935.0 L1176.2 935.5 L1179.7 936.0 L1183.1 936.5 L1186.6 937.0 L1190.0 937.5 L1193.5 938.1 L1196.9 938.6 L1200.4 939.2 L1203.9 939.7 L1207.3 940.3 L1210.8 940.9 L1214.2 941.5 L1217.7 942.1 L1221.1 942.7 L1224.6 943.3 L1228.0 943.9 L1231.5 944.5 L1235.0 945.2 L1238.4 945.8 L1241.9 946.5 L1245.3 947.1 L1248.8 947.8 L1252.2 948.5 L1255.7 949.2 L1259.2 949.9 L1262.6 950.6 L1266.1 951.3 L1269.5 952.0 L1273.0 952.7 L1276.4 953.4 L1279.9 954.2 L1283.3 954.9 L1286.8 955.7 L1290.3 956.5 L1293.7 957.2 L1297.2 958.0 L1300.6 958.8 L1304.1 959.6 L1307.5 960.4 L1311.0 961.2 L1314.4 962.1 L1317.9 962.9 L1321.4 963.7 L1324.8 964.6 L1328.3 965.5 L1331.7 966.3 L1335.2 967.2 L1338.6 968.1 L1342.1 969.0 L1345.6 969.9 L1349.0 970.8 L1352.5 971.7 L1355.9 972.6 L1359.4 973.5 L1362.8 974.5 L1366.3 975.4 L1369.7 976.4 L1373.2 977.4 L1376.7 978.3 L1380.1 979.3 L1383.6 980.3 L1387.0 981.3 L1390.5 982.3 L1393.9 983.3 L1397.4 984.3 L1400.8 985.4 L1404.3 986.4 L1407.8 987.5 L1411.2 988.5 L1414.7 989.6 L1418.1 990.6 L1421.6 991.7 L1425.0 992.8 L1428.5 993.9 L1432.0 995.0 L1435.4 996.1 L1438.9 997.2 L1442.3 998.4 L1445.8 999.5 L1449.2 1000.6 L1452.7 1001.8 L1456.1 1003.0 L1459.6 1004.1" fill="none" stroke="#168a4e" stroke-width="5" clip-path="url(#clipD)"/><path d="M941.2 920.3 L944.7 920.5 L948.1 920.7 L951.6 920.9 L955.0 921.1 L958.5 921.3 L961.9 921.5 L965.4 921.8 L968.8 922.0 L972.3 922.3 L975.8 922.6 L979.2 922.9 L982.7 923.2 L986.1 923.5 L989.6 923.8 L993.0 924.1 L996.5 924.4 L1000.0 924.8 L1003.4 925.1 L1006.9 925.5 L1010.3 925.8 L1013.8 926.2 L1017.2 926.6 L1020.7 927.0 L1024.1 927.4 L1027.6 927.8 L1031.1 928.2 L1034.5 928.6 L1038.0 929.1 L1041.4 929.5 L1044.9 930.0 L1048.3 930.5 L1051.8 930.9 L1055.2 931.4 L1058.7 931.9 L1062.2 932.4 L1065.6 932.9 L1069.1 933.5 L1072.5 934.0 L1076.0 934.5 L1079.4 935.1 L1082.9 935.7 L1086.4 936.2 L1089.8 936.8 L1093.3 937.4 L1096.7 938.0 L1100.2 938.6 L1103.6 939.2 L1107.1 939.9 L1110.5 940.5 L1114.0 941.1 L1117.5 941.8 L1120.9 942.5 L1124.4 943.1 L1127.8 943.8 L1131.3 944.5 L1134.7 945.2 L1138.2 945.9 L1141.6 946.6 L1145.1 947.4 L1148.6 948.1 L1152.0 948.9 L1155.5 949.6 L1158.9 950.4 L1162.4 951.2 L1165.8 952.0 L1169.3 952.8 L1172.8 953.6 L1176.2 954.4 L1179.7 955.2 L1183.1 956.0 L1186.6 956.9 L1190.0 957.7 L1193.5 958.6 L1196.9 959.5 L1200.4 960.3 L1203.9 961.2 L1207.3 962.1 L1210.8 963.0 L1214.2 963.9 L1217.7 964.9 L1221.1 965.8 L1224.6 966.8 L1228.0 967.7 L1231.5 968.7 L1235.0 969.6 L1238.4 970.6 L1241.9 971.6 L1245.3 972.6 L1248.8 973.6 L1252.2 974.6 L1255.7 975.7 L1259.2 976.7 L1262.6 977.8 L1266.1 978.8 L1269.5 979.9 L1273.0 981.0 L1276.4 982.0 L1279.9 983.1 L1283.3 984.2 L1286.8 985.4 L1290.3 986.5 L1293.7 987.6 L1297.2 988.8 L1300.6 989.9 L1304.1 991.1 L1307.5 992.2 L1311.0 993.4 L1314.4 994.6 L1317.9 995.8 L1321.4 997.0 L1324.8 998.2 L1328.3 999.4 L1331.7 1000.7 L1335.2 1001.9 L1338.6 1003.2 L1342.1 1004.4 L1345.6 1005.7 L1349.0 1007.0 L1352.5 1008.3 L1355.9 1009.6 L1359.4 1010.9 L1362.8 1012.2 L1366.3 1013.5 L1369.7 1014.9 L1373.2 1016.2 L1376.7 1017.6 L1380.1 1018.9 L1383.6 1020.3 L1387.0 1021.7 L1390.5 1023.1 L1393.9 1024.5 L1397.4 1025.9 L1400.8 1027.3 L1404.3 1028.8 L1407.8 1030.2 L1411.2 1031.7 L1414.7 1033.1 L1418.1 1034.6 L1421.6 1036.1 L1425.0 1037.5 L1428.5 1039.0 L1432.0 1040.5 L1435.4 1042.1 L1438.9 1043.6 L1442.3 1045.1 L1445.8 1046.7 L1449.2 1048.2 L1452.7 1049.8 L1456.1 1051.3 L1459.6 1052.9" fill="none" stroke="#1b6fae" stroke-width="5" clip-path="url(#clipD)"/><path d="M941.2 942.0 L944.7 943.4 L948.1 944.8 L951.6 946.2 L955.0 947.6 L958.5 949.1 L961.9 950.6 L965.4 952.0 L968.8 953.5 L972.3 955.0 L975.8 956.6 L979.2 958.1 L982.7 959.6 L986.1 961.2 L989.6 962.8 L993.0 964.4 L996.5 966.0 L1000.0 967.6 L1003.4 969.2 L1006.9 970.9 L1010.3 972.5 L1013.8 974.2 L1017.2 975.9 L1020.7 977.6 L1024.1 979.3 L1027.6 981.1 L1031.1 982.8 L1034.5 984.6 L1038.0 986.3 L1041.4 988.1 L1044.9 989.9 L1048.3 991.7 L1051.8 993.6 L1055.2 995.4 L1058.7 997.2 L1062.2 999.1 L1065.6 1001.0 L1069.1 1002.9 L1072.5 1004.8 L1076.0 1006.7 L1079.4 1008.7 L1082.9 1010.6 L1086.4 1012.6 L1089.8 1014.6 L1093.3 1016.5 L1096.7 1018.6 L1100.2 1020.6 L1103.6 1022.6 L1107.1 1024.7 L1110.5 1026.7 L1114.0 1028.8 L1117.5 1030.9 L1120.9 1033.0 L1124.4 1035.1 L1127.8 1037.2 L1131.3 1039.4 L1134.7 1041.5 L1138.2 1043.7 L1141.6 1045.9 L1145.1 1048.1 L1148.6 1050.3 L1152.0 1052.5 L1155.5 1054.8 L1158.9 1057.0 L1162.4 1059.3 L1165.8 1061.6 L1169.3 1063.9 L1172.8 1066.2 L1176.2 1068.5 L1179.7 1070.8 L1183.1 1073.2 L1186.6 1075.6 L1190.0 1077.9 L1193.5 1080.3 L1196.9 1082.7 L1200.4 1085.1 L1203.9 1087.6 L1207.3 1090.0 L1210.8 1092.5 L1214.2 1095.0 L1217.7 1097.5 L1221.1 1100.0 L1224.6 1102.5 L1228.0 1105.0 L1231.5 1107.6 L1235.0 1110.1 L1238.4 1112.7 L1241.9 1115.3 L1245.3 1117.9 L1248.8 1120.5 L1252.2 1123.1 L1255.7 1125.7 L1259.2 1128.4 L1262.6 1131.1 L1266.1 1133.8 L1269.5 1136.4 L1273.0 1139.2 L1276.4 1141.9 L1279.9 1144.6 L1283.3 1147.4 L1286.8 1150.1 L1290.3 1152.9 L1293.7 1155.7 L1297.2 1158.5 L1300.6 1161.3 L1304.1 1164.2 L1307.5 1167.0 L1311.0 1169.9 L1314.4 1172.8 L1317.9 1175.6 L1321.4 1178.5 L1324.8 1181.5 L1328.3 1184.4 L1331.7 1187.3 L1335.2 1190.3 L1338.6 1193.3 L1342.1 1196.3 L1345.6 1199.3 L1349.0 1202.3 L1352.5 1205.3 L1355.9 1208.3 L1359.4 1211.4 L1362.8 1214.5 L1366.3 1217.5 L1369.7 1220.6 L1373.2 1223.7 L1376.7 1226.9 L1380.1 1230.0 L1383.6 1233.2 L1387.0 1236.3 L1390.5 1239.5 L1393.9 1242.7 L1397.4 1245.9 L1400.8 1249.1 L1404.3 1252.4 L1407.8 1255.6 L1411.2 1258.9 L1414.7 1262.1 L1418.1 1265.4 L1421.6 1268.7 L1425.0 1272.1 L1428.5 1275.4 L1432.0 1278.7 L1435.4 1282.1 L1438.9 1285.5 L1442.3 1288.8 L1445.8 1292.2 L1449.2 1295.7 L1452.7 1299.1 L1456.1 1302.5 L1459.6 1306.0" fill="none" stroke="#d61f2e" stroke-width="5" clip-path="url(#clipD)"/><path d="M941.2 951.9 L944.7 953.3 L948.1 954.9 L951.6 956.4 L955.0 958.0 L958.5 959.7 L961.9 961.4 L965.4 963.1 L968.8 964.9 L972.3 966.8 L975.8 968.7 L979.2 970.6 L982.7 972.6 L986.1 974.6 L989.6 976.7 L993.0 978.9 L996.5 981.0 L1000.0 983.3 L1003.4 985.6 L1006.9 987.9 L1010.3 990.3 L1013.8 992.7 L1017.2 995.2 L1020.7 997.7 L1024.1 1000.3 L1027.6 1002.9 L1031.1 1005.5 L1034.5 1008.3 L1038.0 1011.0 L1041.4 1013.8 L1044.9 1016.7 L1048.3 1019.6 L1051.8 1022.6 L1055.2 1025.6 L1058.7 1028.6 L1062.2 1031.7 L1065.6 1034.9 L1069.1 1038.1 L1072.5 1041.3 L1076.0 1044.6 L1079.4 1047.9 L1082.9 1051.3 L1086.4 1054.8 L1089.8 1058.3 L1093.3 1061.8 L1096.7 1065.4 L1100.2 1069.0 L1103.6 1072.7 L1107.1 1076.4 L1110.5 1080.2 L1114.0 1084.0 L1117.5 1087.9 L1120.9 1091.8 L1124.4 1095.8 L1127.8 1099.8 L1131.3 1103.9 L1134.7 1108.0 L1138.2 1112.2 L1141.6 1116.4 L1145.1 1120.6 L1148.6 1125.0 L1152.0 1129.3 L1155.5 1133.7 L1158.9 1138.2 L1162.4 1142.7 L1165.8 1147.2 L1169.3 1151.8 L1172.8 1156.5 L1176.2 1161.2 L1179.7 1165.9 L1183.1 1170.7 L1186.6 1175.5 L1190.0 1180.4 L1193.5 1185.4 L1196.9 1190.3 L1200.4 1195.4 L1203.9 1200.5 L1207.3 1205.6 L1210.8 1210.8 L1214.2 1216.0 L1217.7 1221.3 L1221.1 1226.6 L1224.6 1232.0 L1228.0 1237.4 L1231.5 1242.8 L1235.0 1248.4 L1238.4 1253.9 L1241.9 1259.5 L1245.3 1265.2 L1248.8 1270.9 L1252.2 1276.7 L1255.7 1282.5 L1259.2 1288.3 L1262.6 1294.2 L1266.1 1300.2 L1269.5 1306.2 L1273.0 1312.2 L1276.4 1318.3 L1279.9 1324.5 L1283.3 1330.7 L1286.8 1336.9 L1290.3 1343.2 L1293.7 1349.5 L1297.2 1355.9 L1300.6 1362.3 L1304.1 1368.8 L1307.5 1375.3 L1311.0 1381.9 L1314.4 1388.5 L1317.9 1395.2 L1321.4 1401.9 L1324.8 1408.7 L1328.3 1415.5 L1331.7 1422.4 L1335.2 1429.3 L1338.6 1436.3 L1342.1 1443.3 L1345.6 1450.4 L1349.0 1457.5 L1352.5 1464.6 L1355.9 1471.8 L1359.4 1479.1 L1362.8 1486.4 L1366.3 1493.7 L1369.7 1501.1 L1373.2 1508.6 L1376.7 1516.1 L1380.1 1523.6 L1383.6 1531.2 L1387.0 1538.9 L1390.5 1546.5 L1393.9 1554.3 L1397.4 1562.1 L1400.8 1569.9 L1404.3 1577.8 L1407.8 1585.7 L1411.2 1593.7 L1414.7 1601.7 L1418.1 1609.8 L1421.6 1617.9 L1425.0 1626.1 L1428.5 1634.3 L1432.0 1642.6 L1435.4 1650.9 L1438.9 1659.3 L1442.3 1667.7 L1445.8 1676.1 L1449.2 1684.6 L1452.7 1693.2 L1456.1 1701.8 L1459.6 1710.5" fill="none" stroke="#5b2c80" stroke-width="5" clip-path="url(#clipD)"/><line x1="1082.7" y1="1022.9" x2="1446.8" y2="1022.9" stroke="#231f20" stroke-width="2.4"/><path d="M1255.10 1006.20l0.00 -4.60M1255.10 1006.20l4.09 -1.33M1255.10 1006.20l-4.09 -1.33M1255.10 1006.20l3.17 4.37M1255.10 1006.20l-3.17 4.37M1265.10 1006.20l0.00 -4.60M1265.10 1006.20l4.09 -1.33M1265.10 1006.20l-4.09 -1.33M1265.10 1006.20l3.17 4.37M1265.10 1006.20l-3.17 4.37M1275.20 1006.20l0.00 -4.60M1275.20 1006.20l4.09 -1.33M1275.20 1006.20l-4.09 -1.33M1275.20 1006.20l3.17 4.37M1275.20 1006.20l-3.17 4.37" fill="none" stroke="#231f20" stroke-width="1.8"/><line x1="1107.6" y1="1047.3" x2="1422.4" y2="1047.3" stroke="#231f20" stroke-width="2.4"/><path d="M1260.10 1035.70l0.00 -4.60M1260.10 1035.70l4.09 -1.33M1260.10 1035.70l-4.09 -1.33M1260.10 1035.70l3.17 4.37M1260.10 1035.70l-3.17 4.37M1270.10 1035.70l0.00 -4.60M1270.10 1035.70l4.09 -1.33M1270.10 1035.70l-4.09 -1.33M1270.10 1035.70l3.17 4.37M1270.10 1035.70l-3.17 4.37" fill="none" stroke="#231f20" stroke-width="1.8"/><line x1="1249.5" y1="1236.2" x2="1364.0" y2="1236.2" stroke="#231f20" stroke-width="2.4"/><path d="M1302.00 1224.50l0.00 -4.60M1302.00 1224.50l4.09 -1.33M1302.00 1224.50l-4.09 -1.33M1302.00 1224.50l3.17 4.37M1302.00 1224.50l-3.17 4.37M1312.10 1224.50l0.00 -4.60M1312.10 1224.50l4.09 -1.33M1312.10 1224.50l-4.09 -1.33M1312.10 1224.50l3.17 4.37M1312.10 1224.50l-3.17 4.37" fill="none" stroke="#231f20" stroke-width="1.8"/>
<path d="M152.1 107.0 V569.6 H724.5" fill="none" stroke="#4d4d4d" stroke-width="2.0"/><line x1="149.1" y1="548.8" x2="152.1" y2="548.8" stroke="#4d4d4d" stroke-width="1.2"/><line x1="149.1" y1="436.5" x2="152.1" y2="436.5" stroke="#4d4d4d" stroke-width="1.2"/><line x1="149.1" y1="324.3" x2="152.1" y2="324.3" stroke="#4d4d4d" stroke-width="1.2"/><line x1="149.1" y1="212.0" x2="152.1" y2="212.0" stroke="#4d4d4d" stroke-width="1.2"/><line x1="222.4" y1="569.6" x2="222.4" y2="572.6" stroke="#4d4d4d" stroke-width="1.2"/><line x1="366.6" y1="569.6" x2="366.6" y2="572.6" stroke="#4d4d4d" stroke-width="1.2"/><line x1="510.1" y1="569.6" x2="510.1" y2="572.6" stroke="#4d4d4d" stroke-width="1.2"/><line x1="644.8" y1="569.6" x2="644.8" y2="572.6" stroke="#4d4d4d" stroke-width="1.2"/><path d="M921.4 108.6 V571.4 H1494.0" fill="none" stroke="#231f20" stroke-width="1.4"/><line x1="918.4" y1="521.3" x2="921.4" y2="521.3" stroke="#231f20" stroke-width="1.2"/><line x1="918.4" y1="393.9" x2="921.4" y2="393.9" stroke="#231f20" stroke-width="1.2"/><line x1="918.4" y1="266.5" x2="921.4" y2="266.5" stroke="#231f20" stroke-width="1.2"/><line x1="918.4" y1="139.1" x2="921.4" y2="139.1" stroke="#231f20" stroke-width="1.2"/><path d="M161.7 825.0 V1287.3 H732.0" fill="none" stroke="#231f20" stroke-width="1.5"/><line x1="158.7" y1="1266.6" x2="161.7" y2="1266.6" stroke="#231f20" stroke-width="1.2"/><line x1="158.7" y1="1126.4" x2="161.7" y2="1126.4" stroke="#231f20" stroke-width="1.2"/><line x1="158.7" y1="986.2" x2="161.7" y2="986.2" stroke="#231f20" stroke-width="1.2"/><line x1="158.7" y1="846.0" x2="161.7" y2="846.0" stroke="#231f20" stroke-width="1.2"/><line x1="187.2" y1="1287.3" x2="187.2" y2="1290.3" stroke="#231f20" stroke-width="1.2"/><line x1="360.4" y1="1287.3" x2="360.4" y2="1290.3" stroke="#231f20" stroke-width="1.2"/><line x1="533.5" y1="1287.3" x2="533.5" y2="1290.3" stroke="#231f20" stroke-width="1.2"/><line x1="706.7" y1="1287.3" x2="706.7" y2="1290.3" stroke="#231f20" stroke-width="1.2"/><path d="M915.1 823.5 V1285.7 H1485.5" fill="none" stroke="#4a4a4a" stroke-width="1.6"/><line x1="912.1" y1="1263.8" x2="915.1" y2="1263.8" stroke="#4a4a4a" stroke-width="1.2"/><line x1="912.1" y1="1134.5" x2="915.1" y2="1134.5" stroke="#4a4a4a" stroke-width="1.2"/><line x1="912.1" y1="1005.3" x2="915.1" y2="1005.3" stroke="#4a4a4a" stroke-width="1.2"/><line x1="912.1" y1="876.0" x2="915.1" y2="876.0" stroke="#4a4a4a" stroke-width="1.2"/><line x1="941.2" y1="1285.7" x2="941.2" y2="1288.7" stroke="#4a4a4a" stroke-width="1.2"/><line x1="1114.0" y1="1285.7" x2="1114.0" y2="1288.7" stroke="#4a4a4a" stroke-width="1.2"/><line x1="1286.8" y1="1285.7" x2="1286.8" y2="1288.7" stroke="#4a4a4a" stroke-width="1.2"/><line x1="1459.6" y1="1285.7" x2="1459.6" y2="1288.7" stroke="#4a4a4a" stroke-width="1.2"/>
<text transform="matrix(0.45606 0.00000 0.00000 0.46479 355.51 33.64)" font-size="100" font-weight="bold" fill="#231f20">MMSE</text><text transform="matrix(0.45301 0.00000 0.00000 0.47042 1119.83 33.83)" font-size="100" font-weight="bold" fill="#231f20">PACC</text><text transform="matrix(0.46939 0.00000 0.00000 0.46809 54.69 96.17)" font-size="100" font-weight="bold" fill="#231f20">A)</text><text transform="matrix(0.45532 0.00000 0.00000 0.46383 847.91 98.06)" font-size="100" font-weight="bold" fill="#231f20">B)</text><text transform="matrix(0.45567 0.00000 0.00000 0.45745 64.88 805.49)" font-size="100" font-weight="bold" fill="#231f20">C)</text><text transform="matrix(0.45532 0.00000 0.00000 0.46489 855.01 787.04)" font-size="100" font-weight="bold" fill="#231f20">D)</text><text transform="matrix(0.00000 -0.45561 0.45000 0.00000 32.85 452.69)" font-size="100" font-weight="bold" fill="#231f20">Baseline</text><text transform="matrix(0.00000 -0.45683 0.45638 0.00000 33.32 1203.40)" font-size="100" font-weight="bold" fill="#231f20">Longitudinal</text><text transform="matrix(0.34286 0.00000 0.00000 0.33617 346.56 1374.64)" font-size="100" font-weight="bold" fill="#231f20">Time (years)</text><text transform="matrix(0.34286 0.00000 0.00000 0.34681 1099.26 1377.02)" font-size="100" font-weight="bold" fill="#231f20">Time (years)</text><text x="0" y="0" transform="translate(145.0 557.3) scale(1.000 1)" font-size="32" text-anchor="end" fill="#231f20">0</text><text x="0" y="0" transform="translate(145.0 445.0) scale(1.000 1)" font-size="32" text-anchor="end" fill="#231f20">10</text><text x="0" y="0" transform="translate(145.0 332.8) scale(1.000 1)" font-size="32" text-anchor="end" fill="#231f20">20</text><text x="0" y="0" transform="translate(145.0 220.5) scale(1.000 1)" font-size="32" text-anchor="end" fill="#231f20">30</text><text transform="translate(142.5 681.8) rotate(-45) scale(0.34 0.36)" font-size="100" fill="#231f20">AD&#8211;LB&#8211;</text><text transform="translate(283.4 681.8) rotate(-45) scale(0.34 0.36)" font-size="100" fill="#231f20">AD&#8211;LB+</text><text transform="translate(426.1 682.3) rotate(-45) scale(0.34 0.36)" font-size="100" fill="#231f20">AD+LB&#8211;</text><text transform="translate(567.9 682.3) rotate(-45) scale(0.34 0.36)" font-size="100" fill="#231f20">AD+LB+</text><path d="M570.00 116.80l0.00 -4.60M570.00 116.80l4.09 -1.33M570.00 116.80l-4.09 -1.33M570.00 116.80l3.17 4.37M570.00 116.80l-3.17 4.37M580.10 116.80l0.00 -4.60M580.10 116.80l4.09 -1.33M580.10 116.80l-4.09 -1.33M580.10 116.80l3.17 4.37M580.10 116.80l-3.17 4.37" fill="none" stroke="#231f20" stroke-width="1.75"/><path d="M496.40 139.20l0.00 -4.60M496.40 139.20l4.09 -1.33M496.40 139.20l-4.09 -1.33M496.40 139.20l3.17 4.37M496.40 139.20l-3.17 4.37M506.60 139.20l0.00 -4.60M506.60 139.20l4.09 -1.33M506.60 139.20l-4.09 -1.33M506.60 139.20l3.17 4.37M506.60 139.20l-3.17 4.37M516.80 139.20l0.00 -4.60M516.80 139.20l4.09 -1.33M516.80 139.20l-4.09 -1.33M516.80 139.20l3.17 4.37M516.80 139.20l-3.17 4.37" fill="none" stroke="#231f20" stroke-width="1.75"/><path d="M428.00 162.00l0.00 -4.60M428.00 162.00l4.09 -1.33M428.00 162.00l-4.09 -1.33M428.00 162.00l3.17 4.37M428.00 162.00l-3.17 4.37M438.40 162.00l0.00 -4.60M438.40 162.00l4.09 -1.33M438.40 162.00l-4.09 -1.33M438.40 162.00l3.17 4.37M438.40 162.00l-3.17 4.37M448.80 162.00l0.00 -4.60M448.80 162.00l4.09 -1.33M448.80 162.00l-4.09 -1.33M448.80 162.00l3.17 4.37M448.80 162.00l-3.17 4.37" fill="none" stroke="#231f20" stroke-width="1.75"/><path d="M360.10 184.10l0.00 -4.60M360.10 184.10l4.09 -1.33M360.10 184.10l-4.09 -1.33M360.10 184.10l3.17 4.37M360.10 184.10l-3.17 4.37M370.30 184.10l0.00 -4.60M370.30 184.10l4.09 -1.33M370.30 184.10l-4.09 -1.33M370.30 184.10l3.17 4.37M370.30 184.10l-3.17 4.37M380.60 184.10l0.00 -4.60M380.60 184.10l4.09 -1.33M380.60 184.10l-4.09 -1.33M380.60 184.10l3.17 4.37M380.60 184.10l-3.17 4.37" fill="none" stroke="#231f20" stroke-width="1.75"/><text x="0" y="0" transform="translate(913.1 529.9) scale(1.000 1)" font-size="35" text-anchor="end" fill="#231f20">-4</text><text x="0" y="0" transform="translate(913.1 402.5) scale(1.000 1)" font-size="35" text-anchor="end" fill="#231f20">-2</text><text x="0" y="0" transform="translate(913.1 275.1) scale(1.000 1)" font-size="35" text-anchor="end" fill="#231f20">0</text><text x="0" y="0" transform="translate(913.1 147.7) scale(1.000 1)" font-size="35" text-anchor="end" fill="#231f20">2</text><text transform="translate(918.3 682.8) rotate(-45) scale(0.34 0.36)" font-size="100" fill="#231f20">AD&#8211;LB&#8211;</text><text transform="translate(1060.1 682.8) rotate(-45) scale(0.34 0.36)" font-size="100" fill="#231f20">AD&#8211;LB+</text><text transform="translate(1202.3 682.8) rotate(-45) scale(0.34 0.36)" font-size="100" fill="#231f20">AD+LB&#8211;</text><text transform="translate(1344.5 682.8) rotate(-45) scale(0.34 0.36)" font-size="100" fill="#231f20">AD+LB+</text><path d="M1343.60 116.60l0.00 -4.60M1343.60 116.60l4.09 -1.33M1343.60 116.60l-4.09 -1.33M1343.60 116.60l3.17 4.37M1343.60 116.60l-3.17 4.37" fill="none" stroke="#231f20" stroke-width="1.6"/><path d="M1265.50 136.00l0.00 -4.60M1265.50 136.00l4.09 -1.33M1265.50 136.00l-4.09 -1.33M1265.50 136.00l3.17 4.37M1265.50 136.00l-3.17 4.37M1275.50 136.00l0.00 -4.60M1275.50 136.00l4.09 -1.33M1275.50 136.00l-4.09 -1.33M1275.50 136.00l3.17 4.37M1275.50 136.00l-3.17 4.37M1285.50 136.00l0.00 -4.60M1285.50 136.00l4.09 -1.33M1285.50 136.00l-4.09 -1.33M1285.50 136.00l3.17 4.37M1285.50 136.00l-3.17 4.37" fill="none" stroke="#231f20" stroke-width="1.6"/><path d="M1197.10 155.60l0.00 -4.60M1197.10 155.60l4.09 -1.33M1197.10 155.60l-4.09 -1.33M1197.10 155.60l3.17 4.37M1197.10 155.60l-3.17 4.37M1207.10 155.60l0.00 -4.60M1207.10 155.60l4.09 -1.33M1207.10 155.60l-4.09 -1.33M1207.10 155.60l3.17 4.37M1207.10 155.60l-3.17 4.37M1217.10 155.60l0.00 -4.60M1217.10 155.60l4.09 -1.33M1217.10 155.60l-4.09 -1.33M1217.10 155.60l3.17 4.37M1217.10 155.60l-3.17 4.37" fill="none" stroke="#231f20" stroke-width="1.6"/><path d="M1197.10 175.30l0.00 -4.60M1197.10 175.30l4.09 -1.33M1197.10 175.30l-4.09 -1.33M1197.10 175.30l3.17 4.37M1197.10 175.30l-3.17 4.37M1207.10 175.30l0.00 -4.60M1207.10 175.30l4.09 -1.33M1207.10 175.30l-4.09 -1.33M1207.10 175.30l3.17 4.37M1207.10 175.30l-3.17 4.37M1217.10 175.30l0.00 -4.60M1217.10 175.30l4.09 -1.33M1217.10 175.30l-4.09 -1.33M1217.10 175.30l3.17 4.37M1217.10 175.30l-3.17 4.37" fill="none" stroke="#231f20" stroke-width="1.6"/><path d="M1128.70 195.20l0.00 -4.60M1128.70 195.20l4.09 -1.33M1128.70 195.20l-4.09 -1.33M1128.70 195.20l3.17 4.37M1128.70 195.20l-3.17 4.37M1138.70 195.20l0.00 -4.60M1138.70 195.20l4.09 -1.33M1138.70 195.20l-4.09 -1.33M1138.70 195.20l3.17 4.37M1138.70 195.20l-3.17 4.37M1148.70 195.20l0.00 -4.60M1148.70 195.20l4.09 -1.33M1148.70 195.20l-4.09 -1.33M1148.70 195.20l3.17 4.37M1148.70 195.20l-3.17 4.37" fill="none" stroke="#231f20" stroke-width="1.6"/><text x="0" y="0" transform="translate(151.0 1276.2) scale(1.000 1)" font-size="32" text-anchor="end" fill="#231f20">0</text><text x="0" y="0" transform="translate(151.0 1136.0) scale(1.000 1)" font-size="32" text-anchor="end" fill="#231f20">10</text><text x="0" y="0" transform="translate(151.0 995.8) scale(1.000 1)" font-size="32" text-anchor="end" fill="#231f20">20</text><text x="0" y="0" transform="translate(151.0 855.6) scale(1.000 1)" font-size="32" text-anchor="end" fill="#231f20">30</text><text x="0" y="0" transform="translate(187.2 1322.0) scale(1.000 1)" font-size="35" text-anchor="middle" fill="#231f20">0</text><text x="0" y="0" transform="translate(360.4 1322.0) scale(1.000 1)" font-size="35" text-anchor="middle" fill="#231f20">5</text><text x="0" y="0" transform="translate(533.5 1322.0) scale(1.000 1)" font-size="35" text-anchor="middle" fill="#231f20">10</text><text x="0" y="0" transform="translate(706.7 1322.0) scale(1.000 1)" font-size="35" text-anchor="middle" fill="#231f20">15</text><text x="0" y="0" transform="translate(908.2 1272.7) scale(1.000 1)" font-size="35.5" text-anchor="end" fill="#231f20">-6</text><text x="0" y="0" transform="translate(908.2 1143.4) scale(1.000 1)" font-size="35.5" text-anchor="end" fill="#231f20">-4</text><text x="0" y="0" transform="translate(908.2 1014.2) scale(1.000 1)" font-size="35.5" text-anchor="end" fill="#231f20">-2</text><text x="0" y="0" transform="translate(908.2 884.9) scale(1.000 1)" font-size="35.5" text-anchor="end" fill="#231f20">0</text><text x="0" y="0" transform="translate(941.2 1324.2) scale(1.000 1)" font-size="35.5" text-anchor="middle" fill="#231f20">0</text><text x="0" y="0" transform="translate(1114.0 1324.2) scale(1.000 1)" font-size="35.5" text-anchor="middle" fill="#231f20">5</text><text x="0" y="0" transform="translate(1286.8 1324.2) scale(1.000 1)" font-size="35.5" text-anchor="middle" fill="#231f20">10</text><text x="0" y="0" transform="translate(1459.6 1324.2) scale(1.000 1)" font-size="35.5" text-anchor="middle" fill="#231f20">15</text>
</svg></body></html>
